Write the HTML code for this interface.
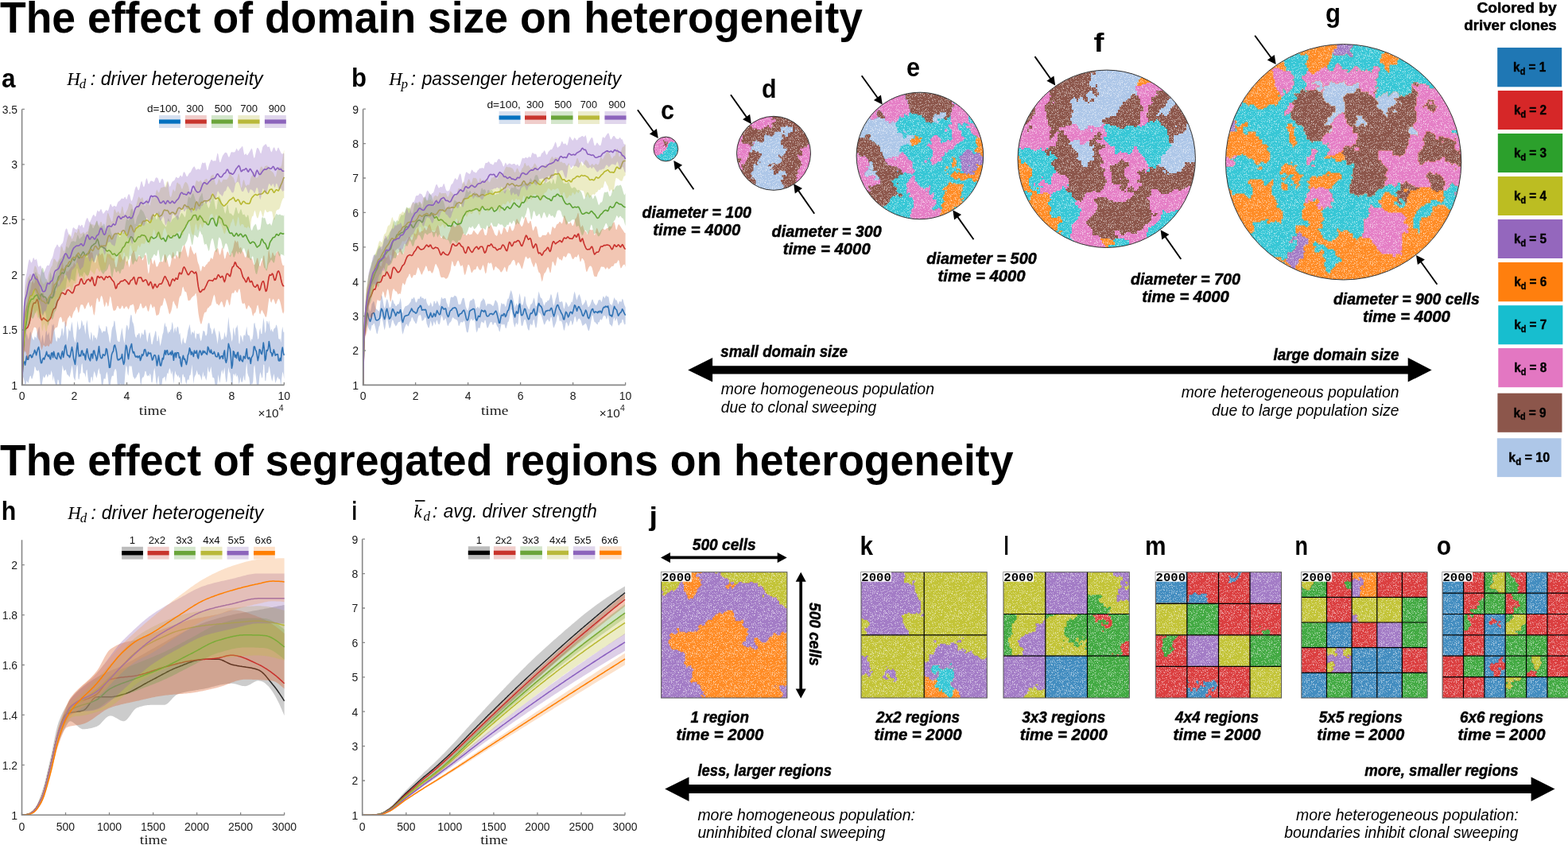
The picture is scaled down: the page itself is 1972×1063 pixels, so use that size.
<!DOCTYPE html>
<html><head><meta charset="utf-8"><title>The effect of domain size on heterogeneity</title>
<style>
html,body{margin:0;padding:0;background:#fff;}
body{width:1972px;height:1063px;overflow:hidden;}
svg{display:block;}
svg{font-family:'Liberation Sans', Arial, sans-serif;}
</style></head><body>
<svg width="1972" height="1063" viewBox="0 0 1972 1063">
<rect width="1972" height="1063" fill="#fff"/>
<defs>
<clipPath id="pc0"><rect x="27.6" y="135.4" width="330.7" height="349"/></clipPath>
<clipPath id="pc1"><rect x="456.6" y="135.2" width="331" height="349.2"/></clipPath>
<clipPath id="pc2"><rect x="27.5" y="677.2" width="331.1" height="348"/></clipPath>
<clipPath id="pc3"><rect x="455.7" y="676.2" width="331.3" height="349.2"/></clipPath>
<pattern id="spk" width="47" height="47" patternUnits="userSpaceOnUse"><path d="M31,37.5h1M1,37.5h1M22,24.5h1M29,13.5h1M46,2.5h1M13,18.5h1M26,19.5h1M6,2.5h1M0,2.5h1M6,46.5h1M8,30.5h1M35,11.5h1M13,20.5h1M12,45.5h1M8,42.5h1M37,39.5h1M5,18.5h1M29,23.5h1M31,31.5h1M31,2.5h1M45,26.5h1M42,12.5h1M16,41.5h1M8,3.5h1M17,31.5h1M5,40.5h1M16,10.5h1M25,42.5h1M41,40.5h1M14,0.5h1M36,33.5h1M36,0.5h1M1,23.5h1M15,20.5h1M43,9.5h1M24,15.5h1M13,37.5h1M7,14.5h1M5,7.5h1M13,32.5h1M27,21.5h1M7,37.5h1M37,11.5h1M2,15.5h1M6,37.5h1M24,23.5h1M13,23.5h1M45,11.5h1M36,0.5h1M14,43.5h1M40,4.5h1M39,39.5h1M21,17.5h1M46,44.5h1M31,18.5h1M9,44.5h1M12,26.5h1M31,11.5h1M14,34.5h1M9,31.5h1M44,32.5h1M30,21.5h1M45,10.5h1M16,30.5h1M30,5.5h1M7,32.5h1M39,29.5h1M43,17.5h1M15,37.5h1M1,9.5h1M9,18.5h1M7,37.5h1M39,17.5h1M1,33.5h1M5,28.5h1M8,44.5h1M31,46.5h1M28,34.5h1M17,38.5h1M5,7.5h1M16,33.5h1M22,39.5h1M44,18.5h1M19,26.5h1M30,22.5h1M28,45.5h1M34,14.5h1M19,18.5h1M7,0.5h1M37,19.5h1M16,29.5h1M26,43.5h1M28,43.5h1M27,15.5h1M15,46.5h1M27,8.5h1M39,38.5h1M0,7.5h1M32,19.5h1M16,3.5h1M8,40.5h1M39,38.5h1M26,6.5h1M15,24.5h1M46,12.5h1M25,23.5h1M23,26.5h1M33,4.5h1M46,40.5h1M36,13.5h1M20,21.5h1M14,2.5h1M34,0.5h1M35,9.5h1M30,16.5h1M11,43.5h1M22,41.5h1M8,22.5h1M16,21.5h1M0,31.5h1M16,40.5h1M10,15.5h1M2,37.5h1M25,18.5h1M43,27.5h1M45,34.5h1M27,23.5h1M9,32.5h1M37,32.5h1M19,0.5h1M34,1.5h1M37,7.5h1M14,10.5h1M25,9.5h1M12,2.5h1M46,10.5h1M9,28.5h1M6,41.5h1M36,16.5h1M18,17.5h1M34,19.5h1M13,31.5h1M6,36.5h1M20,44.5h1M12,17.5h1M40,33.5h1M1,16.5h1M0,38.5h1M19,10.5h1M34,40.5h1M4,23.5h1M17,34.5h1M43,25.5h1M35,14.5h1M27,23.5h1M34,2.5h1M11,2.5h1M46,24.5h1M22,22.5h1M1,39.5h1M39,0.5h1M29,26.5h1M17,23.5h1M41,28.5h1M22,34.5h1M32,24.5h1M38,26.5h1M29,23.5h1M27,28.5h1M42,11.5h1M17,25.5h1M15,31.5h1M38,8.5h1M2,46.5h1M23,35.5h1M35,44.5h1M1,13.5h1M46,20.5h1M18,12.5h1M0,2.5h1M45,0.5h1M6,11.5h1M13,40.5h1M15,7.5h1M18,32.5h1M21,11.5h1M5,3.5h1M23,9.5h1M27,31.5h1M17,23.5h1M2,25.5h1M8,21.5h1M5,12.5h1M19,22.5h1M1,43.5h1M19,9.5h1M9,34.5h1M20,11.5h1M21,9.5h1M7,15.5h1M45,4.5h1M25,43.5h1M21,17.5h1M26,8.5h1M32,0.5h1M26,2.5h1M1,10.5h1M33,19.5h1M19,28.5h1M3,46.5h1M22,41.5h1M35,11.5h1M14,28.5h1M39,43.5h1M22,4.5h1M46,40.5h1M33,18.5h1M6,36.5h1M9,15.5h1M40,29.5h1M14,23.5h1M28,4.5h1M12,35.5h1M29,38.5h1M34,22.5h1M14,18.5h1M9,44.5h1M1,17.5h1M3,41.5h1M30,19.5h1M37,17.5h1M21,16.5h1M35,2.5h1M25,13.5h1M45,10.5h1M18,2.5h1M23,25.5h1M35,20.5h1M11,1.5h1M42,7.5h1M36,43.5h1M15,6.5h1M32,17.5h1M1,44.5h1M42,5.5h1M34,19.5h1M3,37.5h1M40,0.5h1M4,3.5h1M45,43.5h1M39,32.5h1M4,12.5h1M24,22.5h1M4,11.5h1M32,41.5h1M5,44.5h1M14,3.5h1M43,24.5h1M31,8.5h1M42,19.5h1M17,34.5h1M35,33.5h1M10,8.5h1M26,15.5h1M1,19.5h1M36,18.5h1M19,32.5h1M45,37.5h1M6,15.5h1M25,20.5h1M10,3.5h1M30,17.5h1M14,44.5h1M38,23.5h1M42,26.5h1M43,28.5h1M16,26.5h1M32,37.5h1M45,12.5h1M4,14.5h1M27,41.5h1M42,23.5h1M2,45.5h1M10,6.5h1M10,36.5h1M25,22.5h1M16,22.5h1M33,41.5h1M44,6.5h1M34,24.5h1M17,11.5h1M3,16.5h1M10,38.5h1M41,18.5h1M18,36.5h1M7,0.5h1M9,46.5h1M20,44.5h1M1,31.5h1M12,9.5h1M29,30.5h1M36,8.5h1M39,17.5h1M2,1.5h1M4,3.5h1M30,7.5h1M24,8.5h1M35,39.5h1M39,11.5h1M20,38.5h1M38,0.5h1M31,2.5h1M29,2.5h1M27,43.5h1M19,38.5h1M13,0.5h1M24,43.5h1M33,10.5h1M12,12.5h1M26,27.5h1M27,9.5h1M34,45.5h1M9,17.5h1M21,26.5h1M41,26.5h1M45,13.5h1M30,34.5h1M39,46.5h1M22,27.5h1M34,3.5h1M34,37.5h1M26,31.5h1M37,23.5h1M3,30.5h1M28,12.5h1M20,14.5h1M5,24.5h1M19,3.5h1M13,27.5h1M2,8.5h1M12,11.5h1M46,42.5h1M15,27.5h1M20,11.5h1M7,32.5h1M33,46.5h1M16,42.5h1M43,37.5h1M38,15.5h1M28,27.5h1M19,27.5h1M21,4.5h1M20,32.5h1M39,24.5h1M0,24.5h1M17,34.5h1M31,3.5h1M44,9.5h1M24,46.5h1M4,14.5h1M37,11.5h1M30,3.5h1M6,14.5h1M23,26.5h1M21,1.5h1M27,13.5h1M20,12.5h1M1,7.5h1M16,37.5h1M38,45.5h1M13,43.5h1M19,20.5h1M10,3.5h1M36,16.5h1M31,24.5h1M21,17.5h1M5,34.5h1M41,34.5h1M22,42.5h1M46,22.5h1M6,11.5h1M31,42.5h1M21,41.5h1M4,5.5h1M22,9.5h1M14,31.5h1M43,38.5h1M11,45.5h1M0,0.5h1M40,8.5h1M38,19.5h1M26,25.5h1M26,36.5h1M33,26.5h1M39,24.5h1M4,11.5h1M0,30.5h1M11,27.5h1M3,44.5h1M38,8.5h1M26,5.5h1M32,16.5h1M26,15.5h1M24,21.5h1M17,8.5h1M10,33.5h1M41,38.5h1M28,0.5h1M37,42.5h1M14,4.5h1M10,14.5h1M17,22.5h1M16,19.5h1M17,10.5h1M29,34.5h1M27,39.5h1M7,10.5h1M7,7.5h1M13,24.5h1M9,6.5h1M0,44.5h1M14,40.5h1M28,39.5h1M1,19.5h1M36,36.5h1M9,18.5h1M44,21.5h1M36,4.5h1M31,1.5h1M31,31.5h1M8,9.5h1M11,44.5h1M43,26.5h1M42,27.5h1M28,42.5h1M16,13.5h1M28,0.5h1M16,10.5h1M0,21.5h1M25,7.5h1M26,13.5h1M7,34.5h1M21,17.5h1M44,16.5h1M40,10.5h1M29,24.5h1M7,46.5h1M45,7.5h1M16,39.5h1M4,36.5h1M13,28.5h1M23,25.5h1M13,24.5h1M24,4.5h1M34,26.5h1M22,46.5h1M11,34.5h1M8,21.5h1M41,20.5h1M20,40.5h1M14,0.5h1M1,9.5h1M26,45.5h1M45,30.5h1M13,38.5h1M17,25.5h1M37,1.5h1M24,25.5h1M11,29.5h1M33,4.5h1M44,22.5h1M32,44.5h1M39,2.5h1M23,2.5h1M46,4.5h1M5,32.5h1M18,41.5h1M14,7.5h1M23,39.5h1M28,10.5h1M34,25.5h1M29,35.5h1M34,5.5h1M3,22.5h1M18,40.5h1M9,16.5h1M10,37.5h1M15,21.5h1M36,44.5h1M6,18.5h1M37,38.5h1M37,3.5h1M31,15.5h1M9,6.5h1M45,18.5h1M32,19.5h1M43,11.5h1M41,19.5h1M39,32.5h1M30,27.5h1M4,11.5h1M5,33.5h1M7,33.5h1M0,19.5h1M36,21.5h1M45,8.5h1M18,39.5h1M31,16.5h1M19,13.5h1M36,43.5h1M26,14.5h1M0,9.5h1M40,17.5h1M44,24.5h1M35,28.5h1M33,18.5h1M22,32.5h1M18,1.5h1M11,43.5h1M8,21.5h1M22,21.5h1M30,20.5h1M39,12.5h1M26,38.5h1M45,21.5h1M37,4.5h1M27,16.5h1M40,22.5h1M20,16.5h1M15,4.5h1M22,41.5h1M24,7.5h1M40,34.5h1M1,19.5h1M30,23.5h1M16,31.5h1M44,0.5h1M15,23.5h1M6,21.5h1M20,20.5h1M30,0.5h1M21,0.5h1M32,23.5h1M9,21.5h1M43,15.5h1M13,5.5h1M23,17.5h1M44,31.5h1M23,38.5h1M36,35.5h1M31,0.5h1M0,15.5h1M28,22.5h1M30,38.5h1M33,26.5h1M39,37.5h1M45,32.5h1M33,3.5h1M42,46.5h1M46,26.5h1" stroke="#fff" stroke-width="1" stroke-opacity="0.38"/></pattern>
<clipPath id="cc"><circle cx="837.4" cy="187.5" r="15.4"/></clipPath>
<clipPath id="cd"><circle cx="973" cy="192.8" r="46.5"/></clipPath>
<clipPath id="ce"><circle cx="1156.9" cy="196" r="79.8"/></clipPath>
<clipPath id="cf"><circle cx="1391.7" cy="199.8" r="111.7"/></clipPath>
<clipPath id="cg"><circle cx="1689.6" cy="203.8" r="148.2"/></clipPath>
<clipPath id="sj"><rect x="831.6" y="719.7" width="158.3" height="158.3"/></clipPath>
<clipPath id="sk"><rect x="1083" y="719.7" width="158.3" height="158.3"/></clipPath>
<clipPath id="sl"><rect x="1262" y="719.7" width="158.3" height="158.3"/></clipPath>
<clipPath id="sm"><rect x="1453.3" y="719.7" width="158.3" height="158.3"/></clipPath>
<clipPath id="sn"><rect x="1636.8" y="719.7" width="158.3" height="158.3"/></clipPath>
<clipPath id="so"><rect x="1814.1" y="719.7" width="158.3" height="158.3"/></clipPath>
</defs>
<text x="0" y="40.6" font-size="54.6" font-weight="bold" textLength="1085" lengthAdjust="spacingAndGlyphs">The effect of domain size on heterogeneity</text>
<text x="0" y="597.9" font-size="54.6" font-weight="bold" textLength="1274.5" lengthAdjust="spacingAndGlyphs">The effect of segregated regions on heterogeneity</text>
<text x="2" y="109.5" font-size="33" font-weight="bold" textLength="17.5" lengthAdjust="spacingAndGlyphs">a</text>
<text x="442" y="109" font-size="33" font-weight="bold" textLength="19" lengthAdjust="spacingAndGlyphs">b</text>
<text x="831" y="149.7" font-size="33" font-weight="bold" textLength="17" lengthAdjust="spacingAndGlyphs">c</text>
<text x="958" y="122.6" font-size="33" font-weight="bold" textLength="18.5" lengthAdjust="spacingAndGlyphs">d</text>
<text x="1140" y="95.8" font-size="33" font-weight="bold" textLength="17" lengthAdjust="spacingAndGlyphs">e</text>
<text x="1375.5" y="65" font-size="33" font-weight="bold" textLength="13" lengthAdjust="spacingAndGlyphs">f</text>
<text x="1667" y="28" font-size="33" font-weight="bold" textLength="19" lengthAdjust="spacingAndGlyphs">g</text>
<text x="1.8" y="654.3" font-size="33" font-weight="bold" textLength="18.5" lengthAdjust="spacingAndGlyphs">h</text>
<text x="442.6" y="653.9" font-size="33" font-weight="bold" textLength="6.5" lengthAdjust="spacingAndGlyphs">i</text>
<text x="816.6" y="661" font-size="33" font-weight="bold" textLength="10.5" lengthAdjust="spacingAndGlyphs">j</text>
<text x="1081.5" y="697.7" font-size="33" font-weight="bold" textLength="16.5" lengthAdjust="spacingAndGlyphs">k</text>
<text x="1262.4" y="697.6" font-size="33" font-weight="bold" textLength="6.3" lengthAdjust="spacingAndGlyphs">l</text>
<text x="1440" y="697.6" font-size="33" font-weight="bold" textLength="26.5" lengthAdjust="spacingAndGlyphs">m</text>
<text x="1628.6" y="697.6" font-size="33" font-weight="bold" textLength="16.5" lengthAdjust="spacingAndGlyphs">n</text>
<text x="1806.7" y="697.6" font-size="33" font-weight="bold" textLength="18.3" lengthAdjust="spacingAndGlyphs">o</text>
<g clip-path="url(#pc0)">
<polygon points="27.6,484.4 28.6,455.7 29.6,444.8 30.6,438.5 31.6,431.8 32.6,423 33.6,418.9 34.6,423.3 35.6,427.4 36.6,423.5 37.6,418.7 38.6,417 39.6,421.2 40.6,425.3 41.6,426.7 42.6,428.1 43.6,423.3 44.6,424.1 45.6,426.1 46.6,418.7 47.6,416.4 48.6,412.6 49.6,410.8 50.6,424.3 51.6,431.5 52.6,425 53.6,420.7 54.6,427.2 55.6,433.1 56.6,426 57.6,417.8 58.6,415.5 59.6,422 60.6,420.4 61.6,417.4 62.6,426.4 63.6,429.9 64.6,417.8 65.6,407.4 66.6,409.9 67.6,407.1 68.6,416 69.6,423.7 70.6,429 71.6,429.7 72.6,424.3 73.6,424.9 74.6,426.3 75.6,423.8 76.6,421.4 77.6,413.3 78.6,413.2 79.6,423.1 80.6,416 81.6,405.8 82.6,404.7 83.5,418.5 84.5,429.8 85.5,422.6 86.5,412.9 87.5,416.3 88.5,416.7 89.5,409.5 90.5,404.6 91.5,412.3 92.5,423.5 93.5,427.2 94.5,431.6 95.5,425 96.5,415.3 97.5,403.3 98.5,410.4 99.5,415.3 100.5,413.8 101.5,412.2 102.5,402.6 103.5,404.7 104.5,410.4 105.5,407.8 106.5,414.6 107.5,420.7 108.5,407.8 109.5,402.3 110.5,411.7 111.5,419.8 112.5,425.1 113.5,428.1 114.5,417.2 115.5,420.1 116.5,430.1 117.5,421.2 118.5,422.1 119.5,425.5 120.5,424 121.5,427.8 122.5,423.6 123.5,417.7 124.5,407.9 125.5,412.8 126.5,413.4 127.5,416.2 128.5,419.2 129.5,416.8 130.5,416.6 131.5,416.7 132.5,417.1 133.5,410 134.5,411.1 135.5,417.9 136.5,421.5 137.5,428.7 138.5,432 139.5,424.7 140.5,415.5 141.5,411.6 142.5,409.9 143.5,403.3 144.5,404.6 145.5,413.8 146.5,419.7 147.5,427.9 148.5,429.4 149.5,430.1 150.5,429.9 151.5,422.3 152.5,417 153.5,412 154.5,420.7 155.5,427.2 156.5,432.2 157.5,424.1 158.5,412.3 159.5,408.5 160.5,410.2 161.5,415.7 162.5,411.5 163.5,400.8 164.5,396 165.5,396.6 166.5,404.8 167.5,406.5 168.5,410.5 169.5,419.6 170.5,423.8 171.5,425 172.5,421.1 173.5,421.3 174.5,419.1 175.5,419.6 176.5,426.4 177.5,421.9 178.5,418.1 179.5,421 180.5,421.2 181.5,415.1 182.5,414.6 183.5,418.4 184.5,427.1 185.5,430.9 186.5,423.2 187.5,418.9 188.5,418.1 189.5,424.4 190.5,432.9 191.5,433.3 192.4,428.5 193.4,424.3 194.4,421 195.4,415.9 196.4,417.6 197.4,429.2 198.4,428.9 199.4,421.2 200.4,427.7 201.4,435.4 202.4,431.8 203.4,426.7 204.4,420.9 205.4,418.1 206.4,410.2 207.4,405.6 208.4,411.1 209.4,410.6 210.4,416 211.4,420 212.4,417.1 213.4,418 214.4,415.1 215.4,414.1 216.4,404.8 217.4,408.1 218.4,419.4 219.4,413.8 220.4,411.7 221.4,418.1 222.4,412.3 223.4,410.4 224.4,412.7 225.4,421.2 226.4,418.4 227.4,427.7 228.4,434.1 229.4,428.3 230.4,424.3 231.4,430.6 232.4,431.8 233.4,432 234.4,427.3 235.4,422.3 236.4,415.4 237.4,412.5 238.4,407.7 239.4,413.2 240.4,421.9 241.4,417.3 242.4,417.8 243.4,419.7 244.4,415 245.4,424.6 246.4,427.1 247.4,419.3 248.4,419.9 249.4,420.4 250.4,418.4 251.4,424.8 252.4,429.3 253.4,427.5 254.4,421.8 255.4,415.7 256.4,416.6 257.4,416.8 258.4,422.1 259.4,422.5 260.4,419.5 261.4,407.8 262.4,406.1 263.4,406.7 264.4,412.6 265.4,413.7 266.4,420.4 267.4,419.4 268.4,415.1 269.4,411.9 270.4,416.2 271.4,420 272.4,424.6 273.4,433.1 274.4,426.5 275.4,415.8 276.4,418.1 277.4,423.4 278.4,428.3 279.4,426 280.4,427.2 281.4,424.7 282.4,417.5 283.4,423 284.4,425 285.4,420.5 286.4,409.6 287.4,398.5 288.4,410.1 289.4,416.7 290.4,420.9 291.4,430.1 292.4,426.8 293.4,411.5 294.4,416.8 295.4,423.1 296.4,412.8 297.4,412.1 298.4,408.6 299.4,416.1 300.4,431.6 301.4,433 302.4,421.6 303.3,422.8 304.3,426 305.3,430.6 306.3,422.3 307.3,421 308.3,423.1 309.3,416.5 310.3,410.5 311.3,420.3 312.3,422.1 313.3,421.8 314.3,424.6 315.3,430.4 316.3,425.9 317.3,427.4 318.3,420.8 319.3,407.2 320.3,405.7 321.3,411.6 322.3,413.9 323.3,419.2 324.3,427 325.3,425.7 326.3,416 327.3,412.5 328.3,419.7 329.3,420.2 330.3,409.8 331.3,399.4 332.3,405.9 333.3,419.5 334.3,416.1 335.3,403.7 336.3,404.1 337.3,408.6 338.3,402.9 339.3,409.8 340.3,417.1 341.3,413.5 342.3,416.2 343.3,418.1 344.3,414 345.3,412.7 346.3,412.3 347.3,408.2 348.3,409.9 349.3,415.1 350.3,425.8 351.3,426.9 352.3,425.7 353.3,431.2 354.3,416.9 355.3,410.8 356.3,417.7 357.3,417.8 357.3,476.8 356.3,470.5 355.3,467.4 354.3,475.9 353.3,485.9 352.3,477.7 351.3,476.5 350.3,476.6 349.3,473.5 348.3,476.3 347.3,479.4 346.3,481.9 345.3,474.3 344.3,470 343.3,475.4 342.3,480 341.3,475.7 340.3,471.1 339.3,464 338.3,460.2 337.3,468.1 336.3,469.3 335.3,468.9 334.3,479.1 333.3,479.1 332.3,459 331.3,458.6 330.3,473.7 329.3,476.1 328.3,471.3 327.3,468 326.3,473.7 325.3,486.4 324.3,493.9 323.3,488.5 322.3,478.1 321.3,469.8 320.3,459 319.3,461.8 318.3,479.4 317.3,483.3 316.3,482.5 315.3,491.5 314.3,482.9 313.3,475.1 312.3,472.7 311.3,469.2 310.3,455.6 309.3,464.6 308.3,479.1 307.3,477.8 306.3,471.9 305.3,478.9 304.3,481.2 303.3,480 302.4,474.3 301.4,480.5 300.4,483.4 299.4,475.2 298.4,471.4 297.4,474.4 296.4,468.9 295.4,473.4 294.4,470.3 293.4,470.7 292.4,486.4 291.4,488.9 290.4,477.3 289.4,469.4 288.4,468.1 287.4,461.8 286.4,470.5 285.4,480.1 284.4,480.9 283.4,474.2 282.4,462 281.4,466.7 280.4,471 279.4,465 278.4,468 277.4,475.1 276.4,481.9 275.4,476.6 274.4,471 273.4,481.7 272.4,486.9 271.4,487.8 270.4,483.6 269.4,476 268.4,475.1 267.4,475.1 266.4,469.9 265.4,460.9 264.4,465 263.4,468.8 262.4,466.9 261.4,461.1 260.4,473.1 259.4,478.8 258.4,475.9 257.4,471.7 256.4,474.7 255.4,467.3 254.4,473.4 253.4,478.8 252.4,473.9 251.4,472.3 250.4,470.4 249.4,471.8 248.4,468.7 247.4,465.6 246.4,470.7 245.4,472.4 244.4,474.7 243.4,482.9 242.4,470.5 241.4,458.6 240.4,467.4 239.4,471.9 238.4,472.3 237.4,478.5 236.4,477 235.4,478.6 234.4,483.6 233.4,480.3 232.4,474.3 231.4,474.4 230.4,470.4 229.4,471.6 228.4,482.5 227.4,482.3 226.4,474.3 225.4,475.5 224.4,471.6 223.4,474.2 222.4,471.5 221.4,471.1 220.4,466.2 219.4,472.7 218.4,483 217.4,473.7 216.4,466.6 215.4,471.7 214.4,465.9 213.4,463 212.4,465.7 211.4,470.4 210.4,469.1 209.4,474.3 208.4,480.6 207.4,473.4 206.4,474.4 205.4,475.8 204.4,476.1 203.4,484.7 202.4,492.7 201.4,492.8 200.4,482.5 199.4,472.3 198.4,475.9 197.4,484.5 196.4,480.9 195.4,471 194.4,462.8 193.4,466.5 192.4,475.6 191.5,481.3 190.5,480.9 189.5,472.1 188.5,469.5 187.5,473.7 186.5,471.8 185.5,473.5 184.5,471.8 183.5,467.2 182.5,466.8 181.5,471.7 180.5,474.4 179.5,474.5 178.5,476.6 177.5,484.4 176.5,481.5 175.5,470.6 174.5,468.1 173.5,470.6 172.5,471.8 171.5,474.4 170.5,475.3 169.5,477.3 168.5,475 167.5,474 166.5,468 165.5,459.8 164.5,461.8 163.5,459.6 162.5,461.6 161.5,472.7 160.5,470.5 159.5,462.1 158.5,459.4 157.5,469.1 156.5,482.6 155.5,488.5 154.5,487.1 153.5,482.4 152.5,486.6 151.5,482 150.5,484.8 149.5,490 148.5,490.8 147.5,481.7 146.5,466.9 145.5,464 144.5,464.8 143.5,467.8 142.5,473.2 141.5,472.6 140.5,473.7 139.5,477.9 138.5,485.6 137.5,490.8 136.5,481.9 135.5,472.3 134.5,467.6 133.5,470.4 132.5,477.1 131.5,476.2 130.5,476.6 129.5,483.5 128.5,489.9 127.5,481.3 126.5,470.8 125.5,469.9 124.5,463 123.5,465.8 122.5,471 121.5,475.8 120.5,472.7 119.5,469.4 118.5,466.7 117.5,471.4 116.5,480.4 115.5,473.8 114.5,474.5 113.5,481.6 112.5,481.3 111.5,480.7 110.5,474.5 109.5,464.9 108.5,466 107.5,475 106.5,469.7 105.5,469.4 104.5,468.5 103.5,456.9 102.5,458.8 101.5,469.3 100.5,470.3 99.5,477.6 98.5,476.5 97.5,459 96.5,461.3 95.5,469.2 94.5,479 93.5,477.1 92.5,474.2 91.5,465 90.5,459.3 89.5,465.4 88.5,470 87.5,474.7 86.5,472.9 85.5,471.6 84.5,471.5 83.5,468.1 82.6,464.7 81.6,465.8 80.6,466.8 79.6,464.1 78.6,459.3 77.6,471.8 76.6,487.9 75.6,488.3 74.6,484.4 73.6,478.1 72.6,477.6 71.6,486.3 70.6,486.3 69.6,482.9 68.6,478.7 67.6,472.5 66.6,479.5 65.6,470.1 64.6,466.1 63.6,471.1 62.6,472.2 61.6,470.3 60.6,472.9 59.6,475.1 58.6,470.4 57.6,471.7 56.6,474.4 55.6,475.5 54.6,473 53.6,478.1 52.6,484.6 51.6,488.4 50.6,481.9 49.6,469.5 48.6,465.1 47.6,467 46.6,466.1 45.6,466.2 44.6,462 43.6,460.9 42.6,469.4 41.6,472.7 40.6,476.5 39.6,476.5 38.6,472.6 37.6,473.5 36.6,477.2 35.6,482.1 34.6,480.7 33.6,478.4 32.6,483 31.6,485.9 30.6,479.2 29.6,475.5 28.6,472.9 27.6,484.4" fill="#3a5fb0" fill-opacity="0.3"/>
<polyline points="27.6,484.4 28.6,462.5 29.6,456.4 30.6,455 31.6,459.1 32.6,453.5 33.6,448 34.6,452.2 35.6,452.3 36.6,447.9 37.6,446.8 38.6,446.5 39.6,449.8 40.6,449.2 41.6,445.6 42.6,444.4 43.6,440.4 44.6,442.5 45.6,446.7 46.6,442.6 47.6,438.8 48.6,436.6 49.6,441.4 50.6,451.2 51.6,456.7 52.6,456.4 53.6,451.9 54.6,450.3 55.6,452.2 56.6,449.1 57.6,446.4 58.6,442.4 59.6,446.9 60.6,448.3 61.6,446.3 62.6,450.4 63.6,452 64.6,444.3 65.6,443.9 66.6,449.7 67.6,442.3 68.6,446.4 69.6,449.9 70.6,450.6 71.6,451.6 72.6,444.5 73.6,444 74.6,448.1 75.6,449.9 76.6,451.7 77.6,444.7 78.6,441.8 79.6,449.5 80.6,444.6 81.6,436 82.6,434 83.5,439.8 84.5,446.1 85.5,447.4 86.5,447.4 87.5,449.6 88.5,447.1 89.5,441.3 90.5,436.6 91.5,442 92.5,450.7 93.5,454.5 94.5,458.5 95.5,448.8 96.5,438.5 97.5,431.3 98.5,442.9 99.5,448.4 100.5,446.6 101.5,448 102.5,441.5 103.5,441.1 104.5,446.9 105.5,444.9 106.5,447.5 107.5,452.7 108.5,443.2 109.5,438.9 110.5,444.8 111.5,449.8 112.5,452 113.5,453.9 114.5,445.6 115.5,445.3 116.5,450.8 117.5,441.5 118.5,441 119.5,446 120.5,447.9 121.5,453.6 122.5,450.7 123.5,442.8 124.5,435.7 125.5,445.7 126.5,449.4 127.5,450.7 128.5,450.2 129.5,445.8 130.5,446.4 131.5,447.4 132.5,445.7 133.5,438.6 134.5,439.8 135.5,446.6 136.5,452.7 137.5,462.5 138.5,462.1 139.5,453.5 140.5,446 141.5,443.2 142.5,441.7 143.5,435.1 144.5,434 145.5,437.9 146.5,442.6 147.5,451 148.5,453.1 149.5,452 150.5,452.5 151.5,450.6 152.5,450.6 153.5,445.6 154.5,453.6 155.5,458.4 156.5,455.4 157.5,442.2 158.5,434.2 159.5,436.9 160.5,445.5 161.5,451.6 162.5,444.4 163.5,438.8 164.5,435.5 165.5,432.6 166.5,440.8 167.5,444 168.5,442.6 169.5,446.6 170.5,448.9 171.5,449 172.5,447.9 173.5,450 174.5,448.4 175.5,447.7 176.5,453.5 177.5,450.8 178.5,445.8 179.5,447.5 180.5,445.3 181.5,439.9 182.5,439.6 183.5,443 184.5,447.9 185.5,447.7 186.5,443 187.5,444.9 188.5,444.5 189.5,444 190.5,448.9 191.5,453 192.4,451.8 193.4,447.9 194.4,446.6 195.4,447.2 196.4,451.4 197.4,460 198.4,455.2 199.4,447 200.4,452.3 201.4,459.5 202.4,460.1 203.4,455.7 204.4,450.5 205.4,451.9 206.4,445.4 207.4,440.9 208.4,446.2 209.4,441.1 210.4,440.6 211.4,446 212.4,445.9 213.4,445.2 214.4,443.2 215.4,446.4 216.4,441.3 217.4,445.2 218.4,453.3 219.4,445.1 220.4,443.8 221.4,449.7 222.4,443.6 223.4,443.7 224.4,443.9 225.4,450.1 226.4,449.1 227.4,457.6 228.4,461 229.4,451.4 230.4,447.2 231.4,452.2 232.4,451.3 233.4,455 234.4,458.6 235.4,454 236.4,446.5 237.4,444.6 238.4,437.8 239.4,440.4 240.4,446.2 241.4,442.7 242.4,445.2 243.4,448.4 244.4,441.1 245.4,444.1 246.4,444.1 247.4,441.1 248.4,448.7 249.4,450.9 250.4,444 251.4,441 252.4,442.5 253.4,446.6 254.4,445.4 255.4,441.2 256.4,443.7 257.4,441.9 258.4,443.8 259.4,445.1 260.4,445.9 261.4,436.4 262.4,438.1 263.4,441.9 264.4,443.7 265.4,440.1 266.4,444.3 267.4,445.2 268.4,444.8 269.4,442.4 270.4,445.4 271.4,448.5 272.4,448.7 273.4,448.8 274.4,443.7 275.4,446.5 276.4,451.5 277.4,449.5 278.4,448 279.4,447.7 280.4,451.3 281.4,444.4 282.4,440.9 283.4,452.9 284.4,456.2 285.4,452 286.4,442.6 287.4,432.4 288.4,436.3 289.4,439.3 290.4,449.5 291.4,463.3 292.4,459 293.4,441.9 294.4,442.8 295.4,449.2 296.4,446.6 297.4,450.6 298.4,444 299.4,443.2 300.4,452.6 301.4,454 302.4,447.2 303.3,452.4 304.3,453.9 305.3,454.8 306.3,448.3 307.3,448.9 308.3,451.1 309.3,444.2 310.3,438.7 311.3,450.1 312.3,451.6 313.3,449.5 314.3,451.1 315.3,457.4 316.3,449.8 317.3,448.4 318.3,446 319.3,436 320.3,436 321.3,440.4 322.3,441.6 323.3,447.3 324.3,453.7 325.3,449 326.3,439.6 327.3,440.1 328.3,444.4 329.3,445.6 330.3,439.7 331.3,431 332.3,438.4 333.3,453.8 334.3,451.4 335.3,440.5 336.3,441.3 337.3,438.8 338.3,429.5 339.3,435.5 340.3,443.2 341.3,443.7 342.3,448 343.3,445.1 344.3,439.9 345.3,443.1 346.3,447.2 347.3,446.2 348.3,445.6 349.3,445.7 350.3,453.5 351.3,454.1 352.3,450.5 353.3,453.8 354.3,441.7 355.3,437 356.3,444 357.3,447" fill="none" stroke="#2f72b4" stroke-width="1.6" stroke-linejoin="round"/>
<polygon points="27.6,484.4 28.6,451.8 29.6,420.9 30.6,399.6 31.6,390.7 32.6,388.8 33.6,384.9 34.6,380.9 35.6,375 36.6,368.5 37.6,366.2 38.6,364.1 39.6,358 40.6,353.3 41.6,354.4 42.6,356.9 43.6,355.2 44.6,350.7 45.6,347.3 46.6,347 47.6,348.2 48.6,352.2 49.6,358.6 50.6,365.8 51.6,370.4 52.6,370.5 53.6,368.6 54.6,368.3 55.6,371.8 56.6,375.5 57.6,377 58.6,377.1 59.6,375.9 60.6,375.7 61.6,379.1 62.6,379.5 63.6,372 64.6,362.1 65.6,355.8 66.6,353.2 67.6,354.9 68.6,360.5 69.6,365.7 70.6,366.2 71.6,360.1 72.6,355.8 73.6,358.1 74.6,358.9 75.6,352.4 76.6,341.1 77.6,331 78.6,327.9 79.6,334.7 80.6,346.2 81.6,351 82.6,345.9 83.5,340.9 84.5,341.4 85.5,341.8 86.5,340.2 87.5,338.9 88.5,337.7 89.5,336.1 90.5,335.5 91.5,334.9 92.5,331.9 93.5,329.9 94.5,332.4 95.5,333 96.5,327.7 97.5,323 98.5,323.3 99.5,324.5 100.5,323.1 101.5,320.7 102.5,320.7 103.5,322.4 104.5,323.6 105.5,322.9 106.5,321.3 107.5,321.8 108.5,323.2 109.5,324.1 110.5,323.1 111.5,316.5 112.5,312.7 113.5,316.4 114.5,318.3 115.5,316.7 116.5,318.8 117.5,324.8 118.5,329.1 119.5,331.1 120.5,329.7 121.5,324.8 122.5,321.5 123.5,320 124.5,318.3 125.5,319.8 126.5,321.2 127.5,319.2 128.5,318.4 129.5,319.8 130.5,324 131.5,330 132.5,330.7 133.5,324.8 134.5,319.7 135.5,318.7 136.5,319.8 137.5,319.9 138.5,319.8 139.5,321.7 140.5,323.9 141.5,325 142.5,324.8 143.5,325.5 144.5,330.7 145.5,336 146.5,335.9 147.5,331 148.5,325.3 149.5,321.1 150.5,319 151.5,320.4 152.5,323.3 153.5,325.5 154.5,327.2 155.5,325.2 156.5,321.8 157.5,323.5 158.5,328.9 159.5,329.2 160.5,327.3 161.5,332 162.5,336.6 163.5,332.8 164.5,325 165.5,320 166.5,318 167.5,315.5 168.5,315.1 169.5,318.9 170.5,324.4 171.5,327.5 172.5,325.9 173.5,323.3 174.5,322.2 175.5,322.1 176.5,322.5 177.5,323.4 178.5,326.1 179.5,327.7 180.5,325.4 181.5,321.7 182.5,320.4 183.5,321 184.5,326.4 185.5,337.3 186.5,344.6 187.5,342.4 188.5,332.8 189.5,325.2 190.5,325.4 191.5,330.7 192.4,332.8 193.4,328.4 194.4,326.4 195.4,330.8 196.4,335.2 197.4,335.8 198.4,334.7 199.4,332.3 200.4,329.7 201.4,329.3 202.4,329.5 203.4,329 204.4,329.7 205.4,328.1 206.4,322.7 207.4,319.4 208.4,321 209.4,324.5 210.4,327.5 211.4,331.5 212.4,335.4 213.4,335.7 214.4,333.1 215.4,327.7 216.4,321.3 217.4,316.8 218.4,318.6 219.4,325.4 220.4,326 221.4,321 222.4,320.6 223.4,323.7 224.4,321.9 225.4,316.9 226.4,316.6 227.4,317.5 228.4,316.4 229.4,314.6 230.4,310.9 231.4,308 232.4,309.1 233.4,312.7 234.4,316.9 235.4,321.1 236.4,324.1 237.4,321 238.4,313.2 239.4,309.1 240.4,310.7 241.4,314.4 242.4,316.6 243.4,319 244.4,320.3 245.4,318.3 246.4,317.4 247.4,321.9 248.4,328.5 249.4,331.4 250.4,333.7 251.4,338.4 252.4,341.5 253.4,339.4 254.4,335 255.4,334.5 256.4,336.1 257.4,336.1 258.4,334.3 259.4,332.7 260.4,332.3 261.4,330.3 262.4,329.2 263.4,329.1 264.4,326.2 265.4,323.9 266.4,325.3 267.4,326.2 268.4,322.2 269.4,317.3 270.4,315.3 271.4,314.7 272.4,313.9 273.4,312.1 274.4,312.9 275.4,317.9 276.4,321 277.4,319.1 278.4,314.4 279.4,310.9 280.4,313.3 281.4,320.4 282.4,325.7 283.4,325 284.4,320.7 285.4,317.2 286.4,316.2 287.4,318.1 288.4,320.8 289.4,321.6 290.4,319.7 291.4,316.8 292.4,314.8 293.4,311.5 294.4,306.3 295.4,302.1 296.4,303.4 297.4,305.5 298.4,302.9 299.4,303.9 300.4,310 301.4,312.9 302.4,311 303.3,311.4 304.3,314.9 305.3,316.6 306.3,317.9 307.3,321.6 308.3,323.9 309.3,323.3 310.3,321.1 311.3,315.8 312.3,312.4 313.3,317.5 314.3,324.3 315.3,325.7 316.3,324.7 317.3,326.1 318.3,330.1 319.3,333.2 320.3,333 321.3,331 322.3,327.8 323.3,324.5 324.3,325.1 325.3,330 326.3,334.6 327.3,334.9 328.3,331 329.3,328.2 330.3,326.8 331.3,321.7 332.3,321.5 333.3,330.8 334.3,338.3 335.3,338.3 336.3,329.5 337.3,318 338.3,314.1 339.3,319.4 340.3,325.3 341.3,323.8 342.3,318.1 343.3,317.4 344.3,320.5 345.3,322.3 346.3,321.2 347.3,318.5 348.3,317 349.3,316.1 350.3,316.4 351.3,318.8 352.3,320.5 353.3,324.5 354.3,329.8 355.3,333.2 356.3,334.3 357.3,333.6 357.3,391.2 356.3,394.8 355.3,393 354.3,388.4 353.3,383.8 352.3,379.5 351.3,376.7 350.3,375.7 349.3,377 348.3,379.5 347.3,382.3 346.3,382.5 345.3,379.2 344.3,376.8 343.3,375.9 342.3,377.8 341.3,380.9 340.3,379.2 339.3,374.8 338.3,375.7 337.3,382.9 336.3,391.3 335.3,397.4 334.3,399.3 333.3,397.7 332.3,395.2 331.3,393.7 330.3,391.4 329.3,389.8 328.3,391.9 327.3,395.5 326.3,394.2 325.3,387.5 324.3,383.5 323.3,384.7 322.3,389.3 321.3,393.2 320.3,393.6 319.3,395 318.3,398 317.3,395.2 316.3,389.4 315.3,387.3 314.3,386.5 313.3,384.5 312.3,384.2 311.3,386.9 310.3,389.3 309.3,387.9 308.3,383.3 307.3,381.1 306.3,381.9 305.3,382.3 304.3,380.8 303.3,375.9 302.4,368.3 301.4,363.5 300.4,363.8 299.4,366.5 298.4,368.4 297.4,367.6 296.4,365.2 295.4,365.3 294.4,368 293.4,369 292.4,368.3 291.4,369.4 290.4,375.2 289.4,382.8 288.4,384.4 287.4,380.8 286.4,377.6 285.4,376.6 284.4,378.8 283.4,383.4 282.4,386.5 281.4,386.5 280.4,383.5 279.4,379.9 278.4,379.1 277.4,380.7 276.4,382.8 275.4,384.4 274.4,383.4 273.4,382.3 272.4,382.5 271.4,379.4 270.4,373.2 269.4,370.4 268.4,372.8 267.4,376.8 266.4,380.5 265.4,383.9 264.4,384.7 263.4,385.5 262.4,387.3 261.4,387.2 260.4,389.3 259.4,392.4 258.4,392.7 257.4,392.9 256.4,395.6 255.4,399.4 254.4,403.8 253.4,407.6 252.4,407.6 251.4,404.2 250.4,399.5 249.4,393.5 248.4,384.1 247.4,373.4 246.4,368.4 245.4,369.9 244.4,371.9 243.4,372.2 242.4,373.2 241.4,374 240.4,375.4 239.4,377.5 238.4,377.8 237.4,378.6 236.4,377.7 235.4,372.4 234.4,367.8 233.4,367 232.4,366.8 231.4,364 230.4,360.4 229.4,362 228.4,368.4 227.4,372.2 226.4,372.6 225.4,375.3 224.4,381.6 223.4,387.8 222.4,388.6 221.4,385.1 220.4,383.5 219.4,381.5 218.4,378.3 217.4,380.1 216.4,386.5 215.4,391.1 214.4,393.6 213.4,395.6 212.4,393.8 211.4,389.1 210.4,385.3 209.4,381.4 208.4,378.2 207.4,375.6 206.4,375.1 205.4,379.5 204.4,383.8 203.4,384.8 202.4,384.6 201.4,387.6 200.4,393.5 199.4,396.1 198.4,395.9 197.4,397.2 196.4,396.5 195.4,391.6 194.4,386.1 193.4,385.2 192.4,387.7 191.5,386.8 190.5,383.5 189.5,382 188.5,385.1 187.5,390.1 186.5,392.2 185.5,390.2 184.5,386.6 183.5,384.3 182.5,385.4 181.5,387.2 180.5,387.5 179.5,388.1 178.5,386 177.5,382 176.5,381.6 175.5,384.7 174.5,387.9 173.5,389.3 172.5,389.5 171.5,392.4 170.5,395.4 169.5,391.8 168.5,385 167.5,382.6 166.5,382.9 165.5,383.8 164.5,383.8 163.5,384.6 162.5,387.6 161.5,389.4 160.5,387.5 159.5,385.4 158.5,385.4 157.5,386.6 156.5,388.6 155.5,388.3 154.5,385.3 153.5,384.3 152.5,386.8 151.5,388.5 150.5,388.8 149.5,387.5 148.5,385 147.5,384.7 146.5,387.6 145.5,389.9 144.5,390.4 143.5,391 142.5,390.4 141.5,386.4 140.5,380.7 139.5,374.5 138.5,372.4 137.5,377.7 136.5,384.4 135.5,385.8 134.5,381.5 133.5,379.6 132.5,383.8 131.5,386.4 130.5,382.8 129.5,377 128.5,373.2 127.5,371.8 126.5,374 125.5,378.9 124.5,380.2 123.5,376.9 122.5,374.6 121.5,376.3 120.5,383.1 119.5,392.2 118.5,396.9 117.5,394.6 116.5,387.8 115.5,383.4 114.5,384.9 113.5,386.8 112.5,384 111.5,380 110.5,380.9 109.5,383.3 108.5,385 107.5,387.9 106.5,389 105.5,386.7 104.5,383.9 103.5,383.3 102.5,383.2 101.5,383.5 100.5,386.9 99.5,392.2 98.5,393.7 97.5,389.3 96.5,385.8 95.5,387.1 94.5,389.9 93.5,391.2 92.5,392.7 91.5,395.8 90.5,399.4 89.5,400.5 88.5,397.9 87.5,396.7 86.5,398.9 85.5,400 84.5,402.7 83.5,409.5 82.6,411.8 81.6,406.6 80.6,403.3 79.6,405.5 78.6,405.3 77.6,400.6 76.6,398.5 75.6,399.3 74.6,400.6 73.6,404.7 72.6,410.3 71.6,412.2 70.6,411.7 69.6,412.8 68.6,414 67.6,416.2 66.6,423 65.6,430.2 64.6,432.9 63.6,432 62.6,432.9 61.6,435.8 60.6,435.7 59.6,434.4 58.6,435 57.6,435.9 56.6,435.9 55.6,434.5 54.6,433.9 53.6,437.1 52.6,440.5 51.6,437.3 50.6,431.6 49.6,428.3 48.6,426.8 47.6,423.9 46.6,417.7 45.6,412.9 44.6,411.9 43.6,411.4 42.6,412.2 41.6,415.6 40.6,418.6 39.6,421.5 38.6,427.9 37.6,436.6 36.6,445.6 35.6,451.9 34.6,452.1 33.6,447.8 32.6,443 31.6,442.3 30.6,440.6 29.6,447.9 28.6,464.6 27.6,484.4" fill="#d95319" fill-opacity="0.33"/>
<polyline points="27.6,484.4 28.6,458.8 29.6,435.5 30.6,420 31.6,414.7 32.6,413.3 33.6,412.9 34.6,412.1 35.6,410.1 36.6,407.2 37.6,403.3 38.6,397.7 39.6,391.5 40.6,386.4 41.6,382.9 42.6,381.1 43.6,381.1 44.6,381.1 45.6,378.8 46.6,376.6 47.6,378.4 48.6,383.5 49.6,389.3 50.6,395.6 51.6,401.1 52.6,402.9 53.6,401.2 54.6,399.9 55.6,400.7 56.6,401.8 57.6,402.3 58.6,403.2 59.6,404.1 60.6,403.8 61.6,402.6 62.6,401.6 63.6,400 64.6,397.2 65.6,393.8 66.6,390.5 67.6,388.6 68.6,388.1 69.6,387.4 70.6,384.7 71.6,380.7 72.6,378.2 73.6,376.8 74.6,375 75.6,372.5 76.6,369.7 77.6,368.2 78.6,368.4 79.6,368.8 80.6,369.4 81.6,370.5 82.6,370 83.5,367.3 84.5,365.1 85.5,364.6 86.5,365 87.5,365.8 88.5,366.8 89.5,367.8 90.5,368.7 91.5,368.5 92.5,366.7 93.5,363.4 94.5,360.3 95.5,359.3 96.5,359 97.5,358.4 98.5,358.4 99.5,357.6 100.5,354.6 101.5,351.1 102.5,350.6 103.5,353.3 104.5,356 105.5,357.2 106.5,357.1 107.5,355.9 108.5,353.7 109.5,352.2 110.5,351.6 111.5,351.1 112.5,352.4 113.5,354 114.5,351.9 115.5,348.6 116.5,350 117.5,355 118.5,358.7 119.5,359.3 120.5,357 121.5,352 122.5,347.7 123.5,347.5 124.5,349.3 125.5,349.5 126.5,348.3 127.5,348.2 128.5,349.1 129.5,350.4 130.5,351.9 131.5,351.5 132.5,349 133.5,347.8 134.5,348.8 135.5,349.2 136.5,348.2 137.5,347.6 138.5,348.2 139.5,349.7 140.5,351.6 141.5,352.8 142.5,353.6 143.5,355.4 144.5,359.1 145.5,362.9 146.5,362.3 147.5,358.7 148.5,357.1 149.5,357.1 150.5,355.7 151.5,354.2 152.5,353.8 153.5,353.6 154.5,353.5 155.5,353 156.5,351.9 157.5,352 158.5,353.4 159.5,354.3 160.5,355.4 161.5,357.4 162.5,357.5 163.5,354.8 164.5,352.7 165.5,352.3 166.5,351.6 167.5,349.5 168.5,348.6 169.5,352 170.5,356.7 171.5,357.6 172.5,354.1 173.5,350.1 174.5,349 175.5,349.4 176.5,349.1 177.5,349.1 178.5,351.4 179.5,353.9 180.5,353.9 181.5,352.8 182.5,352 183.5,352 184.5,353.4 185.5,356.1 186.5,358.8 187.5,358.6 188.5,355.8 189.5,354.5 190.5,356.5 191.5,360.6 192.4,363 193.4,360.9 194.4,357.5 195.4,357.6 196.4,360.1 197.4,361.6 198.4,360.6 199.4,358.6 200.4,357.2 201.4,357.1 202.4,357.4 203.4,356.7 204.4,354.6 205.4,351.9 206.4,349.2 207.4,347.6 208.4,348.7 209.4,351.1 210.4,352.7 211.4,354.5 212.4,357.9 213.4,360 214.4,358.4 215.4,354.9 216.4,352.1 217.4,350.9 218.4,352.2 219.4,353.3 220.4,351.3 221.4,349.6 222.4,351.1 223.4,351.3 224.4,347.4 225.4,343.4 226.4,343.1 227.4,344.8 228.4,344.5 229.4,341.4 230.4,337.4 231.4,335.8 232.4,337 233.4,339.2 234.4,341.3 235.4,343.7 236.4,345.5 237.4,345.6 238.4,344 239.4,342.3 240.4,341.2 241.4,341.2 242.4,341.7 243.4,342.9 244.4,343.8 245.4,343 246.4,342 247.4,345.3 248.4,353.3 249.4,360.7 250.4,365.2 251.4,367.4 252.4,367.4 253.4,366.3 254.4,364.6 255.4,364.2 256.4,364.6 257.4,363.2 258.4,361 259.4,359.1 260.4,356.7 261.4,354.4 262.4,353 263.4,352.6 264.4,352.7 265.4,352.7 266.4,353.1 267.4,353.4 268.4,352.3 269.4,350.6 270.4,350.4 271.4,351.4 272.4,350.5 273.4,347.6 274.4,345.7 275.4,346.3 276.4,348.1 277.4,349.2 278.4,348.4 279.4,347.3 280.4,348.6 281.4,352.4 282.4,354.6 283.4,351.7 284.4,346.5 285.4,344.3 286.4,344.5 287.4,345.4 288.4,347 289.4,347.7 290.4,344.3 291.4,338.7 292.4,335.7 293.4,335.4 294.4,333.3 295.4,329.9 296.4,330.4 297.4,333.7 298.4,335.2 299.4,335.8 300.4,337.1 301.4,337.8 302.4,338.4 303.3,340.9 304.3,344.6 305.3,347.9 306.3,349.8 307.3,351 308.3,352.9 309.3,355 310.3,354.1 311.3,350.3 312.3,348.7 313.3,351.5 314.3,354.8 315.3,354.8 316.3,353.5 317.3,355 318.3,358.4 319.3,360.2 320.3,360.9 321.3,361.3 322.3,360.1 323.3,358.1 324.3,358.7 325.3,362.6 326.3,365.3 327.3,363.9 328.3,359.6 329.3,356 330.3,354 331.3,353.8 332.3,356.8 333.3,362.5 334.3,366.5 335.3,365.6 336.3,360.6 337.3,353.9 338.3,348 339.3,345.6 340.3,346.3 341.3,345.9 342.3,344.1 343.3,345.2 344.3,349.2 345.3,352.4 346.3,352.3 347.3,348.8 348.3,344.4 349.3,341.4 350.3,340.9 351.3,342.6 352.3,346.2 353.3,351 354.3,355.3 355.3,358.2 356.3,359.7 357.3,359.4" fill="none" stroke="#c9302c" stroke-width="1.6" stroke-linejoin="round"/>
<polygon points="27.6,484.4 28.6,451.2 29.6,422.1 30.6,400.2 31.6,386.6 32.6,380 33.6,372.2 34.6,363.1 35.6,354.2 36.6,349.4 37.6,351.2 38.6,355.1 39.6,355.5 40.6,353.1 41.6,351.3 42.6,348.8 43.6,344.9 44.6,342.1 45.6,342.8 46.6,345.8 47.6,349.2 48.6,353.6 49.6,354.5 50.6,349.3 51.6,342.9 52.6,338.2 53.6,336.4 54.6,338.4 55.6,342.9 56.6,348.2 57.6,350.7 58.6,351.1 59.6,354.4 60.6,357.2 61.6,353.9 62.6,346 63.6,342.3 64.6,346.4 65.6,349.4 66.6,348.3 67.6,346.9 68.6,346.2 69.6,344.9 70.6,341.4 71.6,336.1 72.6,331.9 73.6,329.4 74.6,327.8 75.6,326 76.6,324.9 77.6,324.2 78.6,322.4 79.6,321 80.6,321.4 81.6,320.1 82.6,314.9 83.5,310.1 84.5,310.3 85.5,312.5 86.5,311.3 87.5,308.8 88.5,306.4 89.5,304.3 90.5,303.5 91.5,303.4 92.5,303.3 93.5,303.5 94.5,304.4 95.5,303.6 96.5,299.3 97.5,295.6 98.5,296.5 99.5,300.1 100.5,300.7 101.5,298.9 102.5,298.3 103.5,297.5 104.5,294.8 105.5,293.6 106.5,295.9 107.5,298.8 108.5,299.8 109.5,298.5 110.5,295.3 111.5,290.1 112.5,285.2 113.5,282.2 114.5,281.3 115.5,283.5 116.5,286.7 117.5,287.2 118.5,284.9 119.5,282.9 120.5,280.8 121.5,277.6 122.5,277.9 123.5,281.9 124.5,285.3 125.5,286.2 126.5,285.2 127.5,284.1 128.5,284.4 129.5,283.6 130.5,281.2 131.5,282.2 132.5,287.9 133.5,292.9 134.5,292.7 135.5,288.4 136.5,283.4 137.5,282.4 138.5,286.8 139.5,291.6 140.5,294.6 141.5,296.6 142.5,297.5 143.5,295.8 144.5,293.1 145.5,292.6 146.5,293.5 147.5,294.4 148.5,294.4 149.5,295.7 150.5,298.6 151.5,297.6 152.5,293.1 153.5,291.5 154.5,293 155.5,293.1 156.5,290.1 157.5,283.7 158.5,277.4 159.5,275.1 160.5,275.8 161.5,277.7 162.5,275.6 163.5,268.9 164.5,264.2 165.5,262.6 166.5,263.1 167.5,267.1 168.5,275.1 169.5,282.1 170.5,281.7 171.5,276.6 172.5,272.7 173.5,270.8 174.5,269.3 175.5,266.3 176.5,263.6 177.5,263.3 178.5,264.5 179.5,265.6 180.5,266.7 181.5,269 182.5,271.6 183.5,273.8 184.5,277.3 185.5,280.8 186.5,280.8 187.5,278.7 188.5,276 189.5,273.2 190.5,271.3 191.5,272.1 192.4,273.9 193.4,272.9 194.4,271.1 195.4,272.4 196.4,275.7 197.4,275.9 198.4,271.2 199.4,266.2 200.4,266.2 201.4,272.4 202.4,276.9 203.4,277.8 204.4,279.9 205.4,282.1 206.4,282.6 207.4,284 208.4,285.6 209.4,284.3 210.4,279.3 211.4,274.8 212.4,275.5 213.4,278.8 214.4,279.9 215.4,278.6 216.4,276.3 217.4,274.9 218.4,274.5 219.4,273.8 220.4,272.9 221.4,272.2 222.4,271.3 223.4,270.8 224.4,272.6 225.4,273.9 226.4,272 227.4,269.3 228.4,267.8 229.4,268.4 230.4,270.1 231.4,271.7 232.4,273.6 233.4,271.5 234.4,264.2 235.4,256.1 236.4,249.7 237.4,246.9 238.4,247.9 239.4,249.4 240.4,247.9 241.4,244.8 242.4,243.3 243.4,244.1 244.4,247 245.4,250.2 246.4,252.4 247.4,254.3 248.4,255.1 249.4,253.4 250.4,249.8 251.4,247.3 252.4,246.2 253.4,243.5 254.4,243.1 255.4,249.2 256.4,255.8 257.4,255.5 258.4,251.5 259.4,253.1 260.4,257.3 261.4,260 262.4,262 263.4,260.1 264.4,255.7 265.4,253.1 266.4,249.7 267.4,245.8 268.4,246.9 269.4,252 270.4,258.5 271.4,263.6 272.4,263 273.4,255.7 274.4,247.9 275.4,245.9 276.4,247.9 277.4,250.2 278.4,253.2 279.4,256.9 280.4,259.2 281.4,262.3 282.4,266.8 283.4,269 284.4,264.9 285.4,258.1 286.4,257.2 287.4,263.4 288.4,268.2 289.4,268.5 290.4,268.4 291.4,269.5 292.4,271.1 293.4,271.5 294.4,269 295.4,264.7 296.4,261 297.4,261 298.4,264.7 299.4,268.3 300.4,268.9 301.4,266.7 302.4,263.5 303.3,263.2 304.3,266.7 305.3,270.3 306.3,270 307.3,269.4 308.3,271.3 309.3,273.5 310.3,272.9 311.3,270.3 312.3,271 313.3,276 314.3,281.8 315.3,287.1 316.3,289.9 317.3,289.2 318.3,286.1 319.3,284 320.3,282.9 321.3,281.5 322.3,283 323.3,287.7 324.3,290 325.3,288.7 326.3,288.7 327.3,288.7 328.3,282.5 329.3,274.1 330.3,272.7 331.3,274.8 332.3,274.1 333.3,274.2 334.3,277.6 335.3,281.3 336.3,282.5 337.3,282.3 338.3,281.7 339.3,280.8 340.3,282.3 341.3,284.1 342.3,280.8 343.3,276.4 344.3,274.6 345.3,273.6 346.3,271.3 347.3,269 348.3,269.2 349.3,270.3 350.3,270.5 351.3,269.8 352.3,269.4 353.3,270.7 354.3,270.7 355.3,270.8 356.3,271.7 357.3,270.2 357.3,322.3 356.3,320.8 355.3,320.5 354.3,320 353.3,319.8 352.3,321.9 351.3,322.6 350.3,319.9 349.3,316.8 348.3,315.9 347.3,318.3 346.3,323.6 345.3,329.2 344.3,331 343.3,329.8 342.3,328 341.3,326.4 340.3,327.8 339.3,329.9 338.3,330.8 337.3,333.3 336.3,338.3 335.3,341.1 334.3,339.4 333.3,337.4 332.3,336.8 331.3,333 330.3,326.6 329.3,324 328.3,326 327.3,329.7 326.3,333 325.3,335.5 324.3,340.1 323.3,344.4 322.3,345 321.3,343 320.3,337.8 319.3,329.7 318.3,323 317.3,322.2 316.3,325.4 315.3,327.5 314.3,326.1 313.3,324.1 312.3,324.5 311.3,324.3 310.3,321.7 309.3,318.5 308.3,315.8 307.3,312.8 306.3,312.1 305.3,314.3 304.3,316.3 303.3,318.6 302.4,319.6 301.4,317 300.4,317.1 299.4,320.1 298.4,318 297.4,315.6 296.4,318.4 295.4,321.9 294.4,324.1 293.4,322.9 292.4,318.5 291.4,317.5 290.4,321.8 289.4,323.6 288.4,319.2 287.4,313.9 286.4,310 285.4,307.3 284.4,306.1 283.4,306.7 282.4,309.9 281.4,313.5 280.4,312.7 279.4,308.3 278.4,303.2 277.4,300.5 276.4,299.2 275.4,298.4 274.4,302.7 273.4,311.9 272.4,317.7 271.4,316.6 270.4,312.3 269.4,307.4 268.4,302.6 267.4,299.7 266.4,300.6 265.4,303.2 264.4,307.5 263.4,313.9 262.4,315.9 261.4,312.5 260.4,309.1 259.4,306.7 258.4,307.1 257.4,308.1 256.4,305.1 255.4,299.2 254.4,295.2 253.4,294.8 252.4,292.3 251.4,290.1 250.4,293.4 249.4,298 248.4,299 247.4,298 246.4,297.1 245.4,295.8 244.4,295.8 243.4,300.7 242.4,307.2 241.4,308.2 240.4,304.2 239.4,298.6 238.4,293.9 237.4,293.6 236.4,298.1 235.4,302.2 234.4,304.2 233.4,306.3 232.4,308.2 231.4,308.8 230.4,308.5 229.4,310 228.4,314.1 227.4,319.2 226.4,324.4 225.4,325.4 224.4,321 223.4,315.8 222.4,315.9 221.4,320.4 220.4,323 219.4,322.5 218.4,322.3 217.4,324 216.4,325.5 215.4,324.2 214.4,321 213.4,319.9 212.4,320.9 211.4,322.2 210.4,324.2 209.4,327.1 208.4,330.6 207.4,330.1 206.4,323.9 205.4,320.2 204.4,323.2 203.4,327.5 202.4,330.1 201.4,328.5 200.4,320.9 199.4,313.9 198.4,315.2 197.4,320.5 196.4,322.3 195.4,321.2 194.4,319.8 193.4,320.2 192.4,322.5 191.5,324.2 190.5,324.9 189.5,327.4 188.5,330.6 187.5,333 186.5,333.1 185.5,328.2 184.5,320.6 183.5,317.3 182.5,319.3 181.5,322.4 180.5,323.9 179.5,324.7 178.5,325.8 177.5,325.8 176.5,323.8 175.5,321.1 174.5,320.5 173.5,324.4 172.5,328.9 171.5,329.4 170.5,328 169.5,328.4 168.5,330.8 167.5,332.7 166.5,332.3 165.5,327.4 164.5,321.7 163.5,321.7 162.5,325.9 161.5,327.3 160.5,323.8 159.5,321.5 158.5,323.5 157.5,328.1 156.5,333.9 155.5,338.1 154.5,338.9 153.5,338.4 152.5,340.2 151.5,343.8 150.5,344.4 149.5,341.8 148.5,340.5 147.5,341.6 146.5,342.9 145.5,342.1 144.5,338.5 143.5,337 142.5,342.8 141.5,348.8 140.5,348.7 139.5,343.3 138.5,335.4 137.5,331.8 136.5,334.5 135.5,337.9 134.5,339.6 133.5,341 132.5,341.3 131.5,342.5 130.5,344.5 129.5,344.7 128.5,343.2 127.5,341.9 126.5,339.1 125.5,335.7 124.5,332.9 123.5,327.9 122.5,322 121.5,321 120.5,324.2 119.5,327.4 118.5,329.4 117.5,329.5 116.5,327.6 115.5,328 114.5,332 113.5,337.4 112.5,342.6 111.5,345.8 110.5,346.3 109.5,346.7 108.5,346.2 107.5,344.3 106.5,342.7 105.5,341.9 104.5,344.8 103.5,348.2 102.5,346.6 101.5,345.9 100.5,348.6 99.5,348.1 98.5,342.9 97.5,337.5 96.5,337.8 95.5,345.3 94.5,352.4 93.5,353.8 92.5,353 91.5,352.1 90.5,351.2 89.5,351.1 88.5,353.7 87.5,356.1 86.5,354 85.5,350.2 84.5,350.1 83.5,356 82.6,362.8 81.6,365.1 80.6,365.6 79.6,365.9 78.6,366.4 77.6,369.5 76.6,372.8 75.6,373.5 74.6,373.8 73.6,377.4 72.6,381.5 71.6,385.7 70.6,390.1 69.6,391.4 68.6,393.3 67.6,397.4 66.6,400.9 65.6,402.3 64.6,399.8 63.6,397 62.6,399.7 61.6,406.8 60.6,410.1 59.6,407 58.6,401 57.6,394.8 56.6,392.1 55.6,393.5 54.6,396.4 53.6,397.2 52.6,394.8 51.6,394 50.6,398.5 49.6,401.8 48.6,398.7 47.6,392.6 46.6,390.1 45.6,391.6 44.6,393.8 43.6,396 42.6,398.9 41.6,401 40.6,400.6 39.6,399 38.6,401.5 37.6,406.7 36.6,409.5 35.6,409.4 34.6,410.3 33.6,415.3 32.6,424.5 31.6,434.3 30.6,437.3 29.6,447.7 28.6,464.7 27.6,484.4" fill="#5a9a3a" fill-opacity="0.3"/>
<polyline points="27.6,484.4 28.6,458.1 29.6,434.9 30.6,419.4 31.6,413.8 32.6,409.2 33.6,402.6 34.6,394.3 35.6,387 36.6,382.7 37.6,380 38.6,377.6 39.6,376.3 40.6,376.3 41.6,376.2 42.6,374.6 43.6,372.7 44.6,372.1 45.6,371.5 46.6,370.8 47.6,372.4 48.6,375.7 49.6,376.6 50.6,373.7 51.6,370.2 52.6,369.7 53.6,372 54.6,373.6 55.6,373.4 56.6,373.5 57.6,374.5 58.6,376.7 59.6,380.1 60.6,381.9 61.6,379.3 62.6,374.8 63.6,373.2 64.6,374.5 65.6,374.8 66.6,373.1 67.6,369.7 68.6,364.9 69.6,361.7 70.6,360 71.6,356.4 72.6,351.5 73.6,348.1 74.6,347 75.6,346.4 76.6,344.9 77.6,343.3 78.6,343.1 79.6,343.9 80.6,343.5 81.6,340.4 82.6,336.5 83.5,334.1 84.5,334.3 85.5,335.2 86.5,334.8 87.5,333.4 88.5,331.9 89.5,329.1 90.5,325.7 91.5,324.8 92.5,326.8 93.5,327.8 94.5,326 95.5,322.8 96.5,320.6 97.5,321.1 98.5,323.5 99.5,324.9 100.5,323.8 101.5,321.6 102.5,320.1 103.5,318.5 104.5,316.8 105.5,317.7 106.5,320.4 107.5,321.6 108.5,320.5 109.5,319.2 110.5,319.2 111.5,318.9 112.5,316.8 113.5,313.6 114.5,311 115.5,309.4 116.5,308.6 117.5,308 118.5,306.9 119.5,306.5 120.5,305.6 121.5,302.6 122.5,300.7 123.5,303.3 124.5,307.6 125.5,310.4 126.5,310.8 127.5,310.3 128.5,310.3 129.5,311.2 130.5,311.9 131.5,312.1 132.5,313.3 133.5,315.1 134.5,315.9 135.5,315.7 136.5,315.1 137.5,315.1 138.5,315.8 139.5,317.1 140.5,318.7 141.5,319.9 142.5,319.9 143.5,319.1 144.5,319.5 145.5,321.2 146.5,321.8 147.5,321.1 148.5,320 149.5,318.7 150.5,317.7 151.5,317.2 152.5,315.9 153.5,313.5 154.5,311.5 155.5,310.8 156.5,309.8 157.5,307.6 158.5,305.1 159.5,304.5 160.5,305.3 161.5,305.1 162.5,302.6 163.5,299.5 164.5,297.8 165.5,298.1 166.5,299 167.5,300.7 168.5,303.1 169.5,304.2 170.5,303.2 171.5,301.4 172.5,299.8 173.5,298.4 174.5,297.7 175.5,298.1 176.5,297.7 177.5,296.2 178.5,295.6 179.5,296 180.5,296.1 181.5,296.1 182.5,296.8 183.5,298.3 184.5,300.5 185.5,302.7 186.5,304.2 187.5,303.9 188.5,301.3 189.5,298.6 190.5,297.8 191.5,298.7 192.4,299.7 193.4,300 194.4,299.6 195.4,299.1 196.4,298.4 197.4,296.8 198.4,293.6 199.4,292.1 200.4,294.5 201.4,298.3 202.4,300.5 203.4,300.9 204.4,300.1 205.4,299.4 206.4,300.7 207.4,303 208.4,303.7 209.4,301.7 210.4,298.1 211.4,296 212.4,296.8 213.4,298.5 214.4,299.2 215.4,299.3 216.4,298.6 217.4,296.9 218.4,296.4 219.4,296.7 220.4,296.4 221.4,295.4 222.4,294.2 223.4,294.6 224.4,297.4 225.4,299.6 226.4,298.9 227.4,296.2 228.4,293.4 229.4,291.5 230.4,290.2 231.4,288.8 232.4,287.2 233.4,285.3 234.4,283.1 235.4,281.3 236.4,279.4 237.4,277.7 238.4,277.2 239.4,277 240.4,276.2 241.4,274.4 242.4,272.3 243.4,270.9 244.4,270.7 245.4,270.4 246.4,270.7 247.4,273.6 248.4,276.9 249.4,276.3 250.4,272.7 251.4,271.3 252.4,272.6 253.4,273.8 254.4,275 255.4,277.2 256.4,279 257.4,279.1 258.4,279 259.4,280.2 260.4,281.7 261.4,282.7 262.4,282.7 263.4,280.5 264.4,277.2 265.4,275.3 266.4,274.8 267.4,274.4 268.4,275 269.4,277.5 270.4,280.9 271.4,283.5 272.4,284.3 273.4,280.8 274.4,274.9 275.4,272.1 276.4,273.2 277.4,274.5 278.4,275 279.4,276.6 280.4,279.9 281.4,282.7 282.4,283.5 283.4,283.3 284.4,283.6 285.4,285 286.4,287.2 287.4,289.9 288.4,292.2 289.4,293.5 290.4,293.4 291.4,293 292.4,294.3 293.4,296.4 294.4,297.2 295.4,296.4 296.4,294.5 297.4,293.4 298.4,294.8 299.4,296.8 300.4,296.5 301.4,294.9 302.4,294.3 303.3,294.6 304.3,296.2 305.3,298 306.3,297.7 307.3,296.3 308.3,295.4 309.3,296 310.3,298.1 311.3,300.5 312.3,302.4 313.3,304.2 314.3,305.9 315.3,306.2 316.3,305 317.3,304.3 318.3,304.3 319.3,304.7 320.3,305.6 321.3,307.3 322.3,309.6 323.3,311 324.3,310.3 325.3,309.2 326.3,309 327.3,307 328.3,303 329.3,300.7 330.3,301.8 331.3,304.2 332.3,305.5 333.3,306 334.3,307.6 335.3,310.6 336.3,313.1 337.3,312.9 338.3,309.7 339.3,305.7 340.3,303.5 341.3,302.2 342.3,300.5 343.3,298.9 344.3,298.5 345.3,298.5 346.3,297.1 347.3,294.9 348.3,294.6 349.3,295.7 350.3,296.1 351.3,295 352.3,293.5 353.3,293.1 354.3,293.8 355.3,294.2 356.3,293.9 357.3,294.2" fill="none" stroke="#5ca234" stroke-width="1.6" stroke-linejoin="round"/>
<polygon points="27.6,484.4 28.6,446.6 29.6,413.7 30.6,388.2 31.6,367.6 32.6,358.9 33.6,354.4 34.6,349.9 35.6,348.3 36.6,347.3 37.6,344.8 38.6,345.1 39.6,347.2 40.6,348.7 41.6,345.9 42.6,339.1 43.6,334.8 44.6,334.4 45.6,336.2 46.6,339.6 47.6,343.3 48.6,344.9 49.6,344.7 50.6,346.6 51.6,351 52.6,354.3 53.6,356 54.6,357.3 55.6,357.3 56.6,355.5 57.6,354.5 58.6,355.1 59.6,352.5 60.6,347.1 61.6,343.1 62.6,340.6 63.6,337.6 64.6,335.4 65.6,334.3 66.6,330.1 67.6,325.6 68.6,325.8 69.6,326.8 70.6,328.2 71.6,329.9 72.6,328.8 73.6,326.8 74.6,324.7 75.6,318.8 76.6,311.8 77.6,309.2 78.6,311.5 79.6,315.1 80.6,316.1 81.6,313.7 82.6,309.5 83.5,305.1 84.5,301 85.5,297.3 86.5,295.4 87.5,294.3 88.5,295.3 89.5,299.1 90.5,300.9 91.5,299.5 92.5,297.1 93.5,293.6 94.5,291.6 95.5,292.7 96.5,293.5 97.5,290.9 98.5,287.5 99.5,288.5 100.5,292.9 101.5,294.6 102.5,293.7 103.5,293 104.5,292.1 105.5,292.3 106.5,294.1 107.5,293.7 108.5,291.8 109.5,291.6 110.5,290.8 111.5,287 112.5,281.6 113.5,279.5 114.5,281.9 115.5,282.8 116.5,281.9 117.5,282.8 118.5,283.8 119.5,282.7 120.5,279.5 121.5,278.1 122.5,280.5 123.5,283.6 124.5,283.8 125.5,281.4 126.5,279 127.5,279.1 128.5,281.8 129.5,286.1 130.5,289.6 131.5,290.5 132.5,286.3 133.5,279.4 134.5,272.2 135.5,267.6 136.5,268.7 137.5,271.7 138.5,274.1 139.5,276.7 140.5,278.9 141.5,278.1 142.5,271.5 143.5,264.3 144.5,263 145.5,265.5 146.5,268 147.5,267.3 148.5,265.5 149.5,266.7 150.5,269.1 151.5,268.5 152.5,263.8 153.5,259.4 154.5,260.8 155.5,267 156.5,270.3 157.5,269.1 158.5,267 159.5,265.1 160.5,263.3 161.5,260.1 162.5,255.8 163.5,255.5 164.5,257.1 165.5,256.8 166.5,258.4 167.5,263.9 168.5,268.3 169.5,266.3 170.5,261.2 171.5,257.3 172.5,253.7 173.5,249.7 174.5,247.3 175.5,248.5 176.5,250.5 177.5,249.8 178.5,248.4 179.5,248.6 180.5,252.9 181.5,258.6 182.5,259.2 183.5,255.1 184.5,251.6 185.5,250.1 186.5,252 187.5,257.1 188.5,258.9 189.5,254.5 190.5,249 191.5,246.5 192.4,247.2 193.4,249 194.4,248.7 195.4,245.5 196.4,240.5 197.4,238.5 198.4,240.7 199.4,242.6 200.4,241.7 201.4,238.4 202.4,236.1 203.4,236.2 204.4,235.8 205.4,235.1 206.4,235.5 207.4,235.2 208.4,233 209.4,229.5 210.4,227.2 211.4,230.3 212.4,238.7 213.4,245.7 214.4,248.2 215.4,246.9 216.4,243.3 217.4,238.8 218.4,238.3 219.4,240.9 220.4,239.9 221.4,234.6 222.4,230 223.4,229.4 224.4,230.9 225.4,231.6 226.4,232.1 227.4,234.3 228.4,237.6 229.4,237.6 230.4,234.2 231.4,231.6 232.4,229.8 233.4,228.8 234.4,229.5 235.4,230.6 236.4,232.4 237.4,235.4 238.4,240.9 239.4,244 240.4,241.5 241.4,238.6 242.4,239.4 243.4,239.9 244.4,236.6 245.4,232.4 246.4,228.3 247.4,226.7 248.4,227.8 249.4,228.6 250.4,228.8 251.4,227.8 252.4,226.5 253.4,228.3 254.4,230.4 255.4,229.6 256.4,227.6 257.4,225.9 258.4,225.5 259.4,225.1 260.4,224.9 261.4,228.3 262.4,231.7 263.4,228.8 264.4,224 265.4,221.4 266.4,220.5 267.4,219.9 268.4,219.5 269.4,222.8 270.4,229.3 271.4,232.6 272.4,232.5 273.4,231.1 274.4,227.2 275.4,224.7 276.4,226.5 277.4,229 278.4,229.7 279.4,227.9 280.4,225.9 281.4,225.6 282.4,225.9 283.4,225.7 284.4,226.1 285.4,225.8 286.4,224.3 287.4,222.9 288.4,219.1 289.4,215.4 290.4,217.5 291.4,221.7 292.4,222.7 293.4,223 294.4,225.8 295.4,229.4 296.4,230.6 297.4,228.8 298.4,224.2 299.4,219.7 300.4,217.9 301.4,222 302.4,231.2 303.3,236.5 304.3,234.4 305.3,228.9 306.3,225.7 307.3,227.5 308.3,231.4 309.3,233.8 310.3,233.4 311.3,232.3 312.3,232.6 313.3,232.7 314.3,229.1 315.3,223.9 316.3,221.8 317.3,221 318.3,217.6 319.3,215.4 320.3,217.7 321.3,222 322.3,224 323.3,223.6 324.3,223 325.3,220.2 326.3,214.9 327.3,211.2 328.3,209.7 329.3,209.5 330.3,211.6 331.3,212.9 332.3,210.5 333.3,209 334.3,208.7 335.3,208.2 336.3,208.5 337.3,209.3 338.3,210.5 339.3,212.5 340.3,214.2 341.3,215.2 342.3,216.1 343.3,216.7 344.3,218.2 345.3,221.1 346.3,223.1 347.3,220.5 348.3,215.3 349.3,212.4 350.3,211.1 351.3,210.3 352.3,210 353.3,209.9 354.3,207.1 355.3,200.7 356.3,193 357.3,188.6 357.3,249.8 356.3,249.1 355.3,251 354.3,253.6 353.3,256.8 352.3,260.3 351.3,262.7 350.3,263.4 349.3,263.7 348.3,264.3 347.3,265.6 346.3,270.3 345.3,276.1 344.3,277.1 343.3,272.5 342.3,267.1 341.3,265.6 340.3,265.9 339.3,265.6 338.3,266 337.3,267 336.3,267.1 335.3,266.7 334.3,264.7 333.3,263.4 332.3,267.7 331.3,272.3 330.3,272.7 329.3,269.6 328.3,265.8 327.3,264.8 326.3,267.5 325.3,271.7 324.3,274.6 323.3,274.2 322.3,271.5 321.3,266.8 320.3,264.6 319.3,268.2 318.3,271.9 317.3,272.1 316.3,275.3 315.3,282.7 314.3,287.4 313.3,286.6 312.3,284.4 311.3,285.6 310.3,287.2 309.3,286 308.3,286 307.3,285.7 306.3,282.7 305.3,281.9 304.3,282 303.3,282.6 302.4,284.7 301.4,282.2 300.4,274.6 299.4,272.4 298.4,277.6 297.4,283.1 296.4,285.1 295.4,283.2 294.4,278 293.4,274.7 292.4,275.8 291.4,279 290.4,280.4 289.4,284 288.4,288.2 287.4,287.7 286.4,285.5 285.4,285.8 284.4,289.5 283.4,292.7 282.4,294.5 281.4,292.8 280.4,289 279.4,286.2 278.4,283.4 277.4,281.5 276.4,281 275.4,281.3 274.4,281.5 273.4,276.7 272.4,269.9 271.4,270.5 270.4,276.8 269.4,279.3 268.4,274.9 267.4,269.4 266.4,268.7 265.4,269.8 264.4,270.3 263.4,273.4 262.4,279.3 261.4,282.6 260.4,282.7 259.4,282.4 258.4,281.1 257.4,280.2 256.4,282 255.4,285.6 254.4,287.3 253.4,284.6 252.4,281.2 251.4,282.2 250.4,286.3 249.4,289.7 248.4,289 247.4,284 246.4,280.4 245.4,284 244.4,291.6 243.4,295.8 242.4,295.4 241.4,294 240.4,290.6 239.4,284.3 238.4,279.5 237.4,278.3 236.4,280.4 235.4,283.2 234.4,284.7 233.4,285.8 232.4,286.6 231.4,290 230.4,295 229.4,296.6 228.4,294.6 227.4,291.6 226.4,290.3 225.4,291.3 224.4,292.1 223.4,292 222.4,293.7 221.4,296.1 220.4,295.6 219.4,295.3 218.4,298.5 217.4,300.4 216.4,297.7 215.4,295.5 214.4,297.2 213.4,300.2 212.4,301 211.4,298.9 210.4,295.3 209.4,291.9 208.4,288.4 207.4,286.7 206.4,287.8 205.4,290.6 204.4,295.7 203.4,300.4 202.4,301.6 201.4,300.6 200.4,299.4 199.4,298.7 198.4,297.7 197.4,296.6 196.4,296.8 195.4,295.4 194.4,290.3 193.4,288.4 192.4,292.6 191.5,297.4 190.5,300.7 189.5,303.5 188.5,306.5 187.5,307.4 186.5,304.4 185.5,301.2 184.5,300.7 183.5,302.2 182.5,305.4 181.5,307 180.5,306.4 179.5,306.4 178.5,306.3 177.5,306.8 176.5,309.9 175.5,311.4 174.5,308.7 173.5,308.8 172.5,313.3 171.5,316.5 170.5,316.7 169.5,316.3 168.5,317.2 167.5,317.6 166.5,316 165.5,312.4 164.5,308.3 163.5,309.4 162.5,317.7 161.5,327.1 160.5,333 159.5,334.3 158.5,329.7 157.5,322 156.5,317.7 155.5,317.5 154.5,322 153.5,327.4 152.5,329.1 151.5,330.3 150.5,330.5 149.5,327.3 148.5,323 147.5,319.9 146.5,319.4 145.5,323.5 144.5,327.5 143.5,328.4 142.5,327.6 141.5,327.2 140.5,327.6 139.5,326.4 138.5,325 137.5,325.3 136.5,323.6 135.5,321.9 134.5,326.9 133.5,334.9 132.5,339.2 131.5,339.5 130.5,339 129.5,339.8 128.5,340.4 127.5,339.7 126.5,340.1 125.5,341.9 124.5,341.4 123.5,338.9 122.5,337.4 121.5,337.8 120.5,340.1 119.5,343.8 118.5,345.8 117.5,344.1 116.5,342.5 115.5,341.9 114.5,340.2 113.5,340.2 112.5,342.4 111.5,345.5 110.5,348.3 109.5,348.1 108.5,345 107.5,345.7 106.5,351.9 105.5,354.7 104.5,351.2 103.5,348 102.5,348.6 101.5,349.1 100.5,346.5 99.5,343.3 98.5,343.1 97.5,346.5 96.5,351.5 95.5,355.9 94.5,357.1 93.5,355.7 92.5,356.9 91.5,361.7 90.5,365.3 89.5,364.5 88.5,361 87.5,360 86.5,361.1 85.5,361.1 84.5,361.3 83.5,362.7 82.6,363.5 81.6,364.6 80.6,364.4 79.6,362.4 78.6,363.7 77.6,368.7 76.6,372.7 75.6,374.6 74.6,377 73.6,377.7 72.6,374.7 71.6,373.4 70.6,375.4 69.6,377.5 68.6,379.5 67.6,385.4 66.6,392.5 65.6,396.8 64.6,398.7 63.6,400.2 62.6,402.7 61.6,404.2 60.6,406.6 59.6,412.1 58.6,416.4 57.6,416.7 56.6,412.3 55.6,406.9 54.6,409.9 53.6,416.9 52.6,413.4 51.6,401.9 50.6,395.2 49.6,395.4 48.6,398.4 47.6,400.6 46.6,397.5 45.6,392.9 44.6,393.6 43.6,394.5 42.6,390.5 41.6,388.2 40.6,390.5 39.6,392.8 38.6,395.3 37.6,399.8 36.6,403.7 35.6,403.6 34.6,402.4 33.6,404.3 32.6,410.6 31.6,422.3 30.6,431.2 29.6,444 28.6,462.3 27.6,484.4" fill="#c0c040" fill-opacity="0.3"/>
<polyline points="27.6,484.4 28.6,454 29.6,427.8 30.6,410.1 31.6,400.3 32.6,392.4 33.6,387.1 34.6,383.8 35.6,380.6 36.6,376.6 37.6,373.2 38.6,371.9 39.6,372 40.6,371.1 41.6,368.7 42.6,366.1 43.6,364.2 44.6,363.3 45.6,364.2 46.6,366.4 47.6,368.7 48.6,370.3 49.6,371.8 50.6,374.2 51.6,377 52.6,378.7 53.6,378.8 54.6,379 55.6,380 56.6,381 57.6,381.8 58.6,381.2 59.6,378.4 60.6,375.4 61.6,373.8 62.6,372.3 63.6,370.7 64.6,369.8 65.6,368 66.6,364.4 67.6,360.6 68.6,358.2 69.6,357.2 70.6,355.9 71.6,354.5 72.6,353.5 73.6,352.3 74.6,349.7 75.6,345.4 76.6,340.7 77.6,338 78.6,338.4 79.6,340 80.6,339.7 81.6,337.9 82.6,336.1 83.5,334.9 84.5,333.9 85.5,332.3 86.5,330.1 87.5,328.9 88.5,329.6 89.5,329.4 90.5,327.2 91.5,324.6 92.5,323.4 93.5,323.7 94.5,324.4 95.5,324.1 96.5,322.1 97.5,319.5 98.5,318.1 99.5,319.4 100.5,321.8 101.5,323.3 102.5,324.2 103.5,324 104.5,322.2 105.5,320.8 106.5,321.1 107.5,321.8 108.5,321.5 109.5,320.6 110.5,319.2 111.5,317.2 112.5,315.2 113.5,313.9 114.5,313.7 115.5,314.6 116.5,315.4 117.5,314.4 118.5,311.7 119.5,309.6 120.5,309.6 121.5,310.8 122.5,312.5 123.5,313.7 124.5,313.1 125.5,311.2 126.5,309.6 127.5,309.1 128.5,309.4 129.5,309.6 130.5,309.2 131.5,309.2 132.5,309.6 133.5,308.2 134.5,304.2 135.5,299.8 136.5,296.9 137.5,296 138.5,297.1 139.5,299.5 140.5,300.9 141.5,299.9 142.5,297.3 143.5,295.1 144.5,294.2 145.5,294 146.5,294 147.5,293.8 148.5,293.4 149.5,293.8 150.5,295.2 151.5,295.3 152.5,293.1 153.5,290.8 154.5,290 155.5,289.9 156.5,290.4 157.5,292.4 158.5,295.1 159.5,296.3 160.5,295.2 161.5,292.2 162.5,288.3 163.5,284.8 164.5,283.4 165.5,284.8 166.5,287.5 167.5,290.3 168.5,291.9 169.5,290.8 170.5,288.2 171.5,286.7 172.5,286.4 173.5,285.7 174.5,284.3 175.5,283.9 176.5,284.4 177.5,283.8 178.5,281.4 179.5,278.8 180.5,278.1 181.5,278.4 182.5,278.1 183.5,277.3 184.5,276.9 185.5,277.2 186.5,278.1 187.5,279.2 188.5,280.1 189.5,279.5 190.5,276.4 191.5,272.3 192.4,270.2 193.4,270.7 194.4,271.9 195.4,271.4 196.4,269.4 197.4,268.5 198.4,269.8 199.4,271.8 200.4,272.6 201.4,271.9 202.4,271.2 203.4,270.7 204.4,268.9 205.4,266.1 206.4,264.3 207.4,264.1 208.4,264.7 209.4,264.8 210.4,264.6 211.4,265.3 212.4,267.3 213.4,269.1 214.4,268.9 215.4,267.6 216.4,267.1 217.4,267.2 218.4,267.6 219.4,268.8 220.4,269.4 221.4,268.2 222.4,265.7 223.4,263.3 224.4,261.7 225.4,261.2 226.4,261.8 227.4,262.6 228.4,263.2 229.4,262.8 230.4,261 231.4,258.6 232.4,257.5 233.4,258.5 234.4,259.9 235.4,260.1 236.4,259.7 237.4,260.6 238.4,262.6 239.4,263.6 240.4,262.8 241.4,262.1 242.4,262.9 243.4,264.3 244.4,263 245.4,258.8 246.4,254.8 247.4,253.9 248.4,255.6 249.4,257.8 250.4,259.1 251.4,258.2 252.4,255.7 253.4,254.4 254.4,254.6 255.4,254.2 256.4,253 257.4,252.6 258.4,252.7 259.4,252.7 260.4,252.8 261.4,252.7 262.4,252 263.4,251.1 264.4,250.5 265.4,248.8 266.4,245.7 267.4,244.2 268.4,245.3 269.4,247.4 270.4,249.3 271.4,250.3 272.4,249.8 273.4,249 274.4,249.1 275.4,250.3 276.4,252.1 277.4,254.2 278.4,256 279.4,257.1 280.4,258.3 281.4,259.1 282.4,258.8 283.4,257.9 284.4,256.9 285.4,256 286.4,254.7 287.4,253.1 288.4,251.9 289.4,251.3 290.4,250.8 291.4,250.3 292.4,249.2 293.4,248.4 294.4,249.5 295.4,252 296.4,253.4 297.4,252.8 298.4,251.4 299.4,251 300.4,251.9 301.4,254 302.4,256.2 303.3,257.1 304.3,255.8 305.3,253.9 306.3,253.2 307.3,253.8 308.3,254.9 309.3,255.8 310.3,256 311.3,256.1 312.3,256.2 313.3,256.2 314.3,255.1 315.3,252.4 316.3,249.6 317.3,248.1 318.3,247.1 319.3,246 320.3,245.1 321.3,244.6 322.3,245 323.3,245.6 324.3,245.2 325.3,244.4 326.3,244.2 327.3,244.3 328.3,244.1 329.3,243.7 330.3,243.2 331.3,242 332.3,240.4 333.3,240.3 334.3,241.7 335.3,242.9 336.3,243.6 337.3,243 338.3,240.6 339.3,238.7 340.3,238.2 341.3,237.9 342.3,238.3 343.3,240.4 344.3,242.2 345.3,241.8 346.3,239.9 347.3,238.7 348.3,238.7 349.3,239.7 350.3,239.9 351.3,237.9 352.3,235.1 353.3,232.7 354.3,230.6 355.3,228 356.3,225 357.3,222.9" fill="none" stroke="#b8b830" stroke-width="1.6" stroke-linejoin="round"/>
<polygon points="27.6,484.4 28.6,440 29.6,399.6 30.6,369.4 31.6,352.9 32.6,347.7 33.6,343.5 34.6,336.9 35.6,330.4 36.6,326.7 37.6,326.6 38.6,329.2 39.6,330.7 40.6,328.6 41.6,324.8 42.6,324.2 43.6,327 44.6,327.1 45.6,325.4 46.6,328.1 47.6,333.4 48.6,336.1 49.6,335.1 50.6,334.1 51.6,335.1 52.6,338.1 53.6,341.9 54.6,343.2 55.6,341.9 56.6,340 57.6,337.4 58.6,335.1 59.6,333.7 60.6,333.9 61.6,334 62.6,331.8 63.6,328.6 64.6,326.2 65.6,324.7 66.6,321.9 67.6,317.5 68.6,313.5 69.6,311.5 70.6,310.1 71.6,307.8 72.6,307.8 73.6,310.1 74.6,311.2 75.6,309.9 76.6,308 77.6,306.8 78.6,305.9 79.6,302.9 80.6,297.2 81.6,291.4 82.6,288.4 83.5,287.3 84.5,288.6 85.5,292.2 86.5,294.6 87.5,296.5 88.5,297.8 89.5,296.4 90.5,291.6 91.5,287.1 92.5,286.1 93.5,287.1 94.5,288 95.5,288.5 96.5,288.8 97.5,287.3 98.5,283.7 99.5,282.4 100.5,284.2 101.5,284.8 102.5,282.8 103.5,283 104.5,286.2 105.5,286.6 106.5,282.8 107.5,278.6 108.5,275.7 109.5,273.9 110.5,274.7 111.5,277.8 112.5,279.7 113.5,278.5 114.5,276.2 115.5,273.8 116.5,271.5 117.5,270 118.5,270.5 119.5,272.5 120.5,272 121.5,267.9 122.5,264.6 123.5,265.4 124.5,266.6 125.5,265.2 126.5,263.2 127.5,263.3 128.5,266.2 129.5,268.8 130.5,268.6 131.5,266.9 132.5,265.3 133.5,264.2 134.5,264.6 135.5,265.4 136.5,263.8 137.5,260.5 138.5,257.3 139.5,256.5 140.5,258.9 141.5,260.6 142.5,259.6 143.5,258.7 144.5,258.9 145.5,260 146.5,259.5 147.5,256.2 148.5,253.9 149.5,253.2 150.5,252.4 151.5,251.4 152.5,250.1 153.5,249.4 154.5,250.1 155.5,250 156.5,248.2 157.5,247.5 158.5,250.2 159.5,250.7 160.5,247.1 161.5,244.6 162.5,244.2 163.5,246.2 164.5,251 165.5,253.2 166.5,251 167.5,247.4 168.5,243.2 169.5,238.8 170.5,235.7 171.5,234.2 172.5,235.8 173.5,238.8 174.5,239.4 175.5,237 176.5,232.6 177.5,228.5 178.5,228 179.5,232 180.5,235.2 181.5,234.5 182.5,230.9 183.5,226 184.5,224.1 185.5,226.8 186.5,230.9 187.5,231.5 188.5,228.9 189.5,227.4 190.5,227.4 191.5,227.7 192.4,228.2 193.4,228.9 194.4,227.4 195.4,224.2 196.4,223.3 197.4,223.6 198.4,224 199.4,226.5 200.4,230 201.4,230.1 202.4,227.2 203.4,225.1 204.4,224.7 205.4,226.6 206.4,231.2 207.4,234.8 208.4,236.1 209.4,234.3 210.4,229.8 211.4,228.1 212.4,231.4 213.4,235 214.4,234.1 215.4,231 216.4,229 217.4,228.1 218.4,227.6 219.4,226.7 220.4,224.6 221.4,222.5 222.4,223 223.4,224 224.4,224 225.4,223 226.4,220.9 227.4,220.4 228.4,222.6 229.4,221.7 230.4,217.7 231.4,216 232.4,216.9 233.4,218.9 234.4,221.5 235.4,222.3 236.4,220.7 237.4,218.7 238.4,217.6 239.4,217 240.4,215.3 241.4,212.9 242.4,211.3 243.4,210 244.4,209.2 245.4,211 246.4,213.4 247.4,213.6 248.4,212.7 249.4,212.2 250.4,212.9 251.4,213.5 252.4,211.6 253.4,207.3 254.4,204.6 255.4,204.8 256.4,205.6 257.4,204.6 258.4,204.5 259.4,208.8 260.4,214.1 261.4,213.7 262.4,209.3 263.4,206 264.4,203.5 265.4,201.3 266.4,200.6 267.4,202.2 268.4,202.8 269.4,202 270.4,202.4 271.4,202.3 272.4,197.6 273.4,192.4 274.4,193.9 275.4,199.9 276.4,204.2 277.4,203.8 278.4,200.6 279.4,197.2 280.4,195.2 281.4,194 282.4,192.5 283.4,191.8 284.4,191.9 285.4,192.5 286.4,195 287.4,197.4 288.4,197.6 289.4,194.8 290.4,191.9 291.4,191.1 292.4,191.6 293.4,191.6 294.4,191.4 295.4,191.2 296.4,189.3 297.4,186.8 298.4,188 299.4,190 300.4,189.2 301.4,187.5 302.4,186.6 303.3,185.8 304.3,183.9 305.3,184.5 306.3,190.3 307.3,195 308.3,194 309.3,192.9 310.3,194.9 311.3,195.3 312.3,193.6 313.3,192 314.3,190.2 315.3,188.4 316.3,186.6 317.3,188.2 318.3,194.1 319.3,198.8 320.3,198.3 321.3,194 322.3,188.9 323.3,186 324.3,186.1 325.3,187.3 326.3,189.2 327.3,192.3 328.3,193.2 329.3,189.6 330.3,185.1 331.3,183.4 332.3,182.7 333.3,181.7 334.3,181.1 335.3,182.4 336.3,184.7 337.3,184.9 338.3,184.2 339.3,185.8 340.3,189.4 341.3,191.6 342.3,190.1 343.3,187.1 344.3,185.2 345.3,185.7 346.3,188.5 347.3,190.6 348.3,189.3 349.3,186.3 350.3,185.5 351.3,187.7 352.3,190 353.3,192 354.3,193.6 355.3,193.8 356.3,192.7 357.3,193.2 357.3,239.8 356.3,240.1 355.3,240.9 354.3,239.1 353.3,236.9 352.3,237.4 351.3,238.2 350.3,236.8 349.3,233.9 348.3,230.9 347.3,230.8 346.3,234.7 345.3,236.3 344.3,233.1 343.3,230.8 342.3,232.4 341.3,234 340.3,233.4 339.3,231.6 338.3,231.1 337.3,234 336.3,239.1 335.3,242.7 334.3,243.4 333.3,242.2 332.3,239.8 331.3,237.3 330.3,237.6 329.3,241.9 328.3,248.1 327.3,251.2 326.3,248.5 325.3,242.6 324.3,237.8 323.3,235.8 322.3,236.8 321.3,240.4 320.3,243.2 319.3,241.9 318.3,240 317.3,239.2 316.3,238.8 315.3,238 314.3,239.1 313.3,242.4 312.3,243 311.3,240.7 310.3,237.7 309.3,235.4 308.3,235.5 307.3,238 306.3,240.5 305.3,241.1 304.3,240.9 303.3,239 302.4,235.7 301.4,232.4 300.4,230 299.4,228.6 298.4,228.9 297.4,229.8 296.4,230.7 295.4,234.8 294.4,240.1 293.4,242.2 292.4,242.5 291.4,242.1 290.4,240 289.4,238.3 288.4,237 287.4,235 286.4,234.1 285.4,235.9 284.4,239.1 283.4,240.4 282.4,240.6 281.4,242.4 280.4,245.6 279.4,246.9 278.4,245.5 277.4,244.5 276.4,244.2 275.4,242.2 274.4,240.3 273.4,241.6 272.4,245.7 271.4,250 270.4,251.5 269.4,249.2 268.4,244.9 267.4,242.1 266.4,244.4 265.4,251.1 264.4,255.5 263.4,254.6 262.4,252.1 261.4,252.3 260.4,255 259.4,256.2 258.4,255.5 257.4,253.7 256.4,254 255.4,257.6 254.4,259.3 253.4,259 252.4,261.3 251.4,263.9 250.4,263.3 249.4,262.1 248.4,263.1 247.4,265.2 246.4,265.7 245.4,263.9 244.4,261.4 243.4,260.9 242.4,263.6 241.4,266.9 240.4,268 239.4,266.2 238.4,263.2 237.4,262 236.4,262.8 235.4,263 234.4,262.7 233.4,263.9 232.4,266.1 231.4,266.1 230.4,263.3 229.4,261.9 228.4,263.2 227.4,265.4 226.4,267.3 225.4,271.1 224.4,275.8 223.4,277 222.4,275 221.4,272.9 220.4,272 219.4,271.2 218.4,269.7 217.4,269.1 216.4,271.5 215.4,276.8 214.4,279.8 213.4,279.3 212.4,278.3 211.4,278 210.4,279.1 209.4,281.9 208.4,283.7 207.4,281.3 206.4,275.2 205.4,271.8 204.4,273.6 203.4,275.8 202.4,277.3 201.4,277.6 200.4,275 199.4,270.8 198.4,268.5 197.4,269.1 196.4,269.4 195.4,268 194.4,267.9 193.4,271.1 192.4,275.2 191.5,276.7 190.5,276 189.5,276 188.5,277.3 187.5,278.8 186.5,278.4 185.5,275.5 184.5,273.8 183.5,276.8 182.5,281.7 181.5,283.6 180.5,283.9 179.5,283.4 178.5,282.6 177.5,281.7 176.5,281 175.5,281.3 174.5,282.1 173.5,284.4 172.5,285 171.5,284.5 170.5,286.8 169.5,291.5 168.5,297.3 167.5,303.7 166.5,306.9 165.5,305.7 164.5,302.2 163.5,298.5 162.5,298.1 161.5,300.2 160.5,299.2 159.5,294.4 158.5,291 157.5,292.2 156.5,294.1 155.5,294.2 154.5,292.7 153.5,291.6 152.5,292.2 151.5,292.2 150.5,292.2 149.5,293.2 148.5,294 147.5,296 146.5,300 145.5,305.2 144.5,309 143.5,309.7 142.5,308.5 141.5,308.2 140.5,307.6 139.5,305.7 138.5,304.2 137.5,304.3 136.5,304.8 135.5,305.2 134.5,308.2 133.5,313.9 132.5,319 131.5,320.8 130.5,317.8 129.5,313.1 128.5,311.2 127.5,311 126.5,310.8 125.5,313.3 124.5,319.1 123.5,323 122.5,321.1 121.5,319.6 120.5,322.4 119.5,327 118.5,330 117.5,328.9 116.5,325.4 115.5,323.5 114.5,325.4 113.5,328.8 112.5,328.9 111.5,325.2 110.5,321.9 109.5,321.3 108.5,320.6 107.5,320.4 106.5,324.9 105.5,331.6 104.5,335.8 103.5,336.7 102.5,337.5 101.5,339.3 100.5,339.4 99.5,336.8 98.5,333.5 97.5,330.4 96.5,330 95.5,332.7 94.5,335.5 93.5,336.8 92.5,338 91.5,338.8 90.5,339.9 89.5,344 88.5,349.3 87.5,352.3 86.5,352.7 85.5,351.2 84.5,348.3 83.5,346.2 82.6,345.5 81.6,346.3 80.6,349.3 79.6,352 78.6,353.4 77.6,354.9 76.6,356.8 75.6,358.7 74.6,359.9 73.6,360.3 72.6,361.4 71.6,362.8 70.6,365 69.6,369.1 68.6,372.7 67.6,373.2 66.6,373.8 65.6,375.4 64.6,376.3 63.6,377.7 62.6,381 61.6,383 60.6,381.9 59.6,382.9 58.6,387.6 57.6,391.2 56.6,391.2 55.6,391.2 54.6,394.7 53.6,396.5 52.6,392.5 51.6,386.3 50.6,382.5 49.6,380.9 48.6,377.8 47.6,373.9 46.6,371.3 45.6,369.4 44.6,367.2 43.6,364.7 42.6,363.5 41.6,365.7 40.6,370.3 39.6,372.7 38.6,371.4 37.6,372.2 36.6,378.5 35.6,385.4 34.6,389.8 33.6,393.3 32.6,397.4 31.6,402.6 30.6,404.3 29.6,422.4 28.6,452.5 27.6,484.4" fill="#8a60c0" fill-opacity="0.3"/>
<polyline points="27.6,484.4 28.6,445.5 29.6,409.5 30.6,385.1 31.6,376.8 32.6,373.4 33.6,369.9 34.6,364.6 35.6,359.8 36.6,356.1 37.6,353.5 38.6,352.5 39.6,351.5 40.6,348.3 41.6,345.1 42.6,345.1 43.6,348.1 44.6,350.6 45.6,351.1 46.6,351.4 47.6,353.1 48.6,355.7 49.6,357.7 50.6,359.2 51.6,361 52.6,363.9 53.6,366.5 54.6,366.8 55.6,366.7 56.6,366.2 57.6,364 58.6,359.7 59.6,356.4 60.6,356.2 61.6,357.1 62.6,356.3 63.6,354.4 64.6,353.6 65.6,353.2 66.6,350.6 67.6,346.1 68.6,342.4 69.6,340.5 70.6,339.8 71.6,339.4 72.6,338.7 73.6,337.8 74.6,336 75.6,333.5 76.6,331.4 77.6,329.6 78.6,327.8 79.6,325.5 80.6,322.2 81.6,319.6 82.6,319 83.5,319.7 84.5,321.4 85.5,323.8 86.5,325 87.5,324.7 88.5,323.2 89.5,320.3 90.5,316.9 91.5,314.3 92.5,312.4 93.5,311.3 94.5,310.5 95.5,309.6 96.5,309.1 97.5,309.2 98.5,309.1 99.5,308.8 100.5,308 101.5,306.8 102.5,306.7 103.5,308.2 104.5,309.3 105.5,308.2 106.5,305.4 107.5,301.7 108.5,298.1 109.5,295.7 110.5,296.1 111.5,298.6 112.5,301 113.5,301 114.5,299.1 115.5,297.9 116.5,298.2 117.5,299.3 118.5,300.7 119.5,301 120.5,299 121.5,296.7 122.5,295.9 123.5,295.3 124.5,293.1 125.5,289.7 126.5,287.2 127.5,287.2 128.5,289.4 129.5,292.5 130.5,294.8 131.5,295.4 132.5,293.9 133.5,290.6 134.5,286.9 135.5,284.7 136.5,284.4 137.5,284.4 138.5,284.5 139.5,285.1 140.5,284.7 141.5,282.8 142.5,281.7 143.5,282.5 144.5,283.1 145.5,281.9 146.5,278.4 147.5,274.7 148.5,272.5 149.5,272 150.5,273.2 151.5,275.2 152.5,275.3 153.5,273.6 154.5,272.9 155.5,273.3 156.5,272.5 157.5,271.3 158.5,271.6 159.5,273.2 160.5,274.3 161.5,273.7 162.5,272.9 163.5,273.6 164.5,274.7 165.5,274.5 166.5,273.1 167.5,271 168.5,267.6 169.5,263.9 170.5,261.5 171.5,260.5 172.5,259.9 173.5,259.9 174.5,259.7 175.5,257.8 176.5,255.4 177.5,254.5 178.5,255.3 179.5,256.1 180.5,256.1 181.5,255.6 182.5,254.7 183.5,253.4 184.5,253.2 185.5,254.5 186.5,255 187.5,253.1 188.5,249.6 189.5,246.8 190.5,246.3 191.5,247.2 192.4,247.4 193.4,246.8 194.4,246.5 195.4,246.7 196.4,247.1 197.4,247.7 198.4,248.9 199.4,250.9 200.4,253.3 201.4,255 202.4,255.4 203.4,254.9 204.4,253.8 205.4,252.8 206.4,253.7 207.4,255.9 208.4,256.5 209.4,254.5 210.4,252.6 211.4,252.6 212.4,254.2 213.4,255.5 214.4,255.5 215.4,254.2 216.4,253.1 217.4,253.5 218.4,255 219.4,255.6 220.4,254.7 221.4,253.1 222.4,251.8 223.4,250.9 224.4,249.9 225.4,247.9 226.4,245.1 227.4,243 228.4,242.2 229.4,242.7 230.4,244 231.4,244.3 232.4,244.1 233.4,244.6 234.4,245.2 235.4,244.2 236.4,242.1 237.4,241.7 238.4,243.4 239.4,243.8 240.4,241.5 241.4,237.8 242.4,234.8 243.4,234.2 244.4,236 245.4,238.2 246.4,239.9 247.4,241.1 248.4,241.9 249.4,241.8 250.4,241.4 251.4,240.9 252.4,238.9 253.4,235.8 254.4,233.2 255.4,231.1 256.4,229.9 257.4,229.7 258.4,230.3 259.4,231.3 260.4,231.8 261.4,230.8 262.4,229.3 263.4,228.1 264.4,227.2 265.4,226.1 266.4,225.2 267.4,224.9 268.4,224.7 269.4,224.4 270.4,223.8 271.4,222.1 272.4,219.9 273.4,218.8 274.4,219.3 275.4,220.9 276.4,222.3 277.4,222.8 278.4,222.7 279.4,221.8 280.4,220.2 281.4,218.6 282.4,218 283.4,217.6 284.4,215.5 285.4,213.2 286.4,213.3 287.4,215.5 288.4,217.7 289.4,218.1 290.4,217.9 291.4,218.7 292.4,219.3 293.4,218.6 294.4,217.4 295.4,215.7 296.4,213.5 297.4,211.8 298.4,210.7 299.4,209.4 300.4,208.4 301.4,209.6 302.4,213.2 303.3,215.8 304.3,215.3 305.3,213.7 306.3,213.5 307.3,213.7 308.3,212.7 309.3,211.7 310.3,212.8 311.3,215.1 312.3,216.1 313.3,214.5 314.3,212.5 315.3,213 316.3,214.9 317.3,216.4 318.3,218.1 319.3,220.8 320.3,222.1 321.3,220 322.3,216 323.3,214.1 324.3,215.7 325.3,218.2 326.3,219.4 327.3,219.4 328.3,218.4 329.3,216.7 330.3,215.3 331.3,214.1 332.3,213.1 333.3,212.9 334.3,213.3 335.3,213 336.3,211.9 337.3,211.1 338.3,211.3 339.3,211.9 340.3,212.2 341.3,211.9 342.3,210.7 343.3,209.4 344.3,210 345.3,212.4 346.3,214 347.3,213.1 348.3,211.6 349.3,211.2 350.3,212.1 351.3,213.2 352.3,212.9 353.3,212.6 354.3,213.9 355.3,215.3 356.3,215.2 357.3,215.2" fill="none" stroke="#8a5fbf" stroke-width="1.6" stroke-linejoin="round"/>
</g>
<path d="M27.6,137.4V484.4H357.3" fill="none" stroke="#888888" stroke-width="1.6"/>
<path d="M27.6,484.4h3.3M27.6,415h3.3M27.6,345.6h3.3M27.6,276.2h3.3M27.6,206.8h3.3M27.6,137.4h3.3M27.6,484.4v-3.3M93.5,484.4v-3.3M159.5,484.4v-3.3M225.4,484.4v-3.3M291.4,484.4v-3.3M357.3,484.4v-3.3" stroke="#888888" stroke-width="1.3"/>
<text x="22.1" y="489.7" font-size="14.8" text-anchor="end" fill="#1a1a1a" textLength="7.8" lengthAdjust="spacingAndGlyphs">1</text>
<text x="22.1" y="420.3" font-size="14.8" text-anchor="end" fill="#1a1a1a" textLength="19.3" lengthAdjust="spacingAndGlyphs">1.5</text>
<text x="22.1" y="350.9" font-size="14.8" text-anchor="end" fill="#1a1a1a" textLength="7.8" lengthAdjust="spacingAndGlyphs">2</text>
<text x="22.1" y="281.5" font-size="14.8" text-anchor="end" fill="#1a1a1a" textLength="19.3" lengthAdjust="spacingAndGlyphs">2.5</text>
<text x="22.1" y="212.1" font-size="14.8" text-anchor="end" fill="#1a1a1a" textLength="7.8" lengthAdjust="spacingAndGlyphs">3</text>
<text x="22.1" y="142.7" font-size="14.8" text-anchor="end" fill="#1a1a1a" textLength="19.3" lengthAdjust="spacingAndGlyphs">3.5</text>
<text x="27.6" y="503.4" font-size="14.8" text-anchor="middle" fill="#1a1a1a" textLength="7.8" lengthAdjust="spacingAndGlyphs">0</text>
<text x="93.5" y="503.4" font-size="14.8" text-anchor="middle" fill="#1a1a1a" textLength="7.8" lengthAdjust="spacingAndGlyphs">2</text>
<text x="159.5" y="503.4" font-size="14.8" text-anchor="middle" fill="#1a1a1a" textLength="7.8" lengthAdjust="spacingAndGlyphs">4</text>
<text x="225.4" y="503.4" font-size="14.8" text-anchor="middle" fill="#1a1a1a" textLength="7.8" lengthAdjust="spacingAndGlyphs">6</text>
<text x="291.4" y="503.4" font-size="14.8" text-anchor="middle" fill="#1a1a1a" textLength="7.8" lengthAdjust="spacingAndGlyphs">8</text>
<text x="357.3" y="503.4" font-size="14.8" text-anchor="middle" fill="#1a1a1a" textLength="15.6" lengthAdjust="spacingAndGlyphs">10</text>
<g clip-path="url(#pc1)">
<polygon points="456.6,484.4 457.6,426.1 458.6,410.8 459.6,399.7 460.6,386.2 461.6,379.4 462.6,381.6 463.6,386.8 464.6,389.7 465.6,391.9 466.6,388.7 467.6,382.6 468.6,381 469.6,378.8 470.6,379.9 471.6,385.1 472.6,388.3 473.6,389.2 474.6,389.5 475.6,391 476.6,391.5 477.6,389.2 478.6,378.2 479.6,371.2 480.6,372.8 481.6,377.7 482.6,384.3 483.6,388.2 484.6,384.9 485.6,378.7 486.6,376 487.6,377.7 488.6,381.6 489.6,386.5 490.6,387.2 491.6,385.6 492.6,379.8 493.6,376.4 494.6,378.4 495.6,381.9 496.6,382.6 497.6,385 498.6,384.9 499.6,383.3 500.6,382.6 501.6,382.4 502.6,379.4 503.6,374.4 504.6,380.8 505.6,392.3 506.6,393.9 507.6,389.3 508.6,387.3 509.6,385.6 510.6,384.9 511.6,384.7 512.6,384.1 513.6,383.4 514.6,382.2 515.6,380.8 516.6,379.5 517.6,375.6 518.6,376.1 519.6,375.5 520.6,373.5 521.6,375.4 522.6,379.7 523.6,380.7 524.6,379 525.6,375.8 526.6,375.8 527.6,375.9 528.6,373 529.6,372.8 530.6,375.3 531.6,374.4 532.6,375.2 533.6,376.9 534.6,375.8 535.6,375.5 536.6,380.3 537.6,382.8 538.6,384.2 539.6,385.1 540.6,383.5 541.6,380 542.6,382.8 543.6,386 544.6,384.8 545.6,378.9 546.6,378.7 547.6,382.4 548.6,380.9 549.6,377.9 550.6,380.1 551.6,382.6 552.6,385.2 553.6,383.1 554.6,375.9 555.6,373.5 556.6,376.2 557.6,375.8 558.6,375.2 559.6,375 560.6,375.5 561.6,380.4 562.6,382.4 563.6,386.3 564.6,386.7 565.6,380.7 566.6,374.8 567.6,373.5 568.6,373.8 569.6,374.3 570.6,373.3 571.6,371.8 572.6,372.2 573.6,372.4 574.6,374.2 575.6,378.4 576.6,383.1 577.6,383.1 578.6,383.3 579.6,382.1 580.6,378.5 581.6,375.4 582.6,374.7 583.6,375 584.6,379.7 585.6,385.3 586.6,388.2 587.6,389.9 588.6,390.8 589.6,386.7 590.6,379.7 591.6,378.2 592.6,377.6 593.6,377.7 594.6,375.8 595.6,375.7 596.6,377.2 597.6,383.1 598.6,387.9 599.6,387.7 600.6,385.8 601.6,386.4 602.6,388.4 603.6,385.5 604.6,380.1 605.6,378.4 606.6,377.6 607.6,375 608.6,376.4 609.6,377.4 610.6,381.9 611.6,385.6 612.6,382.9 613.6,381.7 614.6,382.5 615.6,382.3 616.6,382.2 617.6,383.3 618.6,383.4 619.6,385 620.6,384.5 621.6,381.3 622.6,377.9 623.6,377.4 624.6,379.3 625.6,380.7 626.6,384.7 627.6,393 628.6,394.5 629.6,385.8 630.6,380.8 631.6,381.9 632.6,382.9 633.6,381.8 634.6,383.2 635.6,386.3 636.6,384.1 637.6,379.2 638.6,375.8 639.6,375.8 640.6,371.9 641.6,368.1 642.6,364.9 643.6,367.2 644.6,371.1 645.6,376.8 646.6,381.5 647.6,387.3 648.6,383.7 649.6,381.5 650.6,383.9 651.6,383.4 652.6,374 653.6,368.7 654.6,374.6 655.6,382.6 656.6,384.1 657.6,383 658.6,378.4 659.6,372.6 660.6,373.3 661.6,381.6 662.6,384.2 663.6,386.2 664.6,388.6 665.6,389.5 666.6,385.5 667.6,382.6 668.6,382.4 669.6,380.7 670.6,377.3 671.6,374.3 672.6,378.1 673.6,384.4 674.6,385.5 675.6,380.6 676.6,372 677.6,366.4 678.6,370.2 679.6,374.1 680.6,375 681.6,375.7 682.6,379 683.6,382.7 684.6,384.7 685.6,381.5 686.6,379.9 687.6,380.2 688.6,378 689.6,378.2 690.6,377.3 691.6,374.8 692.6,370.3 693.6,370.8 694.6,375.9 695.6,382.1 696.6,385.3 697.6,381.1 698.6,376.4 699.6,373.6 700.6,368.8 701.6,366.7 702.6,373.5 703.6,379.9 704.6,379.8 705.6,379.7 706.6,378.7 707.6,380.7 708.6,386.5 709.6,389 710.6,384.2 711.6,379.5 712.6,381.1 713.6,383.1 714.6,386.1 715.6,385.6 716.6,384.1 717.6,382.6 718.6,379.3 719.6,380.4 720.6,376.3 721.6,370.2 722.6,366.6 723.6,370 724.6,375.1 725.6,377.7 726.6,373.8 727.6,371.4 728.6,370.1 729.6,372.8 730.6,376.1 731.6,381.3 732.6,384.4 733.6,383.1 734.6,381.4 735.6,380.1 736.6,376.8 737.6,378.7 738.6,383.1 739.6,386.4 740.6,386.1 741.6,384.6 742.6,382.5 743.6,379.5 744.6,376.8 745.6,376.8 746.6,379.9 747.6,382 748.6,383 749.6,384.6 750.6,383.1 751.6,381.3 752.6,377.5 753.6,377.6 754.6,376.8 755.6,378.2 756.6,380.3 757.6,376 758.6,372.5 759.6,373.4 760.6,375.4 761.6,372.7 762.6,371.6 763.6,373.6 764.6,372.7 765.6,374.6 766.6,380.7 767.6,382.9 768.6,383 769.6,384.6 770.6,381 771.6,377 772.6,373.9 773.6,376.5 774.6,377.7 775.6,377.4 776.6,380.5 777.6,383.2 778.6,379.9 779.6,378.8 780.6,379.8 781.6,379.5 782.6,375.7 783.6,377 784.6,381.3 785.6,384.5 786.6,386.6 786.6,407.6 785.6,408.5 784.6,406.6 783.6,402.3 782.6,401.5 781.6,406 780.6,406.2 779.6,407.6 778.6,409.5 777.6,408.9 776.6,404.2 775.6,400 774.6,402.2 773.6,404.2 772.6,399.3 771.6,401.5 770.6,407.6 769.6,410.9 768.6,409.3 767.6,408.5 766.6,407.5 765.6,400.4 764.6,396.2 763.6,400.4 762.6,401.7 761.6,398 760.6,397.2 759.6,396.8 758.6,398.2 757.6,400.7 756.6,403 755.6,401.2 754.6,402.4 753.6,405.4 752.6,404.9 751.6,408.4 750.6,407.8 749.6,406.7 748.6,405.2 747.6,405.2 746.6,401.4 745.6,396.2 744.6,397.3 743.6,402.9 742.6,408.4 741.6,413.6 740.6,416.6 739.6,415.3 738.6,412.1 737.6,408.6 736.6,406.4 735.6,407.4 734.6,408.4 733.6,409.2 732.6,410 731.6,407.1 730.6,403.3 729.6,401.9 728.6,400.5 727.6,400.9 726.6,402.4 725.6,405.8 724.6,402.4 723.6,398 722.6,398.7 721.6,404 720.6,407.4 719.6,409.3 718.6,404 717.6,403.1 716.6,405.7 715.6,409.2 714.6,410.8 713.6,407.6 712.6,404.9 711.6,406.4 710.6,412.2 709.6,416.3 708.6,414.1 707.6,408.3 706.6,405.1 705.6,403.5 704.6,403.7 703.6,403.8 702.6,398 701.6,395.2 700.6,399.1 699.6,404.5 698.6,407.2 697.6,409.7 696.6,412.7 695.6,410.4 694.6,404.2 693.6,398.8 692.6,399.3 691.6,404 690.6,404.8 689.6,402.7 688.6,401.5 687.6,403.2 686.6,404.6 685.6,407.2 684.6,408.7 683.6,406.5 682.6,402.4 681.6,399.3 680.6,396.3 679.6,394.5 678.6,393.7 677.6,392.8 676.6,396.9 675.6,405.8 674.6,412 673.6,412.4 672.6,408 671.6,401.4 670.6,402.9 669.6,408.4 668.6,409.5 667.6,406.9 666.6,409.3 665.6,415.5 664.6,415.5 663.6,413.2 662.6,409 661.6,404.9 660.6,401.7 659.6,402 658.6,404.6 657.6,408.7 656.6,410.2 655.6,409.1 654.6,400.4 653.6,391.9 652.6,395.6 651.6,406.7 650.6,408.9 649.6,405.7 648.6,407.5 647.6,412 646.6,409.3 645.6,405.5 644.6,396.2 643.6,390.1 642.6,388.7 641.6,394 640.6,400.3 639.6,404.4 638.6,405.3 637.6,409.7 636.6,413.3 635.6,412.4 634.6,408.6 633.6,407.5 632.6,408.9 631.6,407.4 630.6,407.7 629.6,412.3 628.6,417.6 627.6,416.2 626.6,412 625.6,410.9 624.6,409 623.6,406.3 622.6,405.5 621.6,406.1 620.6,408.6 619.6,408.7 618.6,405.3 617.6,404.9 616.6,405.5 615.6,407.6 614.6,410.3 613.6,412.5 612.6,412.5 611.6,408.4 610.6,402.7 609.6,402.7 608.6,407.1 607.6,405.6 606.6,405.6 605.6,404.2 604.6,407.3 603.6,412.7 602.6,412.8 601.6,411.9 600.6,415.8 599.6,418.4 598.6,414.7 597.6,405.4 596.6,400.7 595.6,403.1 594.6,403.5 593.6,402 592.6,401.1 591.6,402.7 590.6,406 589.6,413.5 588.6,418.1 587.6,418.4 586.6,416.8 585.6,411.1 584.6,405 583.6,403.2 582.6,404.8 581.6,405.7 580.6,405.2 579.6,405.1 578.6,407.1 577.6,409.9 576.6,409.6 575.6,404 574.6,402.5 573.6,401.9 572.6,401.5 571.6,401.3 570.6,400.2 569.6,399 568.6,400.7 567.6,403.7 566.6,405.3 565.6,405.8 564.6,407.8 563.6,410.2 562.6,408.9 561.6,404.8 560.6,400.2 559.6,401.4 558.6,403.1 557.6,403.2 556.6,399.6 555.6,396.8 554.6,399.7 553.6,405.6 552.6,408.3 551.6,408 550.6,405.9 549.6,402.3 548.6,404.3 547.6,408.9 546.6,406 545.6,404 544.6,409.1 543.6,410.8 542.6,406.8 541.6,403.2 540.6,408.3 539.6,412.5 538.6,412.3 537.6,409.5 536.6,406.9 535.6,400.5 534.6,398.8 533.6,401.2 532.6,402.8 531.6,403.6 530.6,403.8 529.6,398.1 528.6,395.7 527.6,396.8 526.6,396.8 525.6,399.7 524.6,404.2 523.6,407.2 522.6,407 521.6,404.7 520.6,403.7 519.6,401.4 518.6,399 517.6,399.6 516.6,403.9 515.6,404.8 514.6,407.2 513.6,410.8 512.6,409.7 511.6,407.5 510.6,408.2 509.6,410.7 508.6,413.2 507.6,417.2 506.6,420.7 505.6,417.2 504.6,408.6 503.6,403.5 502.6,405.2 501.6,404.9 500.6,405.8 499.6,408.1 498.6,409.6 497.6,410.4 496.6,408.3 495.6,407 494.6,403.4 493.6,402 492.6,404.9 491.6,410.5 490.6,412.8 489.6,412.7 488.6,408.2 487.6,403.3 486.6,400.1 485.6,403.1 484.6,411.5 483.6,415.6 482.6,410.8 481.6,404.8 480.6,400.4 479.6,397.2 478.6,401.6 477.6,409.3 476.6,411 475.6,415.8 474.6,420.2 473.6,419.2 472.6,414.6 471.6,410.2 470.6,406.6 469.6,407.5 468.6,409.3 467.6,409.1 466.6,414.1 465.6,416.8 464.6,414.5 463.6,413.3 462.6,409.7 461.6,407.2 460.6,414.3 459.6,421.3 458.6,424 457.6,431.4 456.6,484.4" fill="#3a5fb0" fill-opacity="0.3"/>
<polyline points="456.6,484.4 457.6,428.5 458.6,416.9 459.6,411 460.6,401.6 461.6,393.3 462.6,394.7 463.6,399.8 464.6,402.3 465.6,404.4 466.6,401.6 467.6,395.2 468.6,394.4 469.6,393.6 470.6,394 471.6,398.3 472.6,402.1 473.6,403 474.6,402.8 475.6,402.4 476.6,401.5 477.6,400.3 478.6,393.1 479.6,388.4 480.6,389.5 481.6,392.7 482.6,398 483.6,401.6 484.6,398.4 485.6,391.2 486.6,388.3 487.6,392.3 488.6,397.3 489.6,401.2 490.6,400.4 491.6,398.2 492.6,392.7 493.6,388.7 494.6,389.2 495.6,392.4 496.6,394.1 497.6,397.4 498.6,395.4 499.6,392.6 500.6,393 501.6,394.2 502.6,392.5 503.6,389.7 504.6,394.4 505.6,402.6 506.6,405.4 507.6,401.6 508.6,398.5 509.6,397.4 510.6,397.2 511.6,396.7 512.6,396.6 513.6,396.3 514.6,394.4 515.6,392.3 516.6,390.9 517.6,388.1 518.6,389.8 519.6,392 520.6,392.2 521.6,392.6 522.6,394 523.6,394 524.6,392.1 525.6,388.5 526.6,386.9 527.6,386.4 528.6,384.4 529.6,385.4 530.6,390.2 531.6,389.7 532.6,389.4 533.6,390 534.6,389.3 535.6,389.9 536.6,394.5 537.6,397.7 538.6,400.3 539.6,399.6 540.6,396.4 541.6,393.4 542.6,397.2 543.6,399 544.6,397.9 545.6,394.3 546.6,395.5 547.6,398.1 548.6,394.2 549.6,390.6 550.6,392.6 551.6,394.4 552.6,395.9 553.6,395.4 554.6,390.1 555.6,385.8 556.6,386.6 557.6,388.6 558.6,389.1 559.6,388 560.6,388.2 561.6,393.8 562.6,396.7 563.6,398.7 564.6,396.8 565.6,392.5 566.6,390.5 567.6,390.2 568.6,388.7 569.6,387.5 570.6,387.5 571.6,387 572.6,387.1 573.6,388 574.6,390.7 575.6,394.7 576.6,398.2 577.6,396.3 578.6,394.7 579.6,394.7 580.6,394 581.6,392.2 582.6,390.6 583.6,390.1 584.6,393 585.6,397.4 586.6,401.4 587.6,403 588.6,402.1 589.6,397.6 590.6,391.6 591.6,390.6 592.6,390 593.6,389.6 594.6,388.6 595.6,388.5 596.6,389.2 597.6,394.8 598.6,401.6 599.6,403.3 600.6,400.8 601.6,397.2 602.6,398.2 603.6,398.4 604.6,393.6 605.6,390.1 606.6,391.2 607.6,391.1 608.6,392.5 609.6,390.4 610.6,391.5 611.6,396.1 612.6,398 613.6,397.8 614.6,397.5 615.6,395.5 616.6,394.5 617.6,394.9 618.6,394.4 619.6,395.7 620.6,395.3 621.6,393.7 622.6,392.2 623.6,391.1 624.6,393.2 625.6,397.1 626.6,401.1 627.6,406.2 628.6,406.3 629.6,400.6 630.6,396.5 631.6,396.4 632.6,397.2 633.6,394.5 634.6,395 635.6,398.5 636.6,397.1 637.6,393.4 638.6,390.9 639.6,389.9 640.6,385.7 641.6,381.8 642.6,377.8 643.6,379.3 644.6,384.8 645.6,392.6 646.6,396.1 647.6,398.9 648.6,394.3 649.6,391.7 650.6,394.1 651.6,393.7 652.6,385 653.6,382.2 654.6,389.5 655.6,396.4 656.6,396.8 657.6,395.4 658.6,391.6 659.6,388.4 660.6,388.7 661.6,392.9 662.6,396 663.6,399.5 664.6,401.7 665.6,401.1 666.6,395.8 667.6,393.9 668.6,394.4 669.6,393.1 670.6,390 671.6,388.4 672.6,393.3 673.6,396.9 674.6,396 675.6,391.3 676.6,385 677.6,381.5 678.6,383.7 679.6,384.9 680.6,385.7 681.6,387.9 682.6,391.7 683.6,395.6 684.6,396.6 685.6,392.9 686.6,391.1 687.6,391.4 688.6,390.6 689.6,390.5 690.6,390.5 691.6,390.7 692.6,388.1 693.6,387.4 694.6,390.6 695.6,395 696.6,398 697.6,394.8 698.6,390.4 699.6,386.7 700.6,384.1 701.6,383.5 702.6,385.9 703.6,389.1 704.6,390.5 705.6,393.3 706.6,394.8 707.6,396.9 708.6,401.5 709.6,402 710.6,397 711.6,392.3 712.6,393.3 713.6,395.8 714.6,398.9 715.6,397.4 716.6,393.5 717.6,392.4 718.6,392.7 719.6,394.7 720.6,391.9 721.6,388.3 722.6,383.9 723.6,384.6 724.6,388.1 725.6,391.2 726.6,387.6 727.6,385.7 728.6,386.2 729.6,388.8 730.6,390.3 731.6,393.4 732.6,396.9 733.6,397.6 734.6,395.4 735.6,393.1 736.6,390.1 737.6,391.9 738.6,395.7 739.6,399.7 740.6,400.6 741.6,398.2 742.6,394.2 743.6,391 744.6,388.9 745.6,388.6 746.6,392.2 747.6,393.6 748.6,391.9 749.6,392.2 750.6,392.7 751.6,393.6 752.6,391.7 753.6,392.8 754.6,391.1 755.6,391.8 756.6,393.9 757.6,390.2 758.6,387.5 759.6,386.3 760.6,386.7 761.6,385.2 762.6,385.6 763.6,386.3 764.6,385 765.6,388.9 766.6,395.9 767.6,397 768.6,396.6 769.6,398.3 770.6,394.9 771.6,389.2 772.6,385.4 773.6,387.8 774.6,389 775.6,390 776.6,394 777.6,397.2 778.6,395.7 779.6,394 780.6,393.2 781.6,391.8 782.6,388.7 783.6,390.4 784.6,392.8 785.6,394.9 786.6,396.6" fill="none" stroke="#2f72b4" stroke-width="1.6" stroke-linejoin="round"/>
<polygon points="456.6,484.4 457.6,430.9 458.6,402.6 459.6,386 460.6,370.2 461.6,362.2 462.6,358.9 463.6,356.8 464.6,353.7 465.6,351.3 466.6,350.1 467.6,350.2 468.6,348.5 469.6,345.5 470.6,345.1 471.6,344.6 472.6,339.4 473.6,333.5 474.6,331.7 475.6,332.3 476.6,332.8 477.6,333.2 478.6,335 479.6,334.9 480.6,330.9 481.6,326.1 482.6,323.1 483.6,321.8 484.6,322.3 485.6,324 486.6,324.2 487.6,322 488.6,320.2 489.6,322.1 490.6,327.2 491.6,328.1 492.6,321.7 493.6,314.5 494.6,312.9 495.6,314.9 496.6,316.7 497.6,317 498.6,318.4 499.6,321 500.6,321.2 501.6,317.2 502.6,312.8 503.6,312.3 504.6,314.1 505.6,316.7 506.6,319.3 507.6,319.2 508.6,314.7 509.6,309.1 510.6,305.9 511.6,304 512.6,301.3 513.6,298.9 514.6,297.6 515.6,298.2 516.6,300.4 517.6,302.4 518.6,301.6 519.6,297.6 520.6,293.8 521.6,293.4 522.6,294.9 523.6,293.7 524.6,288.7 525.6,286.2 526.6,289.2 527.6,292.4 528.6,292.5 529.6,291.1 530.6,290.6 531.6,290.9 532.6,288.9 533.6,286.2 534.6,286.8 535.6,289.4 536.6,289.5 537.6,286.6 538.6,284.3 539.6,282.7 540.6,282 541.6,284.8 542.6,289.1 543.6,291.2 544.6,291.4 545.6,291.9 546.6,291.9 547.6,289.9 548.6,287.3 549.6,285 550.6,283.2 551.6,284.2 552.6,289.6 553.6,295.8 554.6,298.9 555.6,299.6 556.6,297.8 557.6,296.1 558.6,297.1 559.6,298.8 560.6,300.2 561.6,301.6 562.6,301.1 563.6,297.5 564.6,293.7 565.6,291.5 566.6,288 567.6,283.1 568.6,279.7 569.6,280.6 570.6,284 571.6,285.6 572.6,285.5 573.6,284.7 574.6,282.3 575.6,278.4 576.6,277 577.6,279.4 578.6,282.4 579.6,284.7 580.6,285.7 581.6,287.4 582.6,291.8 583.6,295.1 584.6,295.1 585.6,295.4 586.6,296.3 587.6,295.4 588.6,293.8 589.6,294.2 590.6,295.6 591.6,295 592.6,294.8 593.6,294.5 594.6,291.8 595.6,289.7 596.6,290.2 597.6,292 598.6,293.1 599.6,294.3 600.6,295.3 601.6,294.2 602.6,292.2 603.6,290.8 604.6,289.6 605.6,288.4 606.6,287 607.6,287.6 608.6,291.7 609.6,295.4 610.6,296 611.6,295.9 612.6,292.5 613.6,286.4 614.6,285 615.6,285.4 616.6,283.4 617.6,283 618.6,285.6 619.6,288 620.6,290 621.6,293 622.6,295.3 623.6,296 624.6,296.9 625.6,295.8 626.6,291.2 627.6,288.6 628.6,291.2 629.6,294.3 630.6,295 631.6,292.8 632.6,288.6 633.6,285.8 634.6,286.2 635.6,287.7 636.6,289.7 637.6,292.1 638.6,292.3 639.6,288.8 640.6,284.8 641.6,284.2 642.6,287.1 643.6,289.9 644.6,290.6 645.6,289.4 646.6,287.2 647.6,283.4 648.6,278.5 649.6,275.5 650.6,275.6 651.6,277.8 652.6,279.7 653.6,281.1 654.6,283.1 655.6,284.7 656.6,284.9 657.6,283.2 658.6,280.2 659.6,276 660.6,273.1 661.6,273.3 662.6,276.7 663.6,280 664.6,281.3 665.6,280.2 666.6,277.7 667.6,278.2 668.6,282.7 669.6,288.2 670.6,290.4 671.6,288.3 672.6,285.5 673.6,284.6 674.6,285 675.6,288.3 676.6,294 677.6,298 678.6,298.4 679.6,298.4 680.6,298.3 681.6,296.5 682.6,295.4 683.6,295.9 684.6,295.8 685.6,295.9 686.6,296.1 687.6,294.8 688.6,292.4 689.6,291.5 690.6,293.4 691.6,295.5 692.6,294.8 693.6,289.7 694.6,285.2 695.6,285.2 696.6,286.7 697.6,287.4 698.6,286.6 699.6,283.6 700.6,281.8 701.6,281.8 702.6,280.8 703.6,279 704.6,278.9 705.6,280.5 706.6,281.6 707.6,279.4 708.6,274.1 709.6,270.8 710.6,272.1 711.6,275.2 712.6,277.6 713.6,279.3 714.6,281 715.6,281.9 716.6,280.6 717.6,279.3 718.6,281.2 719.6,283.7 720.6,284 721.6,281.9 722.6,278.1 723.6,275.1 724.6,274.4 725.6,271.9 726.6,268 727.6,268.6 728.6,275 729.6,282.4 730.6,286 731.6,284.7 732.6,282.9 733.6,285.5 734.6,289.3 735.6,290.5 736.6,290.9 737.6,292.6 738.6,294.9 739.6,294.2 740.6,290.8 741.6,288.9 742.6,288.8 743.6,289.5 744.6,289.3 745.6,288.9 746.6,292.3 747.6,296.3 748.6,294.5 749.6,289.3 750.6,286.4 751.6,288.2 752.6,291.8 753.6,293.4 754.6,291.9 755.6,289.9 756.6,289.1 757.6,288.1 758.6,287.6 759.6,288.4 760.6,289.2 761.6,288.6 762.6,287.4 763.6,287 764.6,287.1 765.6,285.9 766.6,284.4 767.6,284.4 768.6,285.4 769.6,283.6 770.6,281.1 771.6,279.8 772.6,279.2 773.6,282.9 774.6,288.6 775.6,289 776.6,285.1 777.6,282.4 778.6,282.3 779.6,283.7 780.6,285.3 781.6,287 782.6,288.5 783.6,289.8 784.6,291.6 785.6,292.9 786.6,293.2 786.6,335.8 785.6,332.7 784.6,332.7 783.6,333.5 782.6,334.9 781.6,337 780.6,337.5 779.6,333.7 778.6,328.3 777.6,327.1 776.6,329 775.6,330.8 774.6,331.4 773.6,331.1 772.6,332.1 771.6,334.4 770.6,335.1 769.6,334.8 768.6,335.8 767.6,337.1 766.6,338 765.6,338.8 764.6,337.5 763.6,336.1 762.6,337.6 761.6,338.9 760.6,337.3 759.6,335.7 758.6,335.8 757.6,335.8 756.6,335.2 755.6,336.3 754.6,338.9 753.6,341 752.6,342.3 751.6,344.7 750.6,347.9 749.6,348.2 748.6,347.8 747.6,347.9 746.6,345.4 745.6,340.7 744.6,337 743.6,335.1 742.6,334.4 741.6,334.8 740.6,336.3 739.6,338.4 738.6,341.2 737.6,342.2 736.6,338.6 735.6,332 734.6,327.9 733.6,326.6 732.6,324.9 731.6,325.2 730.6,328.7 729.6,329.2 728.6,324.3 727.6,319.8 726.6,321.1 725.6,323.5 724.6,323.5 723.6,322.9 722.6,323.8 721.6,325.6 720.6,326.2 719.6,325.3 718.6,322.7 717.6,319.7 716.6,318.8 715.6,318.8 714.6,318.2 713.6,319.8 712.6,322.3 711.6,323.7 710.6,323.5 709.6,322 708.6,322.3 707.6,325.5 706.6,327.9 705.6,326.9 704.6,326.1 703.6,326.4 702.6,324.7 701.6,322.9 700.6,324.8 699.6,330.3 698.6,334.6 697.6,333.9 696.6,331.3 695.6,329.1 694.6,329.6 693.6,336.4 692.6,342.9 691.6,343 690.6,338.9 689.6,336 688.6,336.5 687.6,338.8 686.6,341.5 685.6,342.9 684.6,343.8 683.6,346.8 682.6,351.9 681.6,354.4 680.6,350.6 679.6,344.9 678.6,343 677.6,342.7 676.6,339.8 675.6,335.6 674.6,331.8 673.6,330.1 672.6,333.2 671.6,336.3 670.6,335 669.6,332.3 668.6,330.1 667.6,326.3 666.6,323.8 665.6,324.4 664.6,325.3 663.6,325.7 662.6,324.3 661.6,322.5 660.6,323.8 659.6,327.6 658.6,331.3 657.6,335.6 656.6,338.5 655.6,337.3 654.6,334.5 653.6,332.2 652.6,330.6 651.6,330 650.6,331.4 649.6,334.3 648.6,333.4 647.6,329 646.6,326.9 645.6,327.1 644.6,327.7 643.6,329.2 642.6,331.4 641.6,333.1 640.6,333.5 639.6,334.6 638.6,338.4 637.6,342.2 636.6,341.2 635.6,337 634.6,335.5 633.6,337.5 632.6,339.7 631.6,341.2 630.6,342.5 629.6,342.3 628.6,340.2 627.6,338.7 626.6,338.1 625.6,337.2 624.6,336.2 623.6,334.9 622.6,335.9 621.6,339.4 620.6,340.4 619.6,336.8 618.6,332.4 617.6,330.3 616.6,331.3 615.6,331.8 614.6,330.3 613.6,330.9 612.6,336.3 611.6,342.7 610.6,344.5 609.6,341.3 608.6,335.9 607.6,333.1 606.6,334.9 605.6,338.1 604.6,339.8 603.6,339.7 602.6,339.1 601.6,337.3 600.6,334.5 599.6,335.3 598.6,338.5 597.6,339.3 596.6,339.1 595.6,339.8 594.6,341.5 593.6,343.3 592.6,342.4 591.6,338.3 590.6,334.7 589.6,332.9 588.6,332.9 587.6,336.2 586.6,340.5 585.6,344.2 584.6,346.2 583.6,343.5 582.6,336.9 581.6,333.2 580.6,334.2 579.6,335.1 578.6,333.5 577.6,330.5 576.6,327.7 575.6,327.9 574.6,330 573.6,332.7 572.6,334.7 571.6,335 570.6,333.9 569.6,330.1 568.6,328.1 567.6,333.1 566.6,340 565.6,343.1 564.6,345.4 563.6,348.3 562.6,349.7 561.6,350.6 560.6,350.7 559.6,349.9 558.6,349.1 557.6,348.7 556.6,349.1 555.6,349.2 554.6,348.8 553.6,346.6 552.6,342 551.6,338.3 550.6,336.6 549.6,334.6 548.6,332.2 547.6,332.3 546.6,335.2 545.6,339.3 544.6,342.3 543.6,343.7 542.6,343.3 541.6,341.2 540.6,340.3 539.6,341.3 538.6,341.2 537.6,338.6 536.6,335.2 535.6,334.2 534.6,336.7 533.6,339.6 532.6,341 531.6,343.5 530.6,345.7 529.6,344.8 528.6,342 527.6,339.8 526.6,337.3 525.6,336.3 524.6,339.2 523.6,343.4 522.6,346.1 521.6,346.2 520.6,345.4 519.6,347 518.6,349.2 517.6,349.9 516.6,347.9 515.6,344.6 514.6,344.7 513.6,347.5 512.6,349.1 511.6,350.4 510.6,353.7 509.6,357.3 508.6,358.7 507.6,356.7 506.6,355.8 505.6,359.6 504.6,366.1 503.6,370 502.6,369.2 501.6,369.4 500.6,370.5 499.6,368.5 498.6,366.5 497.6,366.6 496.6,365.6 495.6,363.6 494.6,363.4 493.6,366.5 492.6,373.4 491.6,379.7 490.6,378.6 489.6,371.6 488.6,365.6 487.6,363.2 486.6,365.8 485.6,371.6 484.6,375.1 483.6,372.8 482.6,368 481.6,366.3 480.6,369.9 479.6,375.1 478.6,378 477.6,378.6 476.6,378.5 475.6,377.5 474.6,377.2 473.6,381.8 472.6,389.1 471.6,393 470.6,393 469.6,394.2 468.6,397.4 467.6,399.9 466.6,400.4 465.6,398.6 464.6,398.6 463.6,403.3 462.6,410.5 461.6,416.1 460.6,420.3 459.6,422.7 458.6,429 457.6,444.9 456.6,484.4" fill="#d95319" fill-opacity="0.33"/>
<polyline points="456.6,484.4 457.6,437.7 458.6,415.2 459.6,402.9 460.6,392.7 461.6,387.1 462.6,383.6 463.6,379.7 464.6,376 465.6,373.8 466.6,372.1 467.6,369.8 468.6,367 469.6,364.5 470.6,364 471.6,364.3 472.6,361.8 473.6,357.4 474.6,355.2 475.6,355.2 476.6,355.2 477.6,355.1 478.6,354.8 479.6,353.2 480.6,350.1 481.6,347.3 482.6,346.6 483.6,347.1 484.6,346.1 485.6,343.2 486.6,342 487.6,343.7 488.6,345.7 489.6,347.7 490.6,350.2 491.6,349.9 492.6,344.9 493.6,339.3 494.6,336.6 495.6,336.3 496.6,337.4 497.6,338.8 498.6,340.1 499.6,341.9 500.6,342.8 501.6,342.3 502.6,341.4 503.6,339.9 504.6,337.6 505.6,335.2 506.6,333.8 507.6,333.1 508.6,331.7 509.6,329.1 510.6,326.2 511.6,323.7 512.6,322.2 513.6,321.4 514.6,320.9 515.6,320.6 516.6,321.1 517.6,321.6 518.6,321.1 519.6,319.3 520.6,317.3 521.6,316.1 522.6,314.9 523.6,313.2 524.6,311 525.6,310 526.6,311.2 527.6,312.7 528.6,313.5 529.6,313.9 530.6,313.8 531.6,313.5 532.6,313.1 533.6,312 534.6,310.5 535.6,309.1 536.6,308.1 537.6,308.6 538.6,310.4 539.6,310.3 540.6,308.3 541.6,308.2 542.6,310.3 543.6,312.1 544.6,312.8 545.6,312.7 546.6,311.8 547.6,311.1 548.6,311.4 549.6,311.7 550.6,312.1 551.6,313.7 552.6,316.2 553.6,319.1 554.6,320.8 555.6,319.7 556.6,317.4 557.6,317 558.6,318.2 559.6,319.4 560.6,320.1 561.6,320.4 562.6,320.8 563.6,320.7 564.6,319.3 565.6,317.5 566.6,315 567.6,311.3 568.6,308 569.6,306.8 570.6,307.4 571.6,308.6 572.6,309.3 573.6,309.3 574.6,308.8 575.6,307.6 576.6,306.1 577.6,305.7 578.6,307 579.6,308.9 580.6,310 581.6,310.3 582.6,311.8 583.6,315 584.6,317.7 585.6,318.5 586.6,316.9 587.6,313.4 588.6,310.6 589.6,311 590.6,313.3 591.6,315.1 592.6,316.6 593.6,317.4 594.6,316.6 595.6,314.7 596.6,312.9 597.6,311.7 598.6,310.7 599.6,310.3 600.6,311.7 601.6,313.5 602.6,312.9 603.6,310.9 604.6,310.2 605.6,310.3 606.6,310.4 607.6,312.3 608.6,316.1 609.6,318.2 610.6,317.4 611.6,314.9 612.6,311.4 613.6,308.9 614.6,308.9 615.6,309.4 616.6,308.3 617.6,306.9 618.6,307.8 619.6,309.9 620.6,311.3 621.6,311.5 622.6,311.4 623.6,312.7 624.6,314.4 625.6,314.7 626.6,313.8 627.6,313 628.6,313.1 629.6,313 630.6,311.1 631.6,308.7 632.6,308 633.6,308.9 634.6,310.6 635.6,312.8 636.6,315.1 637.6,315.6 638.6,312.4 639.6,307.6 640.6,304.6 641.6,305.2 642.6,307.8 643.6,309.6 644.6,308.9 645.6,306.5 646.6,304.5 647.6,304.4 648.6,304.6 649.6,303.9 650.6,302.8 651.6,302.5 652.6,303 653.6,304.5 654.6,306.9 655.6,309.3 656.6,309.4 657.6,307 658.6,304.3 659.6,301.5 660.6,298.3 661.6,296.2 662.6,297.1 663.6,299.8 664.6,301.4 665.6,300.7 666.6,299.6 667.6,301 668.6,305.2 669.6,309.7 670.6,311.9 671.6,310.9 672.6,308.4 673.6,306.8 674.6,307.8 675.6,312 676.6,316.8 677.6,318.8 678.6,318.1 679.6,318.2 680.6,320.1 681.6,321.1 682.6,319.7 683.6,317.4 684.6,315.9 685.6,315.3 686.6,314.5 687.6,312.9 688.6,311.3 689.6,311.8 690.6,314.6 691.6,316.5 692.6,315 693.6,310.8 694.6,306.6 695.6,304.1 696.6,303.8 697.6,305.4 698.6,306.7 699.6,306.1 700.6,304.9 701.6,304.5 702.6,303.9 703.6,302.7 704.6,302.6 705.6,304 706.6,304.7 707.6,303 708.6,300.4 709.6,299.1 710.6,299.4 711.6,300 712.6,299.5 713.6,298.1 714.6,298.1 715.6,299.5 716.6,300.1 717.6,300 718.6,300.3 719.6,300.4 720.6,299.4 721.6,297.4 722.6,295.6 723.6,296.1 724.6,298.2 725.6,297.8 726.6,294.7 727.6,294.1 728.6,298.5 729.6,303.5 730.6,303.8 731.6,300.9 732.6,300.1 733.6,303.2 734.6,306.8 735.6,309.2 736.6,311.6 737.6,313.4 738.6,313.9 739.6,313.7 740.6,313.6 741.6,313.6 742.6,312.4 743.6,310.5 744.6,310.2 745.6,312.9 746.6,317.3 747.6,320 748.6,319.4 749.6,317.8 750.6,317.2 751.6,317.2 752.6,316.9 753.6,315.3 754.6,312.3 755.6,310 756.6,310 757.6,310.2 758.6,309.4 759.6,308.6 760.6,308.5 761.6,308.6 762.6,308.3 763.6,308 764.6,308.3 765.6,308.6 766.6,309 767.6,310.3 768.6,312.3 769.6,313.7 770.6,312.8 771.6,310 772.6,307.9 773.6,308.5 774.6,310.1 775.6,310.3 776.6,309 777.6,307.9 778.6,308.4 779.6,310.2 780.6,310.8 781.6,309.2 782.6,307.7 783.6,308.6 784.6,311 785.6,312.6 786.6,313.5" fill="none" stroke="#c9302c" stroke-width="1.6" stroke-linejoin="round"/>
<polygon points="456.6,484.4 457.6,428.6 458.6,397.5 459.6,381.1 460.6,369.6 461.6,362.6 462.6,354.8 463.6,347.4 464.6,342.2 465.6,338.1 466.6,333.6 467.6,329.7 468.6,327.4 469.6,324.3 470.6,320.8 471.6,319.7 472.6,319.4 473.6,317.1 474.6,313.7 475.6,311.4 476.6,309.5 477.6,308.6 478.6,311.7 479.6,314.4 480.6,312.7 481.6,308 482.6,302.8 483.6,300.3 484.6,300 485.6,299.5 486.6,298 487.6,296.5 488.6,295.5 489.6,293.2 490.6,291.3 491.6,290.1 492.6,288 493.6,284.2 494.6,279.4 495.6,277 496.6,278.4 497.6,279.7 498.6,277.8 499.6,277.1 500.6,278.7 501.6,277.7 502.6,274.8 503.6,272.6 504.6,270.7 505.6,270.1 506.6,270.9 507.6,270.1 508.6,267.6 509.6,264.9 510.6,261.7 511.6,260.3 512.6,261.5 513.6,262 514.6,261 515.6,261.8 516.6,265.3 517.6,268.3 518.6,268.7 519.6,266.1 520.6,261 521.6,256.5 522.6,254.6 523.6,254.7 524.6,256.6 525.6,258.4 526.6,257.6 527.6,254.6 528.6,254.2 529.6,257.9 530.6,261.8 531.6,260.5 532.6,254.7 533.6,249.1 534.6,247 535.6,248.7 536.6,251.7 537.6,252.1 538.6,248.4 539.6,243.9 540.6,243.3 541.6,245 542.6,246.1 543.6,248.6 544.6,253.6 545.6,258.5 546.6,259.5 547.6,255.8 548.6,251 549.6,250.5 550.6,253.5 551.6,256.4 552.6,256.7 553.6,253.6 554.6,251.3 555.6,251.5 556.6,251.9 557.6,252.9 558.6,255.8 559.6,260.1 560.6,263.8 561.6,264.7 562.6,263.2 563.6,260.3 564.6,258.5 565.6,259.6 566.6,263.4 567.6,266.3 568.6,264.4 569.6,259.4 570.6,254.3 571.6,251.8 572.6,252.3 573.6,253.2 574.6,253.7 575.6,254.9 576.6,256.2 577.6,257.1 578.6,259.7 579.6,260.4 580.6,256.2 581.6,251.2 582.6,249.2 583.6,248.6 584.6,246.3 585.6,242 586.6,238.4 587.6,239.2 588.6,241.8 589.6,241.9 590.6,239.9 591.6,240 592.6,243.4 593.6,246.4 594.6,246.4 595.6,243.2 596.6,240.9 597.6,242.1 598.6,243.6 599.6,243.9 600.6,244.2 601.6,245.5 602.6,246.6 603.6,245.4 604.6,241 605.6,236.7 606.6,236.7 607.6,238.9 608.6,238.6 609.6,237.9 610.6,239.6 611.6,242.2 612.6,241.8 613.6,239.1 614.6,238.7 615.6,240.4 616.6,240.1 617.6,238.7 618.6,238.7 619.6,240.2 620.6,242.3 621.6,244.1 622.6,245.2 623.6,244.9 624.6,244.1 625.6,243.8 626.6,244.3 627.6,242.3 628.6,237.1 629.6,235.3 630.6,237.1 631.6,238.4 632.6,239.5 633.6,241.1 634.6,240.7 635.6,239.4 636.6,239.2 637.6,237.9 638.6,236.1 639.6,237.5 640.6,239.7 641.6,239.5 642.6,237.2 643.6,235.8 644.6,236.2 645.6,236.8 646.6,235.5 647.6,233.4 648.6,234.2 649.6,237.4 650.6,238.2 651.6,238.1 652.6,239 653.6,238 654.6,234.4 655.6,230 656.6,228.4 657.6,230.3 658.6,231.5 659.6,230.5 660.6,229.7 661.6,230.1 662.6,230.6 663.6,230.6 664.6,231 665.6,229 666.6,225 667.6,223.9 668.6,226.1 669.6,227.8 670.6,227.7 671.6,225.6 672.6,222.1 673.6,220.3 674.6,220.2 675.6,220.1 676.6,222.3 677.6,225.8 678.6,227 679.6,227.5 680.6,229.2 681.6,230.6 682.6,231.2 683.6,230.8 684.6,229.1 685.6,229.1 686.6,230.5 687.6,230.2 688.6,229.1 689.6,229 690.6,227.9 691.6,227.3 692.6,229.7 693.6,231.6 694.6,228.4 695.6,224.7 696.6,226.7 697.6,231.1 698.6,231.4 699.6,226.3 700.6,220.1 701.6,217.9 702.6,219.3 703.6,220.6 704.6,221.4 705.6,222.7 706.6,224.8 707.6,227.6 708.6,230.3 709.6,230.8 710.6,230.3 711.6,230.8 712.6,231.2 713.6,230 714.6,228.7 715.6,229.6 716.6,232.1 717.6,234.4 718.6,236.2 719.6,237.1 720.6,236.3 721.6,235.4 722.6,235.5 723.6,236 724.6,237.3 725.6,238.9 726.6,239.4 727.6,238.8 728.6,239.2 729.6,239.9 730.6,240.8 731.6,242.8 732.6,245.8 733.6,249.3 734.6,251 735.6,249.3 736.6,245.9 737.6,243.1 738.6,241.7 739.6,242 740.6,243.6 741.6,245.8 742.6,246 743.6,245.5 744.6,248 745.6,250.4 746.6,249.3 747.6,246.6 748.6,245.8 749.6,247.5 750.6,250.3 751.6,254.1 752.6,257.4 753.6,257.7 754.6,255.8 755.6,254.4 756.6,254.6 757.6,252.9 758.6,247.8 759.6,242.9 760.6,241.5 761.6,242 762.6,241.9 763.6,241 764.6,241.4 765.6,244.9 766.6,247.3 767.6,247.1 768.6,245.4 769.6,241.9 770.6,239 771.6,238.6 772.6,238.3 773.6,236.1 774.6,234.3 775.6,233.7 776.6,233.2 777.6,233.4 778.6,233.4 779.6,232.8 780.6,232.6 781.6,234.2 782.6,237.3 783.6,240.8 784.6,244.3 785.6,245.6 786.6,242.8 786.6,284.3 785.6,281 784.6,277.1 783.6,274.7 782.6,274.6 781.6,273.5 780.6,271.8 779.6,272.1 778.6,273.6 777.6,274.2 776.6,272.1 775.6,270.9 774.6,273.8 773.6,276.6 772.6,277.4 771.6,279.3 770.6,282.8 769.6,286.2 768.6,287.8 767.6,288.9 766.6,290.6 765.6,290.1 764.6,286.4 763.6,283 762.6,280.8 761.6,281.2 760.6,283.8 759.6,286 758.6,287.8 757.6,289 756.6,290.7 755.6,293.8 754.6,295.8 753.6,296.9 752.6,297.5 751.6,296.4 750.6,294 749.6,292.8 748.6,293.7 747.6,294.5 746.6,293.5 745.6,289.1 744.6,283.7 743.6,282.6 742.6,285.6 741.6,289.6 740.6,293.1 739.6,295 738.6,293.5 737.6,291 736.6,289.8 735.6,289.6 734.6,291.4 733.6,294.8 732.6,296.3 731.6,295.3 730.6,292.5 729.6,289.6 728.6,286.6 727.6,284 726.6,283.9 725.6,285.4 724.6,284.6 723.6,280.2 722.6,276.6 721.6,276.2 720.6,276.3 719.6,276.3 718.6,277.2 717.6,278.4 716.6,279 715.6,278.9 714.6,279 713.6,280.7 712.6,282.8 711.6,282.1 710.6,278.1 709.6,274.4 708.6,273.1 707.6,272.8 706.6,270.3 705.6,266.6 704.6,265 703.6,264.3 702.6,264.4 701.6,264.6 700.6,265.8 699.6,269 698.6,272.5 697.6,274.1 696.6,273.4 695.6,271.7 694.6,271 693.6,271.9 692.6,271.6 691.6,269.6 690.6,268.8 689.6,270.9 688.6,273.5 687.6,273.7 686.6,271.8 685.6,269.3 684.6,267.1 683.6,267.5 682.6,270.6 681.6,273.8 680.6,274.9 679.6,272.4 678.6,269.1 677.6,269.2 676.6,270.8 675.6,271.7 674.6,272 673.6,270.4 672.6,267 671.6,264.9 670.6,266.8 669.6,272.1 668.6,276.6 667.6,275.1 666.6,268.6 665.6,263.7 664.6,261.5 663.6,261 662.6,264.6 661.6,268.8 660.6,270.9 659.6,274 658.6,275.8 657.6,273.6 656.6,271.9 655.6,274 654.6,277.6 653.6,280.6 652.6,282.3 651.6,281.1 650.6,279.9 649.6,281.9 648.6,283 647.6,280.3 646.6,277.7 645.6,277.8 644.6,280.1 643.6,281.9 642.6,280.7 641.6,278.9 640.6,280 639.6,282.7 638.6,282.9 637.6,282.5 636.6,284.7 635.6,286 634.6,285.9 633.6,285.6 632.6,284 631.6,282.4 630.6,282.4 629.6,282.7 628.6,282.5 627.6,281.3 626.6,281.1 625.6,283.5 624.6,285.2 623.6,285.3 622.6,285.1 621.6,284.8 620.6,284.9 619.6,283.6 618.6,280.6 617.6,280 616.6,283.6 615.6,287.2 614.6,287.4 613.6,284.8 612.6,283.3 611.6,285.7 610.6,288.9 609.6,288.4 608.6,287.3 607.6,287.3 606.6,287.3 605.6,287.2 604.6,286.8 603.6,284.5 602.6,281.5 601.6,281.7 600.6,283.6 599.6,285.2 598.6,286.4 597.6,287.6 596.6,288.5 595.6,286.7 594.6,284.4 593.6,285.1 592.6,286.7 591.6,286.6 590.6,285.3 589.6,286.3 588.6,289.5 587.6,291.9 586.6,293.8 585.6,295.7 584.6,295.8 583.6,294.1 582.6,293.2 581.6,295.1 580.6,298.3 579.6,301 578.6,302.2 577.6,301.9 576.6,302.2 575.6,305.1 574.6,306.4 573.6,305.3 572.6,304.5 571.6,303.3 570.6,302.6 569.6,302.2 568.6,302.6 567.6,305.3 566.6,307.5 565.6,306.2 564.6,303.3 563.6,301.7 562.6,301.6 561.6,301.8 560.6,301.2 559.6,300.5 558.6,300.6 557.6,300.8 556.6,299.8 555.6,298.1 554.6,297.5 553.6,296.4 552.6,294.5 551.6,296.1 550.6,298.7 549.6,296.2 548.6,292.6 547.6,293.8 546.6,297.3 545.6,298.8 544.6,297 543.6,293.1 542.6,291.5 541.6,293.1 540.6,293.5 539.6,293.2 538.6,294.4 537.6,295.4 536.6,295.1 535.6,293.8 534.6,293.1 533.6,294.8 532.6,298.6 531.6,301.8 530.6,301.9 529.6,299.8 528.6,297.5 527.6,296.1 526.6,295.3 525.6,296.3 524.6,299.4 523.6,301.4 522.6,301.5 521.6,303.8 520.6,308.1 519.6,310.1 518.6,309.5 517.6,307.1 516.6,304 515.6,302.8 514.6,303.8 513.6,306.7 512.6,309.4 511.6,309.8 510.6,308.7 509.6,310.4 508.6,315.1 507.6,318 506.6,319.6 505.6,320.6 504.6,319.1 503.6,317 502.6,316.8 501.6,317.7 500.6,318.4 499.6,319.5 498.6,322.4 497.6,325 496.6,324.8 495.6,324.2 494.6,325.1 493.6,327.7 492.6,330.7 491.6,332.1 490.6,332.9 489.6,334 488.6,333.9 487.6,334.8 486.6,339.5 485.6,344.4 484.6,344.1 483.6,339.7 482.6,336.2 481.6,337.7 480.6,343.3 479.6,348.7 478.6,352.2 477.6,355.6 476.6,359.4 475.6,361.2 474.6,360.1 473.6,358.6 472.6,358.2 471.6,358.8 470.6,361.3 469.6,365.1 468.6,369.1 467.6,374.1 466.6,378.7 465.6,381.2 464.6,383 463.6,386.9 462.6,393.6 461.6,401.6 460.6,409.8 459.6,413.1 458.6,419.6 457.6,440 456.6,484.4" fill="#5a9a3a" fill-opacity="0.3"/>
<polyline points="456.6,484.4 457.6,434.7 458.6,409.6 459.6,397.1 460.6,387.7 461.6,380.3 462.6,374.5 463.6,369.4 464.6,364.9 465.6,360.8 466.6,357 467.6,354.2 468.6,352 469.6,349.4 470.6,346.6 471.6,343.7 472.6,341.4 473.6,339.7 474.6,337.7 475.6,334.9 476.6,331.7 477.6,329.2 478.6,328.4 479.6,328.1 480.6,326.3 481.6,323.4 482.6,321.1 483.6,320.5 484.6,320.1 485.6,318.7 486.6,317.3 487.6,316.2 488.6,315.2 489.6,314.5 490.6,314 491.6,312.5 492.6,309.1 493.6,305.1 494.6,302.4 495.6,301.4 496.6,300.9 497.6,299.3 498.6,296.7 499.6,295 500.6,295.1 501.6,295.4 502.6,294.5 503.6,293.4 504.6,292.9 505.6,292.6 506.6,292.5 507.6,291.5 508.6,289.3 509.6,286.8 510.6,285.3 511.6,285.3 512.6,285.9 513.6,285.4 514.6,283.9 515.6,282.7 516.6,282.4 517.6,283.4 518.6,285.4 519.6,286.6 520.6,285.7 521.6,283.5 522.6,281.5 523.6,279.7 524.6,278.3 525.6,277.5 526.6,277.1 527.6,277.1 528.6,277.5 529.6,278.5 530.6,279.7 531.6,279.1 532.6,276 533.6,272.7 534.6,271.1 535.6,271 536.6,271.1 537.6,271.3 538.6,271.3 539.6,271.1 540.6,270.6 541.6,269.1 542.6,267.8 543.6,268.6 544.6,270.8 545.6,272.9 546.6,274.2 547.6,273.7 548.6,272.5 549.6,273.3 550.6,275.7 551.6,277.2 552.6,277.1 553.6,276.4 554.6,276.2 555.6,276.6 556.6,277.4 557.6,278.5 558.6,279.6 559.6,280.3 560.6,280.9 561.6,281.8 562.6,283.1 563.6,284.1 564.6,284.1 565.6,284 566.6,284.6 567.6,284.5 568.6,282.7 569.6,280.1 570.6,278.7 571.6,279.1 572.6,280.3 573.6,281.2 574.6,282 575.6,282.5 576.6,282 577.6,281.5 578.6,281.5 579.6,280.9 580.6,278.7 581.6,275.3 582.6,272.6 583.6,271 584.6,269.7 585.6,267.8 586.6,266.2 587.6,265.8 588.6,265.9 589.6,265.3 590.6,264.8 591.6,265.1 592.6,265.3 593.6,264.9 594.6,264.3 595.6,264.1 596.6,263.7 597.6,263 598.6,262.6 599.6,262.7 600.6,263.1 601.6,264.3 602.6,265.2 603.6,264.9 604.6,263.2 605.6,260.9 606.6,259.7 607.6,260.6 608.6,262.5 609.6,263.6 610.6,263.9 611.6,263.7 612.6,263.3 613.6,263.4 614.6,263.8 615.6,263.6 616.6,262.5 617.6,261.3 618.6,261 619.6,262.3 620.6,264.7 621.6,266 622.6,265.6 623.6,264.9 624.6,264.2 625.6,262.6 626.6,260.5 627.6,259.1 628.6,258.9 629.6,260.2 630.6,261.5 631.6,261.6 632.6,262 633.6,263.6 634.6,264.3 635.6,263.2 636.6,261.4 637.6,260.2 638.6,260.1 639.6,261 640.6,262.3 641.6,262.5 642.6,261.3 643.6,259.7 644.6,258 645.6,256.1 646.6,255.1 647.6,255.8 648.6,257.3 649.6,258.3 650.6,258.8 651.6,259.7 652.6,260.7 653.6,260.2 654.6,258.1 655.6,255.8 656.6,254.6 657.6,254.9 658.6,255 659.6,253.9 660.6,251.9 661.6,249.6 662.6,247.9 663.6,248.2 664.6,249.6 665.6,249.3 666.6,247.4 667.6,246.6 668.6,247.2 669.6,247.7 670.6,247.5 671.6,247.6 672.6,248 673.6,247.9 674.6,247.1 675.6,246.5 676.6,246.9 677.6,248.6 678.6,250.5 679.6,251.2 680.6,250.2 681.6,248.2 682.6,246.7 683.6,246.2 684.6,246.5 685.6,247.4 686.6,248.3 687.6,249 688.6,249.7 689.6,250.1 690.6,250.1 691.6,250.8 692.6,252.3 693.6,252.5 694.6,250.3 695.6,247.8 696.6,247.1 697.6,247.3 698.6,246.7 699.6,245.4 700.6,244.4 701.6,244.4 702.6,245.3 703.6,246.6 704.6,247.1 705.6,246.6 706.6,246.7 707.6,248.8 708.6,251.3 709.6,253.2 710.6,255 711.6,256.3 712.6,256.8 713.6,257 714.6,256.7 715.6,256.1 716.6,256.3 717.6,257.5 718.6,259.1 719.6,260.7 720.6,261.4 721.6,260.9 722.6,260.4 723.6,260.4 724.6,260.7 725.6,260.7 726.6,260.2 727.6,260.3 728.6,262 729.6,264.2 730.6,266.5 731.6,268.5 732.6,269.3 733.6,269.2 734.6,268.8 735.6,268.2 736.6,267.5 737.6,267.3 738.6,267.6 739.6,268.3 740.6,268.6 741.6,267.9 742.6,266.4 743.6,265.5 744.6,266 745.6,267.3 746.6,268.4 747.6,269.3 748.6,270.6 749.6,272.2 750.6,273.8 751.6,274.5 752.6,274.1 753.6,272.7 754.6,270.9 755.6,269.7 756.6,269 757.6,268 758.6,266.6 759.6,265.4 760.6,264.8 761.6,264.4 762.6,264.5 763.6,265.4 764.6,265.4 765.6,263.3 766.6,260.5 767.6,259.6 768.6,260.5 769.6,261.3 770.6,261 771.6,260.5 772.6,259.2 773.6,257 774.6,255 775.6,254.4 776.6,255 777.6,255.9 778.6,256.6 779.6,256.8 780.6,256.9 781.6,257.3 782.6,258.3 783.6,259.4 784.6,260 785.6,260.4 786.6,260.8" fill="none" stroke="#5ca234" stroke-width="1.6" stroke-linejoin="round"/>
<polygon points="456.6,484.4 457.6,427.5 458.6,396.4 459.6,379 460.6,364.5 461.6,356.6 462.6,350.6 463.6,346.1 464.6,342.9 465.6,339.5 466.6,335.4 467.6,331.5 468.6,328.9 469.6,327.2 470.6,325 471.6,321.1 472.6,317.6 473.6,315 474.6,311.9 475.6,307.8 476.6,304.4 477.6,303 478.6,303.4 479.6,304.9 480.6,304.5 481.6,301 482.6,296.4 483.6,294.2 484.6,293.7 485.6,291.9 486.6,288.3 487.6,284.8 488.6,283.6 489.6,283.4 490.6,281.7 491.6,278.5 492.6,274.4 493.6,273 494.6,276.5 495.6,281.7 496.6,284.9 497.6,284.6 498.6,283 499.6,279.9 500.6,275.8 501.6,272 502.6,269.2 503.6,268.9 504.6,268.6 505.6,267 506.6,266 507.6,266.8 508.6,268.2 509.6,267.5 510.6,263.9 511.6,261.2 512.6,261.2 513.6,262.4 514.6,263.2 515.6,262.1 516.6,259.7 517.6,257.6 518.6,255.7 519.6,254.7 520.6,255.2 521.6,256.2 522.6,256.6 523.6,255.9 524.6,255.1 525.6,255 526.6,254.1 527.6,253.3 528.6,254.6 529.6,256.3 530.6,256.2 531.6,252.2 532.6,248.1 533.6,248.6 534.6,250.2 535.6,251.6 536.6,252.9 537.6,252.8 538.6,252 539.6,251.9 540.6,251.1 541.6,250.9 542.6,253.1 543.6,253.4 544.6,250.2 545.6,247.4 546.6,246.5 547.6,245.7 548.6,246 549.6,247.3 550.6,247.3 551.6,244.7 552.6,242.1 553.6,242.1 554.6,243.2 555.6,243.4 556.6,242.9 557.6,243.1 558.6,243.3 559.6,242.7 560.6,242.8 561.6,244.7 562.6,247.3 563.6,247.8 564.6,245.5 565.6,242 566.6,240.2 567.6,241.6 568.6,242.9 569.6,243.5 570.6,245.2 571.6,246.2 572.6,246.8 573.6,246.6 574.6,243.7 575.6,239.5 576.6,237 577.6,236.8 578.6,237.6 579.6,237.3 580.6,235.2 581.6,231.8 582.6,228.7 583.6,228.7 584.6,231.5 585.6,233.4 586.6,232.5 587.6,229.5 588.6,226.4 589.6,225 590.6,226.2 591.6,229.2 592.6,231.1 593.6,229.1 594.6,224.8 595.6,223.5 596.6,223.9 597.6,223.8 598.6,224.2 599.6,225.3 600.6,227.9 601.6,230.5 602.6,228.1 603.6,223.7 604.6,224.8 605.6,228.3 606.6,228.3 607.6,226.3 608.6,226 609.6,227.5 610.6,227.7 611.6,225.6 612.6,224.6 613.6,226.4 614.6,228.6 615.6,229.5 616.6,228 617.6,224.6 618.6,223.2 619.6,223.8 620.6,223.1 621.6,221.9 622.6,222.7 623.6,224 624.6,224.9 625.6,225.5 626.6,223 627.6,219.2 628.6,217.8 629.6,218.5 630.6,219.5 631.6,219.8 632.6,218.7 633.6,216.1 634.6,213.6 635.6,211.6 636.6,209.8 637.6,209.4 638.6,210.2 639.6,210.5 640.6,210.3 641.6,210.6 642.6,211 643.6,211.6 644.6,211.9 645.6,213.2 646.6,215.8 647.6,217.3 648.6,215.8 649.6,212.7 650.6,211.3 651.6,213.1 652.6,215.4 653.6,217 654.6,217.4 655.6,214.3 656.6,211.4 657.6,211.2 658.6,208.8 659.6,205.3 660.6,205 661.6,207.6 662.6,209.3 663.6,208.3 664.6,207.8 665.6,209.2 666.6,210.8 667.6,211.8 668.6,211.4 669.6,210.3 670.6,209 671.6,206.5 672.6,205.2 673.6,206.6 674.6,208.6 675.6,209.9 676.6,211.4 677.6,213.9 678.6,215.7 679.6,214.8 680.6,211.8 681.6,208.7 682.6,207.5 683.6,207.9 684.6,208.1 685.6,207.7 686.6,206.6 687.6,206.3 688.6,208.2 689.6,208.7 690.6,205.4 691.6,201.6 692.6,199.6 693.6,197.8 694.6,196.7 695.6,198.6 696.6,200 697.6,198.6 698.6,197.6 699.6,198.2 700.6,198.5 701.6,198.6 702.6,199.2 703.6,201.8 704.6,204.2 705.6,203.6 706.6,203.6 707.6,204.9 708.6,205.3 709.6,204.9 710.6,205.2 711.6,206.9 712.6,208.4 713.6,208.2 714.6,205.9 715.6,205.3 716.6,208.3 717.6,212.1 718.6,212.9 719.6,212 720.6,210.7 721.6,208.4 722.6,207.2 723.6,205.8 724.6,202.3 725.6,199 726.6,199.1 727.6,202 728.6,204.9 729.6,204.8 730.6,203.8 731.6,206.1 732.6,208.8 733.6,207.7 734.6,204.5 735.6,202.2 736.6,201.1 737.6,201.4 738.6,202.5 739.6,203.7 740.6,205.7 741.6,208 742.6,208.4 743.6,206.9 744.6,206 745.6,206.6 746.6,207.9 747.6,207.7 748.6,206.5 749.6,205.8 750.6,206.8 751.6,207.4 752.6,206.7 753.6,204.9 754.6,200.5 755.6,197.1 756.6,198.4 757.6,200.5 758.6,199.4 759.6,197.2 760.6,195.8 761.6,194.1 762.6,191.5 763.6,189.6 764.6,190.1 765.6,192 766.6,193.5 767.6,194.8 768.6,197.8 769.6,199.7 770.6,198.4 771.6,196.6 772.6,196.3 773.6,195.7 774.6,192 775.6,187.6 776.6,186.8 777.6,191.6 778.6,196.8 779.6,197.3 780.6,193.3 781.6,188.5 782.6,185.4 783.6,184.5 784.6,184.4 785.6,183.2 786.6,180.3 786.6,220.5 785.6,221.4 784.6,221.7 783.6,224.7 782.6,227.5 781.6,227.7 780.6,227.4 779.6,227.1 778.6,225.8 777.6,225 776.6,224.7 775.6,223.7 774.6,224.1 773.6,228.5 772.6,235.5 771.6,240.3 770.6,241 769.6,239.3 768.6,238.1 767.6,239.7 766.6,241.2 765.6,238.2 764.6,234.3 763.6,232.7 762.6,230.8 761.6,228.2 760.6,227.8 759.6,231.4 758.6,235.6 757.6,236.4 756.6,235.8 755.6,237.3 754.6,238.9 753.6,238.7 752.6,238.8 751.6,240.7 750.6,241.9 749.6,241.8 748.6,243.9 747.6,245.3 746.6,244.3 745.6,244.4 744.6,245.3 743.6,245.8 742.6,247.6 741.6,249.5 740.6,247.7 739.6,244.4 738.6,244.6 737.6,247.1 736.6,248.5 735.6,246.9 734.6,242.5 733.6,240.1 732.6,240.1 731.6,239.6 730.6,239.4 729.6,239.4 728.6,240.8 727.6,243 726.6,242.6 725.6,240.7 724.6,241.5 723.6,244.1 722.6,244.9 721.6,243.3 720.6,241.8 719.6,243 718.6,246 717.6,246.5 716.6,245.2 715.6,246.2 714.6,247.9 713.6,248.9 712.6,249.7 711.6,248.7 710.6,245 709.6,241.8 708.6,241.9 707.6,244.8 706.6,246.6 705.6,245.9 704.6,243.7 703.6,240.8 702.6,238.1 701.6,236.8 700.6,236.9 699.6,237.7 698.6,238.3 697.6,238.7 696.6,238.3 695.6,237.8 694.6,238.5 693.6,239.9 692.6,239.6 691.6,238.3 690.6,237.2 689.6,237 688.6,238.5 687.6,240.8 686.6,242 685.6,242.2 684.6,242.8 683.6,244.7 682.6,248.2 681.6,250.6 680.6,252.1 679.6,253.5 678.6,251.8 677.6,247.4 676.6,246.3 675.6,248.2 674.6,246.9 673.6,244.2 672.6,244.2 671.6,244.4 670.6,244.6 669.6,248 668.6,251.8 667.6,250.3 666.6,245.9 665.6,245.2 664.6,248.6 663.6,252.3 662.6,254.5 661.6,254.1 660.6,251.1 659.6,247.5 658.6,245.7 657.6,248.6 656.6,254.2 655.6,256.6 654.6,254.7 653.6,251.6 652.6,250.7 651.6,251.6 650.6,251.4 649.6,250.1 648.6,250.2 647.6,252.3 646.6,253.8 645.6,252.7 644.6,250.6 643.6,251.2 642.6,253.9 641.6,255.7 640.6,255.7 639.6,253.7 638.6,252.8 637.6,254.3 636.6,256.3 635.6,257.4 634.6,257.2 633.6,256.4 632.6,256.2 631.6,257.9 630.6,261.2 629.6,264.8 628.6,267.6 627.6,266.3 626.6,262.2 625.6,260.1 624.6,261.6 623.6,264.4 622.6,264 621.6,262 620.6,262.6 619.6,264.5 618.6,264 617.6,262.3 616.6,261.5 615.6,263.3 614.6,265.7 613.6,266.5 612.6,264.9 611.6,263.6 610.6,263.5 609.6,263.1 608.6,261.9 607.6,260.8 606.6,261.2 605.6,263.8 604.6,267.3 603.6,270.2 602.6,270.8 601.6,267.8 600.6,264.4 599.6,264 598.6,264.6 597.6,264.7 596.6,264.9 595.6,265.7 594.6,267.5 593.6,268.9 592.6,268.9 591.6,267.9 590.6,267.5 589.6,267.9 588.6,269.4 587.6,272.3 586.6,272.8 585.6,269.6 584.6,267.7 583.6,270.5 582.6,275 581.6,276.9 580.6,277.8 579.6,279.2 578.6,278.5 577.6,277.1 576.6,278.1 575.6,277.7 574.6,275.3 573.6,274.9 572.6,277.1 571.6,279.6 570.6,280.9 569.6,280.7 568.6,281.4 567.6,282.1 566.6,281.5 565.6,282.1 564.6,283.3 563.6,283 562.6,282 561.6,282.8 560.6,285 559.6,287.2 558.6,286.2 557.6,283.1 556.6,281.9 555.6,283 554.6,284.8 553.6,285.1 552.6,284 551.6,283.2 550.6,284.1 549.6,286.5 548.6,288.3 547.6,289.2 546.6,290.3 545.6,290.4 544.6,289.9 543.6,289.9 542.6,290 541.6,289.3 540.6,287.5 539.6,286.4 538.6,286 537.6,285.4 536.6,284.8 535.6,284.5 534.6,283.8 533.6,284.9 532.6,289.8 531.6,293.4 530.6,291.2 529.6,286.7 528.6,284.9 527.6,286.3 526.6,288.9 525.6,291.9 524.6,295.3 523.6,298.5 522.6,299.4 521.6,297.3 520.6,294.8 519.6,295.2 518.6,297.8 517.6,298.9 516.6,297.8 515.6,298.1 514.6,299.8 513.6,299.5 512.6,299 511.6,300.4 510.6,302.1 509.6,303.1 508.6,303.7 507.6,303.4 506.6,303 505.6,304.1 504.6,306.4 503.6,308.3 502.6,310 501.6,311.7 500.6,311.9 499.6,312.3 498.6,314 497.6,316.9 496.6,319.8 495.6,321.4 494.6,322.3 493.6,322.5 492.6,321.3 491.6,320.5 490.6,320.9 489.6,321.2 488.6,322.3 487.6,324.8 486.6,326.8 485.6,328.3 484.6,330.6 483.6,334.2 482.6,337.3 481.6,338.7 480.6,338.2 479.6,338.6 478.6,341.9 477.6,344.8 476.6,346.3 475.6,347.8 474.6,348.4 473.6,349.7 472.6,352 471.6,353.9 470.6,357.3 469.6,362.9 468.6,368.6 467.6,371.9 466.6,373.4 465.6,375.9 464.6,379.5 463.6,383.5 462.6,388 461.6,393.9 460.6,403 459.6,408.9 458.6,416.2 457.6,437.8 456.6,484.4" fill="#c0c040" fill-opacity="0.3"/>
<polyline points="456.6,484.4 457.6,433 458.6,407.3 459.6,395.1 460.6,385.7 461.6,378.2 462.6,372.6 463.6,367.4 464.6,362.4 465.6,357.6 466.6,353.4 467.6,350.6 468.6,348.4 469.6,344.9 470.6,340.3 471.6,336.4 472.6,334.1 473.6,332.2 474.6,329.6 475.6,327.1 476.6,326 477.6,325.6 478.6,324.1 479.6,321.8 480.6,319.7 481.6,317.9 482.6,316.5 483.6,314.9 484.6,312.8 485.6,310.9 486.6,309.5 487.6,308.4 488.6,307 489.6,305.1 490.6,303.1 491.6,301.4 492.6,300.1 493.6,299.8 494.6,300.5 495.6,301.1 496.6,301 497.6,300.1 498.6,298.9 499.6,297.1 500.6,294.5 501.6,292.1 502.6,291 503.6,290.5 504.6,289.2 505.6,287.1 506.6,285.6 507.6,285.2 508.6,284.8 509.6,284 510.6,283 511.6,281.8 512.6,280.4 513.6,279.7 514.6,279.6 515.6,279.4 516.6,279.1 517.6,278.9 518.6,278.7 519.6,278.6 520.6,278.7 521.6,278.4 522.6,277.8 523.6,276.9 524.6,275.6 525.6,273.8 526.6,271.7 527.6,270.4 528.6,270.7 529.6,271.7 530.6,272.3 531.6,271.8 532.6,270.7 533.6,269.8 534.6,269.5 535.6,269 536.6,268.4 537.6,268.7 538.6,270.1 539.6,271.4 540.6,271.8 541.6,270.9 542.6,269.7 543.6,268.7 544.6,268.7 545.6,269.5 546.6,269.9 547.6,269.9 548.6,269.5 549.6,268.5 550.6,267 551.6,265.4 552.6,264.3 553.6,264.1 554.6,264.3 555.6,264.2 556.6,264 557.6,264.6 558.6,265.6 559.6,265.7 560.6,264.6 561.6,262.9 562.6,261.6 563.6,261.4 564.6,261.8 565.6,261.8 566.6,261.4 567.6,261.1 568.6,260.9 569.6,260.8 570.6,261.3 571.6,261.2 572.6,259.6 573.6,257.4 574.6,256 575.6,255.4 576.6,254.9 577.6,254.6 578.6,255.2 579.6,256 580.6,255.6 581.6,253.9 582.6,252 583.6,250.5 584.6,249.8 585.6,249.9 586.6,249.8 587.6,249.5 588.6,249.3 589.6,248.4 590.6,247 591.6,246.5 592.6,246.6 593.6,246 594.6,244.4 595.6,243.7 596.6,244.5 597.6,245.1 598.6,244.4 599.6,244.2 600.6,245.3 601.6,246.7 602.6,247 603.6,246.5 604.6,245.7 605.6,245.1 606.6,244.8 607.6,244.9 608.6,245.6 609.6,246.1 610.6,245.6 611.6,244.8 612.6,244.5 613.6,244.3 614.6,243.6 615.6,243.2 616.6,243.3 617.6,243.6 618.6,244 619.6,244.5 620.6,244.3 621.6,243 622.6,241.8 623.6,241.7 624.6,242 625.6,241.8 626.6,241.4 627.6,241.5 628.6,241.1 629.6,240 630.6,239.1 631.6,238.7 632.6,237.9 633.6,237 634.6,236.6 635.6,235.9 636.6,234 637.6,231.7 638.6,230.8 639.6,231.8 640.6,232.9 641.6,232.4 642.6,231.5 643.6,231.1 644.6,231.1 645.6,231.7 646.6,233 647.6,233.9 648.6,233.5 649.6,233 650.6,233.4 651.6,234 652.6,234 653.6,233.5 654.6,233.2 655.6,232.7 656.6,231.1 657.6,229 658.6,227.6 659.6,228.1 660.6,230.3 661.6,232 662.6,232.7 663.6,232.6 664.6,231.7 665.6,230.4 666.6,229.7 667.6,229.9 668.6,230.7 669.6,230.7 670.6,229.5 671.6,227.9 672.6,226.8 673.6,227.2 674.6,228.6 675.6,230 676.6,230.7 677.6,231.3 678.6,232.1 679.6,232.3 680.6,231.3 681.6,229.4 682.6,228 683.6,226.9 684.6,225.7 685.6,224.9 686.6,224.2 687.6,223.8 688.6,224 689.6,224.8 690.6,225 691.6,223.9 692.6,222 693.6,220.5 694.6,220.2 695.6,220.5 696.6,220.1 697.6,219 698.6,218.7 699.6,219.1 700.6,219 701.6,218.5 702.6,218.3 703.6,219.4 704.6,221.3 705.6,223.3 706.6,225.2 707.6,226.2 708.6,225.9 709.6,225.8 710.6,227 711.6,228.3 712.6,228.3 713.6,227.9 714.6,227.2 715.6,226.6 716.6,227.4 717.6,228.8 718.6,228.8 719.6,226.9 720.6,225.2 721.6,224.7 722.6,224.4 723.6,223.5 724.6,222.6 725.6,221.7 726.6,221.5 727.6,222.2 728.6,222.6 729.6,222.1 730.6,220.9 731.6,220.4 732.6,220.9 733.6,221.3 734.6,221 735.6,220.9 736.6,221.4 737.6,221.9 738.6,222.3 739.6,223.2 740.6,224.8 741.6,226.2 742.6,226.4 743.6,225.9 744.6,225.8 745.6,226.3 746.6,226.7 747.6,226.1 748.6,224.4 749.6,222.9 750.6,223 751.6,223.9 752.6,224 753.6,223.3 754.6,222.2 755.6,220.9 756.6,219.8 757.6,219.1 758.6,218 759.6,216.6 760.6,215.7 761.6,215.3 762.6,214.8 763.6,214 764.6,213.9 765.6,215 766.6,216.2 767.6,216.8 768.6,216.7 769.6,216.5 770.6,216.7 771.6,217.2 772.6,216.5 773.6,214.1 774.6,211.7 775.6,210.3 776.6,210.4 777.6,211.3 778.6,212.2 779.6,212 780.6,210.5 781.6,208.1 782.6,205.3 783.6,203.2 784.6,202.5 785.6,202.5 786.6,202.4" fill="none" stroke="#b8b830" stroke-width="1.6" stroke-linejoin="round"/>
<polygon points="456.6,484.4 457.6,426.5 458.6,395.3 459.6,381.1 460.6,372.3 461.6,363.5 462.6,351.8 463.6,343.5 464.6,339.5 465.6,337 466.6,334.6 467.6,330.2 468.6,324.6 469.6,321.4 470.6,320.6 471.6,320.8 472.6,321.7 473.6,320.4 474.6,316.1 475.6,313.3 476.6,312.7 477.6,311.5 478.6,310.3 479.6,310.6 480.6,310 481.6,307.3 482.6,303.7 483.6,299.8 484.6,296.7 485.6,296.5 486.6,299.3 487.6,302 488.6,301 489.6,296.9 490.6,292.9 491.6,290.4 492.6,288 493.6,287.1 494.6,288 495.6,286.2 496.6,282.9 497.6,282.9 498.6,284.3 499.6,283 500.6,281.9 501.6,282.6 502.6,281.8 503.6,280.2 504.6,280.7 505.6,283.9 506.6,285.9 507.6,283 508.6,276.9 509.6,270.2 510.6,264.5 511.6,262.1 512.6,264.1 513.6,267.5 514.6,268.6 515.6,265.5 516.6,261.2 517.6,258 518.6,255.1 519.6,253.7 520.6,253.9 521.6,251.4 522.6,247.5 523.6,246 524.6,245.9 525.6,246.1 526.6,245.3 527.6,243.5 528.6,243.5 529.6,244 530.6,244.5 531.6,246.4 532.6,248.4 533.6,248.4 534.6,247 535.6,244.2 536.6,241.1 537.6,239.6 538.6,240.4 539.6,241.9 540.6,243.7 541.6,245.2 542.6,244.3 543.6,243 544.6,242.7 545.6,240.9 546.6,237.5 547.6,234.2 548.6,232.1 549.6,232.1 550.6,234.2 551.6,236.5 552.6,236.4 553.6,235.2 554.6,235 555.6,235.4 556.6,234.3 557.6,231.6 558.6,231.1 559.6,234.3 560.6,238 561.6,240 562.6,240.6 563.6,240.3 564.6,239.7 565.6,238.2 566.6,234.5 567.6,232 568.6,231.5 569.6,230.3 570.6,227.8 571.6,225.2 572.6,224 573.6,225.1 574.6,226.4 575.6,225.5 576.6,222.5 577.6,219.8 578.6,218.2 579.6,219.5 580.6,224.9 581.6,230.4 582.6,231 583.6,226.8 584.6,221.7 585.6,218.1 586.6,216.3 587.6,216.7 588.6,218 589.6,218.3 590.6,218.9 591.6,217.9 592.6,214.7 593.6,213.2 594.6,214.6 595.6,216.2 596.6,216.3 597.6,216.9 598.6,217.6 599.6,216.4 600.6,214.6 601.6,213.7 602.6,212.6 603.6,211.5 604.6,211.8 605.6,211.6 606.6,211 607.6,211.8 608.6,211.7 609.6,207.8 610.6,205 611.6,205.1 612.6,205.1 613.6,203.9 614.6,203.1 615.6,204.2 616.6,206 617.6,206.3 618.6,206.6 619.6,207.5 620.6,207 621.6,204.7 622.6,203.6 623.6,204.6 624.6,204.1 625.6,201.7 626.6,200.3 627.6,199.8 628.6,200.4 629.6,202 630.6,203.5 631.6,205.6 632.6,208.6 633.6,209.8 634.6,207 635.6,204.4 636.6,205.5 637.6,207.5 638.6,207.2 639.6,206 640.6,205.6 641.6,205.7 642.6,206.4 643.6,207 644.6,206.5 645.6,206.1 646.6,205.9 647.6,206.2 648.6,207.7 649.6,207.7 650.6,206.4 651.6,207.2 652.6,209 653.6,208.8 654.6,206.3 655.6,202.6 656.6,199.4 657.6,198.4 658.6,199.3 659.6,199.2 660.6,198 661.6,197.9 662.6,198.6 663.6,199.1 664.6,197.7 665.6,196.8 666.6,198.2 667.6,197.8 668.6,194.2 669.6,191.9 670.6,192.4 671.6,193.6 672.6,193.8 673.6,193.4 674.6,194.5 675.6,197.4 676.6,198.3 677.6,197 678.6,197.2 679.6,197 680.6,194.2 681.6,192.3 682.6,192.3 683.6,190.7 684.6,188.9 685.6,190.4 686.6,193.5 687.6,194.9 688.6,193.4 689.6,191 690.6,190.1 691.6,188.9 692.6,188 693.6,188.2 694.6,187.2 695.6,185.1 696.6,183.2 697.6,180.4 698.6,178.3 699.6,180.4 700.6,184.8 701.6,185.9 702.6,184.6 703.6,184.1 704.6,183.1 705.6,179.9 706.6,177.4 707.6,178.6 708.6,180.9 709.6,181.2 710.6,180.3 711.6,181 712.6,182.8 713.6,182.4 714.6,178.8 715.6,173.9 716.6,171.6 717.6,172.9 718.6,174.8 719.6,176.3 720.6,176.7 721.6,174.7 722.6,173.1 723.6,173.9 724.6,175.7 725.6,176.6 726.6,175.5 727.6,173.6 728.6,173 729.6,172.8 730.6,172 731.6,171.2 732.6,170.9 733.6,171.7 734.6,172.5 735.6,170.9 736.6,169.9 737.6,174.1 738.6,180 739.6,180.8 740.6,178.5 741.6,176.9 742.6,175.1 743.6,173.4 744.6,172.8 745.6,174.5 746.6,179.2 747.6,183 748.6,183.3 749.6,181.4 750.6,179.4 751.6,179.7 752.6,181.5 753.6,182.8 754.6,183.3 755.6,182.4 756.6,178.5 757.6,173.5 758.6,172.1 759.6,173.6 760.6,173.4 761.6,171.5 762.6,169.9 763.6,168.6 764.6,167.5 765.6,167.8 766.6,171 767.6,174.7 768.6,175.6 769.6,174 770.6,172.1 771.6,171 772.6,170.9 773.6,172.4 774.6,174.1 775.6,174.8 776.6,174.7 777.6,174.9 778.6,174.2 779.6,172.7 780.6,174 781.6,175.4 782.6,175.3 783.6,177.7 784.6,181 785.6,181.4 786.6,182.2 786.6,217.3 785.6,216.2 784.6,213.2 783.6,210.1 782.6,209.9 781.6,212.3 780.6,213.4 779.6,212.2 778.6,209.8 777.6,206.1 776.6,203 775.6,204.4 774.6,207.3 773.6,207.7 772.6,207 771.6,206.8 770.6,206.6 769.6,206.5 768.6,206.9 767.6,208.2 766.6,209.6 765.6,210.2 764.6,209 763.6,207.4 762.6,207.4 761.6,209.1 760.6,211.3 759.6,212.4 758.6,212.6 757.6,212.8 756.6,213.5 755.6,213.8 754.6,213.6 753.6,214.2 752.6,215.6 751.6,216.6 750.6,216.1 749.6,214.4 748.6,212.9 747.6,211.6 746.6,209.9 745.6,210.2 744.6,212.2 743.6,211.4 742.6,209.7 741.6,210.4 740.6,211.3 739.6,211.5 738.6,211.1 737.6,210.1 736.6,208.4 735.6,207.2 734.6,206.8 733.6,205.9 732.6,204.2 731.6,203 730.6,204 729.6,206.9 728.6,209.7 727.6,211 726.6,210.4 725.6,209.5 724.6,208.7 723.6,208.8 722.6,209.4 721.6,208.8 720.6,208.3 719.6,210 718.6,211.3 717.6,210.4 716.6,208 715.6,206.8 714.6,210 713.6,216.9 712.6,223.1 711.6,224.5 710.6,222.8 709.6,220.5 708.6,217.3 707.6,214.6 706.6,214 705.6,214.6 704.6,214.6 703.6,215.2 702.6,217.9 701.6,219.8 700.6,217.9 699.6,213.5 698.6,212.3 697.6,215.4 696.6,219.5 695.6,222.5 694.6,224.3 693.6,224.8 692.6,224.4 691.6,223.4 690.6,221.3 689.6,221.2 688.6,224.7 687.6,228.2 686.6,229.8 685.6,229.3 684.6,227.1 683.6,225.3 682.6,224.3 681.6,224.4 680.6,225 679.6,225 678.6,225 677.6,226.8 676.6,229.4 675.6,231.8 674.6,233.3 673.6,232.4 672.6,231.4 671.6,230.5 670.6,229.1 669.6,228.2 668.6,229.5 667.6,232.6 666.6,234.3 665.6,234.1 664.6,234.9 663.6,238 662.6,239.8 661.6,238.1 660.6,235.5 659.6,233.7 658.6,234 657.6,235.3 656.6,235.4 655.6,236.5 654.6,239.8 653.6,244.3 652.6,247.1 651.6,247.2 650.6,245.4 649.6,243.6 648.6,243.9 647.6,245.1 646.6,244.1 645.6,242.1 644.6,243 643.6,245.8 642.6,245.3 641.6,241 640.6,237.7 639.6,236.9 638.6,236.1 637.6,236.8 636.6,240.3 635.6,243.2 634.6,243.4 633.6,241.5 632.6,238.3 631.6,235.4 630.6,235.2 629.6,235.7 628.6,236.4 627.6,237.2 626.6,236.6 625.6,235.8 624.6,236.1 623.6,237.2 622.6,237.3 621.6,236.9 620.6,237.8 619.6,238.6 618.6,238.3 617.6,238.5 616.6,239.6 615.6,241.2 614.6,243 613.6,243.7 612.6,242.8 611.6,241.5 610.6,242.4 609.6,245.2 608.6,247.8 607.6,249.9 606.6,251.2 605.6,250.9 604.6,249.7 603.6,248.6 602.6,248.2 601.6,248.5 600.6,248.6 599.6,248 598.6,247.2 597.6,246.9 596.6,247.9 595.6,249.9 594.6,249.6 593.6,246.1 592.6,243.1 591.6,243.4 590.6,244.6 589.6,246.2 588.6,248.5 587.6,249.8 586.6,249.5 585.6,249.8 584.6,252.1 583.6,256.6 582.6,260.4 581.6,260.4 580.6,258.2 579.6,256.2 578.6,256.2 577.6,258.6 576.6,261.3 575.6,262.1 574.6,261.5 573.6,260.2 572.6,258.8 571.6,259.5 570.6,262.8 569.6,265.9 568.6,268.2 567.6,271.9 566.6,274.3 565.6,274.5 564.6,273.4 563.6,271.9 562.6,270.6 561.6,270 560.6,269.3 559.6,267 558.6,265.1 557.6,265.7 556.6,266.1 555.6,265.9 554.6,267.1 553.6,270 552.6,272.7 551.6,273.6 550.6,272.3 549.6,270.4 548.6,270.4 547.6,271.4 546.6,273 545.6,276.5 544.6,280 543.6,281 542.6,279.5 541.6,276.9 540.6,274.8 539.6,274.3 538.6,274.1 537.6,273.3 536.6,273.8 535.6,276.1 534.6,279.5 533.6,283.1 532.6,285.1 531.6,284 530.6,281.1 529.6,279.2 528.6,278.8 527.6,280.5 526.6,283.4 525.6,285.4 524.6,285.9 523.6,286.3 522.6,288 521.6,290.2 520.6,292.6 519.6,294.4 518.6,294.9 517.6,295.8 516.6,298.1 515.6,300.3 514.6,301.6 513.6,302.8 512.6,304.4 511.6,306.6 510.6,308 509.6,306.7 508.6,306.4 507.6,309.7 506.6,313 505.6,313.6 504.6,314.3 503.6,315.4 502.6,315 501.6,314 500.6,313 499.6,313.2 498.6,314 497.6,314.5 496.6,316 495.6,319.9 494.6,323.5 493.6,324.9 492.6,327.3 491.6,330.5 490.6,331.7 489.6,332.9 488.6,333.7 487.6,332.5 486.6,330.9 485.6,330.8 484.6,333.4 483.6,338.3 482.6,341.2 481.6,340.2 480.6,340 479.6,342.8 478.6,344.9 477.6,345.1 476.6,347 475.6,351.1 474.6,354.6 473.6,357.2 472.6,358.3 471.6,357.6 470.6,356.6 469.6,357.2 468.6,358.6 467.6,360.6 466.6,366.4 465.6,375.5 464.6,382.5 463.6,385.7 462.6,389 461.6,395.1 460.6,402.1 459.6,406.5 458.6,414.7 457.6,436.6 456.6,484.4" fill="#8a60c0" fill-opacity="0.3"/>
<polyline points="456.6,484.4 457.6,431.9 458.6,405.6 459.6,393 460.6,383.9 461.6,376.9 462.6,371 463.6,366.4 464.6,362.5 465.6,358.1 466.6,353 467.6,348.2 468.6,344.6 469.6,342.4 470.6,340.9 471.6,339.6 472.6,338 473.6,336 474.6,333.3 475.6,330.7 476.6,328.7 477.6,327.7 478.6,327 479.6,326.1 480.6,325.2 481.6,325 482.6,324.2 483.6,321.2 484.6,317.3 485.6,314.8 486.6,314.4 487.6,315 488.6,315.2 489.6,314 490.6,311.9 491.6,309.2 492.6,306.4 493.6,304.4 494.6,303.1 495.6,302 496.6,301.7 497.6,301.6 498.6,300.8 499.6,300.1 500.6,300.2 501.6,300 502.6,298.5 503.6,296.6 504.6,295.5 505.6,295.7 506.6,295.4 507.6,293.9 508.6,291.8 509.6,290 510.6,288.8 511.6,288.2 512.6,287.5 513.6,286.3 514.6,284.5 515.6,282.3 516.6,279.7 517.6,276.8 518.6,274.1 519.6,272.3 520.6,270.6 521.6,268.6 522.6,267.5 523.6,267.2 524.6,266.2 525.6,264.5 526.6,262.8 527.6,261.9 528.6,262.2 529.6,263.1 530.6,263.7 531.6,264.2 532.6,264.5 533.6,263.8 534.6,262.3 535.6,260.6 536.6,259.4 537.6,258.6 538.6,258 539.6,257.7 540.6,257.7 541.6,258 542.6,258.1 543.6,258.1 544.6,258 545.6,257.3 546.6,255.5 547.6,253.5 548.6,252.7 549.6,253.6 550.6,255 551.6,255.4 552.6,254.1 553.6,251.8 554.6,250.3 555.6,249.7 556.6,249.1 557.6,248.5 558.6,249.1 559.6,250.8 560.6,252.3 561.6,252.5 562.6,252.3 563.6,252.9 564.6,253.7 565.6,254.1 566.6,253.6 567.6,252 568.6,249.7 569.6,247.8 570.6,246.2 571.6,245.1 572.6,244.7 573.6,244.7 574.6,244.2 575.6,243.2 576.6,241.8 577.6,240.2 578.6,239.1 579.6,238.9 580.6,239.6 581.6,240.7 582.6,240.7 583.6,238.8 584.6,236.2 585.6,234.7 586.6,234.9 587.6,236 588.6,236.6 589.6,236.3 590.6,235.4 591.6,234.2 592.6,233.3 593.6,233.2 594.6,233.8 595.6,234.6 596.6,235.4 597.6,235.4 598.6,234.5 599.6,233.1 600.6,231.8 601.6,231 602.6,230.7 603.6,230.8 604.6,230.5 605.6,229.5 606.6,228.3 607.6,228.4 608.6,229.3 609.6,229 610.6,227.5 611.6,226.5 612.6,225.6 613.6,223.8 614.6,221.7 615.6,220.2 616.6,219.5 617.6,219.4 618.6,219.8 619.6,219.8 620.6,219.2 621.6,219.5 622.6,221.2 623.6,222.7 624.6,222.5 625.6,221.1 626.6,219.4 627.6,217.5 628.6,216.6 629.6,217.3 630.6,218.2 631.6,218.8 632.6,220.2 633.6,222.1 634.6,222.4 635.6,222.1 636.6,222.9 637.6,224.1 638.6,224.4 639.6,223.7 640.6,222.8 641.6,222.9 642.6,224.1 643.6,225.1 644.6,225.1 645.6,225.3 646.6,225.7 647.6,226.2 648.6,226.1 649.6,225 650.6,223.5 651.6,223.2 652.6,223.9 653.6,223.5 654.6,221.4 655.6,219.2 656.6,218 657.6,217.6 658.6,217.8 659.6,218.5 660.6,219.2 661.6,219.5 662.6,219.1 663.6,218.1 664.6,216.7 665.6,215.7 666.6,214.8 667.6,214.1 668.6,213.9 669.6,214.1 670.6,214 671.6,212.9 672.6,211.8 673.6,211.8 674.6,212.7 675.6,213.4 676.6,213.2 677.6,212.2 678.6,211.2 679.6,210.3 680.6,209.4 681.6,209 682.6,209 683.6,209.3 684.6,209.7 685.6,210.1 686.6,210 687.6,209 688.6,207.9 689.6,207 690.6,206.4 691.6,206.1 692.6,206 693.6,205.6 694.6,205 695.6,204.5 696.6,203.9 697.6,202.4 698.6,200.7 699.6,200.7 700.6,202.1 701.6,202.5 702.6,201.1 703.6,198.9 704.6,197.2 705.6,196.6 706.6,197.2 707.6,198.2 708.6,198.4 709.6,197.8 710.6,197.7 711.6,198.4 712.6,198.4 713.6,196.4 714.6,194 715.6,193.1 716.6,193.6 717.6,194.5 718.6,195 719.6,194.9 720.6,194.4 721.6,194.3 722.6,194.9 723.6,194.7 724.6,193.3 725.6,192.2 726.6,191.8 727.6,191.3 728.6,190.5 729.6,190.1 730.6,189.1 731.6,187.2 732.6,186.4 733.6,187.5 734.6,188.4 735.6,188.2 736.6,188.7 737.6,191 738.6,193.2 739.6,194.2 740.6,194.3 741.6,194.4 742.6,194.8 743.6,195.3 744.6,195.4 745.6,194.9 746.6,195.4 747.6,197 748.6,198 749.6,198.2 750.6,198.1 751.6,197.8 752.6,197.2 753.6,196.7 754.6,196.7 755.6,196.4 756.6,195.1 757.6,193.5 758.6,192.5 759.6,192.2 760.6,191.6 761.6,190.6 762.6,190.1 763.6,189.9 764.6,190.1 765.6,190.8 766.6,191.1 767.6,190.5 768.6,190.1 769.6,191 770.6,191.7 771.6,190.6 772.6,188.8 773.6,188.6 774.6,189.6 775.6,189.8 776.6,189.6 777.6,190.4 778.6,191.4 779.6,191.4 780.6,191.8 781.6,193.7 782.6,195.5 783.6,196 784.6,196.5 785.6,198 786.6,200.1" fill="none" stroke="#8a5fbf" stroke-width="1.6" stroke-linejoin="round"/>
</g>
<path d="M456.6,137.2V484.4H786.6" fill="none" stroke="#888888" stroke-width="1.6"/>
<path d="M456.6,484.4h3.3M456.6,441h3.3M456.6,397.6h3.3M456.6,354.2h3.3M456.6,310.8h3.3M456.6,267.4h3.3M456.6,224h3.3M456.6,180.6h3.3M456.6,137.2h3.3M456.6,484.4v-3.3M522.6,484.4v-3.3M588.6,484.4v-3.3M654.6,484.4v-3.3M720.6,484.4v-3.3M786.6,484.4v-3.3" stroke="#888888" stroke-width="1.3"/>
<text x="451.1" y="489.7" font-size="14.8" text-anchor="end" fill="#1a1a1a" textLength="7.8" lengthAdjust="spacingAndGlyphs">1</text>
<text x="451.1" y="446.3" font-size="14.8" text-anchor="end" fill="#1a1a1a" textLength="7.8" lengthAdjust="spacingAndGlyphs">2</text>
<text x="451.1" y="402.9" font-size="14.8" text-anchor="end" fill="#1a1a1a" textLength="7.8" lengthAdjust="spacingAndGlyphs">3</text>
<text x="451.1" y="359.5" font-size="14.8" text-anchor="end" fill="#1a1a1a" textLength="7.8" lengthAdjust="spacingAndGlyphs">4</text>
<text x="451.1" y="316.1" font-size="14.8" text-anchor="end" fill="#1a1a1a" textLength="7.8" lengthAdjust="spacingAndGlyphs">5</text>
<text x="451.1" y="272.7" font-size="14.8" text-anchor="end" fill="#1a1a1a" textLength="7.8" lengthAdjust="spacingAndGlyphs">6</text>
<text x="451.1" y="229.3" font-size="14.8" text-anchor="end" fill="#1a1a1a" textLength="7.8" lengthAdjust="spacingAndGlyphs">7</text>
<text x="451.1" y="185.9" font-size="14.8" text-anchor="end" fill="#1a1a1a" textLength="7.8" lengthAdjust="spacingAndGlyphs">8</text>
<text x="451.1" y="142.5" font-size="14.8" text-anchor="end" fill="#1a1a1a" textLength="7.8" lengthAdjust="spacingAndGlyphs">9</text>
<text x="456.6" y="503.4" font-size="14.8" text-anchor="middle" fill="#1a1a1a" textLength="7.8" lengthAdjust="spacingAndGlyphs">0</text>
<text x="522.6" y="503.4" font-size="14.8" text-anchor="middle" fill="#1a1a1a" textLength="7.8" lengthAdjust="spacingAndGlyphs">2</text>
<text x="588.6" y="503.4" font-size="14.8" text-anchor="middle" fill="#1a1a1a" textLength="7.8" lengthAdjust="spacingAndGlyphs">4</text>
<text x="654.6" y="503.4" font-size="14.8" text-anchor="middle" fill="#1a1a1a" textLength="7.8" lengthAdjust="spacingAndGlyphs">6</text>
<text x="720.6" y="503.4" font-size="14.8" text-anchor="middle" fill="#1a1a1a" textLength="7.8" lengthAdjust="spacingAndGlyphs">8</text>
<text x="786.6" y="503.4" font-size="14.8" text-anchor="middle" fill="#1a1a1a" textLength="15.6" lengthAdjust="spacingAndGlyphs">10</text>
<g clip-path="url(#pc2)">
<polygon points="27.5,1025.2 29.2,1025.1 30.8,1024.8 32.5,1024.3 34.1,1023.7 35.8,1022.9 37.4,1022 39.1,1021 40.7,1019.9 42.4,1018.6 44,1016.7 45.7,1013.9 47.3,1010.4 49,1006.4 50.6,1002 52.3,997.5 53.9,992.6 55.6,986.8 57.2,980.4 58.9,973.5 60.5,966.4 62.2,959.3 63.8,952.2 65.5,944.4 67.1,936.2 68.8,928 70.4,920.3 72.1,913.6 73.7,908.2 75.4,903.9 77,900 78.7,896.6 80.3,893.4 82,890.4 83.6,887.4 85.3,884.4 86.9,881.7 88.6,879.6 90.2,877.7 91.9,875.8 93.5,874.1 95.2,872.4 96.8,870.8 98.5,869.2 100.1,867.7 101.8,866.2 103.4,864.9 105.1,863.5 106.7,862.2 108.4,861 110,859.8 111.7,858.6 113.3,857.5 115,856.4 116.6,855.3 118.3,854.3 119.9,853.3 121.6,852.3 123.2,851.3 124.9,850.4 126.5,849.5 128.2,848.7 129.8,847.9 131.5,847.1 133.1,846.4 134.8,845.6 136.4,844.9 138.1,844.2 139.7,843.5 141.4,842.8 143,842.1 144.7,841.5 146.3,840.8 148,840 149.6,839.3 151.3,838.6 152.9,837.8 154.6,837 156.2,836.2 157.9,835.3 159.5,834.5 161.2,833.6 162.8,832.7 164.5,831.8 166.1,830.9 167.8,830 169.4,829 171.1,828.1 172.7,827.2 174.4,826.2 176,825.3 177.7,824.3 179.3,823.4 181,822.4 182.6,821.5 184.3,820.5 185.9,819.6 187.6,818.7 189.2,817.8 190.9,816.8 192.6,815.9 194.2,815 195.9,814 197.5,813.1 199.2,812.1 200.8,811.2 202.5,810.2 204.1,809.3 205.8,808.4 207.4,807.4 209.1,806.5 210.7,805.6 212.4,804.6 214,803.7 215.7,802.8 217.3,801.9 219,801 220.6,800.2 222.3,799.3 223.9,798.5 225.6,797.6 227.2,796.8 228.9,796 230.5,795.1 232.2,794.3 233.8,793.4 235.5,792.6 237.1,791.8 238.8,791 240.4,790.2 242.1,789.4 243.7,788.6 245.4,787.9 247,787.1 248.7,786.4 250.3,785.7 252,785 253.6,784.4 255.3,783.7 256.9,783.2 258.6,782.6 260.2,782 261.9,781.5 263.5,780.9 265.2,780.4 266.8,779.9 268.5,779.4 270.1,778.9 271.8,778.5 273.4,778 275.1,777.5 276.7,777.1 278.4,776.7 280,776.2 281.7,775.8 283.3,775.4 285,775 286.6,774.6 288.3,774.2 289.9,773.9 291.6,773.5 293.2,773.1 294.9,772.8 296.5,772.5 298.2,772.1 299.8,771.8 301.5,771.5 303.1,771.2 304.8,770.9 306.4,770.6 308.1,770.3 309.7,770 311.4,769.8 313,769.5 314.7,769.2 316.3,768.9 318,768.6 319.6,768.3 321.3,768 322.9,767.7 324.6,767.4 326.2,767.1 327.9,766.8 329.5,766.5 331.2,766.2 332.8,765.8 334.5,765.5 336.1,765.2 337.8,764.9 339.4,764.6 341.1,764.3 342.7,763.9 344.4,763.6 346,763.3 347.7,763 349.3,762.6 351,762.3 352.6,762 354.3,761.7 355.9,761.3 357.6,761 357.6,900.3 355.9,896.3 354.3,892.4 352.6,888.7 351,885.1 349.3,881.7 347.7,878.5 346,875.5 344.4,872.7 342.7,870.1 341.1,867.8 339.4,865.6 337.8,863.6 336.1,861.9 334.5,860.4 332.8,859.1 331.2,858 329.5,857.2 327.9,856.7 326.2,856.4 324.6,856.3 322.9,856.6 321.3,857.2 319.6,858 318,858.9 316.3,859.9 314.7,860.9 313,861.8 311.4,862.6 309.7,863.1 308.1,863.2 306.4,863.1 304.8,862.9 303.1,862.5 301.5,862.1 299.8,861.6 298.2,861.1 296.5,860.6 294.9,860.2 293.2,859.9 291.6,859.8 289.9,859.8 288.3,859.9 286.6,860 285,860.2 283.3,860.4 281.7,860.7 280,860.9 278.4,861.3 276.7,861.6 275.1,862 273.4,862.4 271.8,862.8 270.1,863.3 268.5,863.7 266.8,864.1 265.2,864.5 263.5,865 261.9,865.4 260.2,865.7 258.6,866.1 256.9,866.4 255.3,866.8 253.6,867.1 252,867.3 250.3,867.6 248.7,867.9 247,868.1 245.4,868.4 243.7,868.7 242.1,868.9 240.4,869.2 238.8,869.5 237.1,869.8 235.5,870.1 233.8,870.4 232.2,870.8 230.5,871.2 228.9,871.6 227.2,872.1 225.6,872.6 223.9,873.1 222.3,873.8 220.6,874.9 219,876.4 217.3,878.1 215.7,879.9 214,881.8 212.4,883.5 210.7,884.9 209.1,886.1 207.4,886.7 205.8,886.8 204.1,886.8 202.5,886.8 200.8,886.8 199.2,886.8 197.5,886.8 195.9,886.8 194.2,886.8 192.6,886.8 190.9,886.8 189.2,886.8 187.6,886.9 185.9,887 184.3,887.2 182.6,887.5 181,887.8 179.3,888.2 177.7,888.7 176,889.1 174.4,889.7 172.7,890.2 171.1,891 169.4,892.5 167.8,894.3 166.1,896.5 164.5,898.9 162.8,901.2 161.2,903.3 159.5,905.2 157.9,906.5 156.2,907.2 154.6,907.2 152.9,906.8 151.3,906.2 149.6,905.3 148,904.3 146.3,903.3 144.7,902.4 143,901.5 141.4,900.8 139.7,900.4 138.1,900.4 136.4,900.9 134.8,901.9 133.1,903.3 131.5,905 129.8,906.8 128.2,908.6 126.5,910.4 124.9,911.9 123.2,913.1 121.6,913.9 119.9,914.4 118.3,914.9 116.6,915.4 115,915.9 113.3,916.3 111.7,916.6 110,916.9 108.4,917.1 106.7,917.3 105.1,917.3 103.4,917.2 101.8,916.5 100.1,915.5 98.5,914.2 96.8,912.8 95.2,911.3 93.5,909.9 91.9,908.7 90.2,907.8 88.6,907.3 86.9,907.7 85.3,909.8 83.6,912.5 82,915.2 80.3,918.2 78.7,921.5 77,925.1 75.4,929.1 73.7,933.4 72.1,938.4 70.4,944.3 68.8,951 67.1,958 65.5,965 63.8,971.6 62.2,977.7 60.5,983.9 58.9,990.2 57.2,996.3 55.6,1001.8 53.9,1006.4 52.3,1009.9 50.6,1012.7 49,1015.2 47.3,1017.5 45.7,1019.4 44,1020.9 42.4,1021.9 40.7,1022.5 39.1,1023.1 37.4,1023.6 35.8,1024.1 34.1,1024.5 32.5,1024.8 30.8,1025 29.2,1025.2 27.5,1025.2" fill="#555555" fill-opacity="0.3"/>
<polyline points="27.5,1025.2 29.2,1025.2 30.8,1025.1 32.5,1024.9 34.1,1024.6 35.8,1024.4 37.4,1023.9 39.1,1023 40.7,1021.7 42.4,1020.2 44,1018.4 45.7,1016.2 47.3,1013.7 49,1010.7 50.6,1007.5 52.3,1004 53.9,999.8 55.6,994.6 57.2,988.7 58.9,982.2 60.5,975.5 62.2,968.8 63.8,962.2 65.5,955.1 67.1,947.6 68.8,940 70.4,932.9 72.1,926.4 73.7,921.1 75.4,916.1 77,911.2 78.7,906.6 80.3,902.7 82,899.7 83.6,898 85.3,897.3 86.9,896.9 88.6,896.5 90.2,896.2 91.9,895.9 93.5,895.7 95.2,895.5 96.8,895.3 98.5,895.1 100.1,894.9 101.8,894.6 103.4,894.1 105.1,893.6 106.7,892.6 108.4,891 110,889 111.7,886.7 113.3,884.4 115,882.1 116.6,880 118.3,878.4 119.9,877.2 121.6,876.8 123.2,876.8 124.9,876.8 126.5,876.8 128.2,876.8 129.8,876.8 131.5,876.8 133.1,876.8 134.8,876.8 136.4,876.8 138.1,876.8 139.7,876.7 141.4,876.6 143,876.4 144.7,876.1 146.3,875.8 148,875.4 149.6,875 151.3,874.5 152.9,874 154.6,873.6 156.2,873.1 157.9,872.6 159.5,872 161.2,871.4 162.8,870.7 164.5,869.9 166.1,869.1 167.8,868.3 169.4,867.4 171.1,866.5 172.7,865.6 174.4,864.7 176,863.8 177.7,862.8 179.3,861.9 181,860.9 182.6,860 184.3,859.1 185.9,858.2 187.6,857.3 189.2,856.4 190.9,855.6 192.6,854.7 194.2,853.9 195.9,853 197.5,852.1 199.2,851.2 200.8,850.3 202.5,849.4 204.1,848.5 205.8,847.6 207.4,846.8 209.1,845.9 210.7,845 212.4,844.2 214,843.4 215.7,842.6 217.3,841.8 219,841.1 220.6,840.4 222.3,839.7 223.9,839.1 225.6,838.5 227.2,837.8 228.9,837.2 230.5,836.5 232.2,835.8 233.8,835.2 235.5,834.5 237.1,833.9 238.8,833.3 240.4,832.7 242.1,832.1 243.7,831.6 245.4,831.1 247,830.7 248.7,830.3 250.3,829.9 252,829.7 253.6,829.5 255.3,829.3 256.9,829.3 258.6,829.3 260.2,829.3 261.9,829.3 263.5,829.3 265.2,829.3 266.8,829.3 268.5,829.3 270.1,829.3 271.8,829.3 273.4,829.3 275.1,829.3 276.7,829.6 278.4,830.1 280,830.7 281.7,831.5 283.3,832.3 285,833.2 286.6,834 288.3,834.8 289.9,835.5 291.6,836 293.2,836.4 294.9,836.8 296.5,837.1 298.2,837.4 299.8,837.7 301.5,838 303.1,838.2 304.8,838.5 306.4,838.7 308.1,838.9 309.7,839.2 311.4,839.4 313,839.7 314.7,840 316.3,840.3 318,840.7 319.6,841.1 321.3,841.5 322.9,842 324.6,842.6 326.2,843.3 327.9,844.3 329.5,845.5 331.2,847.1 332.8,848.8 334.5,850.6 336.1,852.6 337.8,854.7 339.4,856.7 341.1,858.7 342.7,860.7 344.4,862.7 346,864.8 347.7,867 349.3,869.3 351,871.7 352.6,874.1 354.3,876.6 355.9,879.2 357.6,881.8" fill="none" stroke="#262626" stroke-width="1.5" stroke-linejoin="round"/>
<polygon points="27.5,1025.2 29.2,1025 30.8,1024.8 32.5,1024.4 34.1,1024.1 35.8,1023.6 37.4,1023 39.1,1021.9 40.7,1020.5 42.4,1018.8 44,1016.9 45.7,1014.6 47.3,1011.9 49,1008.8 50.6,1005.4 52.3,1001.7 53.9,997.4 55.6,992 57.2,985.9 58.9,979.2 60.5,972.3 62.2,965.5 63.8,958.7 65.5,951.2 67.1,943.4 68.8,935.5 70.4,927.9 72.1,921 73.7,915.1 75.4,910 77,905.3 78.7,901 80.3,896.8 82,892.7 83.6,888.7 85.3,884.4 86.9,880.4 88.6,877.8 90.2,875.7 91.9,873.7 93.5,871.8 95.2,870.1 96.8,868.4 98.5,866.8 100.1,865.3 101.8,863.8 103.4,862.3 105.1,860.8 106.7,859.4 108.4,857.9 110,856.4 111.7,854.9 113.3,853.4 115,851.7 116.6,850 118.3,848.2 119.9,846.3 121.6,844.2 123.2,841.9 124.9,839.2 126.5,836.3 128.2,833.1 129.8,829.9 131.5,826.8 133.1,823.9 134.8,821.2 136.4,819 138.1,817.2 139.7,816 141.4,814.9 143,813.9 144.7,812.9 146.3,812 148,811.2 149.6,810.5 151.3,809.8 152.9,809.2 154.6,808.7 156.2,808.2 157.9,807.8 159.5,807.4 161.2,807.1 162.8,806.8 164.5,806.4 166.1,806.1 167.8,805.7 169.4,805.3 171.1,804.9 172.7,804.4 174.4,803.9 176,803.3 177.7,802.7 179.3,802.1 181,801.5 182.6,800.8 184.3,800.2 185.9,799.5 187.6,798.7 189.2,798 190.9,797.3 192.6,796.6 194.2,795.9 195.9,795.1 197.5,794.4 199.2,793.7 200.8,793 202.5,792.4 204.1,791.7 205.8,791.1 207.4,790.5 209.1,789.9 210.7,789.3 212.4,788.6 214,788 215.7,787.4 217.3,786.8 219,786.2 220.6,785.6 222.3,785 223.9,784.4 225.6,783.8 227.2,783.3 228.9,782.7 230.5,782.2 232.2,781.7 233.8,781.2 235.5,780.7 237.1,780.2 238.8,779.8 240.4,779.4 242.1,779 243.7,778.7 245.4,778.3 247,778 248.7,777.6 250.3,777.3 252,777 253.6,776.7 255.3,776.4 256.9,776.1 258.6,775.8 260.2,775.5 261.9,775.3 263.5,774.9 265.2,774.6 266.8,774.3 268.5,774 270.1,773.6 271.8,773.3 273.4,772.9 275.1,772.5 276.7,772 278.4,771.5 280,770.9 281.7,770.3 283.3,769.7 285,769.1 286.6,768.6 288.3,768.1 289.9,767.8 291.6,767.6 293.2,767.5 294.9,767.5 296.5,767.6 298.2,767.8 299.8,768 301.5,768.3 303.1,768.6 304.8,769 306.4,769.4 308.1,769.9 309.7,770.4 311.4,771 313,771.6 314.7,772.2 316.3,772.8 318,773.4 319.6,774 321.3,774.6 322.9,775.3 324.6,775.9 326.2,776.5 327.9,777.1 329.5,777.9 331.2,778.7 332.8,779.5 334.5,780.4 336.1,781.3 337.8,782.3 339.4,783.3 341.1,784.3 342.7,785.3 344.4,786.4 346,787.6 347.7,788.8 349.3,790 351,791.3 352.6,792.6 354.3,794 355.9,795.4 357.6,796.9 357.6,866.4 355.9,865 354.3,863.6 352.6,862.2 351,860.8 349.3,859.6 347.7,858.5 346,857.6 344.4,856.9 342.7,856.4 341.1,856.2 339.4,856.1 337.8,855.9 336.1,855.8 334.5,855.7 332.8,855.6 331.2,855.5 329.5,855.4 327.9,855.3 326.2,855.2 324.6,855.1 322.9,855 321.3,855 319.6,854.9 318,854.9 316.3,854.8 314.7,854.8 313,854.8 311.4,854.8 309.7,854.7 308.1,854.7 306.4,854.8 304.8,854.9 303.1,855.2 301.5,855.5 299.8,855.9 298.2,856.3 296.5,856.8 294.9,857.4 293.2,858 291.6,858.6 289.9,859.2 288.3,859.9 286.6,860.5 285,861.2 283.3,861.8 281.7,862.5 280,863 278.4,863.6 276.7,864.1 275.1,864.6 273.4,865 271.8,865.4 270.1,865.8 268.5,866.2 266.8,866.6 265.2,867 263.5,867.3 261.9,867.7 260.2,868.1 258.6,868.5 256.9,868.8 255.3,869.2 253.6,869.5 252,869.8 250.3,870.1 248.7,870.4 247,870.7 245.4,871 243.7,871.3 242.1,871.5 240.4,871.7 238.8,871.9 237.1,872.1 235.5,872.3 233.8,872.4 232.2,872.6 230.5,872.7 228.9,872.9 227.2,873 225.6,873.1 223.9,873.3 222.3,873.4 220.6,873.5 219,873.6 217.3,873.8 215.7,873.9 214,874.1 212.4,874.2 210.7,874.4 209.1,874.6 207.4,874.7 205.8,875 204.1,875.2 202.5,875.4 200.8,875.7 199.2,876 197.5,876.3 195.9,876.6 194.2,876.9 192.6,877.3 190.9,877.6 189.2,878 187.6,878.3 185.9,878.7 184.3,879.1 182.6,879.5 181,879.8 179.3,880.2 177.7,880.6 176,881 174.4,881.4 172.7,881.7 171.1,882.1 169.4,882.5 167.8,882.8 166.1,883.2 164.5,883.5 162.8,883.9 161.2,884.2 159.5,884.6 157.9,885 156.2,885.3 154.6,885.7 152.9,886.1 151.3,886.5 149.6,886.9 148,887.4 146.3,887.8 144.7,888.3 143,888.8 141.4,889.3 139.7,889.9 138.1,890.5 136.4,891.2 134.8,892 133.1,892.9 131.5,893.8 129.8,894.9 128.2,896 126.5,897.2 124.9,898.4 123.2,899.6 121.6,900.8 119.9,902 118.3,903.2 116.6,904.4 115,905.5 113.3,906.6 111.7,907.6 110,908.5 108.4,909.3 106.7,910 105.1,910.6 103.4,911.1 101.8,911.5 100.1,911.8 98.5,912 96.8,912.3 95.2,912.5 93.5,912.7 91.9,913 90.2,913.3 88.6,913.6 86.9,914.1 85.3,914.6 83.6,915.3 82,916.9 80.3,919.7 78.7,923.4 77,927.6 75.4,932.1 73.7,936.6 72.1,941.3 70.4,946.8 68.8,952.9 67.1,959.2 65.5,965.6 63.8,971.8 62.2,977.6 60.5,983.7 58.9,990 57.2,996.2 55.6,1001.7 53.9,1006.4 52.3,1009.9 50.6,1012.7 49,1015.2 47.3,1017.5 45.7,1019.4 44,1020.9 42.4,1021.9 40.7,1022.5 39.1,1023.1 37.4,1023.6 35.8,1024.1 34.1,1024.5 32.5,1024.8 30.8,1025 29.2,1025.2 27.5,1025.2" fill="#d95319" fill-opacity="0.33"/>
<polyline points="27.5,1025.2 29.2,1025.2 30.8,1025.1 32.5,1024.9 34.1,1024.6 35.8,1024.4 37.4,1023.9 39.1,1023 40.7,1021.7 42.4,1020.2 44,1018.4 45.7,1016.2 47.3,1013.7 49,1010.7 50.6,1007.5 52.3,1004 53.9,999.8 55.6,994.6 57.2,988.7 58.9,982.2 60.5,975.5 62.2,968.8 63.8,962.2 65.5,955.1 67.1,947.6 68.8,940 70.4,932.9 72.1,926.4 73.7,921.1 75.4,916.6 77,912.5 78.7,908.8 80.3,905.3 82,901.9 83.6,898.5 85.3,894.9 86.9,891.5 88.6,889.6 90.2,888.2 91.9,886.9 93.5,885.8 95.2,884.8 96.8,884 98.5,883.2 100.1,882.5 101.8,881.9 103.4,881.3 105.1,880.7 106.7,880.2 108.4,879.6 110,879.1 111.7,878.5 113.3,877.8 115,877.1 116.6,876.3 118.3,875.5 119.9,874.5 121.6,873.4 123.2,872 124.9,870.2 126.5,868.1 128.2,865.9 129.8,863.6 131.5,861.3 133.1,859.2 134.8,857.4 136.4,855.9 138.1,854.9 139.7,854.4 141.4,854 143,853.7 144.7,853.3 146.3,853 148,852.8 149.6,852.5 151.3,852.3 152.9,852.1 154.6,852 156.2,851.8 157.9,851.6 159.5,851.5 161.2,851.3 162.8,851.1 164.5,850.9 166.1,850.7 167.8,850.5 169.4,850.3 171.1,850 172.7,849.7 174.4,849.3 176,848.9 177.7,848.5 179.3,848 181,847.6 182.6,847.1 184.3,846.5 185.9,846 187.6,845.5 189.2,844.9 190.9,844.3 192.6,843.8 194.2,843.2 195.9,842.6 197.5,842.1 199.2,841.5 200.8,841 202.5,840.5 204.1,840 205.8,839.5 207.4,839.1 209.1,838.6 210.7,838.2 212.4,837.7 214,837.2 215.7,836.8 217.3,836.3 219,835.9 220.6,835.4 222.3,835 223.9,834.6 225.6,834.1 227.2,833.7 228.9,833.4 230.5,833 232.2,832.6 233.8,832.3 235.5,832 237.1,831.7 238.8,831.4 240.4,831.1 242.1,830.9 243.7,830.7 245.4,830.5 247,830.3 248.7,830.2 250.3,830 252,829.9 253.6,829.7 255.3,829.6 256.9,829.4 258.6,829.3 260.2,829.2 261.9,829 263.5,828.9 265.2,828.7 266.8,828.6 268.5,828.4 270.1,828.2 271.8,828 273.4,827.8 275.1,827.6 276.7,827.2 278.4,826.8 280,826.4 281.7,825.9 283.3,825.5 285,825.1 286.6,824.7 288.3,824.4 289.9,824.3 291.6,824.2 293.2,824.3 294.9,824.5 296.5,824.7 298.2,825 299.8,825.4 301.5,825.8 303.1,826.3 304.8,826.9 306.4,827.5 308.1,828.1 309.7,828.8 311.4,829.5 313,830.2 314.7,831 316.3,831.7 318,832.5 319.6,833.3 321.3,834.1 322.9,834.9 324.6,835.6 326.2,836.4 327.9,837.2 329.5,838.1 331.2,839.1 332.8,840.1 334.5,841.1 336.1,842.2 337.8,843.3 339.4,844.4 341.1,845.6 342.7,846.8 344.4,848.1 346,849.4 347.7,850.7 349.3,852.1 351,853.6 352.6,855.1 354.3,856.6 355.9,858.2 357.6,859.8" fill="none" stroke="#c9302c" stroke-width="1.5" stroke-linejoin="round"/>
<polygon points="27.5,1025.2 29.2,1025.1 30.8,1024.9 32.5,1024.7 34.1,1024.4 35.8,1024 37.4,1023.5 39.1,1022.5 40.7,1021.1 42.4,1019.5 44,1017.7 45.7,1015.4 47.3,1012.8 49,1009.8 50.6,1006.5 52.3,1002.9 53.9,998.7 55.6,993.4 57.2,987.3 58.9,980.8 60.5,974 62.2,967.2 63.8,960.6 65.5,953.3 67.1,945.6 68.8,937.9 70.4,930.6 72.1,923.9 73.7,918.3 75.4,913.3 77,908.6 78.7,904.3 80.3,900.3 82,896.8 83.6,893.8 85.3,891.4 86.9,889.4 88.6,887.9 90.2,886.6 91.9,885.4 93.5,884.3 95.2,883.2 96.8,882.2 98.5,881.2 100.1,880.3 101.8,879.4 103.4,878.5 105.1,877.6 106.7,876.8 108.4,875.9 110,875 111.7,874.1 113.3,873.2 115,872.2 116.6,871.2 118.3,870.1 119.9,868.9 121.6,867.6 123.2,866.3 124.9,864.7 126.5,862.9 128.2,861.1 129.8,859.2 131.5,857.3 133.1,855.4 134.8,853.7 136.4,852.1 138.1,850.7 139.7,849.5 141.4,848.4 143,847.3 144.7,846.3 146.3,845.3 148,844.4 149.6,843.6 151.3,842.8 152.9,842 154.6,841.3 156.2,840.6 157.9,839.9 159.5,839.3 161.2,838.7 162.8,838.1 164.5,837.5 166.1,836.9 167.8,836.3 169.4,835.6 171.1,835 172.7,834.3 174.4,833.6 176,832.9 177.7,832.2 179.3,831.6 181,830.9 182.6,830.2 184.3,829.6 185.9,828.9 187.6,828.2 189.2,827.6 190.9,826.9 192.6,826.2 194.2,825.5 195.9,824.8 197.5,824.1 199.2,823.4 200.8,822.7 202.5,822 204.1,821.3 205.8,820.5 207.4,819.7 209.1,818.9 210.7,818.1 212.4,817.3 214,816.5 215.7,815.7 217.3,814.8 219,813.9 220.6,813.1 222.3,812.2 223.9,811.3 225.6,810.4 227.2,809.5 228.9,808.6 230.5,807.8 232.2,806.9 233.8,806 235.5,805.1 237.1,804.2 238.8,803.4 240.4,802.5 242.1,801.6 243.7,800.7 245.4,799.8 247,798.9 248.7,798 250.3,797 252,796.1 253.6,795.1 255.3,794.2 256.9,793.2 258.6,792.3 260.2,791.4 261.9,790.5 263.5,789.7 265.2,788.9 266.8,788.1 268.5,787.4 270.1,786.7 271.8,786.1 273.4,785.5 275.1,785 276.7,784.5 278.4,784 280,783.4 281.7,782.9 283.3,782.4 285,781.9 286.6,781.5 288.3,781 289.9,780.6 291.6,780.1 293.2,779.7 294.9,779.4 296.5,779 298.2,778.7 299.8,778.4 301.5,778.2 303.1,778 304.8,777.9 306.4,777.7 308.1,777.7 309.7,777.7 311.4,777.6 313,777.6 314.7,777.6 316.3,777.6 318,777.6 319.6,777.6 321.3,777.6 322.9,777.7 324.6,777.7 326.2,777.7 327.9,777.8 329.5,777.8 331.2,777.8 332.8,777.9 334.5,778.1 336.1,778.5 337.8,779 339.4,779.6 341.1,780.3 342.7,781.2 344.4,782.1 346,783.1 347.7,784.2 349.3,785.4 351,786.6 352.6,787.9 354.3,789.2 355.9,790.5 357.6,791.8 357.6,829.6 355.9,828.2 354.3,826.8 352.6,825.5 351,824.2 349.3,823 347.7,821.8 346,820.6 344.4,819.6 342.7,818.6 341.1,817.8 339.4,817 337.8,816.4 336.1,815.8 334.5,815.4 332.8,815.2 331.2,815.1 329.5,815 327.9,814.9 326.2,814.9 324.6,814.8 322.9,814.7 321.3,814.7 319.6,814.6 318,814.6 316.3,814.6 314.7,814.5 313,814.5 311.4,814.5 309.7,814.5 308.1,814.5 306.4,814.5 304.8,814.6 303.1,814.7 301.5,814.9 299.8,815.1 298.2,815.3 296.5,815.6 294.9,815.9 293.2,816.3 291.6,816.6 289.9,817 288.3,817.4 286.6,817.9 285,818.3 283.3,818.8 281.7,819.2 280,819.7 278.4,820.2 276.7,820.7 275.1,821.1 273.4,821.6 271.8,822.2 270.1,822.8 268.5,823.4 266.8,824.1 265.2,824.8 263.5,825.6 261.9,826.4 260.2,827.3 258.6,828.1 256.9,829 255.3,829.9 253.6,830.9 252,831.8 250.3,832.7 248.7,833.6 247,834.5 245.4,835.4 243.7,836.3 242.1,837.2 240.4,838 238.8,838.8 237.1,839.7 235.5,840.5 233.8,841.4 232.2,842.2 230.5,843.1 228.9,843.9 227.2,844.8 225.6,845.6 223.9,846.5 222.3,847.4 220.6,848.2 219,849 217.3,849.9 215.7,850.7 214,851.5 212.4,852.3 210.7,853.1 209.1,853.9 207.4,854.6 205.8,855.3 204.1,856.1 202.5,856.8 200.8,857.5 199.2,858.2 197.5,858.8 195.9,859.5 194.2,860.2 192.6,860.8 190.9,861.5 189.2,862.1 187.6,862.7 185.9,863.4 184.3,864 182.6,864.6 181,865.3 179.3,865.9 177.7,866.5 176,867.2 174.4,867.8 172.7,868.5 171.1,869.1 169.4,869.8 167.8,870.4 166.1,871 164.5,871.6 162.8,872.1 161.2,872.7 159.5,873.3 157.9,873.8 156.2,874.4 154.6,874.9 152.9,875.5 151.3,876 149.6,876.5 148,877.1 146.3,877.7 144.7,878.2 143,878.8 141.4,879.5 139.7,880.1 138.1,880.8 136.4,881.7 134.8,882.7 133.1,883.9 131.5,885.2 129.8,886.4 128.2,887.7 126.5,888.9 124.9,890 123.2,890.9 121.6,891.6 119.9,892.2 118.3,892.6 116.6,893 115,893.3 113.3,893.6 111.7,893.8 110,894 108.4,894.2 106.7,894.3 105.1,894.5 103.4,894.7 101.8,894.8 100.1,895 98.5,895.3 96.8,895.6 95.2,895.9 93.5,896.4 91.9,896.9 90.2,897.5 88.6,898.2 86.9,899.1 85.3,900.6 83.6,902.5 82,904.9 80.3,907.8 78.7,911.2 77,915 75.4,919.2 73.7,923.7 72.1,928.9 70.4,935.1 68.8,942.1 67.1,949.4 65.5,956.8 63.8,963.8 62.2,970.3 60.5,976.9 58.9,983.5 57.2,989.9 55.6,995.8 53.9,1001 52.3,1005.1 50.6,1008.5 49,1011.7 47.3,1014.5 45.7,1017 44,1019.1 42.4,1020.8 40.7,1022.2 39.1,1023.4 37.4,1024.3 35.8,1024.7 34.1,1024.9 32.5,1025.1 30.8,1025.2 29.2,1025.2 27.5,1025.2" fill="#60a040" fill-opacity="0.3"/>
<polyline points="27.5,1025.2 29.2,1025.2 30.8,1025.1 32.5,1024.9 34.1,1024.6 35.8,1024.4 37.4,1023.9 39.1,1023 40.7,1021.7 42.4,1020.2 44,1018.4 45.7,1016.2 47.3,1013.7 49,1010.7 50.6,1007.5 52.3,1004 53.9,999.8 55.6,994.6 57.2,988.7 58.9,982.2 60.5,975.5 62.2,968.8 63.8,962.2 65.5,955.1 67.1,947.6 68.8,940 70.4,932.9 72.1,926.4 73.7,921.1 75.4,916.4 77,911.9 78.7,907.8 80.3,904.2 82,901 83.6,898.3 85.3,896.1 86.9,894.4 88.6,893.2 90.2,892.3 91.9,891.4 93.5,890.6 95.2,889.8 96.8,889.2 98.5,888.5 100.1,888 101.8,887.4 103.4,886.9 105.1,886.4 106.7,886 108.4,885.5 110,885 111.7,884.5 113.3,883.9 115,883.3 116.6,882.6 118.3,881.9 119.9,881.1 121.6,880.3 123.2,879.3 124.9,878 126.5,876.6 128.2,875.2 129.8,873.6 131.5,872.1 133.1,870.5 134.8,869.1 136.4,867.8 138.1,866.7 139.7,865.8 141.4,864.9 143,864.1 144.7,863.3 146.3,862.6 148,861.9 149.6,861.2 151.3,860.5 152.9,859.9 154.6,859.3 156.2,858.7 157.9,858.1 159.5,857.5 161.2,857 162.8,856.4 164.5,855.8 166.1,855.2 167.8,854.7 169.4,854 171.1,853.4 172.7,852.8 174.4,852.1 176,851.5 177.7,850.8 179.3,850.2 181,849.5 182.6,848.9 184.3,848.3 185.9,847.6 187.6,847 189.2,846.4 190.9,845.7 192.6,845.1 194.2,844.4 195.9,843.8 197.5,843.1 199.2,842.4 200.8,841.7 202.5,841.1 204.1,840.3 205.8,839.6 207.4,838.9 209.1,838.1 210.7,837.4 212.4,836.6 214,835.8 215.7,835 217.3,834.1 219,833.3 220.6,832.5 222.3,831.6 223.9,830.8 225.6,829.9 227.2,829.1 228.9,828.2 230.5,827.3 232.2,826.5 233.8,825.6 235.5,824.8 237.1,823.9 238.8,823.1 240.4,822.3 242.1,821.5 243.7,820.6 245.4,819.7 247,818.8 248.7,817.9 250.3,817 252,816.1 253.6,815.1 255.3,814.2 256.9,813.3 258.6,812.4 260.2,811.6 261.9,810.7 263.5,809.9 265.2,809.1 266.8,808.4 268.5,807.7 270.1,807 271.8,806.4 273.4,805.9 275.1,805.4 276.7,804.9 278.4,804.5 280,804 281.7,803.5 283.3,803 285,802.6 286.6,802.1 288.3,801.7 289.9,801.3 291.6,800.9 293.2,800.5 294.9,800.2 296.5,799.9 298.2,799.6 299.8,799.4 301.5,799.1 303.1,799 304.8,798.9 306.4,798.8 308.1,798.8 309.7,798.8 311.4,798.8 313,798.8 314.7,798.8 316.3,798.8 318,798.9 319.6,798.9 321.3,799 322.9,799 324.6,799.1 326.2,799.1 327.9,799.2 329.5,799.3 331.2,799.4 332.8,799.5 334.5,799.7 336.1,800.1 337.8,800.6 339.4,801.3 341.1,802 342.7,802.9 344.4,803.9 346,804.9 347.7,806 349.3,807.2 351,808.5 352.6,809.8 354.3,811.1 355.9,812.5 357.6,813.9" fill="none" stroke="#5ca234" stroke-width="1.5" stroke-linejoin="round"/>
<polygon points="27.5,1025.2 29.2,1025.1 30.8,1024.9 32.5,1024.6 34.1,1024.3 35.8,1023.9 37.4,1023.4 39.1,1022.4 40.7,1021 42.4,1019.4 44,1017.5 45.7,1015.3 47.3,1012.6 49,1009.6 50.6,1006.3 52.3,1002.7 53.9,998.5 55.6,993.2 57.2,987.1 58.9,980.6 60.5,973.8 62.2,967 63.8,960.3 65.5,953 67.1,945.3 68.8,937.6 70.4,930.2 72.1,923.5 73.7,917.9 75.4,913.1 77,908.6 78.7,904.4 80.3,900.5 82,896.9 83.6,893.4 85.3,890 86.9,887 88.6,884.8 90.2,883 91.9,881.3 93.5,879.9 95.2,878.5 96.8,877.2 98.5,875.9 100.1,874.6 101.8,873.3 103.4,871.9 105.1,870.3 106.7,868.7 108.4,867.1 110,865.5 111.7,863.8 113.3,862.2 115,860.5 116.6,858.8 118.3,857.1 119.9,855.4 121.6,853.7 123.2,852 124.9,850.3 126.5,848.6 128.2,846.8 129.8,845.1 131.5,843.4 133.1,841.6 134.8,839.9 136.4,838.1 138.1,836.4 139.7,834.7 141.4,832.9 143,831 144.7,829.1 146.3,827.2 148,825.3 149.6,823.4 151.3,821.5 152.9,819.6 154.6,817.7 156.2,815.9 157.9,814 159.5,812.3 161.2,810.6 162.8,808.9 164.5,807.3 166.1,805.7 167.8,804.2 169.4,802.8 171.1,801.4 172.7,800.2 174.4,799 176,797.9 177.7,796.8 179.3,795.7 181,794.7 182.6,793.7 184.3,792.8 185.9,791.9 187.6,791 189.2,790.1 190.9,789.2 192.6,788.3 194.2,787.5 195.9,786.7 197.5,785.9 199.2,785.1 200.8,784.3 202.5,783.6 204.1,782.8 205.8,782.1 207.4,781.3 209.1,780.6 210.7,779.8 212.4,779.1 214,778.4 215.7,777.7 217.3,777 219,776.3 220.6,775.7 222.3,775.2 223.9,774.7 225.6,774.2 227.2,773.8 228.9,773.4 230.5,773 232.2,772.6 233.8,772.2 235.5,771.8 237.1,771.4 238.8,771.1 240.4,770.7 242.1,770.4 243.7,770.1 245.4,769.8 247,769.5 248.7,769.2 250.3,768.9 252,768.7 253.6,768.4 255.3,768.2 256.9,768 258.6,767.8 260.2,767.6 261.9,767.4 263.5,767.2 265.2,767 266.8,766.9 268.5,766.7 270.1,766.5 271.8,766.4 273.4,766.2 275.1,766.1 276.7,766 278.4,765.8 280,765.7 281.7,765.6 283.3,765.4 285,765.3 286.6,765.2 288.3,765 289.9,764.9 291.6,764.8 293.2,764.6 294.9,764.5 296.5,764.3 298.2,764.2 299.8,764 301.5,763.8 303.1,763.7 304.8,763.5 306.4,763.3 308.1,763.2 309.7,763 311.4,762.9 313,762.8 314.7,762.7 316.3,762.6 318,762.5 319.6,762.4 321.3,762.3 322.9,762.3 324.6,762.3 326.2,762.3 327.9,762.3 329.5,762.4 331.2,762.5 332.8,762.7 334.5,762.8 336.1,763.1 337.8,763.3 339.4,763.6 341.1,763.9 342.7,764.2 344.4,764.5 346,764.9 347.7,765.3 349.3,765.7 351,766.1 352.6,766.5 354.3,767 355.9,767.5 357.6,767.9 357.6,830.8 355.9,830.3 354.3,829.8 352.6,829.3 351,828.9 349.3,828.4 347.7,828 346,827.6 344.4,827.2 342.7,826.8 341.1,826.4 339.4,826.1 337.8,825.8 336.1,825.6 334.5,825.3 332.8,825.1 331.2,824.9 329.5,824.8 327.9,824.7 326.2,824.6 324.6,824.6 322.9,824.5 321.3,824.5 319.6,824.6 318,824.6 316.3,824.7 314.7,824.7 313,824.8 311.4,824.9 309.7,825 308.1,825.1 306.4,825.3 304.8,825.4 303.1,825.5 301.5,825.7 299.8,825.8 298.2,825.9 296.5,826 294.9,826.2 293.2,826.3 291.6,826.4 289.9,826.5 288.3,826.6 286.6,826.7 285,826.8 283.3,826.9 281.7,827 280,827.1 278.4,827.2 276.7,827.3 275.1,827.4 273.4,827.5 271.8,827.7 270.1,827.8 268.5,827.9 266.8,828 265.2,828.2 263.5,828.3 261.9,828.5 260.2,828.6 258.6,828.8 256.9,829 255.3,829.2 253.6,829.4 252,829.6 250.3,829.8 248.7,830 247,830.3 245.4,830.5 243.7,830.8 242.1,831.1 240.4,831.4 238.8,831.7 237.1,832 235.5,832.4 233.8,832.7 232.2,833.1 230.5,833.4 228.9,833.8 227.2,834.2 225.6,834.6 223.9,835.1 222.3,835.5 220.6,836 219,836.6 217.3,837.2 215.7,837.8 214,838.5 212.4,839.2 210.7,839.9 209.1,840.7 207.4,841.4 205.8,842.1 204.1,842.8 202.5,843.5 200.8,844.2 199.2,845 197.5,845.7 195.9,846.5 194.2,847.3 192.6,848.1 190.9,848.9 189.2,849.8 187.6,850.6 185.9,851.5 184.3,852.4 182.6,853.3 181,854.3 179.3,855.2 177.7,856.2 176,857.3 174.4,858.4 172.7,859.5 171.1,860.8 169.4,862.1 167.8,863.5 166.1,864.9 164.5,866.5 162.8,868.1 161.2,869.7 159.5,871.4 157.9,873.1 156.2,874.8 154.6,876.4 152.9,877.9 151.3,879.5 149.6,880.9 148,882.3 146.3,883.7 144.7,884.9 143,886.1 141.4,887.2 139.7,888.2 138.1,889.1 136.4,889.9 134.8,890.7 133.1,891.5 131.5,892.2 129.8,892.9 128.2,893.6 126.5,894.2 124.9,894.8 123.2,895.3 121.6,895.8 119.9,896.3 118.3,896.8 116.6,897.3 115,897.7 113.3,898.1 111.7,898.5 110,898.9 108.4,899.3 106.7,899.7 105.1,900 103.4,900.3 101.8,900.5 100.1,900.7 98.5,900.8 96.8,900.9 95.2,901 93.5,901.3 91.9,901.7 90.2,902.3 88.6,903.1 86.9,904.3 85.3,906.4 83.6,908.8 82,911.3 80.3,913.9 78.7,916.8 77,920 75.4,923.5 73.7,927.5 72.1,932.4 70.4,938.3 68.8,945 67.1,952.1 65.5,959.3 63.8,966.1 62.2,972.4 60.5,978.9 58.9,985.5 57.2,991.8 55.6,997.6 53.9,1002.6 52.3,1006.6 50.6,1009.9 49,1013 47.3,1015.7 45.7,1018.1 44,1020.1 42.4,1021.7 40.7,1023 39.1,1024.1 37.4,1024.9 35.8,1025.2 34.1,1025.3 32.5,1025.4 30.8,1025.4 29.2,1025.3 27.5,1025.2" fill="#c0c040" fill-opacity="0.3"/>
<polyline points="27.5,1025.2 29.2,1025.2 30.8,1025.1 32.5,1024.9 34.1,1024.6 35.8,1024.4 37.4,1023.9 39.1,1023 40.7,1021.7 42.4,1020.2 44,1018.4 45.7,1016.2 47.3,1013.7 49,1010.7 50.6,1007.5 52.3,1004 53.9,999.8 55.6,994.6 57.2,988.7 58.9,982.2 60.5,975.5 62.2,968.8 63.8,962.2 65.5,955.1 67.1,947.6 68.8,940 70.4,932.9 72.1,926.4 73.7,921.1 75.4,916.5 77,912.3 78.7,908.5 80.3,904.9 82,901.6 83.6,898.4 85.3,895.4 86.9,892.6 88.6,890.8 90.2,889.3 91.9,888 93.5,886.9 95.2,885.8 96.8,884.9 98.5,884 100.1,883.1 101.8,882.2 103.4,881.1 105.1,880 106.7,878.8 108.4,877.6 110,876.3 111.7,875.1 113.3,873.8 115,872.6 116.6,871.3 118.3,870 119.9,868.7 121.6,867.3 123.2,866 124.9,864.6 126.5,863.3 128.2,861.9 129.8,860.5 131.5,859.1 133.1,857.7 134.8,856.2 136.4,854.8 138.1,853.3 139.7,851.9 141.4,850.3 143,848.7 144.7,847 146.3,845.3 148,843.6 149.6,841.8 151.3,840 152.9,838.3 154.6,836.5 156.2,834.7 157.9,832.9 159.5,831.2 161.2,829.4 162.8,827.8 164.5,826.1 166.1,824.6 167.8,823.1 169.4,821.6 171.1,820.3 172.7,819 174.4,817.9 176,816.7 177.7,815.6 179.3,814.6 181,813.6 182.6,812.6 184.3,811.7 185.9,810.7 187.6,809.8 189.2,808.9 190.9,808.1 192.6,807.2 194.2,806.4 195.9,805.5 197.5,804.7 199.2,804 200.8,803.2 202.5,802.4 204.1,801.7 205.8,800.9 207.4,800.2 209.1,799.5 210.7,798.7 212.4,798 214,797.2 215.7,796.5 217.3,795.8 219,795.2 220.6,794.6 222.3,794.1 223.9,793.6 225.6,793.1 227.2,792.7 228.9,792.2 230.5,791.8 232.2,791.4 233.8,791 235.5,790.7 237.1,790.3 238.8,789.9 240.4,789.6 242.1,789.3 243.7,788.9 245.4,788.6 247,788.3 248.7,788.1 250.3,787.8 252,787.5 253.6,787.3 255.3,787.1 256.9,786.9 258.6,786.6 260.2,786.4 261.9,786.3 263.5,786.1 265.2,785.9 266.8,785.7 268.5,785.6 270.1,785.4 271.8,785.3 273.4,785.1 275.1,785 276.7,784.8 278.4,784.7 280,784.6 281.7,784.4 283.3,784.3 285,784.2 286.6,784 288.3,783.9 289.9,783.8 291.6,783.6 293.2,783.5 294.9,783.3 296.5,783.2 298.2,783 299.8,782.9 301.5,782.7 303.1,782.5 304.8,782.4 306.4,782.2 308.1,782.1 309.7,781.9 311.4,781.8 313,781.6 314.7,781.5 316.3,781.4 318,781.3 319.6,781.3 321.3,781.2 322.9,781.2 324.6,781.1 326.2,781.2 327.9,781.2 329.5,781.3 331.2,781.4 332.8,781.5 334.5,781.7 336.1,781.9 337.8,782.2 339.4,782.4 341.1,782.7 342.7,783 344.4,783.4 346,783.8 347.7,784.1 349.3,784.5 351,785 352.6,785.4 354.3,785.9 355.9,786.3 357.6,786.8" fill="none" stroke="#b8b830" stroke-width="1.5" stroke-linejoin="round"/>
<polygon points="27.5,1025.2 29.2,1025 30.8,1024.8 32.5,1024.5 34.1,1024.1 35.8,1023.7 37.4,1023.1 39.1,1022 40.7,1020.5 42.4,1018.9 44,1017 45.7,1014.7 47.3,1012 49,1008.9 50.6,1005.5 52.3,1001.9 53.9,997.6 55.6,992.2 57.2,986.1 58.9,979.5 60.5,972.6 62.2,965.8 63.8,959 65.5,951.6 67.1,943.8 68.8,936 70.4,928.5 72.1,921.6 73.7,915.8 75.4,910.8 77,906.3 78.7,902 80.3,898 82,894 83.6,890.1 85.3,886 86.9,882.1 88.6,879.5 90.2,877.4 91.9,875.3 93.5,873.4 95.2,871.6 96.8,870 98.5,868.3 100.1,866.8 101.8,865.3 103.4,863.9 105.1,862.5 106.7,861.1 108.4,859.7 110,858.3 111.7,856.9 113.3,855.4 115,853.9 116.6,852.4 118.3,850.8 119.9,849.1 121.6,847.2 123.2,845.3 124.9,843.4 126.5,841.3 128.2,839.2 129.8,837.1 131.5,834.9 133.1,832.7 134.8,830.5 136.4,828.3 138.1,826 139.7,823.8 141.4,821.6 143,819.4 144.7,817.3 146.3,815.2 148,813.1 149.6,811.1 151.3,809.2 152.9,807.3 154.6,805.6 156.2,803.9 157.9,802.3 159.5,800.7 161.2,799.1 162.8,797.5 164.5,795.9 166.1,794.4 167.8,792.8 169.4,791.2 171.1,789.7 172.7,788.2 174.4,786.7 176,785.2 177.7,783.7 179.3,782.3 181,780.9 182.6,779.5 184.3,778.2 185.9,776.9 187.6,775.6 189.2,774.4 190.9,773.2 192.6,772.1 194.2,770.9 195.9,769.8 197.5,768.8 199.2,767.7 200.8,766.7 202.5,765.7 204.1,764.7 205.8,763.7 207.4,762.7 209.1,761.7 210.7,760.8 212.4,759.9 214,758.9 215.7,758 217.3,757.1 219,756.2 220.6,755.3 222.3,754.4 223.9,753.5 225.6,752.6 227.2,751.7 228.9,750.7 230.5,749.8 232.2,748.9 233.8,747.9 235.5,747 237.1,746.1 238.8,745.2 240.4,744.3 242.1,743.5 243.7,742.6 245.4,741.8 247,741 248.7,740.2 250.3,739.5 252,738.8 253.6,738.1 255.3,737.5 256.9,736.9 258.6,736.4 260.2,735.8 261.9,735.3 263.5,734.9 265.2,734.4 266.8,733.9 268.5,733.5 270.1,733.1 271.8,732.7 273.4,732.3 275.1,731.9 276.7,731.5 278.4,731.1 280,730.8 281.7,730.4 283.3,730 285,729.7 286.6,729.3 288.3,728.9 289.9,728.6 291.6,728.2 293.2,727.8 294.9,727.4 296.5,727 298.2,726.6 299.8,726.1 301.5,725.7 303.1,725.2 304.8,724.8 306.4,724.3 308.1,723.9 309.7,723.5 311.4,723.1 313,722.8 314.7,722.5 316.3,722.2 318,721.9 319.6,721.7 321.3,721.6 322.9,721.4 324.6,721.4 326.2,721.4 327.9,721.4 329.5,721.4 331.2,721.4 332.8,721.4 334.5,721.4 336.1,721.4 337.8,721.4 339.4,721.4 341.1,721.4 342.7,721.4 344.4,721.4 346,721.4 347.7,721.4 349.3,721.4 351,721.4 352.6,721.4 354.3,721.4 355.9,721.4 357.6,721.4 357.6,784.3 355.9,784.3 354.3,784.3 352.6,784.3 351,784.3 349.3,784.3 347.7,784.3 346,784.3 344.4,784.3 342.7,784.3 341.1,784.3 339.4,784.3 337.8,784.3 336.1,784.3 334.5,784.3 332.8,784.3 331.2,784.3 329.5,784.3 327.9,784.3 326.2,784.3 324.6,784.3 322.9,784.3 321.3,784.5 319.6,784.6 318,784.8 316.3,785.1 314.7,785.4 313,785.7 311.4,786 309.7,786.4 308.1,786.8 306.4,787.2 304.8,787.7 303.1,788.1 301.5,788.6 299.8,789 298.2,789.5 296.5,789.9 294.9,790.3 293.2,790.7 291.6,791.1 289.9,791.5 288.3,791.8 286.6,792.2 285,792.6 283.3,792.9 281.7,793.3 280,793.7 278.4,794 276.7,794.4 275.1,794.8 273.4,795.2 271.8,795.6 270.1,796 268.5,796.4 266.8,796.8 265.2,797.3 263.5,797.8 261.9,798.2 260.2,798.7 258.6,799.3 256.9,799.8 255.3,800.4 253.6,801 252,801.7 250.3,802.4 248.7,803.1 247,803.9 245.4,804.7 243.7,805.5 242.1,806.4 240.4,807.2 238.8,808.1 237.1,809 235.5,809.9 233.8,810.8 232.2,811.8 230.5,812.7 228.9,813.6 227.2,814.6 225.6,815.5 223.9,816.4 222.3,817.3 220.6,818.2 219,819.1 217.3,820 215.7,820.9 214,821.8 212.4,822.8 210.7,823.7 209.1,824.6 207.4,825.6 205.8,826.6 204.1,827.6 202.5,828.6 200.8,829.6 199.2,830.6 197.5,831.7 195.9,832.7 194.2,833.8 192.6,835 190.9,836.1 189.2,837.3 187.6,838.5 185.9,839.8 184.3,841.1 182.6,842.4 181,843.8 179.3,845.2 177.7,846.6 176,848.1 174.4,849.6 172.7,851.1 171.1,852.6 169.4,854.1 167.8,855.7 166.1,857.3 164.5,858.8 162.8,860.4 161.2,862 159.5,863.6 157.9,865.1 156.2,866.6 154.6,868.1 152.9,869.5 151.3,871 149.6,872.5 148,874 146.3,875.5 144.7,876.9 143,878.3 141.4,879.8 139.7,881.1 138.1,882.5 136.4,883.8 134.8,885 133.1,886.2 131.5,887.4 129.8,888.4 128.2,889.4 126.5,890.4 124.9,891.2 123.2,891.9 121.6,892.6 119.9,893.1 118.3,893.6 116.6,893.9 115,894.1 113.3,894.3 111.7,894.4 110,894.5 108.4,894.5 106.7,894.6 105.1,894.6 103.4,894.7 101.8,894.9 100.1,895.1 98.5,895.3 96.8,895.7 95.2,896.1 93.5,896.7 91.9,897.5 90.2,898.4 88.6,899.4 86.9,900.9 85.3,903.8 83.6,906.9 82,909.8 80.3,912.6 78.7,915.5 77,918.7 75.4,922.3 73.7,926.3 72.1,931.3 70.4,937.3 68.8,944.1 67.1,951.3 65.5,958.5 63.8,965.4 62.2,971.8 60.5,978.3 58.9,984.9 57.2,991.2 55.6,997 53.9,1002.1 52.3,1006.1 50.6,1009.5 49,1012.6 47.3,1015.3 45.7,1017.8 44,1019.8 42.4,1021.5 40.7,1022.8 39.1,1023.9 37.4,1024.8 35.8,1025.1 34.1,1025.2 32.5,1025.3 30.8,1025.3 29.2,1025.3 27.5,1025.2" fill="#9060b0" fill-opacity="0.3"/>
<polyline points="27.5,1025.2 29.2,1025.2 30.8,1025.1 32.5,1024.9 34.1,1024.6 35.8,1024.4 37.4,1023.9 39.1,1023 40.7,1021.7 42.4,1020.2 44,1018.4 45.7,1016.2 47.3,1013.7 49,1010.7 50.6,1007.5 52.3,1004 53.9,999.8 55.6,994.6 57.2,988.7 58.9,982.2 60.5,975.5 62.2,968.8 63.8,962.2 65.5,955.1 67.1,947.6 68.8,940 70.4,932.9 72.1,926.4 73.7,921.1 75.4,916.6 77,912.5 78.7,908.8 80.3,905.3 82,901.9 83.6,898.5 85.3,894.9 86.9,891.5 88.6,889.5 90.2,887.9 91.9,886.4 93.5,885.1 95.2,883.9 96.8,882.8 98.5,881.8 100.1,880.9 101.8,880.1 103.4,879.3 105.1,878.6 106.7,877.8 108.4,877.1 110,876.4 111.7,875.6 113.3,874.9 115,874 116.6,873.1 118.3,872.2 119.9,871.1 121.6,869.9 123.2,868.6 124.9,867.3 126.5,865.8 128.2,864.3 129.8,862.8 131.5,861.1 133.1,859.5 134.8,857.8 136.4,856 138.1,854.3 139.7,852.5 141.4,850.7 143,848.9 144.7,847.1 146.3,845.3 148,843.5 149.6,841.8 151.3,840.1 152.9,838.4 154.6,836.8 156.2,835.2 157.9,833.7 159.5,832.1 161.2,830.5 162.8,829 164.5,827.4 166.1,825.8 167.8,824.2 169.4,822.7 171.1,821.1 172.7,819.6 174.4,818.1 176,816.6 177.7,815.2 179.3,813.7 181,812.3 182.6,811 184.3,809.6 185.9,808.3 187.6,807.1 189.2,805.8 190.9,804.7 192.6,803.5 194.2,802.4 195.9,801.3 197.5,800.2 199.2,799.2 200.8,798.1 202.5,797.1 204.1,796.1 205.8,795.1 207.4,794.1 209.1,793.2 210.7,792.2 212.4,791.3 214,790.4 215.7,789.5 217.3,788.6 219,787.6 220.6,786.7 222.3,785.8 223.9,784.9 225.6,784 227.2,783.1 228.9,782.2 230.5,781.2 232.2,780.3 233.8,779.4 235.5,778.5 237.1,777.6 238.8,776.7 240.4,775.8 242.1,774.9 243.7,774.1 245.4,773.2 247,772.4 248.7,771.7 250.3,770.9 252,770.2 253.6,769.6 255.3,768.9 256.9,768.4 258.6,767.8 260.2,767.3 261.9,766.8 263.5,766.3 265.2,765.8 266.8,765.4 268.5,765 270.1,764.5 271.8,764.1 273.4,763.7 275.1,763.3 276.7,763 278.4,762.6 280,762.2 281.7,761.8 283.3,761.5 285,761.1 286.6,760.8 288.3,760.4 289.9,760 291.6,759.7 293.2,759.3 294.9,758.9 296.5,758.4 298.2,758 299.8,757.6 301.5,757.1 303.1,756.7 304.8,756.2 306.4,755.8 308.1,755.4 309.7,755 311.4,754.6 313,754.2 314.7,753.9 316.3,753.6 318,753.4 319.6,753.2 321.3,753 322.9,752.9 324.6,752.8 326.2,752.8 327.9,752.8 329.5,752.8 331.2,752.8 332.8,752.8 334.5,752.8 336.1,752.8 337.8,752.8 339.4,752.8 341.1,752.8 342.7,752.8 344.4,752.8 346,752.8 347.7,752.8 349.3,752.8 351,752.8 352.6,752.8 354.3,752.8 355.9,752.8 357.6,752.8" fill="none" stroke="#8a5fbf" stroke-width="1.5" stroke-linejoin="round"/>
<polygon points="27.5,1025.2 29.2,1025.1 30.8,1024.8 32.5,1024.3 34.1,1023.7 35.8,1022.9 37.4,1022 39.1,1021 40.7,1019.8 42.4,1018.7 44,1016.9 45.7,1014.5 47.3,1011.6 49,1008.2 50.6,1004.5 52.3,1000.6 53.9,996.2 55.6,991 57.2,985.1 58.9,978.7 60.5,972.1 62.2,965.4 63.8,958.6 65.5,951.2 67.1,943.3 68.8,935.2 70.4,927.5 72.1,920.4 73.7,914.4 75.4,909 77,904 78.7,899.4 80.3,895.1 82,891.1 83.6,887.5 85.3,884.3 86.9,881.5 88.6,879.2 90.2,877.1 91.9,875 93.5,873.1 95.2,871.3 96.8,869.5 98.5,867.8 100.1,866.2 101.8,864.6 103.4,863.1 105.1,861.6 106.7,860.2 108.4,858.7 110,857.2 111.7,855.8 113.3,854.3 115,852.8 116.6,851.3 118.3,849.7 119.9,848.1 121.6,846.4 123.2,844.6 124.9,842.8 126.5,841 128.2,839.2 129.8,837.3 131.5,835.5 133.1,833.6 134.8,831.7 136.4,829.8 138.1,827.9 139.7,826 141.4,824.1 143,822.3 144.7,820.4 146.3,818.6 148,816.8 149.6,815 151.3,813.2 152.9,811.5 154.6,809.8 156.2,808.2 157.9,806.6 159.5,805 161.2,803.4 162.8,801.8 164.5,800.3 166.1,798.7 167.8,797.2 169.4,795.7 171.1,794.2 172.7,792.8 174.4,791.3 176,789.8 177.7,788.4 179.3,787 181,785.5 182.6,784.1 184.3,782.7 185.9,781.3 187.6,779.9 189.2,778.5 190.9,777.1 192.6,775.7 194.2,774.3 195.9,773 197.5,771.6 199.2,770.2 200.8,768.9 202.5,767.6 204.1,766.2 205.8,764.9 207.4,763.6 209.1,762.3 210.7,761 212.4,759.7 214,758.4 215.7,757.1 217.3,755.8 219,754.6 220.6,753.3 222.3,752.1 223.9,750.9 225.6,749.6 227.2,748.4 228.9,747.1 230.5,745.9 232.2,744.7 233.8,743.4 235.5,742.2 237.1,741 238.8,739.8 240.4,738.6 242.1,737.4 243.7,736.2 245.4,735.1 247,734 248.7,732.9 250.3,731.8 252,730.8 253.6,729.8 255.3,728.8 256.9,727.9 258.6,727 260.2,726.1 261.9,725.2 263.5,724.3 265.2,723.4 266.8,722.6 268.5,721.8 270.1,721 271.8,720.2 273.4,719.4 275.1,718.6 276.7,717.9 278.4,717.1 280,716.4 281.7,715.7 283.3,715.1 285,714.4 286.6,713.8 288.3,713.2 289.9,712.7 291.6,712.1 293.2,711.6 294.9,711.1 296.5,710.5 298.2,710 299.8,709.5 301.5,709 303.1,708.4 304.8,708 306.4,707.5 308.1,707 309.7,706.6 311.4,706.2 313,705.8 314.7,705.4 316.3,705 318,704.7 319.6,704.4 321.3,704.2 322.9,704 324.6,703.8 326.2,703.7 327.9,703.6 329.5,703.4 331.2,703.3 332.8,703.2 334.5,703.1 336.1,703 337.8,702.9 339.4,702.8 341.1,702.7 342.7,702.6 344.4,702.5 346,702.5 347.7,702.4 349.3,702.3 351,702.3 352.6,702.3 354.3,702.2 355.9,702.2 357.6,702.2 357.6,757.2 355.9,757 354.3,756.8 352.6,756.6 351,756.5 349.3,756.4 347.7,756.4 346,756.3 344.4,756.3 342.7,756.3 341.1,756.3 339.4,756.4 337.8,756.6 336.1,756.9 334.5,757.2 332.8,757.6 331.2,758 329.5,758.4 327.9,758.8 326.2,759.2 324.6,759.6 322.9,759.9 321.3,760.3 319.6,760.6 318,761 316.3,761.4 314.7,761.8 313,762.2 311.4,762.5 309.7,763 308.1,763.4 306.4,763.8 304.8,764.2 303.1,764.6 301.5,765.1 299.8,765.5 298.2,765.9 296.5,766.4 294.9,766.9 293.2,767.3 291.6,767.8 289.9,768.3 288.3,768.8 286.6,769.3 285,769.8 283.3,770.3 281.7,770.8 280,771.3 278.4,771.9 276.7,772.4 275.1,773 273.4,773.5 271.8,774.1 270.1,774.7 268.5,775.3 266.8,775.9 265.2,776.6 263.5,777.2 261.9,777.9 260.2,778.6 258.6,779.3 256.9,780 255.3,780.8 253.6,781.6 252,782.5 250.3,783.4 248.7,784.3 247,785.2 245.4,786.2 243.7,787.2 242.1,788.2 240.4,789.3 238.8,790.3 237.1,791.4 235.5,792.5 233.8,793.6 232.2,794.6 230.5,795.7 228.9,796.8 227.2,797.9 225.6,798.9 223.9,800 222.3,801 220.6,802.1 219,803.2 217.3,804.2 215.7,805.3 214,806.5 212.4,807.6 210.7,808.7 209.1,809.8 207.4,811 205.8,812.1 204.1,813.2 202.5,814.3 200.8,815.4 199.2,816.5 197.5,817.5 195.9,818.6 194.2,819.6 192.6,820.6 190.9,821.5 189.2,822.5 187.6,823.3 185.9,824.2 184.3,825 182.6,825.7 181,826.5 179.3,827.2 177.7,828 176,828.9 174.4,829.7 172.7,830.7 171.1,831.7 169.4,832.9 167.8,834 166.1,835.3 164.5,836.6 162.8,837.9 161.2,839.3 159.5,840.7 157.9,842.2 156.2,843.7 154.6,845.2 152.9,846.7 151.3,848.2 149.6,849.9 148,851.5 146.3,853.2 144.7,854.9 143,856.6 141.4,858.3 139.7,860.1 138.1,861.8 136.4,863.5 134.8,865.3 133.1,867 131.5,868.7 129.8,870.3 128.2,872 126.5,873.6 124.9,875.1 123.2,876.6 121.6,878 119.9,879.4 118.3,880.7 116.6,881.9 115,883 113.3,884.1 111.7,885.1 110,886.1 108.4,887.2 106.7,888.2 105.1,889.2 103.4,890.2 101.8,891.3 100.1,892.5 98.5,893.7 96.8,895 95.2,896.4 93.5,897.9 91.9,899.5 90.2,901.2 88.6,903.1 86.9,905.2 85.3,907.4 83.6,909.9 82,912.8 80.3,916.2 78.7,920.2 77,924.6 75.4,929.4 73.7,934.3 72.1,939.8 70.4,946.2 68.8,953.2 67.1,960.4 65.5,967.5 63.8,974.1 62.2,980.1 60.5,986 58.9,991.8 57.2,997.3 55.6,1002.3 53.9,1006.6 52.3,1010 50.6,1012.9 49,1015.5 47.3,1017.9 45.7,1019.9 44,1021.6 42.4,1022.9 40.7,1023.8 39.1,1024.5 37.4,1025 35.8,1025.2 34.1,1025.3 32.5,1025.3 30.8,1025.3 29.2,1025.3 27.5,1025.2" fill="#f59a50" fill-opacity="0.3"/>
<polyline points="27.5,1025.2 29.2,1025.2 30.8,1025.1 32.5,1025 34.1,1024.8 35.8,1024.6 37.4,1024.3 39.1,1023.7 40.7,1022.9 42.4,1021.8 44,1020.5 45.7,1018.7 47.3,1016.6 49,1014.1 50.6,1011.3 52.3,1008.3 53.9,1004.8 55.6,1000.4 57.2,995.3 58.9,989.6 60.5,983.7 62.2,977.7 63.8,971.6 65.5,964.8 67.1,957.4 68.8,950 70.4,942.7 72.1,936 73.7,930.1 75.4,924.8 77,919.7 78.7,914.8 80.3,910.4 82,906.5 83.6,903.1 85.3,900.3 86.9,897.7 88.6,895.2 90.2,892.9 91.9,890.6 93.5,888.6 95.2,886.6 96.8,884.7 98.5,882.9 100.1,881.2 101.8,879.5 103.4,877.9 105.1,876.3 106.7,874.8 108.4,873.2 110,871.7 111.7,870.1 113.3,868.5 115,866.9 116.6,865.3 118.3,863.6 119.9,861.8 121.6,859.9 123.2,858 124.9,856 126.5,853.9 128.2,851.9 129.8,849.8 131.5,847.7 133.1,845.6 134.8,843.4 136.4,841.3 138.1,839.2 139.7,837.1 141.4,835.1 143,833 144.7,831 146.3,829.1 148,827.1 149.6,825.3 151.3,823.5 152.9,821.8 154.6,820.1 156.2,818.6 157.9,817.1 159.5,815.6 161.2,814.1 162.8,812.8 164.5,811.4 166.1,810.1 167.8,808.9 169.4,807.7 171.1,806.6 172.7,805.5 174.4,804.6 176,803.7 177.7,802.9 179.3,802.1 181,801.3 182.6,800.6 184.3,799.8 185.9,799 187.6,798.2 189.2,797.3 190.9,796.4 192.6,795.4 194.2,794.4 195.9,793.4 197.5,792.4 199.2,791.3 200.8,790.2 202.5,789.1 204.1,788 205.8,786.9 207.4,785.8 209.1,784.7 210.7,783.5 212.4,782.4 214,781.3 215.7,780.2 217.3,779.1 219,778 220.6,776.9 222.3,775.9 223.9,774.8 225.6,773.8 227.2,772.7 228.9,771.6 230.5,770.6 232.2,769.5 233.8,768.4 235.5,767.3 237.1,766.2 238.8,765.2 240.4,764.1 242.1,763.1 243.7,762 245.4,761 247,760.1 248.7,759.1 250.3,758.2 252,757.3 253.6,756.5 255.3,755.6 256.9,754.9 258.6,754.1 260.2,753.4 261.9,752.7 263.5,752.1 265.2,751.4 266.8,750.8 268.5,750.2 270.1,749.5 271.8,749 273.4,748.4 275.1,747.8 276.7,747.2 278.4,746.7 280,746.2 281.7,745.6 283.3,745.1 285,744.6 286.6,744.1 288.3,743.6 289.9,743.1 291.6,742.7 293.2,742.2 294.9,741.7 296.5,741.2 298.2,740.8 299.8,740.3 301.5,739.9 303.1,739.5 304.8,739 306.4,738.6 308.1,738.2 309.7,737.8 311.4,737.4 313,737 314.7,736.6 316.3,736.2 318,735.8 319.6,735.5 321.3,735.1 322.9,734.8 324.6,734.4 326.2,734 327.9,733.7 329.5,733.3 331.2,732.8 332.8,732.4 334.5,732.1 336.1,731.7 337.8,731.5 339.4,731.3 341.1,731.2 342.7,731.1 344.4,731.1 346,731.2 347.7,731.2 349.3,731.2 351,731.3 352.6,731.4 354.3,731.6 355.9,731.8 357.6,732.1" fill="none" stroke="#ff7f00" stroke-width="1.5" stroke-linejoin="round"/>
</g>
<path d="M27.5,679.2V1025.2H357.6" fill="none" stroke="#888888" stroke-width="1.6"/>
<path d="M27.5,1025.2h3.3M27.5,962.3h3.3M27.5,899.4h3.3M27.5,836.5h3.3M27.5,773.6h3.3M27.5,710.7h3.3M27.5,1025.2v-3.3M82.5,1025.2v-3.3M137.5,1025.2v-3.3M192.6,1025.2v-3.3M247.6,1025.2v-3.3M302.6,1025.2v-3.3M357.6,1025.2v-3.3" stroke="#888888" stroke-width="1.3"/>
<text x="22" y="1030.5" font-size="14.8" text-anchor="end" fill="#1a1a1a" textLength="7.8" lengthAdjust="spacingAndGlyphs">1</text>
<text x="22" y="967.6" font-size="14.8" text-anchor="end" fill="#1a1a1a" textLength="19.3" lengthAdjust="spacingAndGlyphs">1.2</text>
<text x="22" y="904.7" font-size="14.8" text-anchor="end" fill="#1a1a1a" textLength="19.3" lengthAdjust="spacingAndGlyphs">1.4</text>
<text x="22" y="841.8" font-size="14.8" text-anchor="end" fill="#1a1a1a" textLength="19.3" lengthAdjust="spacingAndGlyphs">1.6</text>
<text x="22" y="778.9" font-size="14.8" text-anchor="end" fill="#1a1a1a" textLength="19.3" lengthAdjust="spacingAndGlyphs">1.8</text>
<text x="22" y="716" font-size="14.8" text-anchor="end" fill="#1a1a1a" textLength="7.8" lengthAdjust="spacingAndGlyphs">2</text>
<text x="27.5" y="1044.5" font-size="14.8" text-anchor="middle" fill="#1a1a1a" textLength="7.8" lengthAdjust="spacingAndGlyphs">0</text>
<text x="82.5" y="1044.5" font-size="14.8" text-anchor="middle" fill="#1a1a1a" textLength="23.3" lengthAdjust="spacingAndGlyphs">500</text>
<text x="137.5" y="1044.5" font-size="14.8" text-anchor="middle" fill="#1a1a1a" textLength="31.1" lengthAdjust="spacingAndGlyphs">1000</text>
<text x="192.6" y="1044.5" font-size="14.8" text-anchor="middle" fill="#1a1a1a" textLength="31.1" lengthAdjust="spacingAndGlyphs">1500</text>
<text x="247.6" y="1044.5" font-size="14.8" text-anchor="middle" fill="#1a1a1a" textLength="31.1" lengthAdjust="spacingAndGlyphs">2000</text>
<text x="302.6" y="1044.5" font-size="14.8" text-anchor="middle" fill="#1a1a1a" textLength="31.1" lengthAdjust="spacingAndGlyphs">2500</text>
<text x="357.6" y="1044.5" font-size="14.8" text-anchor="middle" fill="#1a1a1a" textLength="31.1" lengthAdjust="spacingAndGlyphs">3000</text>
<g clip-path="url(#pc3)">
<polygon points="455.7,1025.4 457.4,1025.3 459,1025.2 460.7,1025.2 462.3,1025.1 464,1025 465.6,1024.9 467.3,1024.8 468.9,1024.6 470.6,1024.4 472.2,1024.1 473.9,1023.8 475.5,1023.4 477.2,1023 478.8,1022.6 480.5,1021.9 482.1,1021 483.8,1020 485.4,1018.9 487.1,1017.7 488.7,1016.6 490.4,1015.3 492,1013.9 493.7,1012.4 495.3,1010.8 497,1009.1 498.6,1007.4 500.3,1005.6 501.9,1003.7 503.6,1001.9 505.2,1000 506.9,998.2 508.5,996.4 510.2,994.7 511.9,993 513.5,991.4 515.2,989.7 516.8,988.1 518.5,986.4 520.1,984.8 521.8,983.1 523.4,981.5 525.1,979.8 526.7,978.2 528.4,976.5 530,974.9 531.7,973.2 533.3,971.6 535,970.1 536.6,968.7 538.3,967.2 539.9,965.6 541.6,964.1 543.2,962.6 544.9,961 546.5,959.4 548.2,957.8 549.8,956.2 551.5,954.5 553.1,952.9 554.8,951.2 556.4,949.5 558.1,947.9 559.7,946.2 561.4,944.4 563,942.7 564.7,941 566.4,939.2 568,937.5 569.7,935.7 571.3,933.9 573,932.2 574.6,930.4 576.3,928.6 577.9,926.8 579.6,924.9 581.2,923.1 582.9,921.3 584.5,919.4 586.2,917.6 587.8,915.7 589.5,913.9 591.1,912.1 592.8,910.3 594.4,908.5 596.1,906.7 597.7,904.9 599.4,903.1 601,901.3 602.7,899.5 604.3,897.7 606,895.9 607.6,894.1 609.3,892.4 610.9,890.6 612.6,888.8 614.2,887.1 615.9,885.3 617.5,883.6 619.2,881.8 620.9,880.1 622.5,878.3 624.2,876.6 625.8,874.8 627.5,873.1 629.1,871.3 630.8,869.6 632.4,867.9 634.1,866.1 635.7,864.4 637.4,862.6 639,860.9 640.7,859.2 642.3,857.4 644,855.7 645.6,854 647.3,852.3 648.9,850.6 650.6,848.9 652.2,847.2 653.9,845.5 655.5,843.8 657.2,842.2 658.8,840.5 660.5,838.9 662.1,837.2 663.8,835.6 665.4,834 667.1,832.4 668.7,830.8 670.4,829.2 672,827.7 673.7,826.1 675.3,824.6 677,823 678.7,821.5 680.3,820 682,818.5 683.6,817 685.3,815.5 686.9,814 688.6,812.5 690.2,811 691.9,809.5 693.5,808.1 695.2,806.6 696.8,805.1 698.5,803.7 700.1,802.2 701.8,800.8 703.4,799.3 705.1,797.9 706.7,796.4 708.4,795 710,793.6 711.7,792.1 713.3,790.7 715,789.3 716.6,787.9 718.3,786.5 719.9,785.1 721.6,783.7 723.2,782.3 724.9,780.9 726.5,779.5 728.2,778.1 729.8,776.7 731.5,775.3 733.2,774 734.8,772.6 736.5,771.3 738.1,770 739.8,768.7 741.4,767.4 743.1,766.2 744.7,764.9 746.4,763.7 748,762.5 749.7,761.2 751.3,760.1 753,758.9 754.6,757.7 756.3,756.6 757.9,755.4 759.6,754.3 761.2,753.2 762.9,752.1 764.5,751 766.2,749.9 767.8,748.8 769.5,747.7 771.1,746.7 772.8,745.6 774.4,744.6 776.1,743.5 777.7,742.5 779.4,741.5 781,740.4 782.7,739.4 784.3,738.4 786,737.4 786,752.3 784.3,753.8 782.7,755.4 781,757 779.4,758.6 777.7,760.2 776.1,761.7 774.4,763.3 772.8,764.9 771.1,766.5 769.5,768.1 767.8,769.7 766.2,771.2 764.5,772.8 762.9,774.4 761.2,776 759.6,777.5 757.9,779.1 756.3,780.7 754.6,782.2 753,783.8 751.3,785.3 749.7,786.9 748,788.4 746.4,789.9 744.7,791.5 743.1,793 741.4,794.5 739.8,796 738.1,797.5 736.5,799 734.8,800.5 733.2,802 731.5,803.4 729.8,804.9 728.2,806.3 726.5,807.8 724.9,809.3 723.2,810.8 721.6,812.2 719.9,813.7 718.3,815.2 716.6,816.7 715,818.1 713.3,819.6 711.7,821.1 710,822.6 708.4,824.1 706.7,825.6 705.1,827.1 703.4,828.6 701.8,830.1 700.1,831.6 698.5,833.1 696.8,834.6 695.2,836.1 693.5,837.6 691.9,839.1 690.2,840.6 688.6,842.1 686.9,843.6 685.3,845.1 683.6,846.6 682,848.2 680.3,849.7 678.7,851.2 677,852.7 675.3,854.3 673.7,855.8 672,857.3 670.4,858.8 668.7,860.3 667.1,861.8 665.4,863.3 663.8,864.8 662.1,866.3 660.5,867.8 658.8,869.2 657.2,870.7 655.5,872.2 653.9,873.7 652.2,875.1 650.6,876.6 648.9,878.1 647.3,879.6 645.6,881 644,882.5 642.3,884 640.7,885.5 639,887 637.4,888.4 635.7,889.9 634.1,891.4 632.4,892.9 630.8,894.4 629.1,895.9 627.5,897.4 625.8,898.9 624.2,900.5 622.5,902 620.9,903.5 619.2,905 617.5,906.6 615.9,908.1 614.2,909.7 612.6,911.2 610.9,912.8 609.3,914.3 607.6,915.9 606,917.4 604.3,919 602.7,920.5 601,922.1 599.4,923.6 597.7,925.2 596.1,926.8 594.4,928.3 592.8,929.9 591.1,931.5 589.5,933.1 587.8,934.7 586.2,936.3 584.5,937.9 582.9,939.5 581.2,941.1 579.6,942.7 577.9,944.2 576.3,945.8 574.6,947.3 573,948.9 571.3,950.4 569.7,951.9 568,953.4 566.4,954.9 564.7,956.4 563,957.9 561.4,959.4 559.7,960.8 558.1,962.2 556.4,963.6 554.8,965 553.1,966.4 551.5,967.8 549.8,969.1 548.2,970.4 546.5,971.7 544.9,973 543.2,974.3 541.6,975.5 539.9,976.8 538.3,978 536.6,979.2 535,980.4 533.3,981.5 531.7,982.8 530,984.2 528.4,985.5 526.7,986.9 525.1,988.3 523.4,989.6 521.8,991 520.1,992.4 518.5,993.8 516.8,995.2 515.2,996.6 513.5,998 511.9,999.4 510.2,1000.9 508.5,1002.4 506.9,1003.9 505.2,1005.5 503.6,1007.2 501.9,1008.8 500.3,1010.4 498.6,1012 497,1013.6 495.3,1015 493.7,1016.4 492,1017.7 490.4,1018.9 488.7,1020 487.1,1021 485.4,1021.9 483.8,1022.8 482.1,1023.7 480.5,1024.3 478.8,1024.8 477.2,1025.1 475.5,1025.4 473.9,1025.6 472.2,1025.7 470.6,1025.8 468.9,1025.9 467.3,1025.9 465.6,1025.8 464,1025.7 462.3,1025.7 460.7,1025.6 459,1025.5 457.4,1025.5 455.7,1025.4" fill="#555555" fill-opacity="0.3"/>
<polyline points="455.7,1025.4 457.4,1025.4 459,1025.4 460.7,1025.4 462.3,1025.4 464,1025.4 465.6,1025.4 467.3,1025.4 468.9,1025.3 470.6,1025.2 472.2,1025 473.9,1024.8 475.5,1024.5 477.2,1024.2 478.8,1023.8 480.5,1023.3 482.1,1022.5 483.8,1021.6 485.4,1020.6 487.1,1019.5 488.7,1018.5 490.4,1017.3 492,1016 493.7,1014.7 495.3,1013.2 497,1011.6 498.6,1009.9 500.3,1008.3 501.9,1006.5 503.6,1004.8 505.2,1003.1 506.9,1001.4 508.5,999.7 510.2,998.1 511.9,996.6 513.5,995.1 515.2,993.6 516.8,992 518.5,990.5 520.1,989 521.8,987.5 523.4,986 525.1,984.5 526.7,983 528.4,981.5 530,980 531.7,978.5 533.3,977.1 535,975.8 536.6,974.5 538.3,973.2 539.9,971.8 541.6,970.4 543.2,969.1 544.9,967.7 546.5,966.2 548.2,964.8 549.8,963.3 551.5,961.9 553.1,960.4 554.8,958.9 556.4,957.4 558.1,955.8 559.7,954.3 561.4,952.7 563,951.2 564.7,949.6 566.4,948 568,946.3 569.7,944.7 571.3,943.1 573,941.4 574.6,939.8 576.3,938.1 577.9,936.5 579.6,934.8 581.2,933.1 582.9,931.4 584.5,929.7 586.2,928 587.8,926.2 589.5,924.6 591.1,922.9 592.8,921.2 594.4,919.5 596.1,917.8 597.7,916.2 599.4,914.5 601,912.8 602.7,911.2 604.3,909.5 606,907.9 607.6,906.2 609.3,904.6 610.9,902.9 612.6,901.3 614.2,899.6 615.9,898 617.5,896.4 619.2,894.7 620.9,893.1 622.5,891.5 624.2,889.8 625.8,888.2 627.5,886.6 629.1,885 630.8,883.4 632.4,881.8 634.1,880.2 635.7,878.6 637.4,877 639,875.4 640.7,873.8 642.3,872.2 644,870.6 645.6,869 647.3,867.5 648.9,865.9 650.6,864.3 652.2,862.7 653.9,861.2 655.5,859.6 657.2,858 658.8,856.5 660.5,854.9 662.1,853.4 663.8,851.8 665.4,850.3 667.1,848.7 668.7,847.2 670.4,845.7 672,844.1 673.7,842.6 675.3,841.1 677,839.5 678.7,838 680.3,836.5 682,835 683.6,833.5 685.3,832 686.9,830.5 688.6,829 690.2,827.5 691.9,826 693.5,824.5 695.2,823 696.8,821.5 698.5,820 700.1,818.5 701.8,817 703.4,815.6 705.1,814.1 706.7,812.6 708.4,811.2 710,809.7 711.7,808.2 713.3,806.8 715,805.3 716.6,803.9 718.3,802.4 719.9,801 721.6,799.5 723.2,798.1 724.9,796.7 726.5,795.2 728.2,793.8 729.8,792.4 731.5,790.9 733.2,789.5 734.8,788.1 736.5,786.7 738.1,785.3 739.8,783.9 741.4,782.5 743.1,781.1 744.7,779.7 746.4,778.3 748,776.9 749.7,775.5 751.3,774.1 753,772.7 754.6,771.3 756.3,769.9 757.9,768.6 759.6,767.2 761.2,765.8 762.9,764.5 764.5,763.1 766.2,761.7 767.8,760.4 769.5,759 771.1,757.7 772.8,756.3 774.4,755 776.1,753.6 777.7,752.3 779.4,751 781,749.6 782.7,748.3 784.3,747 786,745.7" fill="none" stroke="#262626" stroke-width="1.5" stroke-linejoin="round"/>
<polygon points="455.7,1025.4 457.4,1025.4 459,1025.4 460.7,1025.4 462.3,1025.4 464,1025.4 465.6,1025.4 467.3,1025.4 468.9,1025.3 470.6,1025.2 472.2,1025 473.9,1024.8 475.5,1024.5 477.2,1024.2 478.8,1023.8 480.5,1023.2 482.1,1022.5 483.8,1021.7 485.4,1020.7 487.1,1019.7 488.7,1018.7 490.4,1017.6 492,1016.4 493.7,1015.1 495.3,1013.7 497,1012.2 498.6,1010.6 500.3,1009 501.9,1007.3 503.6,1005.7 505.2,1004 506.9,1002.4 508.5,1000.8 510.2,999.2 511.9,997.7 513.5,996.2 515.2,994.7 516.8,993.2 518.5,991.7 520.1,990.2 521.8,988.7 523.4,987.2 525.1,985.7 526.7,984.2 528.4,982.8 530,981.3 531.7,979.8 533.3,978.3 535,977 536.6,975.7 538.3,974.3 539.9,972.9 541.6,971.5 543.2,970.1 544.9,968.7 546.5,967.3 548.2,965.8 549.8,964.3 551.5,962.9 553.1,961.4 554.8,959.9 556.4,958.4 558.1,956.8 559.7,955.3 561.4,953.7 563,952.2 564.7,950.6 566.4,949 568,947.4 569.7,945.8 571.3,944.2 573,942.6 574.6,941 576.3,939.3 577.9,937.7 579.6,936 581.2,934.4 582.9,932.7 584.5,931 586.2,929.3 587.8,927.6 589.5,926 591.1,924.3 592.8,922.7 594.4,921 596.1,919.4 597.7,917.7 599.4,916.1 601,914.4 602.7,912.8 604.3,911.1 606,909.5 607.6,907.9 609.3,906.2 610.9,904.6 612.6,903 614.2,901.4 615.9,899.8 617.5,898.1 619.2,896.5 620.9,894.9 622.5,893.3 624.2,891.7 625.8,890.1 627.5,888.5 629.1,886.9 630.8,885.3 632.4,883.7 634.1,882.1 635.7,880.5 637.4,879 639,877.4 640.7,875.8 642.3,874.2 644,872.6 645.6,871.1 647.3,869.5 648.9,867.9 650.6,866.4 652.2,864.8 653.9,863.3 655.5,861.7 657.2,860.2 658.8,858.6 660.5,857.1 662.1,855.5 663.8,854 665.4,852.4 667.1,850.9 668.7,849.4 670.4,847.8 672,846.3 673.7,844.8 675.3,843.3 677,841.7 678.7,840.2 680.3,838.7 682,837.2 683.6,835.7 685.3,834.2 686.9,832.7 688.6,831.2 690.2,829.7 691.9,828.2 693.5,826.7 695.2,825.2 696.8,823.7 698.5,822.2 700.1,820.7 701.8,819.2 703.4,817.8 705.1,816.3 706.7,814.8 708.4,813.3 710,811.9 711.7,810.4 713.3,808.9 715,807.5 716.6,806 718.3,804.6 719.9,803.1 721.6,801.7 723.2,800.2 724.9,798.8 726.5,797.3 728.2,795.9 729.8,794.5 731.5,793 733.2,791.6 734.8,790.2 736.5,788.7 738.1,787.3 739.8,785.9 741.4,784.5 743.1,783.1 744.7,781.7 746.4,780.2 748,778.8 749.7,777.4 751.3,776 753,774.6 754.6,773.2 756.3,771.8 757.9,770.4 759.6,769.1 761.2,767.7 762.9,766.3 764.5,764.9 766.2,763.5 767.8,762.2 769.5,760.8 771.1,759.4 772.8,758 774.4,756.7 776.1,755.3 777.7,754 779.4,752.6 781,751.2 782.7,749.9 784.3,748.5 786,747.2 786,762.8 784.3,764.1 782.7,765.4 781,766.6 779.4,767.9 777.7,769.2 776.1,770.5 774.4,771.8 772.8,773.1 771.1,774.3 769.5,775.6 767.8,776.9 766.2,778.2 764.5,779.5 762.9,780.8 761.2,782.1 759.6,783.5 757.9,784.8 756.3,786.1 754.6,787.4 753,788.7 751.3,790 749.7,791.4 748,792.7 746.4,794 744.7,795.3 743.1,796.7 741.4,798 739.8,799.3 738.1,800.7 736.5,802 734.8,803.4 733.2,804.7 731.5,806.1 729.8,807.4 728.2,808.8 726.5,810.1 724.9,811.5 723.2,812.9 721.6,814.2 719.9,815.6 718.3,817 716.6,818.3 715,819.7 713.3,821.1 711.7,822.5 710,823.9 708.4,825.2 706.7,826.6 705.1,828 703.4,829.4 701.8,830.8 700.1,832.2 698.5,833.6 696.8,835 695.2,836.4 693.5,837.8 691.9,839.2 690.2,840.7 688.6,842.1 686.9,843.5 685.3,844.9 683.6,846.3 682,847.8 680.3,849.2 678.7,850.6 677,852 675.3,853.5 673.7,854.9 672,856.4 670.4,857.8 668.7,859.2 667.1,860.7 665.4,862.1 663.8,863.6 662.1,865.1 660.5,866.5 658.8,868 657.2,869.4 655.5,870.9 653.9,872.4 652.2,873.8 650.6,875.3 648.9,876.8 647.3,878.3 645.6,879.7 644,881.2 642.3,882.7 640.7,884.2 639,885.7 637.4,887.2 635.7,888.7 634.1,890.2 632.4,891.7 630.8,893.2 629.1,894.7 627.5,896.2 625.8,897.7 624.2,899.2 622.5,900.7 620.9,902.2 619.2,903.8 617.5,905.3 615.9,906.8 614.2,908.3 612.6,909.9 610.9,911.4 609.3,912.9 607.6,914.5 606,916 604.3,917.6 602.7,919.1 601,920.6 599.4,922.2 597.7,923.8 596.1,925.3 594.4,926.9 592.8,928.4 591.1,930 589.5,931.6 587.8,933.1 586.2,934.7 584.5,936.3 582.9,937.9 581.2,939.5 579.6,941 577.9,942.6 576.3,944.2 574.6,945.7 573,947.2 571.3,948.8 569.7,950.3 568,951.8 566.4,953.3 564.7,954.8 563,956.3 561.4,957.8 559.7,959.2 558.1,960.7 556.4,962.1 554.8,963.6 553.1,965 551.5,966.4 549.8,967.8 548.2,969.2 546.5,970.5 544.9,971.9 543.2,973.2 541.6,974.6 539.9,975.9 538.3,977.2 536.6,978.5 535,979.7 533.3,981 531.7,982.3 530,983.7 528.4,985.1 526.7,986.6 525.1,988 523.4,989.4 521.8,990.8 520.1,992.2 518.5,993.6 516.8,995 515.2,996.4 513.5,997.8 511.9,999.3 510.2,1000.7 508.5,1002.1 506.9,1003.7 505.2,1005.2 503.6,1006.8 501.9,1008.3 500.3,1009.9 498.6,1011.4 497,1012.9 495.3,1014.3 493.7,1015.7 492,1016.9 490.4,1018.1 488.7,1019.1 487.1,1020.1 485.4,1021 483.8,1021.9 482.1,1022.7 480.5,1023.4 478.8,1023.9 477.2,1024.2 475.5,1024.5 473.9,1024.8 472.2,1025 470.6,1025.2 468.9,1025.3 467.3,1025.4 465.6,1025.4 464,1025.4 462.3,1025.4 460.7,1025.4 459,1025.4 457.4,1025.4 455.7,1025.4" fill="#d95319" fill-opacity="0.33"/>
<polyline points="455.7,1025.4 457.4,1025.4 459,1025.4 460.7,1025.4 462.3,1025.4 464,1025.4 465.6,1025.4 467.3,1025.4 468.9,1025.3 470.6,1025.2 472.2,1025 473.9,1024.8 475.5,1024.5 477.2,1024.2 478.8,1023.8 480.5,1023.3 482.1,1022.6 483.8,1021.8 485.4,1020.8 487.1,1019.9 488.7,1018.9 490.4,1017.8 492,1016.7 493.7,1015.4 495.3,1014 497,1012.5 498.6,1011 500.3,1009.4 501.9,1007.8 503.6,1006.2 505.2,1004.5 506.9,1002.9 508.5,1001.4 510.2,999.9 511.9,998.4 513.5,996.9 515.2,995.5 516.8,994 518.5,992.5 520.1,991.1 521.8,989.6 523.4,988.2 525.1,986.7 526.7,985.3 528.4,983.8 530,982.4 531.7,980.9 533.3,979.5 535,978.2 536.6,976.9 538.3,975.6 539.9,974.2 541.6,972.9 543.2,971.5 544.9,970.1 546.5,968.7 548.2,967.3 549.8,965.9 551.5,964.4 553.1,963 554.8,961.5 556.4,960 558.1,958.5 559.7,957 561.4,955.5 563,954 564.7,952.5 566.4,950.9 568,949.4 569.7,947.8 571.3,946.2 573,944.7 574.6,943.1 576.3,941.5 577.9,939.9 579.6,938.3 581.2,936.6 582.9,935 584.5,933.4 586.2,931.7 587.8,930.1 589.5,928.4 591.1,926.8 592.8,925.2 594.4,923.6 596.1,922 597.7,920.4 599.4,918.8 601,917.2 602.7,915.6 604.3,914 606,912.4 607.6,910.8 609.3,909.2 610.9,907.6 612.6,906.1 614.2,904.5 615.9,902.9 617.5,901.3 619.2,899.7 620.9,898.2 622.5,896.6 624.2,895 625.8,893.5 627.5,891.9 629.1,890.4 630.8,888.8 632.4,887.3 634.1,885.7 635.7,884.2 637.4,882.6 639,881.1 640.7,879.5 642.3,878 644,876.5 645.6,874.9 647.3,873.4 648.9,871.9 650.6,870.3 652.2,868.8 653.9,867.3 655.5,865.8 657.2,864.3 658.8,862.8 660.5,861.3 662.1,859.8 663.8,858.2 665.4,856.7 667.1,855.3 668.7,853.8 670.4,852.3 672,850.8 673.7,849.3 675.3,847.8 677,846.3 678.7,844.8 680.3,843.4 682,841.9 683.6,840.4 685.3,838.9 686.9,837.5 688.6,836 690.2,834.5 691.9,833.1 693.5,831.6 695.2,830.2 696.8,828.7 698.5,827.3 700.1,825.8 701.8,824.4 703.4,822.9 705.1,821.5 706.7,820.1 708.4,818.6 710,817.2 711.7,815.8 713.3,814.3 715,812.9 716.6,811.5 718.3,810.1 719.9,808.7 721.6,807.3 723.2,805.8 724.9,804.4 726.5,803 728.2,801.6 729.8,800.2 731.5,798.8 733.2,797.4 734.8,796 736.5,794.6 738.1,793.3 739.8,791.9 741.4,790.5 743.1,789.1 744.7,787.7 746.4,786.4 748,785 749.7,783.6 751.3,782.3 753,780.9 754.6,779.5 756.3,778.2 757.9,776.8 759.6,775.5 761.2,774.1 762.9,772.8 764.5,771.4 766.2,770.1 767.8,768.7 769.5,767.4 771.1,766 772.8,764.7 774.4,763.4 776.1,762.1 777.7,760.7 779.4,759.4 781,758.1 782.7,756.8 784.3,755.5 786,754.1" fill="none" stroke="#c9302c" stroke-width="1.5" stroke-linejoin="round"/>
<polygon points="455.7,1025.4 457.4,1025.4 459,1025.4 460.7,1025.4 462.3,1025.4 464,1025.4 465.6,1025.4 467.3,1025.4 468.9,1025.3 470.6,1025.2 472.2,1025 473.9,1024.7 475.5,1024.5 477.2,1024.1 478.8,1023.8 480.5,1023.3 482.1,1022.6 483.8,1021.8 485.4,1020.9 487.1,1020 488.7,1019.1 490.4,1018 492,1016.9 493.7,1015.6 495.3,1014.3 497,1012.9 498.6,1011.4 500.3,1009.8 501.9,1008.3 503.6,1006.7 505.2,1005.1 506.9,1003.5 508.5,1002 510.2,1000.5 511.9,999.1 513.5,997.7 515.2,996.3 516.8,994.9 518.5,993.5 520.1,992.1 521.8,990.7 523.4,989.3 525.1,987.8 526.7,986.4 528.4,985 530,983.6 531.7,982.3 533.3,980.9 535,979.7 536.6,978.5 538.3,977.2 539.9,976 541.6,974.7 543.2,973.4 544.9,972.1 546.5,970.7 548.2,969.4 549.8,968 551.5,966.6 553.1,965.1 554.8,963.7 556.4,962.2 558.1,960.8 559.7,959.3 561.4,957.8 563,956.2 564.7,954.7 566.4,953.2 568,951.6 569.7,950 571.3,948.4 573,946.8 574.6,945.2 576.3,943.6 577.9,942 579.6,940.3 581.2,938.7 582.9,937 584.5,935.4 586.2,933.7 587.8,932 589.5,930.4 591.1,928.8 592.8,927.1 594.4,925.5 596.1,923.9 597.7,922.3 599.4,920.7 601,919.1 602.7,917.4 604.3,915.8 606,914.2 607.6,912.7 609.3,911.1 610.9,909.5 612.6,907.9 614.2,906.3 615.9,904.7 617.5,903.1 619.2,901.6 620.9,900 622.5,898.4 624.2,896.9 625.8,895.3 627.5,893.8 629.1,892.2 630.8,890.7 632.4,889.1 634.1,887.6 635.7,886 637.4,884.5 639,883 640.7,881.4 642.3,879.9 644,878.4 645.6,876.9 647.3,875.4 648.9,873.9 650.6,872.4 652.2,870.8 653.9,869.3 655.5,867.9 657.2,866.4 658.8,864.9 660.5,863.4 662.1,861.9 663.8,860.4 665.4,858.9 667.1,857.5 668.7,856 670.4,854.5 672,853.1 673.7,851.6 675.3,850.2 677,848.7 678.7,847.2 680.3,845.8 682,844.4 683.6,842.9 685.3,841.5 686.9,840.1 688.6,838.6 690.2,837.2 691.9,835.8 693.5,834.4 695.2,832.9 696.8,831.5 698.5,830.1 700.1,828.7 701.8,827.3 703.4,825.9 705.1,824.5 706.7,823.1 708.4,821.7 710,820.4 711.7,819 713.3,817.6 715,816.2 716.6,814.8 718.3,813.5 719.9,812.1 721.6,810.8 723.2,809.4 724.9,808 726.5,806.7 728.2,805.3 729.8,804 731.5,802.7 733.2,801.3 734.8,800 736.5,798.7 738.1,797.3 739.8,796 741.4,794.7 743.1,793.4 744.7,792.1 746.4,790.7 748,789.4 749.7,788.1 751.3,786.8 753,785.5 754.6,784.2 756.3,783 757.9,781.7 759.6,780.4 761.2,779.1 762.9,777.8 764.5,776.6 766.2,775.3 767.8,774 769.5,772.8 771.1,771.5 772.8,770.3 774.4,769 776.1,767.8 777.7,766.5 779.4,765.3 781,764 782.7,762.8 784.3,761.6 786,760.3 786,777.7 784.3,778.8 782.7,780 781,781.1 779.4,782.3 777.7,783.5 776.1,784.6 774.4,785.8 772.8,787 771.1,788.1 769.5,789.3 767.8,790.5 766.2,791.7 764.5,792.9 762.9,794 761.2,795.2 759.6,796.4 757.9,797.6 756.3,798.8 754.6,800 753,801.3 751.3,802.5 749.7,803.7 748,804.9 746.4,806.1 744.7,807.3 743.1,808.6 741.4,809.8 739.8,811 738.1,812.3 736.5,813.5 734.8,814.8 733.2,816 731.5,817.2 729.8,818.5 728.2,819.8 726.5,821 724.9,822.3 723.2,823.5 721.6,824.8 719.9,826.1 718.3,827.4 716.6,828.6 715,829.9 713.3,831.2 711.7,832.5 710,833.8 708.4,835.1 706.7,836.4 705.1,837.7 703.4,839 701.8,840.3 700.1,841.6 698.5,842.9 696.8,844.2 695.2,845.5 693.5,846.9 691.9,848.2 690.2,849.5 688.6,850.9 686.9,852.2 685.3,853.5 683.6,854.9 682,856.2 680.3,857.6 678.7,858.9 677,860.3 675.3,861.6 673.7,863 672,864.4 670.4,865.7 668.7,867.1 667.1,868.5 665.4,869.8 663.8,871.2 662.1,872.6 660.5,874 658.8,875.4 657.2,876.8 655.5,878.2 653.9,879.6 652.2,881 650.6,882.4 648.9,883.8 647.3,885.2 645.6,886.6 644,888 642.3,889.5 640.7,890.9 639,892.3 637.4,893.7 635.7,895.2 634.1,896.6 632.4,898 630.8,899.5 629.1,900.9 627.5,902.4 625.8,903.8 624.2,905.3 622.5,906.8 620.9,908.2 619.2,909.7 617.5,911.2 615.9,912.6 614.2,914.1 612.6,915.6 610.9,917.1 609.3,918.5 607.6,920 606,921.5 604.3,923 602.7,924.5 601,926 599.4,927.5 597.7,929 596.1,930.5 594.4,932.1 592.8,933.6 591.1,935.1 589.5,936.6 587.8,938.1 586.2,939.7 584.5,941.3 582.9,942.8 581.2,944.4 579.6,945.9 577.9,947.4 576.3,949 574.6,950.5 573,952 571.3,953.5 569.7,955 568,956.4 566.4,957.9 564.7,959.3 563,960.8 561.4,962.2 559.7,963.6 558.1,965 556.4,966.4 554.8,967.7 553.1,969.1 551.5,970.4 549.8,971.7 548.2,973 546.5,974.3 544.9,975.6 543.2,976.8 541.6,978 539.9,979.2 538.3,980.4 536.6,981.6 535,982.7 533.3,983.8 531.7,985.1 530,986.4 528.4,987.7 526.7,989 525.1,990.3 523.4,991.6 521.8,992.9 520.1,994.2 518.5,995.6 516.8,996.9 515.2,998.2 513.5,999.5 511.9,1000.8 510.2,1002.2 508.5,1003.5 506.9,1005 505.2,1006.4 503.6,1007.9 501.9,1009.4 500.3,1010.9 498.6,1012.3 497,1013.7 495.3,1015 493.7,1016.3 492,1017.5 490.4,1018.5 488.7,1019.5 487.1,1020.4 485.4,1021.2 483.8,1022 482.1,1022.8 480.5,1023.4 478.8,1023.9 477.2,1024.2 475.5,1024.5 473.9,1024.8 472.2,1025 470.6,1025.2 468.9,1025.3 467.3,1025.4 465.6,1025.4 464,1025.4 462.3,1025.4 460.7,1025.4 459,1025.4 457.4,1025.4 455.7,1025.4" fill="#60a040" fill-opacity="0.3"/>
<polyline points="455.7,1025.4 457.4,1025.4 459,1025.4 460.7,1025.4 462.3,1025.4 464,1025.4 465.6,1025.4 467.3,1025.4 468.9,1025.3 470.6,1025.2 472.2,1025 473.9,1024.8 475.5,1024.5 477.2,1024.2 478.8,1023.9 480.5,1023.3 482.1,1022.7 483.8,1022 485.4,1021.1 487.1,1020.2 488.7,1019.3 490.4,1018.3 492,1017.3 493.7,1016 495.3,1014.8 497,1013.4 498.6,1011.9 500.3,1010.5 501.9,1009 503.6,1007.4 505.2,1005.9 506.9,1004.4 508.5,1003 510.2,1001.6 511.9,1000.2 513.5,998.8 515.2,997.5 516.8,996.1 518.5,994.8 520.1,993.4 521.8,992.1 523.4,990.7 525.1,989.4 526.7,988 528.4,986.7 530,985.4 531.7,984 533.3,982.7 535,981.6 536.6,980.4 538.3,979.2 539.9,978 541.6,976.8 543.2,975.5 544.9,974.2 546.5,973 548.2,971.6 549.8,970.3 551.5,969 553.1,967.6 554.8,966.2 556.4,964.8 558.1,963.4 559.7,962 561.4,960.5 563,959.1 564.7,957.6 566.4,956.1 568,954.6 569.7,953.1 571.3,951.6 573,950 574.6,948.5 576.3,947 577.9,945.4 579.6,943.8 581.2,942.2 582.9,940.7 584.5,939.1 586.2,937.5 587.8,935.8 589.5,934.3 591.1,932.7 592.8,931.2 594.4,929.6 596.1,928 597.7,926.5 599.4,925 601,923.4 602.7,921.9 604.3,920.3 606,918.8 607.6,917.3 609.3,915.7 610.9,914.2 612.6,912.7 614.2,911.2 615.9,909.7 617.5,908.2 619.2,906.6 620.9,905.1 622.5,903.6 624.2,902.1 625.8,900.6 627.5,899.2 629.1,897.7 630.8,896.2 632.4,894.7 634.1,893.2 635.7,891.7 637.4,890.3 639,888.8 640.7,887.3 642.3,885.9 644,884.4 645.6,883 647.3,881.5 648.9,880.1 650.6,878.6 652.2,877.2 653.9,875.7 655.5,874.3 657.2,872.9 658.8,871.4 660.5,870 662.1,868.6 663.8,867.2 665.4,865.8 667.1,864.3 668.7,862.9 670.4,861.5 672,860.1 673.7,858.7 675.3,857.3 677,855.9 678.7,854.5 680.3,853.2 682,851.8 683.6,850.4 685.3,849 686.9,847.6 688.6,846.3 690.2,844.9 691.9,843.5 693.5,842.2 695.2,840.8 696.8,839.5 698.5,838.1 700.1,836.8 701.8,835.4 703.4,834.1 705.1,832.7 706.7,831.4 708.4,830.1 710,828.7 711.7,827.4 713.3,826.1 715,824.8 716.6,823.5 718.3,822.2 719.9,820.8 721.6,819.5 723.2,818.2 724.9,816.9 726.5,815.6 728.2,814.4 729.8,813.1 731.5,811.8 733.2,810.5 734.8,809.2 736.5,807.9 738.1,806.7 739.8,805.4 741.4,804.1 743.1,802.9 744.7,801.6 746.4,800.4 748,799.1 749.7,797.9 751.3,796.6 753,795.4 754.6,794.1 756.3,792.9 757.9,791.7 759.6,790.4 761.2,789.2 762.9,788 764.5,786.7 766.2,785.5 767.8,784.3 769.5,783.1 771.1,781.9 772.8,780.7 774.4,779.5 776.1,778.3 777.7,777.1 779.4,775.9 781,774.7 782.7,773.5 784.3,772.4 786,771.2" fill="none" stroke="#5ca234" stroke-width="1.5" stroke-linejoin="round"/>
<polygon points="455.7,1025.4 457.4,1025.4 459,1025.4 460.7,1025.4 462.3,1025.4 464,1025.4 465.6,1025.4 467.3,1025.4 468.9,1025.4 470.6,1025.3 472.2,1025.1 473.9,1025 475.5,1024.8 477.2,1024.6 478.8,1024.3 480.5,1023.8 482.1,1023.1 483.8,1022.3 485.4,1021.4 487.1,1020.4 488.7,1019.5 490.4,1018.4 492,1017.3 493.7,1016.1 495.3,1014.7 497,1013.3 498.6,1011.8 500.3,1010.3 501.9,1008.8 503.6,1007.2 505.2,1005.7 506.9,1004.1 508.5,1002.6 510.2,1001.2 511.9,999.8 513.5,998.4 515.2,997 516.8,995.6 518.5,994.2 520.1,992.8 521.8,991.4 523.4,990.1 525.1,988.7 526.7,987.3 528.4,985.9 530,984.5 531.7,983.2 533.3,981.9 535,980.7 536.6,979.5 538.3,978.2 539.9,977 541.6,975.7 543.2,974.4 544.9,973.1 546.5,971.8 548.2,970.5 549.8,969.1 551.5,967.8 553.1,966.4 554.8,965 556.4,963.6 558.1,962.1 559.7,960.7 561.4,959.2 563,957.7 564.7,956.3 566.4,954.7 568,953.2 569.7,951.7 571.3,950.2 573,948.6 574.6,947.1 576.3,945.5 577.9,943.9 579.6,942.3 581.2,940.8 582.9,939.2 584.5,937.5 586.2,935.9 587.8,934.3 589.5,932.7 591.1,931.1 592.8,929.6 594.4,928 596.1,926.4 597.7,924.9 599.4,923.3 601,921.7 602.7,920.2 604.3,918.6 606,917.1 607.6,915.6 609.3,914 610.9,912.5 612.6,910.9 614.2,909.4 615.9,907.9 617.5,906.4 619.2,904.9 620.9,903.3 622.5,901.8 624.2,900.3 625.8,898.8 627.5,897.3 629.1,895.8 630.8,894.3 632.4,892.9 634.1,891.4 635.7,889.9 637.4,888.4 639,886.9 640.7,885.5 642.3,884 644,882.5 645.6,881.1 647.3,879.6 648.9,878.2 650.6,876.7 652.2,875.3 653.9,873.9 655.5,872.4 657.2,871 658.8,869.6 660.5,868.1 662.1,866.7 663.8,865.3 665.4,863.9 667.1,862.5 668.7,861.1 670.4,859.7 672,858.3 673.7,856.9 675.3,855.5 677,854.1 678.7,852.7 680.3,851.3 682,849.9 683.6,848.6 685.3,847.2 686.9,845.8 688.6,844.5 690.2,843.1 691.9,841.7 693.5,840.4 695.2,839 696.8,837.7 698.5,836.4 700.1,835 701.8,833.7 703.4,832.4 705.1,831 706.7,829.7 708.4,828.4 710,827.1 711.7,825.8 713.3,824.5 715,823.1 716.6,821.8 718.3,820.5 719.9,819.3 721.6,818 723.2,816.7 724.9,815.4 726.5,814.1 728.2,812.8 729.8,811.6 731.5,810.3 733.2,809 734.8,807.8 736.5,806.5 738.1,805.3 739.8,804 741.4,802.8 743.1,801.5 744.7,800.3 746.4,799.1 748,797.8 749.7,796.6 751.3,795.4 753,794.1 754.6,792.9 756.3,791.7 757.9,790.5 759.6,789.3 761.2,788.1 762.9,786.9 764.5,785.7 766.2,784.5 767.8,783.3 769.5,782.1 771.1,781 772.8,779.8 774.4,778.6 776.1,777.4 777.7,776.3 779.4,775.1 781,774 782.7,772.8 784.3,771.6 786,770.5 786,797.8 784.3,798.9 782.7,799.9 781,800.9 779.4,802 777.7,803 776.1,804 774.4,805.1 772.8,806.1 771.1,807.2 769.5,808.2 767.8,809.3 766.2,810.4 764.5,811.4 762.9,812.5 761.2,813.6 759.6,814.6 757.9,815.7 756.3,816.8 754.6,817.9 753,819 751.3,820 749.7,821.1 748,822.2 746.4,823.3 744.7,824.4 743.1,825.5 741.4,826.6 739.8,827.8 738.1,828.9 736.5,830 734.8,831.1 733.2,832.2 731.5,833.4 729.8,834.5 728.2,835.6 726.5,836.8 724.9,837.9 723.2,839.1 721.6,840.2 719.9,841.4 718.3,842.5 716.6,843.7 715,844.8 713.3,846 711.7,847.2 710,848.3 708.4,849.5 706.7,850.7 705.1,851.9 703.4,853.1 701.8,854.3 700.1,855.4 698.5,856.6 696.8,857.8 695.2,859 693.5,860.2 691.9,861.4 690.2,862.7 688.6,863.9 686.9,865.1 685.3,866.3 683.6,867.5 682,868.8 680.3,870 678.7,871.2 677,872.5 675.3,873.7 673.7,874.9 672,876.2 670.4,877.4 668.7,878.7 667.1,879.9 665.4,881.2 663.8,882.5 662.1,883.7 660.5,885 658.8,886.3 657.2,887.5 655.5,888.8 653.9,890.1 652.2,891.4 650.6,892.7 648.9,894 647.3,895.3 645.6,896.6 644,897.9 642.3,899.2 640.7,900.5 639,901.8 637.4,903.1 635.7,904.4 634.1,905.8 632.4,907.1 630.8,908.4 629.1,909.7 627.5,911.1 625.8,912.4 624.2,913.7 622.5,915.1 620.9,916.4 619.2,917.8 617.5,919.1 615.9,920.5 614.2,921.9 612.6,923.2 610.9,924.6 609.3,926 607.6,927.3 606,928.7 604.3,930.1 602.7,931.5 601,932.9 599.4,934.2 597.7,935.6 596.1,937 594.4,938.4 592.8,939.8 591.1,941.2 589.5,942.7 587.8,944.1 586.2,945.5 584.5,947 582.9,948.4 581.2,949.8 579.6,951.3 577.9,952.7 576.3,954.1 574.6,955.5 573,956.9 571.3,958.2 569.7,959.6 568,961 566.4,962.3 564.7,963.7 563,965 561.4,966.3 559.7,967.6 558.1,968.9 556.4,970.2 554.8,971.5 553.1,972.7 551.5,974 549.8,975.2 548.2,976.4 546.5,977.6 544.9,978.8 543.2,979.9 541.6,981.1 539.9,982.2 538.3,983.3 536.6,984.4 535,985.5 533.3,986.5 531.7,987.7 530,988.9 528.4,990.2 526.7,991.4 525.1,992.6 523.4,993.8 521.8,995.1 520.1,996.3 518.5,997.6 516.8,998.8 515.2,1000 513.5,1001.3 511.9,1002.5 510.2,1003.8 508.5,1005.1 506.9,1006.4 505.2,1007.8 503.6,1009.2 501.9,1010.6 500.3,1011.9 498.6,1013.3 497,1014.6 495.3,1015.9 493.7,1017.1 492,1018.2 490.4,1019.2 488.7,1020.1 487.1,1021 485.4,1021.8 483.8,1022.6 482.1,1023.3 480.5,1024 478.8,1024.4 477.2,1024.7 475.5,1024.8 473.9,1025 472.2,1025.2 470.6,1025.3 468.9,1025.4 467.3,1025.4 465.6,1025.4 464,1025.4 462.3,1025.4 460.7,1025.4 459,1025.4 457.4,1025.4 455.7,1025.4" fill="#c0c040" fill-opacity="0.3"/>
<polyline points="455.7,1025.4 457.4,1025.4 459,1025.4 460.7,1025.4 462.3,1025.4 464,1025.4 465.6,1025.4 467.3,1025.4 468.9,1025.4 470.6,1025.3 472.2,1025.1 473.9,1025 475.5,1024.8 477.2,1024.6 478.8,1024.3 480.5,1023.9 482.1,1023.2 483.8,1022.4 485.4,1021.6 487.1,1020.7 488.7,1019.8 490.4,1018.8 492,1017.7 493.7,1016.5 495.3,1015.3 497,1013.9 498.6,1012.5 500.3,1011.1 501.9,1009.6 503.6,1008.1 505.2,1006.7 506.9,1005.2 508.5,1003.8 510.2,1002.4 511.9,1001.1 513.5,999.8 515.2,998.4 516.8,997.1 518.5,995.8 520.1,994.5 521.8,993.2 523.4,991.9 525.1,990.6 526.7,989.2 528.4,987.9 530,986.6 531.7,985.3 533.3,984.1 535,982.9 536.6,981.8 538.3,980.6 539.9,979.5 541.6,978.3 543.2,977 544.9,975.8 546.5,974.6 548.2,973.3 549.8,972 551.5,970.7 553.1,969.4 554.8,968.1 556.4,966.7 558.1,965.4 559.7,964 561.4,962.6 563,961.2 564.7,959.8 566.4,958.4 568,956.9 569.7,955.5 571.3,954 573,952.5 574.6,951.1 576.3,949.6 577.9,948.1 579.6,946.6 581.2,945.1 582.9,943.6 584.5,942 586.2,940.5 587.8,939 589.5,937.4 591.1,936 592.8,934.5 594.4,933 596.1,931.5 597.7,930 599.4,928.5 601,927 602.7,925.6 604.3,924.1 606,922.6 607.6,921.2 609.3,919.7 610.9,918.2 612.6,916.8 614.2,915.3 615.9,913.9 617.5,912.5 619.2,911 620.9,909.6 622.5,908.1 624.2,906.7 625.8,905.3 627.5,903.9 629.1,902.5 630.8,901 632.4,899.6 634.1,898.2 635.7,896.8 637.4,895.4 639,894 640.7,892.6 642.3,891.2 644,889.8 645.6,888.5 647.3,887.1 648.9,885.7 650.6,884.3 652.2,883 653.9,881.6 655.5,880.2 657.2,878.9 658.8,877.5 660.5,876.2 662.1,874.8 663.8,873.5 665.4,872.1 667.1,870.8 668.7,869.5 670.4,868.1 672,866.8 673.7,865.5 675.3,864.1 677,862.8 678.7,861.5 680.3,860.2 682,858.9 683.6,857.6 685.3,856.3 686.9,855 688.6,853.7 690.2,852.4 691.9,851.1 693.5,849.8 695.2,848.6 696.8,847.3 698.5,846 700.1,844.7 701.8,843.5 703.4,842.2 705.1,841 706.7,839.7 708.4,838.5 710,837.2 711.7,836 713.3,834.7 715,833.5 716.6,832.2 718.3,831 719.9,829.8 721.6,828.6 723.2,827.3 724.9,826.1 726.5,824.9 728.2,823.7 729.8,822.5 731.5,821.3 733.2,820.1 734.8,818.9 736.5,817.7 738.1,816.5 739.8,815.3 741.4,814.1 743.1,813 744.7,811.8 746.4,810.6 748,809.4 749.7,808.3 751.3,807.1 753,806 754.6,804.8 756.3,803.7 757.9,802.5 759.6,801.4 761.2,800.2 762.9,799.1 764.5,797.9 766.2,796.8 767.8,795.7 769.5,794.6 771.1,793.4 772.8,792.3 774.4,791.2 776.1,790.1 777.7,789 779.4,787.9 781,786.8 782.7,785.7 784.3,784.6 786,783.5" fill="none" stroke="#b8b830" stroke-width="1.5" stroke-linejoin="round"/>
<polygon points="455.7,1025.4 457.4,1025.4 459,1025.4 460.7,1025.4 462.3,1025.4 464,1025.4 465.6,1025.4 467.3,1025.4 468.9,1025.4 470.6,1025.3 472.2,1025.1 473.9,1025 475.5,1024.8 477.2,1024.6 478.8,1024.3 480.5,1023.8 482.1,1023.2 483.8,1022.5 485.4,1021.7 487.1,1020.8 488.7,1019.9 490.4,1019 492,1018 493.7,1016.8 495.3,1015.6 497,1014.3 498.6,1012.9 500.3,1011.5 501.9,1010.1 503.6,1008.7 505.2,1007.2 506.9,1005.8 508.5,1004.4 510.2,1003.1 511.9,1001.8 513.5,1000.5 515.2,999.1 516.8,997.8 518.5,996.5 520.1,995.2 521.8,993.9 523.4,992.6 525.1,991.3 526.7,990 528.4,988.7 530,987.4 531.7,986.1 533.3,984.8 535,983.6 536.6,982.4 538.3,981.1 539.9,979.9 541.6,978.6 543.2,977.4 544.9,976.1 546.5,974.9 548.2,973.6 549.8,972.3 551.5,971 553.1,969.8 554.8,968.5 556.4,967.2 558.1,965.9 559.7,964.6 561.4,963.3 563,962 564.7,960.7 566.4,959.4 568,958.1 569.7,956.8 571.3,955.4 573,954.1 574.6,952.8 576.3,951.5 577.9,950.1 579.6,948.8 581.2,947.4 582.9,946.1 584.5,944.7 586.2,943.4 587.8,942 589.5,940.7 591.1,939.3 592.8,938 594.4,936.7 596.1,935.3 597.7,934 599.4,932.7 601,931.3 602.7,930 604.3,928.7 606,927.4 607.6,926 609.3,924.7 610.9,923.4 612.6,922.1 614.2,920.8 615.9,919.5 617.5,918.2 619.2,916.9 620.9,915.6 622.5,914.3 624.2,913 625.8,911.7 627.5,910.4 629.1,909.1 630.8,907.8 632.4,906.5 634.1,905.3 635.7,904 637.4,902.7 639,901.4 640.7,900.2 642.3,898.9 644,897.6 645.6,896.4 647.3,895.1 648.9,893.8 650.6,892.6 652.2,891.3 653.9,890.1 655.5,888.8 657.2,887.6 658.8,886.3 660.5,885.1 662.1,883.8 663.8,882.6 665.4,881.3 667.1,880.1 668.7,878.9 670.4,877.6 672,876.4 673.7,875.2 675.3,874 677,872.7 678.7,871.5 680.3,870.3 682,869.1 683.6,867.9 685.3,866.7 686.9,865.4 688.6,864.2 690.2,863 691.9,861.8 693.5,860.6 695.2,859.4 696.8,858.2 698.5,857 700.1,855.9 701.8,854.7 703.4,853.5 705.1,852.3 706.7,851.1 708.4,849.9 710,848.8 711.7,847.6 713.3,846.4 715,845.2 716.6,844.1 718.3,842.9 719.9,841.7 721.6,840.6 723.2,839.4 724.9,838.3 726.5,837.1 728.2,836 729.8,834.8 731.5,833.7 733.2,832.5 734.8,831.4 736.5,830.2 738.1,829.1 739.8,828 741.4,826.8 743.1,825.7 744.7,824.6 746.4,823.4 748,822.3 749.7,821.2 751.3,820.1 753,819 754.6,817.8 756.3,816.7 757.9,815.6 759.6,814.5 761.2,813.4 762.9,812.3 764.5,811.2 766.2,810.1 767.8,809 769.5,807.9 771.1,806.8 772.8,805.7 774.4,804.6 776.1,803.5 777.7,802.5 779.4,801.4 781,800.3 782.7,799.2 784.3,798.1 786,797.1 786,818.8 784.3,819.7 782.7,820.7 781,821.7 779.4,822.7 777.7,823.6 776.1,824.6 774.4,825.6 772.8,826.6 771.1,827.6 769.5,828.6 767.8,829.6 766.2,830.6 764.5,831.5 762.9,832.5 761.2,833.5 759.6,834.5 757.9,835.5 756.3,836.6 754.6,837.6 753,838.6 751.3,839.6 749.7,840.6 748,841.6 746.4,842.6 744.7,843.6 743.1,844.7 741.4,845.7 739.8,846.7 738.1,847.7 736.5,848.8 734.8,849.8 733.2,850.8 731.5,851.9 729.8,852.9 728.2,854 726.5,855 724.9,856 723.2,857.1 721.6,858.1 719.9,859.2 718.3,860.2 716.6,861.3 715,862.4 713.3,863.4 711.7,864.5 710,865.5 708.4,866.6 706.7,867.7 705.1,868.7 703.4,869.8 701.8,870.9 700.1,872 698.5,873 696.8,874.1 695.2,875.2 693.5,876.3 691.9,877.4 690.2,878.5 688.6,879.6 686.9,880.6 685.3,881.7 683.6,882.8 682,883.9 680.3,885 678.7,886.1 677,887.2 675.3,888.3 673.7,889.5 672,890.6 670.4,891.7 668.7,892.8 667.1,893.9 665.4,895 663.8,896.1 662.1,897.3 660.5,898.4 658.8,899.5 657.2,900.7 655.5,901.8 653.9,902.9 652.2,904.1 650.6,905.2 648.9,906.3 647.3,907.5 645.6,908.6 644,909.8 642.3,910.9 640.7,912.1 639,913.2 637.4,914.4 635.7,915.5 634.1,916.7 632.4,917.8 630.8,919 629.1,920.2 627.5,921.3 625.8,922.5 624.2,923.7 622.5,924.8 620.9,926 619.2,927.2 617.5,928.4 615.9,929.6 614.2,930.7 612.6,931.9 610.9,933.1 609.3,934.3 607.6,935.5 606,936.7 604.3,937.9 602.7,939.1 601,940.3 599.4,941.5 597.7,942.7 596.1,943.9 594.4,945.1 592.8,946.3 591.1,947.5 589.5,948.7 587.8,949.9 586.2,951.2 584.5,952.4 582.9,953.6 581.2,954.8 579.6,956.1 577.9,957.3 576.3,958.5 574.6,959.7 573,960.9 571.3,962.1 569.7,963.3 568,964.5 566.4,965.7 564.7,966.8 563,968 561.4,969.2 559.7,970.4 558.1,971.6 556.4,972.7 554.8,973.9 553.1,975.1 551.5,976.2 549.8,977.4 548.2,978.5 546.5,979.7 544.9,980.8 543.2,981.9 541.6,983.1 539.9,984.2 538.3,985.3 536.6,986.5 535,987.6 533.3,988.7 531.7,989.8 530,991 528.4,992.2 526.7,993.4 525.1,994.6 523.4,995.7 521.8,996.9 520.1,998.1 518.5,999.3 516.8,1000.5 515.2,1001.6 513.5,1002.8 511.9,1004 510.2,1005.2 508.5,1006.4 506.9,1007.7 505.2,1008.9 503.6,1010.2 501.9,1011.6 500.3,1012.8 498.6,1014.1 497,1015.3 495.3,1016.5 493.7,1017.6 492,1018.7 490.4,1019.6 488.7,1020.5 487.1,1021.2 485.4,1022 483.8,1022.8 482.1,1023.4 480.5,1024 478.8,1024.4 477.2,1024.6 475.5,1024.8 473.9,1025 472.2,1025.2 470.6,1025.3 468.9,1025.4 467.3,1025.4 465.6,1025.4 464,1025.4 462.3,1025.4 460.7,1025.4 459,1025.4 457.4,1025.4 455.7,1025.4" fill="#9060b0" fill-opacity="0.3"/>
<polyline points="455.7,1025.4 457.4,1025.4 459,1025.4 460.7,1025.4 462.3,1025.4 464,1025.4 465.6,1025.4 467.3,1025.4 468.9,1025.4 470.6,1025.3 472.2,1025.1 473.9,1025 475.5,1024.8 477.2,1024.6 478.8,1024.3 480.5,1023.9 482.1,1023.3 483.8,1022.6 485.4,1021.8 487.1,1021 488.7,1020.2 490.4,1019.3 492,1018.3 493.7,1017.2 495.3,1016.1 497,1014.8 498.6,1013.5 500.3,1012.2 501.9,1010.8 503.6,1009.5 505.2,1008.1 506.9,1006.7 508.5,1005.4 510.2,1004.1 511.9,1002.9 513.5,1001.6 515.2,1000.4 516.8,999.2 518.5,997.9 520.1,996.7 521.8,995.4 523.4,994.2 525.1,992.9 526.7,991.7 528.4,990.5 530,989.2 531.7,988 533.3,986.7 535,985.6 536.6,984.4 538.3,983.2 539.9,982 541.6,980.9 543.2,979.7 544.9,978.5 546.5,977.3 548.2,976.1 549.8,974.8 551.5,973.6 553.1,972.4 554.8,971.2 556.4,970 558.1,968.7 559.7,967.5 561.4,966.3 563,965 564.7,963.8 566.4,962.5 568,961.3 569.7,960 571.3,958.8 573,957.5 574.6,956.2 576.3,955 577.9,953.7 579.6,952.4 581.2,951.1 582.9,949.9 584.5,948.6 586.2,947.3 587.8,946 589.5,944.7 591.1,943.4 592.8,942.1 594.4,940.9 596.1,939.6 597.7,938.3 599.4,937.1 601,935.8 602.7,934.5 604.3,933.3 606,932 607.6,930.8 609.3,929.5 610.9,928.3 612.6,927 614.2,925.8 615.9,924.5 617.5,923.3 619.2,922 620.9,920.8 622.5,919.6 624.2,918.3 625.8,917.1 627.5,915.9 629.1,914.6 630.8,913.4 632.4,912.2 634.1,911 635.7,909.8 637.4,908.5 639,907.3 640.7,906.1 642.3,904.9 644,903.7 645.6,902.5 647.3,901.3 648.9,900.1 650.6,898.9 652.2,897.7 653.9,896.5 655.5,895.3 657.2,894.1 658.8,892.9 660.5,891.7 662.1,890.5 663.8,889.4 665.4,888.2 667.1,887 668.7,885.8 670.4,884.7 672,883.5 673.7,882.3 675.3,881.1 677,880 678.7,878.8 680.3,877.7 682,876.5 683.6,875.3 685.3,874.2 686.9,873 688.6,871.9 690.2,870.7 691.9,869.6 693.5,868.5 695.2,867.3 696.8,866.2 698.5,865 700.1,863.9 701.8,862.8 703.4,861.6 705.1,860.5 706.7,859.4 708.4,858.3 710,857.1 711.7,856 713.3,854.9 715,853.8 716.6,852.7 718.3,851.6 719.9,850.5 721.6,849.4 723.2,848.3 724.9,847.2 726.5,846.1 728.2,845 729.8,843.9 731.5,842.8 733.2,841.7 734.8,840.6 736.5,839.5 738.1,838.4 739.8,837.3 741.4,836.3 743.1,835.2 744.7,834.1 746.4,833 748,832 749.7,830.9 751.3,829.8 753,828.8 754.6,827.7 756.3,826.6 757.9,825.6 759.6,824.5 761.2,823.5 762.9,822.4 764.5,821.4 766.2,820.3 767.8,819.3 769.5,818.2 771.1,817.2 772.8,816.2 774.4,815.1 776.1,814.1 777.7,813.1 779.4,812 781,811 782.7,810 784.3,808.9 786,807.9" fill="none" stroke="#8a5fbf" stroke-width="1.5" stroke-linejoin="round"/>
<polygon points="455.7,1025.4 457.4,1025.4 459,1025.4 460.7,1025.4 462.3,1025.4 464,1025.4 465.6,1025.4 467.3,1025.4 468.9,1025.4 470.6,1025.3 472.2,1025.3 473.9,1025.2 475.5,1025.1 477.2,1025 478.8,1024.8 480.5,1024.4 482.1,1023.9 483.8,1023.2 485.4,1022.5 487.1,1021.7 488.7,1020.9 490.4,1020.1 492,1019.1 493.7,1018.1 495.3,1016.9 497,1015.7 498.6,1014.5 500.3,1013.2 501.9,1011.9 503.6,1010.6 505.2,1009.3 506.9,1008 508.5,1006.7 510.2,1005.5 511.9,1004.4 513.5,1003.2 515.2,1002.1 516.8,1001 518.5,999.9 520.1,998.7 521.8,997.6 523.4,996.5 525.1,995.4 526.7,994.3 528.4,993.2 530,992.1 531.7,991 533.3,989.9 535,988.9 536.6,987.8 538.3,986.8 539.9,985.7 541.6,984.7 543.2,983.6 544.9,982.6 546.5,981.5 548.2,980.5 549.8,979.4 551.5,978.3 553.1,977.3 554.8,976.2 556.4,975.1 558.1,974 559.7,972.9 561.4,971.9 563,970.8 564.7,969.7 566.4,968.6 568,967.5 569.7,966.4 571.3,965.3 573,964.2 574.6,963.1 576.3,962 577.9,960.8 579.6,959.7 581.2,958.6 582.9,957.5 584.5,956.4 586.2,955.2 587.8,954.1 589.5,953 591.1,951.9 592.8,950.7 594.4,949.6 596.1,948.5 597.7,947.4 599.4,946.3 601,945.1 602.7,944 604.3,942.9 606,941.8 607.6,940.7 609.3,939.5 610.9,938.4 612.6,937.3 614.2,936.2 615.9,935.1 617.5,933.9 619.2,932.8 620.9,931.7 622.5,930.6 624.2,929.5 625.8,928.4 627.5,927.2 629.1,926.1 630.8,925 632.4,923.9 634.1,922.8 635.7,921.7 637.4,920.5 639,919.4 640.7,918.3 642.3,917.2 644,916.1 645.6,915 647.3,913.9 648.9,912.8 650.6,911.6 652.2,910.5 653.9,909.4 655.5,908.3 657.2,907.2 658.8,906.1 660.5,905 662.1,903.9 663.8,902.8 665.4,901.7 667.1,900.6 668.7,899.4 670.4,898.3 672,897.2 673.7,896.1 675.3,895 677,893.9 678.7,892.8 680.3,891.7 682,890.6 683.6,889.5 685.3,888.4 686.9,887.3 688.6,886.2 690.2,885.1 691.9,884 693.5,882.9 695.2,881.8 696.8,880.7 698.5,879.6 700.1,878.5 701.8,877.4 703.4,876.3 705.1,875.2 706.7,874.1 708.4,873 710,871.9 711.7,870.8 713.3,869.7 715,868.6 716.6,867.5 718.3,866.4 719.9,865.3 721.6,864.2 723.2,863.1 724.9,862 726.5,860.9 728.2,859.8 729.8,858.7 731.5,857.6 733.2,856.5 734.8,855.4 736.5,854.3 738.1,853.2 739.8,852.1 741.4,851 743.1,849.9 744.7,848.9 746.4,847.8 748,846.7 749.7,845.6 751.3,844.5 753,843.4 754.6,842.3 756.3,841.2 757.9,840.1 759.6,839 761.2,838 762.9,836.9 764.5,835.8 766.2,834.7 767.8,833.6 769.5,832.5 771.1,831.4 772.8,830.3 774.4,829.3 776.1,828.2 777.7,827.1 779.4,826 781,824.9 782.7,823.8 784.3,822.7 786,821.7 786,836.4 784.3,837.4 782.7,838.4 781,839.4 779.4,840.4 777.7,841.4 776.1,842.5 774.4,843.5 772.8,844.5 771.1,845.5 769.5,846.5 767.8,847.5 766.2,848.5 764.5,849.5 762.9,850.5 761.2,851.5 759.6,852.5 757.9,853.5 756.3,854.6 754.6,855.6 753,856.6 751.3,857.6 749.7,858.6 748,859.6 746.4,860.6 744.7,861.6 743.1,862.7 741.4,863.7 739.8,864.7 738.1,865.7 736.5,866.7 734.8,867.7 733.2,868.7 731.5,869.8 729.8,870.8 728.2,871.8 726.5,872.8 724.9,873.8 723.2,874.8 721.6,875.9 719.9,876.9 718.3,877.9 716.6,878.9 715,879.9 713.3,880.9 711.7,882 710,883 708.4,884 706.7,885 705.1,886 703.4,887.1 701.8,888.1 700.1,889.1 698.5,890.1 696.8,891.1 695.2,892.2 693.5,893.2 691.9,894.2 690.2,895.2 688.6,896.3 686.9,897.3 685.3,898.3 683.6,899.3 682,900.4 680.3,901.4 678.7,902.4 677,903.4 675.3,904.5 673.7,905.5 672,906.5 670.4,907.5 668.7,908.6 667.1,909.6 665.4,910.6 663.8,911.7 662.1,912.7 660.5,913.7 658.8,914.7 657.2,915.8 655.5,916.8 653.9,917.8 652.2,918.9 650.6,919.9 648.9,920.9 647.3,921.9 645.6,923 644,924 642.3,925 640.7,926.1 639,927.1 637.4,928.1 635.7,929.2 634.1,930.2 632.4,931.2 630.8,932.3 629.1,933.3 627.5,934.3 625.8,935.4 624.2,936.4 622.5,937.5 620.9,938.5 619.2,939.5 617.5,940.6 615.9,941.6 614.2,942.6 612.6,943.7 610.9,944.7 609.3,945.8 607.6,946.8 606,947.8 604.3,948.9 602.7,949.9 601,950.9 599.4,952 597.7,953 596.1,954.1 594.4,955.1 592.8,956.2 591.1,957.2 589.5,958.2 587.8,959.3 586.2,960.3 584.5,961.4 582.9,962.4 581.2,963.5 579.6,964.5 577.9,965.5 576.3,966.6 574.6,967.6 573,968.6 571.3,969.6 569.7,970.7 568,971.7 566.4,972.7 564.7,973.7 563,974.7 561.4,975.7 559.7,976.7 558.1,977.7 556.4,978.8 554.8,979.7 553.1,980.7 551.5,981.7 549.8,982.7 548.2,983.7 546.5,984.7 544.9,985.7 543.2,986.7 541.6,987.6 539.9,988.6 538.3,989.6 536.6,990.6 535,991.5 533.3,992.5 531.7,993.5 530,994.5 528.4,995.5 526.7,996.6 525.1,997.6 523.4,998.6 521.8,999.6 520.1,1000.7 518.5,1001.7 516.8,1002.7 515.2,1003.8 513.5,1004.8 511.9,1005.9 510.2,1007 508.5,1008.1 506.9,1009.2 505.2,1010.4 503.6,1011.6 501.9,1012.9 500.3,1014.1 498.6,1015.3 497,1016.4 495.3,1017.5 493.7,1018.6 492,1019.6 490.4,1020.4 488.7,1021.2 487.1,1022 485.4,1022.7 483.8,1023.4 482.1,1024 480.5,1024.5 478.8,1024.9 477.2,1025 475.5,1025.1 473.9,1025.2 472.2,1025.3 470.6,1025.3 468.9,1025.4 467.3,1025.4 465.6,1025.4 464,1025.4 462.3,1025.4 460.7,1025.4 459,1025.4 457.4,1025.4 455.7,1025.4" fill="#f59a50" fill-opacity="0.3"/>
<polyline points="455.7,1025.4 457.4,1025.4 459,1025.4 460.7,1025.4 462.3,1025.4 464,1025.4 465.6,1025.4 467.3,1025.4 468.9,1025.4 470.6,1025.3 472.2,1025.3 473.9,1025.2 475.5,1025.1 477.2,1025 478.8,1024.8 480.5,1024.5 482.1,1024 483.8,1023.3 485.4,1022.6 487.1,1021.8 488.7,1021.1 490.4,1020.3 492,1019.3 493.7,1018.3 495.3,1017.2 497,1016.1 498.6,1014.9 500.3,1013.6 501.9,1012.4 503.6,1011.1 505.2,1009.8 506.9,1008.6 508.5,1007.4 510.2,1006.2 511.9,1005.1 513.5,1004 515.2,1003 516.8,1001.9 518.5,1000.8 520.1,999.7 521.8,998.6 523.4,997.6 525.1,996.5 526.7,995.4 528.4,994.4 530,993.3 531.7,992.3 533.3,991.2 535,990.2 536.6,989.2 538.3,988.2 539.9,987.2 541.6,986.2 543.2,985.1 544.9,984.1 546.5,983.1 548.2,982.1 549.8,981.1 551.5,980 553.1,979 554.8,978 556.4,976.9 558.1,975.9 559.7,974.8 561.4,973.8 563,972.7 564.7,971.7 566.4,970.6 568,969.6 569.7,968.5 571.3,967.5 573,966.4 574.6,965.3 576.3,964.3 577.9,963.2 579.6,962.1 581.2,961 582.9,960 584.5,958.9 586.2,957.8 587.8,956.7 589.5,955.6 591.1,954.5 592.8,953.4 594.4,952.4 596.1,951.3 597.7,950.2 599.4,949.1 601,948 602.7,947 604.3,945.9 606,944.8 607.6,943.7 609.3,942.6 610.9,941.6 612.6,940.5 614.2,939.4 615.9,938.3 617.5,937.3 619.2,936.2 620.9,935.1 622.5,934 624.2,932.9 625.8,931.9 627.5,930.8 629.1,929.7 630.8,928.6 632.4,927.6 634.1,926.5 635.7,925.4 637.4,924.3 639,923.3 640.7,922.2 642.3,921.1 644,920.1 645.6,919 647.3,917.9 648.9,916.8 650.6,915.8 652.2,914.7 653.9,913.6 655.5,912.6 657.2,911.5 658.8,910.4 660.5,909.3 662.1,908.3 663.8,907.2 665.4,906.1 667.1,905.1 668.7,904 670.4,902.9 672,901.9 673.7,900.8 675.3,899.7 677,898.7 678.7,897.6 680.3,896.5 682,895.5 683.6,894.4 685.3,893.3 686.9,892.3 688.6,891.2 690.2,890.2 691.9,889.1 693.5,888 695.2,887 696.8,885.9 698.5,884.8 700.1,883.8 701.8,882.7 703.4,881.7 705.1,880.6 706.7,879.5 708.4,878.5 710,877.4 711.7,876.4 713.3,875.3 715,874.2 716.6,873.2 718.3,872.1 719.9,871.1 721.6,870 723.2,869 724.9,867.9 726.5,866.8 728.2,865.8 729.8,864.7 731.5,863.7 733.2,862.6 734.8,861.6 736.5,860.5 738.1,859.5 739.8,858.4 741.4,857.4 743.1,856.3 744.7,855.3 746.4,854.2 748,853.1 749.7,852.1 751.3,851 753,850 754.6,848.9 756.3,847.9 757.9,846.8 759.6,845.8 761.2,844.7 762.9,843.7 764.5,842.6 766.2,841.6 767.8,840.5 769.5,839.5 771.1,838.5 772.8,837.4 774.4,836.4 776.1,835.3 777.7,834.3 779.4,833.2 781,832.2 782.7,831.1 784.3,830.1 786,829" fill="none" stroke="#ff7f00" stroke-width="1.5" stroke-linejoin="round"/>
</g>
<path d="M455.7,678.2V1025.4H786" fill="none" stroke="#888888" stroke-width="1.6"/>
<path d="M455.7,1025.4h3.3M455.7,982h3.3M455.7,938.6h3.3M455.7,895.2h3.3M455.7,851.8h3.3M455.7,808.4h3.3M455.7,765h3.3M455.7,721.6h3.3M455.7,678.2h3.3M455.7,1025.4v-3.3M510.8,1025.4v-3.3M565.8,1025.4v-3.3M620.9,1025.4v-3.3M675.9,1025.4v-3.3M731,1025.4v-3.3M786,1025.4v-3.3" stroke="#888888" stroke-width="1.3"/>
<text x="450.2" y="1030.7" font-size="14.8" text-anchor="end" fill="#1a1a1a" textLength="7.8" lengthAdjust="spacingAndGlyphs">1</text>
<text x="450.2" y="987.3" font-size="14.8" text-anchor="end" fill="#1a1a1a" textLength="7.8" lengthAdjust="spacingAndGlyphs">2</text>
<text x="450.2" y="943.9" font-size="14.8" text-anchor="end" fill="#1a1a1a" textLength="7.8" lengthAdjust="spacingAndGlyphs">3</text>
<text x="450.2" y="900.5" font-size="14.8" text-anchor="end" fill="#1a1a1a" textLength="7.8" lengthAdjust="spacingAndGlyphs">4</text>
<text x="450.2" y="857.1" font-size="14.8" text-anchor="end" fill="#1a1a1a" textLength="7.8" lengthAdjust="spacingAndGlyphs">5</text>
<text x="450.2" y="813.7" font-size="14.8" text-anchor="end" fill="#1a1a1a" textLength="7.8" lengthAdjust="spacingAndGlyphs">6</text>
<text x="450.2" y="770.3" font-size="14.8" text-anchor="end" fill="#1a1a1a" textLength="7.8" lengthAdjust="spacingAndGlyphs">7</text>
<text x="450.2" y="726.9" font-size="14.8" text-anchor="end" fill="#1a1a1a" textLength="7.8" lengthAdjust="spacingAndGlyphs">8</text>
<text x="450.2" y="683.5" font-size="14.8" text-anchor="end" fill="#1a1a1a" textLength="7.8" lengthAdjust="spacingAndGlyphs">9</text>
<text x="455.7" y="1044.5" font-size="14.8" text-anchor="middle" fill="#1a1a1a" textLength="7.8" lengthAdjust="spacingAndGlyphs">0</text>
<text x="510.8" y="1044.5" font-size="14.8" text-anchor="middle" fill="#1a1a1a" textLength="23.3" lengthAdjust="spacingAndGlyphs">500</text>
<text x="565.8" y="1044.5" font-size="14.8" text-anchor="middle" fill="#1a1a1a" textLength="31.1" lengthAdjust="spacingAndGlyphs">1000</text>
<text x="620.9" y="1044.5" font-size="14.8" text-anchor="middle" fill="#1a1a1a" textLength="31.1" lengthAdjust="spacingAndGlyphs">1500</text>
<text x="675.9" y="1044.5" font-size="14.8" text-anchor="middle" fill="#1a1a1a" textLength="31.1" lengthAdjust="spacingAndGlyphs">2000</text>
<text x="731" y="1044.5" font-size="14.8" text-anchor="middle" fill="#1a1a1a" textLength="31.1" lengthAdjust="spacingAndGlyphs">2500</text>
<text x="786" y="1044.5" font-size="14.8" text-anchor="middle" fill="#1a1a1a" textLength="31.1" lengthAdjust="spacingAndGlyphs">3000</text>
<text x="192" y="521.7" font-size="17" font-family="'Liberation Serif', 'Times New Roman', serif" text-anchor="middle" fill="#1a1a1a" textLength="34.5" lengthAdjust="spacingAndGlyphs">time</text>
<text x="622.2" y="521.7" font-size="17" font-family="'Liberation Serif', 'Times New Roman', serif" text-anchor="middle" fill="#1a1a1a" textLength="34.5" lengthAdjust="spacingAndGlyphs">time</text>
<text x="193" y="1062" font-size="17" font-family="'Liberation Serif', 'Times New Roman', serif" text-anchor="middle" fill="#1a1a1a" textLength="34.5" lengthAdjust="spacingAndGlyphs">time</text>
<text x="621.4" y="1062" font-size="17" font-family="'Liberation Serif', 'Times New Roman', serif" text-anchor="middle" fill="#1a1a1a" textLength="34.5" lengthAdjust="spacingAndGlyphs">time</text>
<text x="324.5" y="525" font-size="14.8" fill="#1a1a1a" textLength="26" lengthAdjust="spacingAndGlyphs">×10</text>
<text x="350.7" y="517.4" font-size="10.5" fill="#1a1a1a">4</text>
<text x="753.8" y="525" font-size="14.8" fill="#1a1a1a" textLength="26" lengthAdjust="spacingAndGlyphs">×10</text>
<text x="780" y="517.4" font-size="10.5" fill="#1a1a1a">4</text>
<text x="84.2" y="106.5" font-family="'Liberation Serif', 'Times New Roman', serif" font-style="italic" font-size="23">H</text>
<text x="99.8" y="110.5" font-family="'Liberation Serif', 'Times New Roman', serif" font-style="italic" font-size="17">d</text>
<text x="113.8" y="106.5" font-size="23" font-style="italic">:</text>
<text x="126.8" y="106.5" font-size="23" font-style="italic" textLength="203.8" lengthAdjust="spacingAndGlyphs">driver heterogeneity</text>
<text x="489.3" y="106.5" font-family="'Liberation Serif', 'Times New Roman', serif" font-style="italic" font-size="23">H</text>
<text x="504.5" y="110.5" font-family="'Liberation Serif', 'Times New Roman', serif" font-style="italic" font-size="17">p</text>
<text x="516.5" y="106.5" font-size="23" font-style="italic">:</text>
<text x="530.7" y="106.5" font-size="23" font-style="italic" textLength="250.4" lengthAdjust="spacingAndGlyphs">passenger heterogeneity</text>
<text x="85.2" y="652.9" font-family="'Liberation Serif', 'Times New Roman', serif" font-style="italic" font-size="23">H</text>
<text x="100.8" y="656.9" font-family="'Liberation Serif', 'Times New Roman', serif" font-style="italic" font-size="17">d</text>
<text x="114.6" y="652.9" font-size="23" font-style="italic">:</text>
<text x="127.8" y="652.9" font-size="23" font-style="italic" textLength="203.4" lengthAdjust="spacingAndGlyphs">driver heterogeneity</text>
<text x="520.5" y="650.5" font-family="'Liberation Serif', 'Times New Roman', serif" font-style="italic" font-size="23">k</text>
<text x="532.5" y="654.5" font-family="'Liberation Serif', 'Times New Roman', serif" font-style="italic" font-size="17">d</text>
<path d="M522,630h12.5" stroke="#000" stroke-width="1.7"/>
<text x="544" y="650.5" font-size="23" font-style="italic">:</text>
<text x="557.7" y="650.5" font-size="23" font-style="italic" textLength="193" lengthAdjust="spacingAndGlyphs">avg. driver strength</text>
<rect x="200" y="145" width="26.9" height="16" fill="#d6e0f0"/>
<rect x="200" y="150.4" width="26.9" height="5.2" fill="#0070c0"/>
<rect x="232.9" y="145" width="26.9" height="16" fill="#f0cdcb"/>
<rect x="232.9" y="150.4" width="26.9" height="5.2" fill="#c8342c"/>
<rect x="265.9" y="145" width="27" height="16" fill="#d4e6cc"/>
<rect x="265.9" y="150.4" width="27" height="5.2" fill="#6aa53a"/>
<rect x="299.3" y="145" width="27.2" height="16" fill="#ececcc"/>
<rect x="299.3" y="150.4" width="27.2" height="5.2" fill="#b9b93a"/>
<rect x="332.9" y="145" width="26.9" height="16" fill="#e0d6ec"/>
<rect x="332.9" y="150.4" width="26.9" height="5.2" fill="#8c64bc"/>
<text x="185" y="141.3" font-size="13.2" fill="#111" textLength="41.8" lengthAdjust="spacingAndGlyphs">d=100,</text>
<text x="234.3" y="141.3" font-size="13.2" fill="#111" textLength="21.7" lengthAdjust="spacingAndGlyphs">300</text>
<text x="269.8" y="141.3" font-size="13.2" fill="#111" textLength="21.7" lengthAdjust="spacingAndGlyphs">500</text>
<text x="302.2" y="141.3" font-size="13.2" fill="#111" textLength="21.8" lengthAdjust="spacingAndGlyphs">700</text>
<text x="337.7" y="141.3" font-size="13.2" fill="#111" textLength="21.3" lengthAdjust="spacingAndGlyphs">900</text>
<rect x="627.6" y="140" width="26.9" height="16" fill="#d6e0f0"/>
<rect x="627.6" y="145.4" width="26.9" height="5.2" fill="#0070c0"/>
<rect x="660" y="140" width="27" height="16" fill="#f0cdcb"/>
<rect x="660" y="145.4" width="27" height="5.2" fill="#c8342c"/>
<rect x="693" y="140" width="27.5" height="16" fill="#d4e6cc"/>
<rect x="693" y="145.4" width="27.5" height="5.2" fill="#6aa53a"/>
<rect x="727" y="140" width="27" height="16" fill="#ececcc"/>
<rect x="727" y="145.4" width="27" height="5.2" fill="#b9b93a"/>
<rect x="760.5" y="140" width="27" height="16" fill="#e0d6ec"/>
<rect x="760.5" y="145.4" width="27" height="5.2" fill="#8c64bc"/>
<text x="612.4" y="135.9" font-size="13.2" fill="#111" textLength="42.5" lengthAdjust="spacingAndGlyphs">d=100,</text>
<text x="662" y="135.9" font-size="13.2" fill="#111" textLength="21.8" lengthAdjust="spacingAndGlyphs">300</text>
<text x="697.3" y="135.9" font-size="13.2" fill="#111" textLength="21.7" lengthAdjust="spacingAndGlyphs">500</text>
<text x="729.8" y="135.9" font-size="13.2" fill="#111" textLength="21.2" lengthAdjust="spacingAndGlyphs">700</text>
<text x="765.2" y="135.9" font-size="13.2" fill="#111" textLength="21.5" lengthAdjust="spacingAndGlyphs">900</text>
<rect x="153.1" y="687.8" width="26.8" height="15.8" fill="#bcbcbc"/>
<rect x="153.1" y="693" width="26.8" height="5.4" fill="#000000"/>
<text x="166.3" y="684" font-size="13.2" text-anchor="middle" fill="#111">1</text>
<rect x="185.6" y="687.8" width="27" height="15.8" fill="#f0cdcb"/>
<rect x="185.6" y="693" width="27" height="5.4" fill="#c8342c"/>
<text x="197.4" y="684" font-size="13.2" text-anchor="middle" fill="#111">2x2</text>
<rect x="219" y="687.8" width="26.8" height="15.8" fill="#d4e6cc"/>
<rect x="219" y="693" width="26.8" height="5.4" fill="#6aa53a"/>
<text x="231.8" y="684" font-size="13.2" text-anchor="middle" fill="#111">3x3</text>
<rect x="252.5" y="687.8" width="27" height="15.8" fill="#ececcc"/>
<rect x="252.5" y="693" width="27" height="5.4" fill="#b9b93a"/>
<text x="266" y="684" font-size="13.2" text-anchor="middle" fill="#111">4x4</text>
<rect x="285.6" y="687.8" width="27" height="15.8" fill="#e0d6ec"/>
<rect x="285.6" y="693" width="27" height="5.4" fill="#8c64bc"/>
<text x="297.2" y="684" font-size="13.2" text-anchor="middle" fill="#111">5x5</text>
<rect x="319" y="687.8" width="26.8" height="15.8" fill="#fde0c8"/>
<rect x="319" y="693" width="26.8" height="5.4" fill="#ff7f00"/>
<text x="331.2" y="684" font-size="13.2" text-anchor="middle" fill="#111">6x6</text>
<rect x="588.8" y="687.3" width="27.2" height="16.2" fill="#bcbcbc"/>
<rect x="588.8" y="692.7" width="27.2" height="5.4" fill="#000000"/>
<text x="602.4" y="683.7" font-size="13.2" text-anchor="middle" fill="#111">1</text>
<rect x="620.9" y="687.3" width="27.5" height="16.2" fill="#f0cdcb"/>
<rect x="620.9" y="692.7" width="27.5" height="5.4" fill="#c8342c"/>
<text x="633.3" y="683.7" font-size="13.2" text-anchor="middle" fill="#111">2x2</text>
<rect x="654.3" y="687.3" width="27.6" height="16.2" fill="#d4e6cc"/>
<rect x="654.3" y="692.7" width="27.6" height="5.4" fill="#6aa53a"/>
<text x="667.4" y="683.7" font-size="13.2" text-anchor="middle" fill="#111">3x3</text>
<rect x="688" y="687.3" width="27" height="16.2" fill="#ececcc"/>
<rect x="688" y="692.7" width="27" height="5.4" fill="#b9b93a"/>
<text x="701.7" y="683.7" font-size="13.2" text-anchor="middle" fill="#111">4x4</text>
<rect x="720.9" y="687.3" width="27.5" height="16.2" fill="#e0d6ec"/>
<rect x="720.9" y="692.7" width="27.5" height="5.4" fill="#8c64bc"/>
<text x="732.9" y="683.7" font-size="13.2" text-anchor="middle" fill="#111">5x5</text>
<rect x="754" y="687.3" width="27.6" height="16.2" fill="#fde0c8"/>
<rect x="754" y="692.7" width="27.6" height="5.4" fill="#ff7f00"/>
<text x="767" y="683.7" font-size="13.2" text-anchor="middle" fill="#111">6x6</text>
<g clip-path="url(#cc)">
<circle cx="837.4" cy="187.5" r="15.4" fill="#37c7d6"/>
<path d="M835,172.6h2M836,173.6h1M834,176.6h2M834,177.6h2M835,178.6h5M835,179.6h5M835,180.6h5M836,181.6h3M835,182.6h3M834,183.6h1M837,183.6h2M837,184.6h1" stroke="#8c564b" stroke-width="1.1"/>
<path d="M822,172.6h13M837,172.6h12M822,173.6h14M837,173.6h12M822,174.6h28M822,175.6h29M822,176.6h12M836,176.6h15M822,177.6h12M836,177.6h14M822,178.6h13M840,178.6h3M846,178.6h3M822,179.6h13M840,179.6h2M822,180.6h13M840,180.6h1M822,181.6h14M839,181.6h1M822,182.6h13M838,182.6h2M822,183.6h12M835,183.6h2M839,183.6h1M822,184.6h15M838,184.6h2M822,185.6h17M822,186.6h16M822,187.6h16M822,188.6h15M822,189.6h14M822,190.6h12M822,191.6h11M822,192.6h12M822,193.6h9M833,193.6h1M822,194.6h7M822,195.6h4M822,196.6h3" stroke="#e57fc6" stroke-width="1.1"/>
<rect x="822" y="172.1" width="30.8" height="30.8" fill="url(#spk)"/>
</g>
<circle cx="837.4" cy="187.5" r="15.4" fill="none" stroke="#333" stroke-width="1"/>
<g clip-path="url(#cd)">
<circle cx="973" cy="192.8" r="46.5" fill="#8c564b"/>
<path d="M988,159.1h3M982,160.6h15M982,162.1h15M982,163.6h15M1000,163.6h1.5M982,165.1h3M986.5,165.1h10.5M974.5,166.6h10.5M986.5,166.6h7.5M974.5,168.1h7.5M983.5,168.1h7.5M962.5,169.6h1.5M973,169.6h10.5M986.5,169.6h4.5M961,171.1h7.5M971.5,171.1h12M988,171.1h3M961,172.6h22.5M961,174.1h24M961,175.6h22.5M950.5,177.1h1.5M961,177.1h21M947.5,178.6h7.5M959.5,178.6h22.5M946,180.1h1.5M949,180.1h33M947.5,181.6h34.5M947.5,183.1h37.5M944.5,184.6h40.5M944.5,186.1h40.5M944.5,187.6h45M943,189.1h3M949,189.1h40.5M943,190.6h3M950.5,190.6h1.5M953.5,190.6h34.5M955,192.1h33M958,193.6h28.5M958,195.1h21M980.5,195.1h4.5M956.5,196.6h22.5M982,196.6h1.5M956.5,198.1h24M955,199.6h27M953.5,201.1h30M953.5,202.6h30M952,204.1h3M956.5,204.1h25.5M952,205.6h19.5M974.5,205.6h4.5M947.5,207.1h3M953.5,207.1h13.5M971.5,207.1h1.5M947.5,208.6h18M970,208.6h3M947.5,210.1h24M947.5,211.6h22.5M947.5,213.1h21M970,213.1h1.5M947.5,214.6h25.5M980.5,214.6h1.5M946,216.1h27M979,216.1h9M944.5,217.6h28.5M979,217.6h9M944.5,219.1h28.5M976,219.1h13.5M946,220.6h37.5M988,220.6h1.5M946,222.1h37.5M944.5,223.6h1.5M947.5,223.6h37.5M949,225.1h36M950.5,226.6h31.5M950.5,228.1h31.5M950.5,229.6h33M950.5,231.1h33M947.5,232.6h37.5M946,234.1h40.5M946,235.6h3M953.5,235.6h31.5M953.5,237.1h33M953.5,238.6h31.5" stroke="#aec7e8" stroke-width="1.6"/>
<path d="M926.5,147.1h45M926.5,148.6h45M926.5,150.1h43.5M973,150.1h1.5M926.5,151.6h49.5M926.5,153.1h48M926.5,154.6h45M928,156.1h42M935.5,157.6h4.5M943,157.6h22.5M967,157.6h4.5M946,159.1h18M967,159.1h4.5M946,160.6h15M968.5,160.6h1.5M952,162.1h6M928,169.6h1.5M926.5,171.1h7.5M926.5,172.6h7.5M926.5,174.1h7.5M926.5,175.6h6M926.5,177.1h6M926.5,178.6h6M926.5,180.1h7.5M947.5,180.1h1.5M926.5,181.6h15M1016.5,181.6h1.5M926.5,183.1h16.5M1015,183.1h4.5M926.5,184.6h18M1015,184.6h4.5M926.5,186.1h18M1010.5,186.1h9M926.5,187.6h18M1006,187.6h13.5M926.5,189.1h16.5M1007.5,189.1h12M926.5,190.6h16.5M1009,190.6h10.5M926.5,192.1h15M1009,192.1h10.5M926.5,193.6h15M1009,193.6h10.5M926.5,195.1h15M1003,195.1h1.5M1009,195.1h10.5M926.5,196.6h15M1003,196.6h16.5M926.5,198.1h13.5M1004.5,198.1h15M932.5,199.6h7.5M1004.5,199.6h15M932.5,201.1h6M1006,201.1h13.5M931,202.6h7.5M1007.5,202.6h12M926.5,204.1h1.5M931,204.1h6M1007.5,204.1h12M926.5,205.6h10.5M1007.5,205.6h12M926.5,207.1h6M1009,207.1h10.5M926.5,208.6h6M1007.5,208.6h12M929.5,210.1h3M1006,210.1h13.5M931,211.6h3M1006,211.6h13.5M932.5,213.1h1.5M1004.5,213.1h15M1003,214.6h16.5M1003,216.1h16.5M1004.5,217.6h15M1003,219.1h16.5M1001.5,220.6h18M1001.5,222.1h18M1003,223.6h16.5M1001.5,225.1h18M1001.5,226.6h18M1001.5,228.1h18M1006,229.6h13.5M1007.5,231.1h12M1007.5,232.6h12M1007.5,234.1h12M1000,235.6h3M1006,235.6h13.5M1000,237.1h19.5M1001.5,238.6h18" stroke="#e57fc6" stroke-width="1.6"/>
<rect x="926.5" y="146.3" width="93" height="93" fill="url(#spk)"/>
</g>
<circle cx="973" cy="192.8" r="46.5" fill="none" stroke="#333" stroke-width="1"/>
<g clip-path="url(#ce)">
<circle cx="1156.9" cy="196" r="79.8" fill="#37c7d6"/>
<path d="M1135.6,117h60M1135.6,118.5h58.5M1138.6,120h55.5M1138.6,121.5h58.5M1138.6,123h60M1138.6,124.5h61.5M1141.6,126h57M1141.6,127.5h55.5M1141.6,128.9h55.5M1141.6,130.4h55.5M1143.1,131.9h57M1143.1,133.4h57M1143.1,134.9h55.5M1143.1,136.4h54M1144.6,137.9h52.5M1104.1,139.4h3M1144.6,139.4h52.5M1102.6,140.9h6M1144.6,140.9h52.5M1102.6,142.4h7.5M1146.1,142.4h36M1189.6,142.4h6M1102.6,143.9h7.5M1153.6,143.9h22.5M1177.6,143.9h4.5M1189.6,143.9h6M1102.6,145.4h9M1159.6,145.4h15M1189.6,145.4h6M1104.1,146.9h9M1159.6,146.9h15M1188.1,146.9h6M1107.1,148.4h6M1162.6,148.4h10.5M1186.6,148.4h4.5M1162.6,149.9h10.5M1188.1,149.9h3M1164.1,151.4h9M1164.1,152.9h10.5M1170.1,154.4h1.5M1089.1,169.4h6M1087.6,170.9h7.5M1087.6,172.4h7.5M1077.1,173.9h16.5M1077.1,175.4h16.5M1077.1,176.9h19.5M1077.1,178.4h22.5M1077.1,179.9h24M1077.1,181.4h25.5M1077.1,182.9h28.5M1077.1,184.4h30M1077.1,185.9h30M1077.1,187.4h30M1077.1,188.9h30M1077.1,190.4h30M1077.1,191.9h33M1080.1,193.4h30M1080.1,194.9h30M1081.6,196.4h4.5M1087.6,196.4h24M1089.1,197.9h22.5M1090.6,199.4h22.5M1092.1,200.9h21M1092.1,202.4h21M1092.1,203.9h1.5M1096.6,203.9h18M1098.1,205.4h18M1096.6,206.9h19.5M1098.1,208.4h22.5M1089.1,209.9h1.5M1098.1,209.9h30M1098.1,211.4h31.5M1093.6,212.9h1.5M1098.1,212.9h34.5M1096.6,214.4h31.5M1129.6,214.4h4.5M1102.6,215.9h25.5M1129.6,215.9h4.5M1101.1,217.4h34.5M1101.1,218.9h34.5M1102.6,220.4h28.5M1104.1,221.9h25.5M1105.6,223.4h24M1105.6,224.9h19.5M1107.1,226.4h16.5M1107.1,227.9h13.5M1107.1,229.4h15M1107.1,230.9h16.5M1128.1,230.9h1.5M1101.1,232.4h22.5M1092.1,233.9h3M1098.1,233.9h25.5M1092.1,235.4h34.5M1092.1,236.9h36M1093.6,238.4h34.5M1090.6,239.9h1.5M1095.1,239.9h31.5M1089.1,241.4h39M1089.1,242.9h40.5M1087.6,244.4h40.5M1129.6,244.4h4.5M1084.6,245.9h42M1129.6,245.9h6M1084.6,247.4h4.5M1090.6,247.4h31.5M1131.1,247.4h3M1084.6,248.9h4.5M1090.6,248.9h30M1080.1,250.4h3M1084.6,250.4h34.5M1078.6,251.9h40.5M1077.1,253.4h42M1077.1,254.9h40.5M1077.1,256.4h39M1077.1,257.9h1.5M1083.1,257.9h21M1105.6,257.9h9M1077.1,259.4h1.5M1087.6,259.4h13.5M1105.6,259.4h6M1077.1,260.9h1.5M1090.6,260.9h1.5M1096.6,260.9h3" stroke="#8c564b" stroke-width="1.6"/>
<path d="M1080.1,140.9h1.5M1182.1,142.4h7.5M1077.1,143.9h1.5M1083.1,143.9h1.5M1176.1,143.9h1.5M1182.1,143.9h7.5M1077.1,145.4h1.5M1083.1,145.4h7.5M1174.6,145.4h15M1077.1,146.9h3M1081.6,146.9h10.5M1174.6,146.9h13.5M1077.1,148.4h16.5M1102.6,148.4h4.5M1173.1,148.4h13.5M1077.1,149.9h18M1099.6,149.9h13.5M1173.1,149.9h6M1182.1,149.9h1.5M1077.1,151.4h36M1173.1,151.4h6M1077.1,152.9h40.5M1122.1,152.9h1.5M1174.6,152.9h6M1077.1,154.4h40.5M1120.6,154.4h6M1177.6,154.4h3M1077.1,155.9h49.5M1077.1,157.4h49.5M1077.1,158.9h49.5M1077.1,160.4h51M1077.1,161.9h51M1077.1,163.4h51M1077.1,164.9h52.5M1135.6,164.9h3M1077.1,166.4h51M1137.1,166.4h3M1077.1,167.9h57M1077.1,169.4h12M1095.1,169.4h40.5M1077.1,170.9h10.5M1095.1,170.9h40.5M1140.1,170.9h10.5M1077.1,172.4h10.5M1095.1,172.4h40.5M1140.1,172.4h9M1093.6,173.9h42M1138.6,173.9h9M1093.6,175.4h52.5M1096.6,176.9h48M1099.6,178.4h45M1101.1,179.9h45M1102.6,181.4h37.5M1143.1,181.4h3M1105.6,182.9h30M1107.1,184.4h25.5M1107.1,185.9h25.5M1107.1,187.4h24M1107.1,188.9h24M1107.1,190.4h24M1110.1,191.9h22.5M1110.1,193.4h22.5M1110.1,194.9h21M1111.6,196.4h18M1111.6,197.9h10.5M1113.1,199.4h3M1125.1,199.4h1.5M1125.1,200.9h1.5M1093.6,203.9h3M1093.6,205.4h4.5M1093.6,206.9h3M1093.6,208.4h4.5M1090.6,209.9h7.5M1092.1,211.4h6M1092.1,212.9h1.5M1095.1,212.9h3M1090.6,214.4h6M1089.1,215.9h13.5M1087.6,217.4h13.5M1087.6,218.9h13.5M1087.6,220.4h9M1098.1,220.4h4.5M1089.1,221.9h3M1101.1,221.9h3M1101.1,223.4h4.5M1099.6,224.9h6M1099.6,226.4h4.5" stroke="#aec7e8" stroke-width="1.6"/>
<path d="M1150.6,170.9h1.5M1227.1,170.9h1.5M1150.6,172.4h4.5M1228.6,172.4h1.5M1150.6,173.9h4.5M1156.6,173.9h3M1228.6,173.9h4.5M1146.1,175.4h12M1227.1,175.4h7.5M1144.6,176.9h13.5M1227.1,176.9h9M1144.6,178.4h13.5M1227.1,178.4h10.5M1146.1,179.9h9M1227.1,179.9h10.5M1146.1,181.4h7.5M1228.6,181.4h9M1146.1,182.9h3M1228.6,182.9h9M1230.1,184.4h7.5M1228.6,185.9h9M1227.1,187.4h10.5M1225.6,188.9h12M1225.6,190.4h12M1228.6,191.9h9M1233.1,193.4h4.5M1233.1,194.9h4.5M1234.6,196.4h1.5M1197.1,197.9h1.5M1198.6,199.4h3M1198.6,200.9h3M1198.6,202.4h4.5M1198.6,203.9h4.5M1197.1,205.4h6M1236.1,205.4h1.5M1197.1,206.9h4.5M1227.1,206.9h3M1234.6,206.9h3M1197.1,208.4h6M1228.6,208.4h9M1189.6,209.9h3M1197.1,209.9h3M1230.1,209.9h7.5M1189.6,211.4h3M1228.6,211.4h9M1203.1,212.9h4.5M1228.6,212.9h9M1188.1,214.4h1.5M1206.1,214.4h1.5M1227.1,214.4h10.5M1200.1,215.9h1.5M1222.6,215.9h15M1198.6,217.4h4.5M1204.6,217.4h3M1225.6,217.4h12M1191.1,218.9h1.5M1197.1,218.9h18M1216.6,218.9h3M1225.6,218.9h12M1195.6,220.4h42M1195.6,221.9h42M1198.6,223.4h34.5M1200.1,224.9h4.5M1207.6,224.9h9M1222.6,224.9h9M1207.6,226.4h6M1222.6,226.4h10.5M1224.1,227.9h3M1228.6,227.9h4.5M1194.1,229.4h1.5M1228.6,229.4h9M1192.6,230.9h4.5M1198.6,230.9h3M1230.1,230.9h7.5M1192.6,232.4h19.5M1230.1,232.4h7.5M1191.1,233.9h21M1231.6,233.9h6M1188.1,235.4h22.5M1233.1,235.4h4.5M1186.6,236.9h24M1233.1,236.9h4.5M1185.1,238.4h25.5M1233.1,238.4h3M1191.1,239.9h19.5M1233.1,239.9h3M1188.1,241.4h21M1188.1,242.9h21M1188.1,244.4h21M1186.6,245.9h22.5M1186.6,247.4h21M1185.1,248.9h22.5M1210.6,248.9h1.5M1186.6,250.4h25.5M1186.6,251.9h22.5M1188.1,253.4h22.5M1186.6,254.9h24M1185.1,256.4h25.5M1183.6,257.9h27M1183.6,259.4h27M1185.1,260.9h15M1207.6,260.9h3M1185.1,262.4h15M1209.1,262.4h1.5M1176.1,263.9h1.5M1183.6,263.9h13.5M1201.6,263.9h3M1183.6,265.4h13.5M1201.6,265.4h3M1183.6,266.9h10.5M1182.1,268.4h12M1182.1,269.9h12M1182.1,271.4h10.5M1182.1,272.9h10.5M1182.1,274.4h10.5M1180.6,275.9h15" stroke="#ff8c26" stroke-width="1.6"/>
<path d="M1077.1,117h58.5M1077.1,118.5h58.5M1077.1,120h61.5M1077.1,121.5h61.5M1077.1,123h61.5M1077.1,124.5h61.5M1077.1,126h64.5M1222.6,126h3M1077.1,127.5h64.5M1218.1,127.5h1.5M1222.6,127.5h3M1077.1,128.9h64.5M1197.1,128.9h1.5M1212.1,128.9h1.5M1077.1,130.4h64.5M1197.1,130.4h3M1215.1,130.4h1.5M1221.1,130.4h3M1077.1,131.9h66M1200.1,131.9h7.5M1213.6,131.9h3M1219.6,131.9h6M1077.1,133.4h66M1200.1,133.4h9M1210.6,133.4h15M1077.1,134.9h66M1198.6,134.9h16.5M1216.6,134.9h7.5M1077.1,136.4h66M1197.1,136.4h18M1216.6,136.4h6M1077.1,137.9h67.5M1197.1,137.9h24M1077.1,139.4h27M1107.1,139.4h37.5M1197.1,139.4h22.5M1077.1,140.9h3M1081.6,140.9h21M1108.6,140.9h36M1197.1,140.9h22.5M1077.1,142.4h25.5M1110.1,142.4h33M1195.6,142.4h22.5M1078.6,143.9h4.5M1084.6,143.9h18M1110.1,143.9h27M1138.6,143.9h4.5M1195.6,143.9h21M1078.6,145.4h4.5M1090.6,145.4h12M1111.6,145.4h25.5M1141.6,145.4h1.5M1195.6,145.4h22.5M1080.1,146.9h1.5M1092.1,146.9h12M1113.1,146.9h18M1132.6,146.9h4.5M1195.6,146.9h22.5M1093.6,148.4h9M1113.1,148.4h18M1195.6,148.4h22.5M1095.1,149.9h4.5M1113.1,149.9h16.5M1195.6,149.9h22.5M1113.1,151.4h16.5M1195.6,151.4h22.5M1117.6,152.9h4.5M1123.6,152.9h4.5M1195.6,152.9h22.5M1117.6,154.4h3M1197.1,154.4h15M1213.6,154.4h6M1197.1,155.9h7.5M1207.6,155.9h3M1216.6,155.9h7.5M1192.6,157.4h12M1209.1,157.4h1.5M1219.6,157.4h6M1234.6,157.4h1.5M1192.6,158.9h12M1215.1,158.9h10.5M1233.1,158.9h4.5M1194.1,160.4h10.5M1215.1,160.4h12M1228.6,160.4h4.5M1234.6,160.4h3M1195.6,161.9h9M1221.1,161.9h16.5M1188.1,163.4h3M1197.1,163.4h9M1219.6,163.4h18M1188.1,164.9h3M1197.1,164.9h12M1221.1,164.9h16.5M1197.1,166.4h12M1221.1,166.4h16.5M1197.1,167.9h12M1222.6,167.9h15M1197.1,169.4h12M1224.1,169.4h13.5M1174.6,170.9h4.5M1197.1,170.9h12M1228.6,170.9h9M1173.1,172.4h7.5M1197.1,172.4h15M1230.1,172.4h7.5M1171.6,173.9h10.5M1198.6,173.9h15M1233.1,173.9h4.5M1170.1,175.4h13.5M1197.1,175.4h15M1234.6,175.4h3M1170.1,176.9h13.5M1191.1,176.9h3M1195.6,176.9h15M1236.1,176.9h1.5M1171.6,178.4h10.5M1189.6,178.4h18M1171.6,179.9h12M1185.1,179.9h21M1167.1,181.4h3M1171.6,181.4h31.5M1165.6,182.9h36M1168.6,184.4h31.5M1170.1,185.9h30M1171.6,187.4h27M1173.1,188.9h19.5M1173.1,190.4h19.5M1134.1,191.9h1.5M1173.1,191.9h15M1189.6,191.9h1.5M1077.1,193.4h3M1132.6,193.4h4.5M1173.1,193.4h15M1077.1,194.9h3M1131.1,194.9h7.5M1173.1,194.9h15M1077.1,196.4h4.5M1086.1,196.4h1.5M1129.6,196.4h10.5M1173.1,196.4h13.5M1077.1,197.9h12M1122.1,197.9h19.5M1171.6,197.9h12M1077.1,199.4h13.5M1116.1,199.4h9M1126.6,199.4h15M1167.1,199.4h1.5M1171.6,199.4h13.5M1077.1,200.9h15M1113.1,200.9h12M1126.6,200.9h16.5M1170.1,200.9h15M1077.1,202.4h15M1113.1,202.4h33M1162.6,202.4h3M1170.1,202.4h13.5M1077.1,203.9h15M1114.6,203.9h33M1162.6,203.9h3M1171.6,203.9h7.5M1077.1,205.4h16.5M1116.1,205.4h31.5M1171.6,205.4h6M1077.1,206.9h16.5M1116.1,206.9h31.5M1171.6,206.9h3M1077.1,208.4h16.5M1120.6,208.4h27M1077.1,209.9h12M1128.1,209.9h19.5M1077.1,211.4h15M1129.6,211.4h18M1077.1,212.9h15M1132.6,212.9h16.5M1077.1,214.4h13.5M1128.1,214.4h1.5M1134.1,214.4h16.5M1077.1,215.9h12M1134.1,215.9h16.5M1077.1,217.4h10.5M1135.6,217.4h1.5M1140.1,217.4h9M1077.1,218.9h10.5M1146.1,218.9h1.5M1077.1,220.4h10.5M1096.6,220.4h1.5M1077.1,221.9h12M1092.1,221.9h9M1147.6,221.9h3M1077.1,223.4h24M1146.1,223.4h4.5M1077.1,224.9h22.5M1144.6,224.9h6M1077.1,226.4h22.5M1104.1,226.4h3M1143.1,226.4h7.5M1077.1,227.9h30M1143.1,227.9h7.5M1077.1,229.4h30M1141.6,229.4h12M1077.1,230.9h30M1140.1,230.9h13.5M1077.1,232.4h24M1140.1,232.4h15M1077.1,233.9h15M1095.1,233.9h3M1140.1,233.9h16.5M1168.6,233.9h1.5M1077.1,235.4h15M1140.1,235.4h18M1168.6,235.4h1.5M1077.1,236.9h15M1141.6,236.9h19.5M1164.1,236.9h6M1077.1,238.4h16.5M1140.1,238.4h30M1077.1,239.9h13.5M1092.1,239.9h3M1140.1,239.9h24M1165.6,239.9h3M1077.1,241.4h12M1140.1,241.4h28.5M1077.1,242.9h12M1140.1,242.9h1.5M1144.6,242.9h24M1173.1,242.9h1.5M1077.1,244.4h10.5M1144.6,244.4h24M1171.6,244.4h3M1077.1,245.9h7.5M1143.1,245.9h31.5M1077.1,247.4h7.5M1089.1,247.4h1.5M1143.1,247.4h31.5M1077.1,248.9h7.5M1089.1,248.9h1.5M1147.6,248.9h25.5M1077.1,250.4h3M1083.1,250.4h1.5M1147.6,250.4h25.5M1077.1,251.9h1.5M1149.1,251.9h28.5M1149.1,253.4h28.5M1149.1,254.9h28.5M1149.1,256.4h28.5M1149.1,257.9h27M1149.1,259.4h25.5M1149.1,260.9h24M1147.6,262.4h24M1179.1,262.4h3M1146.1,263.9h27M1177.6,263.9h6M1146.1,265.4h37.5M1146.1,266.9h37.5M1146.1,268.4h36M1144.6,269.9h37.5M1144.6,271.4h37.5M1144.6,272.9h37.5M1146.1,274.4h36M1146.1,275.9h34.5" stroke="#e57fc6" stroke-width="1.6"/>
<path d="M1215.1,188.9h4.5M1213.6,190.4h9M1212.1,191.9h10.5M1210.6,193.4h13.5M1227.1,193.4h6M1210.6,194.9h22.5M1207.6,196.4h27M1236.1,196.4h1.5M1206.1,197.9h31.5M1207.6,199.4h30M1207.6,200.9h30M1209.1,202.4h28.5M1207.6,203.9h30M1209.1,205.4h27M1209.1,206.9h18M1230.1,206.9h4.5M1209.1,208.4h9M1219.6,208.4h9M1209.1,209.9h21M1209.1,211.4h19.5M1209.1,212.9h19.5M1209.1,214.4h18M1212.1,215.9h10.5M1212.1,217.4h13.5M1215.1,218.9h1.5M1219.6,218.9h6" stroke="#a37cc6" stroke-width="1.6"/>
<rect x="1077.1" y="116.2" width="159.6" height="159.6" fill="url(#spk)"/>
</g>
<circle cx="1156.9" cy="196" r="79.8" fill="none" stroke="#333" stroke-width="1"/>
<g clip-path="url(#cf)">
<circle cx="1391.7" cy="199.8" r="111.7" fill="#8c564b"/>
<path d="M1454,151.1h2M1446,153.1h4M1452,153.1h6M1442,155.1h18M1390,157.1h6M1440,157.1h20M1388,159.1h16M1416,159.1h10M1430,159.1h4M1436,159.1h28M1388,161.1h20M1414,161.1h52M1390,163.1h78M1390,165.1h78M1392,167.1h76M1392,169.1h76M1392,171.1h78M1388,173.1h82M1388,175.1h82M1390,177.1h80M1392,179.1h78M1394,181.1h78M1396,183.1h78M1402,185.1h24M1430,185.1h42M1280,187.1h4M1288,187.1h8M1308,187.1h2M1316,187.1h2M1402,187.1h24M1430,187.1h40M1280,189.1h20M1304,189.1h6M1402,189.1h22M1432,189.1h36M1280,191.1h34M1320,191.1h2M1402,191.1h6M1410,191.1h14M1432,191.1h34M1280,193.1h36M1320,193.1h2M1402,193.1h4M1418,193.1h4M1434,193.1h32M1280,195.1h36M1320,195.1h6M1436,195.1h26M1282,197.1h46M1438,197.1h22M1282,199.1h48M1440,199.1h20M1284,201.1h42M1440,201.1h20M1284,203.1h40M1442,203.1h18M1284,205.1h4M1290,205.1h32M1442,205.1h18M1292,207.1h30M1444,207.1h12M1294,209.1h30M1444,209.1h10M1296,211.1h30M1450,211.1h4M1298,213.1h28M1444,213.1h2M1298,215.1h30M1442,215.1h4M1298,217.1h30M1298,219.1h26M1298,221.1h26M1296,223.1h14M1312,223.1h10M1294,225.1h28M1294,227.1h16M1314,227.1h8M1294,229.1h14M1314,229.1h8M1294,231.1h6M1302,231.1h4M1318,231.1h4M1294,233.1h6M1302,233.1h4M1342,233.1h2M1296,235.1h16M1336,235.1h2M1296,237.1h8M1306,237.1h2M1336,237.1h4M1280,239.1h2M1298,239.1h10M1334,239.1h6M1280,241.1h12M1304,241.1h4M1328,241.1h14M1280,243.1h18M1304,243.1h4M1324,243.1h24M1280,245.1h18M1322,245.1h26M1280,247.1h16M1322,247.1h26M1280,249.1h16M1320,249.1h30M1280,251.1h16M1322,251.1h30M1280,253.1h14M1320,253.1h34M1280,255.1h10M1318,255.1h34M1284,257.1h4M1318,257.1h34M1320,259.1h36M1498,259.1h6M1322,261.1h34M1496,261.1h8M1322,263.1h38M1492,263.1h12M1322,265.1h38M1462,265.1h2M1478,265.1h8M1490,265.1h14M1320,267.1h38M1462,267.1h4M1472,267.1h32M1320,269.1h38M1462,269.1h42M1322,271.1h36M1460,271.1h44M1322,273.1h8M1334,273.1h22M1460,273.1h44M1334,275.1h22M1460,275.1h44M1336,277.1h18M1458,277.1h46M1336,279.1h16M1456,279.1h48M1332,281.1h18M1454,281.1h50M1330,283.1h18M1452,283.1h52M1330,285.1h18M1448,285.1h56M1330,287.1h18M1444,287.1h60M1330,289.1h18M1444,289.1h60M1328,291.1h4M1336,291.1h12M1444,291.1h60M1328,293.1h2M1334,293.1h14M1442,293.1h62M1334,295.1h12M1442,295.1h62M1334,297.1h12M1442,297.1h62M1338,299.1h8M1444,299.1h60M1342,301.1h6M1402,301.1h12M1444,301.1h60M1344,303.1h6M1400,303.1h20M1444,303.1h60M1342,305.1h10M1402,305.1h18M1444,305.1h60M1340,307.1h14M1402,307.1h18M1442,307.1h62M1340,309.1h14M1394,309.1h28M1442,309.1h62M1340,311.1h14M1394,311.1h28M1442,311.1h62" stroke="#37c7d6" stroke-width="2"/>
<path d="M1378,89.1h56M1378,91.1h58M1372,93.1h2M1378,93.1h58M1372,95.1h64M1372,97.1h64M1372,99.1h62M1372,101.1h60M1370,103.1h62M1370,105.1h60M1370,107.1h8M1380,107.1h50M1372,109.1h6M1380,109.1h48M1378,111.1h50M1380,113.1h48M1370,115.1h4M1380,115.1h50M1368,117.1h6M1382,117.1h48M1366,119.1h10M1382,119.1h42M1428,119.1h2M1366,121.1h12M1380,121.1h42M1350,123.1h2M1358,123.1h4M1368,123.1h54M1472,123.1h2M1348,125.1h6M1356,125.1h6M1368,125.1h4M1376,125.1h42M1470,125.1h6M1346,127.1h8M1356,127.1h8M1368,127.1h2M1376,127.1h40M1468,127.1h12M1346,129.1h22M1370,129.1h42M1468,129.1h12M1348,131.1h64M1466,131.1h12M1348,133.1h62M1466,133.1h10M1348,135.1h60M1464,135.1h10M1348,137.1h60M1460,137.1h12M1350,139.1h56M1458,139.1h14M1350,141.1h56M1458,141.1h12M1348,143.1h56M1456,143.1h4M1462,143.1h8M1348,145.1h56M1454,145.1h4M1464,145.1h4M1348,147.1h48M1346,149.1h44M1346,151.1h40M1348,153.1h38M1348,155.1h40M1354,157.1h32M1492,157.1h6M1356,159.1h12M1376,159.1h8M1478,159.1h2M1492,159.1h12M1356,161.1h12M1492,161.1h12M1358,163.1h6M1372,163.1h2M1492,163.1h12M1372,165.1h2M1490,165.1h14M1488,167.1h16M1482,169.1h22M1476,171.1h28M1476,173.1h28M1476,175.1h28M1350,177.1h8M1476,177.1h28M1346,179.1h12M1366,179.1h4M1476,179.1h28M1344,181.1h14M1364,181.1h6M1472,181.1h32M1348,183.1h22M1374,183.1h2M1474,183.1h30M1348,185.1h28M1472,185.1h32M1350,187.1h24M1470,187.1h34M1352,189.1h22M1468,189.1h36M1354,191.1h22M1466,191.1h38M1356,193.1h20M1466,193.1h38M1356,195.1h20M1462,195.1h42M1356,197.1h18M1460,197.1h44M1354,199.1h22M1460,199.1h44M1356,201.1h20M1460,201.1h44M1360,203.1h10M1460,203.1h44M1360,205.1h8M1460,205.1h30M1496,205.1h2M1360,207.1h8M1456,207.1h34M1362,209.1h6M1458,209.1h32M1464,211.1h24M1466,213.1h20M1462,215.1h4M1468,215.1h18M1464,217.1h2M1470,217.1h10M1468,219.1h2M1502,225.1h2M1502,227.1h2M1502,229.1h2M1502,231.1h2M1500,233.1h4M1500,235.1h4" stroke="#aec7e8" stroke-width="2"/>
<path d="M1434,89.1h12M1436,91.1h16M1436,93.1h16M1436,95.1h16M1436,97.1h14M1434,99.1h16M1432,101.1h16M1432,103.1h16M1430,105.1h12M1430,107.1h6M1280,197.1h2M1280,199.1h2M1280,201.1h4M1280,203.1h4M1280,205.1h4M1288,205.1h2M1280,207.1h12M1280,209.1h14M1280,211.1h16M1280,213.1h18M1280,215.1h18M1280,217.1h18M1280,219.1h18M1280,221.1h18M1280,223.1h16M1280,225.1h14M1280,227.1h14M1280,229.1h14M1280,231.1h14M1280,233.1h14M1280,235.1h16M1280,237.1h16M1304,237.1h2M1282,239.1h16M1292,241.1h12M1298,243.1h6M1312,243.1h6M1298,245.1h22M1296,247.1h24M1296,249.1h24M1296,251.1h26M1294,253.1h26M1290,255.1h28M1280,257.1h4M1288,257.1h30M1280,259.1h40M1280,261.1h42M1280,263.1h42M1280,265.1h42M1280,267.1h40M1280,269.1h40M1280,271.1h42M1280,273.1h42M1330,273.1h4M1280,275.1h54M1280,277.1h56M1280,279.1h56M1280,281.1h52M1280,283.1h50M1280,285.1h50M1280,287.1h50M1280,289.1h50M1280,291.1h48M1332,291.1h4M1280,293.1h48M1330,293.1h4M1280,295.1h54M1280,297.1h54M1280,299.1h58M1280,301.1h62M1384,301.1h12M1280,303.1h64M1386,303.1h14M1280,305.1h62M1386,305.1h16M1280,307.1h60M1388,307.1h14M1280,309.1h60M1390,309.1h4M1280,311.1h60M1390,311.1h4" stroke="#ff8c26" stroke-width="2"/>
<path d="M1280,89.1h34M1446,89.1h58M1280,91.1h34M1452,91.1h52M1280,93.1h40M1452,93.1h52M1280,95.1h40M1452,95.1h52M1280,97.1h40M1450,97.1h54M1280,99.1h38M1450,99.1h54M1280,101.1h38M1448,101.1h56M1280,103.1h42M1448,103.1h56M1280,105.1h44M1442,105.1h62M1280,107.1h42M1436,107.1h68M1280,109.1h42M1428,109.1h76M1280,111.1h40M1428,111.1h76M1280,113.1h40M1428,113.1h40M1476,113.1h28M1280,115.1h40M1430,115.1h24M1476,115.1h28M1280,117.1h40M1430,117.1h24M1478,117.1h12M1492,117.1h12M1280,119.1h40M1430,119.1h26M1484,119.1h4M1494,119.1h10M1280,121.1h42M1432,121.1h20M1494,121.1h10M1280,123.1h40M1432,123.1h16M1494,123.1h10M1280,125.1h40M1434,125.1h14M1494,125.1h10M1280,127.1h40M1434,127.1h14M1494,127.1h10M1280,129.1h8M1298,129.1h20M1324,129.1h2M1434,129.1h16M1494,129.1h10M1280,131.1h10M1300,131.1h16M1434,131.1h14M1494,131.1h10M1280,133.1h12M1300,133.1h14M1436,133.1h8M1496,133.1h8M1280,135.1h14M1302,135.1h12M1438,135.1h6M1496,135.1h8M1280,137.1h14M1302,137.1h12M1438,137.1h6M1502,137.1h2M1280,139.1h14M1302,139.1h12M1438,139.1h6M1500,139.1h4M1280,141.1h12M1302,141.1h14M1434,141.1h10M1280,143.1h4M1302,143.1h14M1434,143.1h8M1280,145.1h4M1300,145.1h16M1434,145.1h8M1280,147.1h4M1298,147.1h18M1434,147.1h8M1280,149.1h2M1298,149.1h18M1434,149.1h10M1296,151.1h22M1434,151.1h10M1294,153.1h24M1434,153.1h10M1292,155.1h26M1434,155.1h8M1290,157.1h28M1348,157.1h6M1386,157.1h4M1432,157.1h8M1288,159.1h6M1298,159.1h22M1340,159.1h16M1368,159.1h8M1384,159.1h4M1434,159.1h2M1286,161.1h8M1298,161.1h24M1332,161.1h24M1368,161.1h20M1280,163.1h12M1294,163.1h28M1332,163.1h26M1364,163.1h8M1374,163.1h16M1280,165.1h12M1294,165.1h26M1338,165.1h34M1374,165.1h16M1280,167.1h40M1328,167.1h4M1338,167.1h42M1384,167.1h8M1280,169.1h42M1326,169.1h4M1338,169.1h42M1386,169.1h6M1280,171.1h40M1326,171.1h4M1342,171.1h34M1384,171.1h8M1280,173.1h40M1324,173.1h6M1342,173.1h34M1384,173.1h4M1280,175.1h40M1322,175.1h8M1344,175.1h30M1386,175.1h2M1280,177.1h50M1346,177.1h4M1358,177.1h12M1378,177.1h12M1280,179.1h48M1358,179.1h8M1380,179.1h12M1280,181.1h48M1358,181.1h6M1384,181.1h10M1280,183.1h48M1390,183.1h6M1280,185.1h40M1390,185.1h12M1426,185.1h4M1284,187.1h4M1296,187.1h12M1310,187.1h6M1386,187.1h16M1426,187.1h4M1300,189.1h4M1310,189.1h4M1382,189.1h20M1424,189.1h8M1382,191.1h20M1408,191.1h2M1424,191.1h8M1382,193.1h20M1406,193.1h12M1422,193.1h12M1384,195.1h52M1384,197.1h54M1386,199.1h54M1386,201.1h24M1412,201.1h28M1388,203.1h20M1414,203.1h28M1388,205.1h18M1420,205.1h22M1384,207.1h18M1420,207.1h24M1384,209.1h12M1420,209.1h24M1386,211.1h10M1416,211.1h30M1390,213.1h6M1414,213.1h24M1440,213.1h4M1390,215.1h6M1414,215.1h18M1434,215.1h2M1440,215.1h2M1328,217.1h2M1388,217.1h10M1414,217.1h16M1440,217.1h2M1324,219.1h8M1388,219.1h10M1414,219.1h18M1324,221.1h16M1388,221.1h10M1414,221.1h20M1310,223.1h2M1322,223.1h20M1390,223.1h8M1416,223.1h18M1322,225.1h22M1390,225.1h8M1408,225.1h2M1418,225.1h16M1310,227.1h4M1322,227.1h22M1392,227.1h6M1420,227.1h10M1308,229.1h6M1322,229.1h22M1392,229.1h6M1420,229.1h10M1300,231.1h2M1306,231.1h12M1322,231.1h22M1390,231.1h10M1418,231.1h18M1300,233.1h2M1306,233.1h36M1390,233.1h20M1418,233.1h18M1312,235.1h24M1338,235.1h6M1388,235.1h20M1418,235.1h4M1424,235.1h8M1494,235.1h6M1308,237.1h28M1340,237.1h2M1388,237.1h20M1416,237.1h2M1426,237.1h6M1490,237.1h14M1308,239.1h26M1386,239.1h24M1414,239.1h4M1426,239.1h4M1448,239.1h8M1476,239.1h6M1486,239.1h18M1308,241.1h20M1374,241.1h4M1384,241.1h30M1416,241.1h2M1448,241.1h10M1474,241.1h30M1308,243.1h4M1318,243.1h6M1366,243.1h60M1448,243.1h12M1470,243.1h34M1320,245.1h2M1364,245.1h62M1448,245.1h56M1320,247.1h2M1364,247.1h60M1446,247.1h58M1362,249.1h18M1392,249.1h30M1442,249.1h62M1362,251.1h14M1394,251.1h24M1444,251.1h60M1354,253.1h4M1360,253.1h16M1400,253.1h16M1446,253.1h58M1352,255.1h26M1446,255.1h58M1352,257.1h28M1446,257.1h58M1356,259.1h24M1446,259.1h52M1356,261.1h24M1446,261.1h50M1360,263.1h20M1446,263.1h46M1360,265.1h18M1448,265.1h14M1464,265.1h14M1486,265.1h4M1358,267.1h20M1448,267.1h14M1466,267.1h6M1358,269.1h18M1450,269.1h2M1456,269.1h6M1358,271.1h16M1448,271.1h2M1454,271.1h6M1356,273.1h16M1448,273.1h12M1356,275.1h14M1448,275.1h12M1354,277.1h14M1448,277.1h10M1352,279.1h14M1446,279.1h10M1350,281.1h16M1444,281.1h10M1348,283.1h20M1440,283.1h12M1348,285.1h22M1438,285.1h10M1348,287.1h24M1438,287.1h6M1348,289.1h26M1436,289.1h8M1348,291.1h26M1402,291.1h6M1430,291.1h14M1348,293.1h26M1402,293.1h6M1416,293.1h6M1430,293.1h12M1346,295.1h28M1402,295.1h8M1414,295.1h28M1346,297.1h36M1406,297.1h36M1346,299.1h38M1406,299.1h38M1348,301.1h36M1414,301.1h30M1350,303.1h36M1420,303.1h24M1352,305.1h34M1420,305.1h24M1354,307.1h34M1420,307.1h22M1354,309.1h36M1422,309.1h20M1354,311.1h36M1422,311.1h20" stroke="#e57fc6" stroke-width="2"/>
<rect x="1280" y="88.1" width="223.4" height="223.4" fill="url(#spk)"/>
</g>
<circle cx="1391.7" cy="199.8" r="111.7" fill="none" stroke="#333" stroke-width="1"/>
<g clip-path="url(#cg)">
<circle cx="1689.6" cy="203.8" r="148.2" fill="#ff8c26"/>
<path d="M1777.4,104.6h4M1777.4,106.6h8M1781.4,108.6h2M1775.4,110.6h2M1637.4,112.6h2M1653.4,112.6h2M1705.4,112.6h6M1775.4,112.6h4M1635.4,114.6h6M1643.4,114.6h14M1705.4,114.6h6M1729.4,114.6h2M1775.4,114.6h6M1635.4,116.6h28M1703.4,116.6h18M1727.4,116.6h2M1775.4,116.6h8M1627.4,118.6h36M1693.4,118.6h28M1771.4,118.6h12M1629.4,120.6h34M1691.4,120.6h34M1761.4,120.6h2M1767.4,120.6h16M1631.4,122.6h32M1689.4,122.6h38M1759.4,122.6h22M1631.4,124.6h34M1689.4,124.6h40M1753.4,124.6h28M1627.4,126.6h38M1689.4,126.6h42M1755.4,126.6h26M1795.4,126.6h8M1625.4,128.6h42M1691.4,128.6h42M1757.4,128.6h2M1761.4,128.6h20M1795.4,128.6h2M1801.4,128.6h2M1625.4,130.6h46M1691.4,130.6h42M1755.4,130.6h6M1763.4,130.6h18M1793.4,130.6h4M1801.4,130.6h2M1627.4,132.6h46M1691.4,132.6h40M1753.4,132.6h28M1791.4,132.6h14M1627.4,134.6h52M1691.4,134.6h40M1749.4,134.6h30M1789.4,134.6h2M1795.4,134.6h12M1625.4,136.6h54M1691.4,136.6h42M1745.4,136.6h34M1795.4,136.6h10M1625.4,138.6h54M1691.4,138.6h46M1745.4,138.6h8M1755.4,138.6h24M1797.4,138.6h8M1623.4,140.6h56M1691.4,140.6h48M1745.4,140.6h6M1757.4,140.6h24M1801.4,140.6h2M1623.4,142.6h52M1689.4,142.6h50M1743.4,142.6h38M1623.4,144.6h52M1691.4,144.6h50M1745.4,144.6h36M1623.4,146.6h50M1691.4,146.6h14M1713.4,146.6h30M1745.4,146.6h36M1623.4,148.6h46M1691.4,148.6h16M1713.4,148.6h68M1625.4,150.6h44M1693.4,150.6h14M1715.4,150.6h66M1629.4,152.6h40M1693.4,152.6h12M1717.4,152.6h64M1629.4,154.6h38M1693.4,154.6h12M1719.4,154.6h60M1631.4,156.6h34M1695.4,156.6h8M1711.4,156.6h4M1719.4,156.6h58M1637.4,158.6h38M1697.4,158.6h8M1709.4,158.6h6M1717.4,158.6h60M1639.4,160.6h36M1701.4,160.6h72M1639.4,162.6h34M1701.4,162.6h70M1639.4,164.6h32M1701.4,164.6h70M1641.4,166.6h30M1701.4,166.6h70M1793.4,166.6h6M1641.4,168.6h26M1707.4,168.6h66M1793.4,168.6h10M1643.4,170.6h22M1707.4,170.6h66M1791.4,170.6h14M1643.4,172.6h20M1707.4,172.6h66M1791.4,172.6h14M1809.4,172.6h6M1643.4,174.6h20M1707.4,174.6h64M1789.4,174.6h16M1809.4,174.6h14M1829.4,174.6h2M1647.4,176.6h14M1705.4,176.6h66M1789.4,176.6h38M1649.4,178.6h2M1705.4,178.6h66M1791.4,178.6h22M1815.4,178.6h16M1705.4,180.6h66M1791.4,180.6h40M1701.4,182.6h70M1791.4,182.6h38M1691.4,184.6h6M1699.4,184.6h70M1789.4,184.6h40M1689.4,186.6h14M1709.4,186.6h60M1789.4,186.6h40M1835.4,186.6h4M1689.4,188.6h14M1709.4,188.6h58M1787.4,188.6h44M1835.4,188.6h4M1689.4,190.6h44M1751.4,190.6h16M1785.4,190.6h52M1687.4,192.6h46M1751.4,192.6h16M1783.4,192.6h52M1689.4,194.6h44M1751.4,194.6h14M1783.4,194.6h54M1691.4,196.6h42M1759.4,196.6h2M1783.4,196.6h56M1691.4,198.6h42M1783.4,198.6h30M1817.4,198.6h22M1691.4,200.6h42M1783.4,200.6h28M1817.4,200.6h22M1693.4,202.6h44M1783.4,202.6h12M1797.4,202.6h8M1817.4,202.6h22M1693.4,204.6h44M1785.4,204.6h6M1823.4,204.6h16M1693.4,206.6h6M1703.4,206.6h36M1785.4,206.6h4M1825.4,206.6h2M1831.4,206.6h6M1703.4,208.6h38M1833.4,208.6h4M1703.4,210.6h40M1701.4,212.6h44M1829.4,212.6h2M1701.4,214.6h44M1701.4,216.6h42M1797.4,216.6h2M1701.4,218.6h42M1795.4,218.6h6M1805.4,218.6h2M1699.4,220.6h42M1793.4,220.6h18M1701.4,222.6h42M1793.4,222.6h20M1701.4,224.6h44M1795.4,224.6h20M1699.4,226.6h44M1797.4,226.6h18M1699.4,228.6h42M1767.4,228.6h2M1797.4,228.6h20M1699.4,230.6h42M1765.4,230.6h6M1799.4,230.6h18M1697.4,232.6h44M1761.4,232.6h14M1799.4,232.6h18M1697.4,234.6h44M1761.4,234.6h18M1799.4,234.6h16M1697.4,236.6h42M1761.4,236.6h24M1799.4,236.6h16M1697.4,238.6h36M1761.4,238.6h4M1771.4,238.6h10M1801.4,238.6h14M1697.4,240.6h34M1757.4,240.6h8M1769.4,240.6h4M1805.4,240.6h4M1697.4,242.6h32M1755.4,242.6h18M1703.4,244.6h12M1719.4,244.6h10M1757.4,244.6h14M1707.4,246.6h2M1719.4,246.6h6M1757.4,246.6h14M1757.4,248.6h12M1757.4,250.6h2M1763.4,250.6h6M1757.4,252.6h2M1765.4,252.6h4M1757.4,254.6h4M1767.4,254.6h2M1759.4,256.6h4" stroke="#8c564b" stroke-width="2"/>
<path d="M1701.4,56.6h38M1759.4,56.6h80M1701.4,58.6h38M1759.4,58.6h80M1699.4,60.6h42M1761.4,60.6h78M1697.4,62.6h44M1759.4,62.6h80M1697.4,64.6h44M1759.4,64.6h80M1625.4,66.6h2M1699.4,66.6h42M1759.4,66.6h80M1619.4,68.6h16M1641.4,68.6h2M1675.4,68.6h2M1691.4,68.6h4M1701.4,68.6h36M1759.4,68.6h80M1617.4,70.6h28M1675.4,70.6h22M1701.4,70.6h36M1763.4,70.6h76M1615.4,72.6h30M1675.4,72.6h62M1765.4,72.6h74M1613.4,74.6h32M1673.4,74.6h62M1759.4,74.6h4M1765.4,74.6h74M1613.4,76.6h30M1673.4,76.6h62M1757.4,76.6h82M1615.4,78.6h28M1671.4,78.6h64M1757.4,78.6h82M1615.4,80.6h26M1671.4,80.6h10M1683.4,80.6h56M1757.4,80.6h32M1793.4,80.6h46M1615.4,82.6h28M1669.4,82.6h10M1685.4,82.6h56M1747.4,82.6h40M1795.4,82.6h44M1617.4,84.6h26M1669.4,84.6h10M1687.4,84.6h16M1707.4,84.6h20M1733.4,84.6h8M1747.4,84.6h42M1795.4,84.6h44M1617.4,86.6h28M1669.4,86.6h8M1687.4,86.6h14M1709.4,86.6h18M1735.4,86.6h6M1747.4,86.6h44M1795.4,86.6h44M1617.4,88.6h28M1671.4,88.6h6M1695.4,88.6h4M1705.4,88.6h2M1711.4,88.6h6M1719.4,88.6h6M1735.4,88.6h8M1747.4,88.6h92M1623.4,90.6h20M1693.4,90.6h4M1723.4,90.6h2M1733.4,90.6h12M1747.4,90.6h92M1623.4,92.6h20M1733.4,92.6h106M1625.4,94.6h16M1733.4,94.6h70M1805.4,94.6h34M1627.4,96.6h10M1733.4,96.6h70M1805.4,96.6h34M1627.4,98.6h10M1731.4,98.6h70M1805.4,98.6h34M1625.4,100.6h14M1729.4,100.6h72M1805.4,100.6h34M1627.4,102.6h14M1731.4,102.6h70M1809.4,102.6h30M1627.4,104.6h16M1731.4,104.6h46M1783.4,104.6h18M1811.4,104.6h28M1627.4,106.6h16M1731.4,106.6h44M1793.4,106.6h10M1811.4,106.6h28M1625.4,108.6h18M1729.4,108.6h46M1797.4,108.6h6M1811.4,108.6h28M1625.4,110.6h16M1729.4,110.6h2M1733.4,110.6h42M1797.4,110.6h6M1811.4,110.6h28M1613.4,112.6h2M1623.4,112.6h14M1639.4,112.6h2M1731.4,112.6h44M1811.4,112.6h28M1613.4,114.6h4M1621.4,114.6h14M1641.4,114.6h2M1731.4,114.6h44M1813.4,114.6h10M1827.4,114.6h12M1613.4,116.6h4M1619.4,116.6h16M1731.4,116.6h12M1745.4,116.6h6M1757.4,116.6h18M1827.4,116.6h6M1835.4,116.6h4M1615.4,118.6h12M1729.4,118.6h10M1745.4,118.6h4M1759.4,118.6h12M1829.4,118.6h2M1607.4,120.6h2M1613.4,120.6h16M1729.4,120.6h8M1745.4,120.6h2M1759.4,120.6h2M1763.4,120.6h4M1831.4,120.6h2M1611.4,122.6h20M1729.4,122.6h4M1611.4,124.6h20M1609.4,126.6h18M1561.4,128.6h2M1607.4,128.6h18M1561.4,130.6h6M1607.4,130.6h14M1837.4,130.6h2M1561.4,132.6h8M1571.4,132.6h6M1595.4,132.6h8M1605.4,132.6h16M1557.4,134.6h22M1593.4,134.6h26M1557.4,136.6h24M1589.4,136.6h30M1555.4,138.6h62M1553.4,140.6h62M1551.4,142.6h64M1621.4,142.6h2M1551.4,144.6h64M1617.4,144.6h6M1549.4,146.6h74M1549.4,148.6h74M1551.4,150.6h74M1555.4,152.6h74M1555.4,154.6h10M1569.4,154.6h60M1553.4,156.6h8M1569.4,156.6h50M1625.4,156.6h6M1555.4,158.6h4M1569.4,158.6h50M1625.4,158.6h12M1563.4,160.6h54M1629.4,160.6h10M1553.4,162.6h2M1563.4,162.6h56M1627.4,162.6h12M1553.4,164.6h2M1563.4,164.6h56M1627.4,164.6h12M1825.4,164.6h14M1563.4,166.6h6M1579.4,166.6h42M1627.4,166.6h14M1825.4,166.6h14M1565.4,168.6h4M1579.4,168.6h42M1627.4,168.6h14M1831.4,168.6h2M1837.4,168.6h2M1579.4,170.6h42M1627.4,170.6h16M1583.4,172.6h38M1629.4,172.6h14M1583.4,174.6h38M1629.4,174.6h14M1587.4,176.6h34M1629.4,176.6h18M1587.4,178.6h34M1631.4,178.6h18M1651.4,178.6h12M1587.4,180.6h36M1631.4,180.6h32M1669.4,180.6h2M1593.4,182.6h32M1629.4,182.6h40M1595.4,184.6h30M1627.4,184.6h42M1593.4,186.6h78M1593.4,188.6h56M1655.4,188.6h18M1595.4,190.6h54M1657.4,190.6h14M1597.4,192.6h52M1655.4,192.6h14M1561.4,194.6h2M1597.4,194.6h52M1653.4,194.6h16M1555.4,196.6h12M1597.4,196.6h50M1653.4,196.6h14M1553.4,198.6h16M1597.4,198.6h46M1653.4,198.6h12M1673.4,198.6h2M1547.4,200.6h28M1597.4,200.6h46M1653.4,200.6h26M1551.4,202.6h26M1595.4,202.6h48M1649.4,202.6h30M1687.4,202.6h6M1553.4,204.6h24M1585.4,204.6h4M1593.4,204.6h30M1625.4,204.6h18M1647.4,204.6h46M1553.4,206.6h26M1583.4,206.6h32M1619.4,206.6h24M1647.4,206.6h46M1699.4,206.6h4M1551.4,208.6h62M1625.4,208.6h2M1631.4,208.6h18M1653.4,208.6h50M1541.4,210.6h42M1587.4,210.6h24M1629.4,210.6h74M1541.4,212.6h40M1587.4,212.6h24M1629.4,212.6h72M1541.4,214.6h70M1629.4,214.6h72M1541.4,216.6h68M1631.4,216.6h38M1673.4,216.6h28M1541.4,218.6h68M1613.4,218.6h4M1633.4,218.6h34M1685.4,218.6h16M1541.4,220.6h78M1621.4,220.6h6M1639.4,220.6h24M1669.4,220.6h2M1687.4,220.6h12M1541.4,222.6h76M1619.4,222.6h6M1637.4,222.6h12M1655.4,222.6h2M1687.4,222.6h14M1541.4,224.6h70M1617.4,224.6h6M1635.4,224.6h12M1687.4,224.6h14M1541.4,226.6h30M1587.4,226.6h12M1601.4,226.6h12M1615.4,226.6h10M1635.4,226.6h12M1683.4,226.6h16M1541.4,228.6h28M1589.4,228.6h8M1601.4,228.6h26M1633.4,228.6h10M1681.4,228.6h18M1541.4,230.6h28M1589.4,230.6h6M1601.4,230.6h10M1615.4,230.6h12M1633.4,230.6h12M1679.4,230.6h20M1757.4,230.6h4M1825.4,230.6h2M1541.4,232.6h32M1589.4,232.6h4M1601.4,232.6h10M1619.4,232.6h4M1625.4,232.6h6M1635.4,232.6h12M1677.4,232.6h20M1745.4,232.6h6M1757.4,232.6h4M1823.4,232.6h6M1541.4,234.6h32M1599.4,234.6h12M1619.4,234.6h10M1633.4,234.6h12M1675.4,234.6h22M1741.4,234.6h12M1755.4,234.6h6M1823.4,234.6h10M1837.4,234.6h2M1541.4,236.6h34M1599.4,236.6h12M1619.4,236.6h10M1631.4,236.6h14M1675.4,236.6h22M1739.4,236.6h22M1821.4,236.6h18M1547.4,238.6h28M1599.4,238.6h14M1619.4,238.6h28M1671.4,238.6h26M1733.4,238.6h28M1819.4,238.6h20M1549.4,240.6h26M1599.4,240.6h48M1671.4,240.6h26M1731.4,240.6h26M1815.4,240.6h24M1549.4,242.6h26M1599.4,242.6h46M1673.4,242.6h24M1729.4,242.6h12M1747.4,242.6h8M1815.4,242.6h14M1831.4,242.6h8M1549.4,244.6h4M1565.4,244.6h10M1599.4,244.6h44M1675.4,244.6h28M1715.4,244.6h4M1729.4,244.6h10M1749.4,244.6h8M1815.4,244.6h14M1831.4,244.6h8M1567.4,246.6h6M1601.4,246.6h42M1675.4,246.6h32M1709.4,246.6h10M1725.4,246.6h14M1753.4,246.6h4M1815.4,246.6h24M1569.4,248.6h4M1603.4,248.6h40M1675.4,248.6h62M1817.4,248.6h22M1603.4,250.6h38M1651.4,250.6h4M1677.4,250.6h60M1759.4,250.6h4M1815.4,250.6h24M1605.4,252.6h36M1651.4,252.6h2M1677.4,252.6h56M1759.4,252.6h6M1799.4,252.6h8M1815.4,252.6h24M1605.4,254.6h36M1673.4,254.6h60M1753.4,254.6h4M1761.4,254.6h6M1799.4,254.6h12M1813.4,254.6h18M1607.4,256.6h32M1673.4,256.6h62M1753.4,256.6h6M1763.4,256.6h4M1793.4,256.6h38M1605.4,258.6h34M1673.4,258.6h50M1725.4,258.6h12M1757.4,258.6h10M1791.4,258.6h16M1817.4,258.6h14M1605.4,260.6h36M1667.4,260.6h4M1675.4,260.6h48M1727.4,260.6h10M1759.4,260.6h6M1787.4,260.6h14M1819.4,260.6h12M1609.4,262.6h30M1665.4,262.6h56M1785.4,262.6h16M1821.4,262.6h12M1611.4,264.6h26M1663.4,264.6h58M1783.4,264.6h18M1829.4,264.6h4M1613.4,266.6h24M1661.4,266.6h60M1781.4,266.6h20M1829.4,266.6h2M1613.4,268.6h24M1663.4,268.6h60M1781.4,268.6h18M1613.4,270.6h24M1663.4,270.6h58M1779.4,270.6h20M1613.4,272.6h24M1663.4,272.6h58M1779.4,272.6h16M1613.4,274.6h24M1665.4,274.6h54M1777.4,274.6h10M1591.4,276.6h4M1611.4,276.6h28M1665.4,276.6h50M1777.4,276.6h10M1585.4,278.6h8M1603.4,278.6h2M1611.4,278.6h34M1663.4,278.6h52M1777.4,278.6h8M1575.4,280.6h18M1597.4,280.6h12M1611.4,280.6h34M1661.4,280.6h54M1777.4,280.6h8M1575.4,282.6h72M1663.4,282.6h52M1777.4,282.6h8M1577.4,284.6h52M1641.4,284.6h4M1663.4,284.6h52M1777.4,284.6h8M1577.4,286.6h52M1663.4,286.6h52M1777.4,286.6h8M1577.4,288.6h52M1657.4,288.6h24M1683.4,288.6h32M1783.4,288.6h2M1577.4,290.6h52M1659.4,290.6h22M1685.4,290.6h4M1695.4,290.6h20M1783.4,290.6h2M1543.4,292.6h4M1575.4,292.6h54M1661.4,292.6h22M1697.4,292.6h18M1783.4,292.6h2M1541.4,294.6h8M1553.4,294.6h2M1571.4,294.6h60M1661.4,294.6h22M1701.4,294.6h12M1541.4,296.6h14M1569.4,296.6h62M1663.4,296.6h20M1701.4,296.6h12M1541.4,298.6h22M1569.4,298.6h56M1663.4,298.6h18M1701.4,298.6h8M1541.4,300.6h84M1665.4,300.6h14M1705.4,300.6h2M1541.4,302.6h82M1625.4,302.6h6M1669.4,302.6h6M1541.4,304.6h80M1625.4,304.6h6M1653.4,304.6h2M1541.4,306.6h90M1651.4,306.6h6M1541.4,308.6h90M1651.4,308.6h14M1541.4,310.6h88M1655.4,310.6h12M1541.4,312.6h88M1653.4,312.6h16M1541.4,314.6h30M1579.4,314.6h48M1653.4,314.6h8M1663.4,314.6h14M1541.4,316.6h28M1583.4,316.6h6M1591.4,316.6h34M1653.4,316.6h6M1665.4,316.6h14M1541.4,318.6h6M1551.4,318.6h14M1595.4,318.6h24M1665.4,318.6h14M1545.4,320.6h2M1561.4,320.6h2M1597.4,320.6h22M1663.4,320.6h16M1601.4,322.6h18M1663.4,322.6h18M1611.4,324.6h8M1665.4,324.6h20M1611.4,326.6h4M1667.4,326.6h20M1667.4,328.6h20M1613.4,330.6h2M1665.4,330.6h18M1665.4,332.6h14M1665.4,334.6h14M1667.4,336.6h10M1667.4,338.6h8M1667.4,340.6h6M1669.4,342.6h4" stroke="#37c7d6" stroke-width="2"/>
<path d="M1653.4,102.6h8M1673.4,102.6h2M1689.4,102.6h2M1649.4,104.6h14M1671.4,104.6h8M1683.4,104.6h8M1705.4,104.6h4M1655.4,106.6h8M1671.4,106.6h22M1701.4,106.6h8M1659.4,108.6h4M1665.4,108.6h44M1655.4,110.6h54M1655.4,112.6h8M1665.4,112.6h40M1657.4,114.6h4M1663.4,114.6h42M1663.4,116.6h40M1729.4,116.6h2M1743.4,116.6h2M1751.4,116.6h6M1663.4,118.6h30M1739.4,118.6h6M1749.4,118.6h10M1663.4,120.6h28M1737.4,120.6h8M1747.4,120.6h12M1663.4,122.6h26M1733.4,122.6h26M1665.4,124.6h24M1729.4,124.6h24M1665.4,126.6h24M1731.4,126.6h24M1667.4,128.6h24M1733.4,128.6h24M1759.4,128.6h2M1671.4,130.6h20M1733.4,130.6h22M1761.4,130.6h2M1673.4,132.6h18M1731.4,132.6h22M1679.4,134.6h12M1731.4,134.6h18M1679.4,136.6h12M1733.4,136.6h12M1679.4,138.6h12M1737.4,138.6h8M1753.4,138.6h2M1679.4,140.6h12M1739.4,140.6h6M1751.4,140.6h6M1675.4,142.6h12M1739.4,142.6h4M1675.4,144.6h8M1741.4,144.6h4M1673.4,146.6h8M1705.4,146.6h8M1743.4,146.6h2M1669.4,148.6h10M1707.4,148.6h6M1669.4,150.6h8M1707.4,150.6h8M1669.4,152.6h8M1705.4,152.6h12M1667.4,154.6h8M1705.4,154.6h14M1665.4,156.6h8M1703.4,156.6h8M1715.4,156.6h4M1705.4,158.6h4M1715.4,158.6h2M1773.4,160.6h4M1673.4,162.6h2M1771.4,162.6h8M1671.4,164.6h4M1771.4,164.6h10M1671.4,166.6h2M1771.4,166.6h12M1773.4,168.6h10M1781.4,170.6h2M1771.4,174.6h2" stroke="#aec7e8" stroke-width="2"/>
<path d="M1681.4,80.6h2M1679.4,82.6h6M1665.4,84.6h2M1679.4,84.6h8M1703.4,84.6h4M1727.4,84.6h6M1601.4,86.6h8M1661.4,86.6h8M1677.4,86.6h10M1701.4,86.6h8M1727.4,86.6h8M1599.4,88.6h14M1659.4,88.6h12M1677.4,88.6h18M1699.4,88.6h6M1707.4,88.6h4M1717.4,88.6h2M1725.4,88.6h10M1601.4,90.6h22M1643.4,90.6h4M1655.4,90.6h38M1697.4,90.6h26M1725.4,90.6h8M1601.4,92.6h22M1643.4,92.6h6M1653.4,92.6h80M1601.4,94.6h24M1641.4,94.6h92M1601.4,96.6h26M1637.4,96.6h96M1601.4,98.6h26M1637.4,98.6h94M1603.4,100.6h22M1639.4,100.6h90M1603.4,102.6h24M1641.4,102.6h12M1661.4,102.6h12M1675.4,102.6h14M1691.4,102.6h40M1603.4,104.6h24M1643.4,104.6h6M1663.4,104.6h8M1679.4,104.6h4M1691.4,104.6h14M1709.4,104.6h22M1781.4,104.6h2M1603.4,106.6h24M1643.4,106.6h12M1663.4,106.6h8M1693.4,106.6h8M1709.4,106.6h22M1775.4,106.6h2M1785.4,106.6h8M1603.4,108.6h22M1643.4,108.6h16M1663.4,108.6h2M1709.4,108.6h20M1775.4,108.6h6M1783.4,108.6h14M1605.4,110.6h20M1641.4,110.6h14M1709.4,110.6h20M1731.4,110.6h2M1777.4,110.6h20M1605.4,112.6h8M1615.4,112.6h8M1641.4,112.6h12M1663.4,112.6h2M1711.4,112.6h20M1779.4,112.6h28M1607.4,114.6h6M1617.4,114.6h4M1661.4,114.6h2M1711.4,114.6h18M1781.4,114.6h32M1823.4,114.6h4M1609.4,116.6h4M1617.4,116.6h2M1721.4,116.6h6M1783.4,116.6h44M1833.4,116.6h2M1609.4,118.6h6M1721.4,118.6h8M1783.4,118.6h46M1831.4,118.6h8M1611.4,120.6h2M1725.4,120.6h4M1783.4,120.6h48M1833.4,120.6h6M1727.4,122.6h2M1781.4,122.6h58M1781.4,124.6h58M1781.4,126.6h14M1803.4,126.6h36M1781.4,128.6h14M1797.4,128.6h4M1803.4,128.6h36M1621.4,130.6h4M1781.4,130.6h12M1797.4,130.6h4M1803.4,130.6h34M1621.4,132.6h6M1781.4,132.6h10M1805.4,132.6h34M1619.4,134.6h8M1779.4,134.6h10M1791.4,134.6h4M1807.4,134.6h32M1619.4,136.6h6M1779.4,136.6h16M1805.4,136.6h34M1617.4,138.6h8M1779.4,138.6h18M1805.4,138.6h34M1615.4,140.6h8M1781.4,140.6h20M1803.4,140.6h36M1615.4,142.6h6M1687.4,142.6h2M1781.4,142.6h58M1615.4,144.6h2M1683.4,144.6h8M1781.4,144.6h58M1681.4,146.6h10M1781.4,146.6h58M1679.4,148.6h12M1781.4,148.6h58M1677.4,150.6h16M1781.4,150.6h58M1677.4,152.6h16M1781.4,152.6h58M1675.4,154.6h18M1779.4,154.6h60M1673.4,156.6h22M1777.4,156.6h62M1675.4,158.6h22M1777.4,158.6h62M1675.4,160.6h26M1777.4,160.6h62M1675.4,162.6h26M1779.4,162.6h60M1675.4,164.6h26M1781.4,164.6h44M1673.4,166.6h28M1783.4,166.6h10M1799.4,166.6h26M1667.4,168.6h40M1783.4,168.6h10M1803.4,168.6h28M1833.4,168.6h4M1665.4,170.6h42M1773.4,170.6h8M1783.4,170.6h8M1805.4,170.6h34M1663.4,172.6h44M1773.4,172.6h18M1805.4,172.6h4M1815.4,172.6h24M1663.4,174.6h44M1773.4,174.6h16M1805.4,174.6h4M1823.4,174.6h6M1831.4,174.6h8M1661.4,176.6h44M1771.4,176.6h18M1827.4,176.6h12M1663.4,178.6h42M1771.4,178.6h20M1813.4,178.6h2M1831.4,178.6h8M1663.4,180.6h6M1671.4,180.6h34M1771.4,180.6h20M1831.4,180.6h8M1669.4,182.6h32M1771.4,182.6h20M1829.4,182.6h10M1669.4,184.6h22M1697.4,184.6h2M1769.4,184.6h20M1829.4,184.6h10M1671.4,186.6h18M1703.4,186.6h6M1769.4,186.6h20M1829.4,186.6h6M1649.4,188.6h6M1673.4,188.6h16M1703.4,188.6h6M1767.4,188.6h20M1831.4,188.6h4M1649.4,190.6h8M1671.4,190.6h16M1733.4,190.6h18M1767.4,190.6h18M1837.4,190.6h2M1649.4,192.6h6M1669.4,192.6h14M1733.4,192.6h18M1767.4,192.6h16M1835.4,192.6h4M1649.4,194.6h4M1669.4,194.6h10M1733.4,194.6h18M1765.4,194.6h18M1837.4,194.6h2M1551.4,196.6h4M1647.4,196.6h6M1733.4,196.6h26M1761.4,196.6h22M1541.4,198.6h4M1549.4,198.6h4M1643.4,198.6h10M1733.4,198.6h50M1813.4,198.6h4M1541.4,200.6h6M1643.4,200.6h10M1733.4,200.6h50M1811.4,200.6h6M1541.4,202.6h10M1643.4,202.6h6M1737.4,202.6h46M1795.4,202.6h2M1805.4,202.6h12M1541.4,204.6h12M1643.4,204.6h4M1737.4,204.6h48M1791.4,204.6h32M1541.4,206.6h12M1643.4,206.6h4M1739.4,206.6h46M1789.4,206.6h36M1827.4,206.6h4M1837.4,206.6h2M1541.4,208.6h10M1649.4,208.6h4M1741.4,208.6h92M1837.4,208.6h2M1743.4,210.6h96M1745.4,212.6h84M1831.4,212.6h8M1745.4,214.6h94M1743.4,216.6h54M1799.4,216.6h40M1743.4,218.6h52M1801.4,218.6h4M1807.4,218.6h32M1741.4,220.6h52M1811.4,220.6h28M1743.4,222.6h50M1813.4,222.6h26M1745.4,224.6h50M1815.4,224.6h24M1743.4,226.6h54M1815.4,226.6h24M1741.4,228.6h26M1769.4,228.6h28M1817.4,228.6h22M1741.4,230.6h16M1761.4,230.6h4M1771.4,230.6h28M1817.4,230.6h8M1827.4,230.6h12M1741.4,232.6h4M1751.4,232.6h6M1775.4,232.6h24M1817.4,232.6h6M1829.4,232.6h10M1753.4,234.6h2M1779.4,234.6h20M1815.4,234.6h8M1833.4,234.6h4M1649.4,236.6h4M1657.4,236.6h8M1815.4,236.6h6M1647.4,238.6h24M1815.4,238.6h4M1647.4,240.6h24M1645.4,242.6h28M1643.4,244.6h32M1643.4,246.6h32M1643.4,248.6h32M1641.4,250.6h10M1657.4,250.6h20M1641.4,252.6h4M1647.4,252.6h4M1659.4,252.6h18M1641.4,254.6h4M1659.4,254.6h14M1657.4,256.6h16M1735.4,256.6h2M1655.4,258.6h18M1723.4,258.6h2M1657.4,260.6h4M1663.4,260.6h4M1671.4,260.6h4M1723.4,260.6h4M1657.4,262.6h4M1663.4,262.6h2M1721.4,262.6h18M1721.4,264.6h20M1721.4,266.6h24M1723.4,268.6h40M1721.4,270.6h44M1721.4,272.6h46M1719.4,274.6h50M1715.4,276.6h52M1715.4,278.6h50M1715.4,280.6h50M1715.4,282.6h54M1715.4,284.6h56M1715.4,286.6h56M1715.4,288.6h54M1715.4,290.6h56M1715.4,292.6h50M1767.4,292.6h4M1713.4,294.6h50M1713.4,296.6h50M1713.4,298.6h50M1723.4,300.6h40M1725.4,302.6h38M1725.4,304.6h38M1727.4,306.6h36M1729.4,308.6h34M1731.4,310.6h32M1731.4,312.6h32M1733.4,314.6h30M1735.4,316.6h26M1737.4,318.6h26M1751.4,320.6h4M1761.4,320.6h2M1751.4,322.6h4" stroke="#e57fc6" stroke-width="2"/>
<path d="M1681.4,56.6h20M1681.4,58.6h20M1681.4,60.6h18M1677.4,62.6h20M1677.4,64.6h20M1675.4,66.6h24M1677.4,68.6h14M1695.4,68.6h6M1697.4,70.6h4M1803.4,94.6h2M1803.4,96.6h2M1801.4,98.6h4M1801.4,100.6h4M1801.4,102.6h8M1801.4,104.6h10M1803.4,106.6h8M1803.4,108.6h8M1803.4,110.6h8M1807.4,112.6h4M1541.4,124.6h2M1549.4,124.6h6M1541.4,126.6h18M1541.4,128.6h20M1541.4,130.6h20M1541.4,132.6h20M1541.4,134.6h16M1541.4,136.6h16M1541.4,138.6h14M1541.4,140.6h12M1541.4,142.6h10M1541.4,144.6h10M1541.4,146.6h8M1541.4,148.6h8M1541.4,150.6h10M1541.4,152.6h12M1541.4,154.6h12M1541.4,156.6h12M1541.4,158.6h12M1541.4,160.6h12M1541.4,162.6h12M1543.4,164.6h10M1829.4,242.6h2M1829.4,244.6h2M1831.4,254.6h8M1831.4,256.6h8M1831.4,258.6h8M1831.4,260.6h8M1833.4,262.6h6M1833.4,264.6h6M1831.4,266.6h8M1833.4,268.6h4M1633.4,292.6h2M1631.4,294.6h6M1631.4,296.6h6M1625.4,298.6h16M1625.4,300.6h20M1623.4,302.6h2M1631.4,302.6h14M1621.4,304.6h4M1631.4,304.6h14M1631.4,306.6h14M1631.4,308.6h10M1629.4,310.6h10M1629.4,312.6h10M1627.4,314.6h12M1625.4,316.6h16M1619.4,318.6h20M1619.4,320.6h20M1619.4,322.6h20M1619.4,324.6h20M1617.4,326.6h16M1617.4,328.6h16M1619.4,330.6h14M1621.4,332.6h10M1623.4,334.6h6M1623.4,336.6h6M1623.4,338.6h4" stroke="#a37cc6" stroke-width="2"/>
<rect x="1541.4" y="55.6" width="296.4" height="296.4" fill="url(#spk)"/>
</g>
<circle cx="1689.6" cy="203.8" r="148.2" fill="none" stroke="#333" stroke-width="1"/>
<path d="M801.9,138.2L822.6,166.8" stroke="#000" stroke-width="1.9"/>
<path d="M827.8,174L816.9,168.4L825.9,161.9Z" fill="#000"/>
<path d="M872.4,238.3L852.4,209.2" stroke="#000" stroke-width="1.9"/>
<path d="M847.3,201.9L858.1,207.7L848.9,214Z" fill="#000"/>
<path d="M919,119.3L939.8,148.6" stroke="#000" stroke-width="1.9"/>
<path d="M944.9,155.9L934.1,150.2L943.1,143.8Z" fill="#000"/>
<path d="M1024.2,268.8L1003.3,238.6" stroke="#000" stroke-width="1.9"/>
<path d="M998.2,231.3L1009,237.1L999.8,243.4Z" fill="#000"/>
<path d="M1083.7,95.3L1104.6,124.3" stroke="#000" stroke-width="1.9"/>
<path d="M1109.8,131.5L1098.9,125.9L1107.9,119.4Z" fill="#000"/>
<path d="M1224.5,301.2L1203.5,271.6" stroke="#000" stroke-width="1.9"/>
<path d="M1198.3,264.3L1209.1,270L1200.1,276.4Z" fill="#000"/>
<path d="M1301.5,71.1L1322.1,100.2" stroke="#000" stroke-width="1.9"/>
<path d="M1327.2,107.5L1316.4,101.8L1325.4,95.4Z" fill="#000"/>
<path d="M1485.3,326L1464.7,296.6" stroke="#000" stroke-width="1.9"/>
<path d="M1459.6,289.3L1470.4,295L1461.3,301.4Z" fill="#000"/>
<path d="M1578.2,44.7L1599.5,73.8" stroke="#000" stroke-width="1.9"/>
<path d="M1604.7,81L1593.8,75.5L1602.8,68.9Z" fill="#000"/>
<path d="M1807.4,357.7L1786.2,328.2" stroke="#000" stroke-width="1.9"/>
<path d="M1781,321L1791.9,326.6L1782.9,333.1Z" fill="#000"/>
<text x="807.4" y="274.2" font-size="19.6" font-weight="bold" font-style="italic" textLength="137.7" lengthAdjust="spacingAndGlyphs" stroke="#000" stroke-width="0.45">diameter = 100</text>
<text x="821.3" y="296.2" font-size="19.6" font-weight="bold" font-style="italic" textLength="110" lengthAdjust="spacingAndGlyphs" stroke="#000" stroke-width="0.45">time = 4000</text>
<text x="970.6" y="297.6" font-size="19.6" font-weight="bold" font-style="italic" textLength="138.2" lengthAdjust="spacingAndGlyphs" stroke="#000" stroke-width="0.45">diameter = 300</text>
<text x="984.7" y="319.8" font-size="19.6" font-weight="bold" font-style="italic" textLength="110" lengthAdjust="spacingAndGlyphs" stroke="#000" stroke-width="0.45">time = 4000</text>
<text x="1165.3" y="332.3" font-size="19.6" font-weight="bold" font-style="italic" textLength="138.4" lengthAdjust="spacingAndGlyphs" stroke="#000" stroke-width="0.45">diameter = 500</text>
<text x="1179.5" y="354.1" font-size="19.6" font-weight="bold" font-style="italic" textLength="110.1" lengthAdjust="spacingAndGlyphs" stroke="#000" stroke-width="0.45">time = 4000</text>
<text x="1422" y="357.8" font-size="19.6" font-weight="bold" font-style="italic" textLength="137.9" lengthAdjust="spacingAndGlyphs" stroke="#000" stroke-width="0.45">diameter = 700</text>
<text x="1436.2" y="380.2" font-size="19.6" font-weight="bold" font-style="italic" textLength="109.7" lengthAdjust="spacingAndGlyphs" stroke="#000" stroke-width="0.45">time = 4000</text>
<text x="1677" y="382.6" font-size="19.6" font-weight="bold" font-style="italic" textLength="183.8" lengthAdjust="spacingAndGlyphs" stroke="#000" stroke-width="0.45">diameter = 900 cells</text>
<text x="1713.9" y="405.1" font-size="19.6" font-weight="bold" font-style="italic" textLength="110" lengthAdjust="spacingAndGlyphs" stroke="#000" stroke-width="0.45">time = 4000</text>
<rect x="1883.2" y="59.9" width="81" height="49.4" fill="#1f77b4"/>
<text x="1903.1" y="90.2" font-size="17" font-weight="bold" stroke="#000" stroke-width="0.4" textLength="41.2" lengthAdjust="spacingAndGlyphs">k<tspan font-size="12" dy="3.5">d</tspan><tspan dy="-3.5"> = 1</tspan></text>
<rect x="1883.8" y="114" width="81.4" height="49" fill="#d62728"/>
<text x="1903.9" y="144.1" font-size="17" font-weight="bold" stroke="#000" stroke-width="0.4" textLength="41.2" lengthAdjust="spacingAndGlyphs">k<tspan font-size="12" dy="3.5">d</tspan><tspan dy="-3.5"> = 2</tspan></text>
<rect x="1883.8" y="168" width="81.4" height="49" fill="#2ca02c"/>
<text x="1903.9" y="198.1" font-size="17" font-weight="bold" stroke="#000" stroke-width="0.4" textLength="41.2" lengthAdjust="spacingAndGlyphs">k<tspan font-size="12" dy="3.5">d</tspan><tspan dy="-3.5"> = 3</tspan></text>
<rect x="1883.8" y="222" width="81.4" height="49" fill="#bcbd22"/>
<text x="1903.9" y="252.1" font-size="17" font-weight="bold" stroke="#000" stroke-width="0.4" textLength="41.2" lengthAdjust="spacingAndGlyphs">k<tspan font-size="12" dy="3.5">d</tspan><tspan dy="-3.5"> = 4</tspan></text>
<rect x="1883.8" y="276" width="81.4" height="49" fill="#9467bd"/>
<text x="1903.9" y="306.1" font-size="17" font-weight="bold" stroke="#000" stroke-width="0.4" textLength="41.2" lengthAdjust="spacingAndGlyphs">k<tspan font-size="12" dy="3.5">d</tspan><tspan dy="-3.5"> = 5</tspan></text>
<rect x="1884.3" y="330" width="81.1" height="49.3" fill="#ff7f0e"/>
<text x="1904.2" y="360.2" font-size="17" font-weight="bold" stroke="#000" stroke-width="0.4" textLength="41.2" lengthAdjust="spacingAndGlyphs">k<tspan font-size="12" dy="3.5">d</tspan><tspan dy="-3.5"> = 6</tspan></text>
<rect x="1884.3" y="384.2" width="81.1" height="49.1" fill="#17becf"/>
<text x="1904.2" y="414.4" font-size="17" font-weight="bold" stroke="#000" stroke-width="0.4" textLength="41.2" lengthAdjust="spacingAndGlyphs">k<tspan font-size="12" dy="3.5">d</tspan><tspan dy="-3.5"> = 7</tspan></text>
<rect x="1884.3" y="438" width="81.1" height="49.2" fill="#e377c2"/>
<text x="1904.2" y="468.2" font-size="17" font-weight="bold" stroke="#000" stroke-width="0.4" textLength="41.2" lengthAdjust="spacingAndGlyphs">k<tspan font-size="12" dy="3.5">d</tspan><tspan dy="-3.5"> = 8</tspan></text>
<rect x="1883.4" y="494.7" width="81.1" height="49.1" fill="#8c564b"/>
<text x="1903.4" y="524.9" font-size="17" font-weight="bold" stroke="#000" stroke-width="0.4" textLength="41.2" lengthAdjust="spacingAndGlyphs">k<tspan font-size="12" dy="3.5">d</tspan><tspan dy="-3.5"> = 9</tspan></text>
<rect x="1882.8" y="551.3" width="80.8" height="48.8" fill="#aec7e8"/>
<text x="1897.2" y="581.3" font-size="17" font-weight="bold" stroke="#000" stroke-width="0.4" textLength="52" lengthAdjust="spacingAndGlyphs">k<tspan font-size="12" dy="3.5">d</tspan><tspan dy="-3.5"> = 10</tspan></text>
<text x="1957.7" y="16.3" font-size="17.8" font-weight="bold" text-anchor="end" textLength="100.3" lengthAdjust="spacingAndGlyphs" stroke="#000" stroke-width="0.5">Colored by</text>
<text x="1957.7" y="38.2" font-size="17.8" font-weight="bold" text-anchor="end" textLength="116.4" lengthAdjust="spacingAndGlyphs" stroke="#000" stroke-width="0.5">driver clones</text>
<path d="M865.2,465.4L896.1,450.1V460.3H1770.7V450.1L1800.6,465.4L1770.7,480.6V470.5H896.1V480.6Z" fill="#000"/>
<path d="M836.2,992.6L866.5,977.4V987.1H1925.6V977.4L1955.5,992.6L1925.6,1007.9V998.1H866.5V1007.9Z" fill="#000"/>
<text x="906.3" y="448.7" font-size="19.6" font-weight="bold" font-style="italic" textLength="159.7" lengthAdjust="spacingAndGlyphs" stroke="#000" stroke-width="0.45">small domain size</text>
<text x="1759.5" y="452.5" font-size="19.6" font-weight="bold" font-style="italic" text-anchor="end" textLength="157.9" lengthAdjust="spacingAndGlyphs" stroke="#000" stroke-width="0.45">large domain size</text>
<text x="906.8" y="496.3" font-size="19.4" font-style="italic" textLength="268.2" lengthAdjust="spacingAndGlyphs">more homogeneous population</text>
<text x="906.8" y="518.7" font-size="19.4" font-style="italic" textLength="195.5" lengthAdjust="spacingAndGlyphs">due to clonal sweeping</text>
<text x="1759.5" y="500.2" font-size="19.4" font-style="italic" text-anchor="end" textLength="273.8" lengthAdjust="spacingAndGlyphs">more heterogeneous population</text>
<text x="1759.5" y="522.5" font-size="19.4" font-style="italic" text-anchor="end" textLength="235.5" lengthAdjust="spacingAndGlyphs">due to large population size</text>
<text x="877.4" y="976.2" font-size="19.6" font-weight="bold" font-style="italic" textLength="168.5" lengthAdjust="spacingAndGlyphs" stroke="#000" stroke-width="0.45">less, larger regions</text>
<text x="1909.6" y="976.3" font-size="19.6" font-weight="bold" font-style="italic" text-anchor="end" textLength="193.4" lengthAdjust="spacingAndGlyphs" stroke="#000" stroke-width="0.45">more, smaller regions</text>
<text x="877.4" y="1031.8" font-size="19.4" font-style="italic" textLength="273.5" lengthAdjust="spacingAndGlyphs">more homogeneous population:</text>
<text x="877.4" y="1054.1" font-size="19.4" font-style="italic" textLength="236" lengthAdjust="spacingAndGlyphs">uninhibited clonal sweeping</text>
<text x="1909.6" y="1032.2" font-size="19.4" font-style="italic" text-anchor="end" textLength="279.6" lengthAdjust="spacingAndGlyphs">more heterogeneous population:</text>
<text x="1909.6" y="1054" font-size="19.4" font-style="italic" text-anchor="end" textLength="294.4" lengthAdjust="spacingAndGlyphs">boundaries inhibit clonal sweeping</text>
<g clip-path="url(#sj)">
<rect x="831.6" y="719.7" width="158.3" height="158.3" fill="#ff8c26"/>
<path d="M882.6,720.5h16.5M902.1,720.5h4.5M876.6,722h30M875.1,723.5h31.5M875.1,725h33M879.6,726.5h31.5M879.6,728h36M879.6,729.5h1.5M882.6,729.5h34.5M857.1,731h1.5M881.1,731h36M855.6,732.5h3M881.1,732.5h36M918.6,732.5h4.5M929.1,732.5h4.5M942.6,732.5h4.5M854.1,734h4.5M881.1,734h36M918.6,734h4.5M927.6,734h25.5M854.1,735.5h6M882.6,735.5h33M920.1,735.5h1.5M926.1,735.5h27M852.6,737h7.5M881.1,737h31.5M924.6,737h28.5M956.1,737h1.5M834.6,738.5h1.5M852.6,738.5h7.5M879.6,738.5h33M917.1,738.5h3M923.1,738.5h36M851.1,740h9M878.1,740h36M917.1,740h3M921.6,740h39M837.6,741.5h1.5M849.6,741.5h10.5M876.6,741.5h84M831.6,743h1.5M843.6,743h3M848.1,743h12M876.6,743h85.5M831.6,744.5h3M842.1,744.5h19.5M876.6,744.5h85.5M831.6,746h3M839.1,746h24M875.1,746h88.5M831.6,747.5h1.5M837.6,747.5h25.5M875.1,747.5h90M831.6,749h3M836.1,749h28.5M873.6,749h85.5M960.6,749h7.5M831.6,750.5h33M872.1,750.5h87M960.6,750.5h10.5M831.6,752h33M872.1,752h105M831.6,753.5h34.5M867.6,753.5h109.5M831.6,755h147M831.6,756.5h148.5M831.6,758h148.5M831.6,759.5h148.5M831.6,761h153M831.6,762.5h154.5M831.6,764h156M831.6,765.5h159M831.6,767h159M831.6,768.5h82.5M921.6,768.5h69M831.6,770h79.5M921.6,770h69M831.6,771.5h72M906.6,771.5h3M923.1,771.5h67.5M831.6,773h69M923.1,773h67.5M831.6,774.5h67.5M923.1,774.5h67.5M831.6,776h66M923.1,776h67.5M831.6,777.5h64.5M924.6,777.5h66M831.6,779h64.5M924.6,779h66M831.6,780.5h58.5M924.6,780.5h7.5M935.1,780.5h55.5M831.6,782h57M935.1,782h55.5M831.6,783.5h55.5M935.1,783.5h55.5M831.6,785h55.5M933.6,785h57M831.6,786.5h48M882.6,786.5h3M933.6,786.5h57M831.6,788h46.5M935.1,788h55.5M831.6,789.5h46.5M936.6,789.5h54M831.6,791h19.5M854.1,791h25.5M941.1,791h49.5M831.6,792.5h19.5M854.1,792.5h24M941.1,792.5h49.5M831.6,794h21M854.1,794h19.5M875.1,794h1.5M939.6,794h51M831.6,795.5h21M861.6,795.5h3M939.6,795.5h43.5M986.1,795.5h3M831.6,797h12M846.6,797h4.5M941.1,797h31.5M975.6,797h6M831.6,798.5h10.5M941.1,798.5h31.5M977.1,798.5h4.5M831.6,800h10.5M939.6,800h31.5M831.6,801.5h12M938.1,801.5h30M831.6,803h12M938.1,803h10.5M953.1,803h13.5M831.6,804.5h10.5M938.1,804.5h10.5M954.6,804.5h12M831.6,806h9M938.1,806h10.5M956.1,806h9M831.6,807.5h9M935.1,807.5h13.5M957.6,807.5h6M831.6,809h9M933.6,809h16.5M831.6,810.5h10.5M933.6,810.5h16.5M831.6,812h10.5M935.1,812h16.5M831.6,813.5h12M938.1,813.5h4.5M944.1,813.5h9M831.6,815h12M945.6,815h7.5M831.6,816.5h13.5M948.6,816.5h3M831.6,818h21M831.6,819.5h24M831.6,821h28.5M831.6,822.5h30M831.6,824h30M831.6,825.5h30M831.6,827h30M831.6,828.5h30M831.6,830h30M831.6,831.5h30M831.6,833h28.5M831.6,834.5h28.5M831.6,836h30M831.6,837.5h31.5M867.6,837.5h1.5M831.6,839h31.5M864.6,839h4.5M831.6,840.5h39M831.6,842h40.5M831.6,843.5h40.5M831.6,845h39M831.6,846.5h39M831.6,848h39M831.6,849.5h39M831.6,851h39M831.6,852.5h39M831.6,854h37.5M831.6,855.5h37.5M831.6,857h36M831.6,858.5h37.5M870.6,858.5h6M831.6,860h45M831.6,861.5h48M831.6,863h49.5M974.1,863h1.5M980.1,863h6M987.6,863h3M831.6,864.5h49.5M980.1,864.5h10.5M831.6,866h49.5M980.1,866h10.5M831.6,867.5h51M981.6,867.5h9M831.6,869h51M981.6,869h9M831.6,870.5h54M983.1,870.5h7.5M831.6,872h52.5M984.6,872h6M831.6,873.5h54M984.6,873.5h6M831.6,875h49.5M884.1,875h3M984.6,875h6M831.6,876.5h51M885.6,876.5h1.5M983.1,876.5h7.5M831.6,878h51M981.6,878h9" stroke="#a37cc6" stroke-width="1.6"/>
<path d="M831.6,720.5h30M899.1,720.5h3M906.6,720.5h84M831.6,722h30M906.6,722h84M831.6,723.5h30M906.6,723.5h84M831.6,725h30M908.1,725h82.5M831.6,726.5h30M911.1,726.5h79.5M831.6,728h30M915.6,728h75M831.6,729.5h28.5M917.1,729.5h73.5M831.6,731h25.5M917.1,731h73.5M831.6,732.5h24M917.1,732.5h1.5M923.1,732.5h6M933.6,732.5h9M947.1,732.5h43.5M831.6,734h22.5M923.1,734h4.5M953.1,734h37.5M831.6,735.5h22.5M953.1,735.5h37.5M831.6,737h21M953.1,737h3M957.6,737h33M831.6,738.5h3M836.1,738.5h16.5M959.1,738.5h31.5M831.6,740h19.5M960.6,740h30M831.6,741.5h6M839.1,741.5h10.5M960.6,741.5h30M833.1,743h10.5M846.6,743h1.5M962.1,743h28.5M834.6,744.5h7.5M962.1,744.5h28.5M834.6,746h4.5M963.6,746h27M833.1,747.5h4.5M965.1,747.5h25.5M834.6,749h1.5M959.1,749h1.5M968.1,749h22.5M959.1,750.5h1.5M971.1,750.5h19.5M977.1,752h13.5M977.1,753.5h13.5M978.6,755h12M980.1,756.5h10.5M980.1,758h10.5M980.1,759.5h10.5M984.6,761h6M986.1,762.5h4.5M987.6,764h3" stroke="#c3c438" stroke-width="1.6"/>
<rect x="831.6" y="719.7" width="158.3" height="158.3" fill="url(#spk)"/>
</g>
<rect x="831.6" y="719.7" width="158.3" height="158.3" fill="none" stroke="#555" stroke-width="1"/>
<rect x="831.6" y="719.7" width="38" height="12" fill="#fff"/>
<text x="831.9" y="730.9" font-family="'Liberation Mono', monospace" font-weight="bold" font-size="15.5" textLength="37.5" lengthAdjust="spacingAndGlyphs">2000</text>
<g clip-path="url(#sk)">
<rect x="1083" y="719.7" width="158.3" height="158.3" fill="#c3c438"/>
<path d="M1195.5,834.5h1.5M1194,836h3M1173,837.5h9M1171.5,839h9M1171.5,840.5h10.5M1189.5,840.5h3M1198.5,840.5h1.5M1170,842h15M1186.5,842h12M1171.5,843.5h27M1171.5,845h7.5M1180.5,845h19.5M1173,846.5h4.5M1180.5,846.5h19.5M1174.5,848h3M1180.5,848h19.5M1180.5,849.5h19.5M1180.5,851h19.5M1179,852.5h21M1177.5,854h21M1177.5,855.5h21M1179,857h19.5M1177.5,858.5h18M1177.5,860h18M1176,861.5h19.5M1174.5,863h22.5M1176,864.5h22.5M1180.5,866h19.5M1180.5,867.5h3M1185,867.5h15M1180.5,869h3M1185,869h13.5M1185,870.5h13.5M1188,872h10.5M1189.5,873.5h9M1191,875h7.5M1192.5,876.5h4.5M1194,878h1.5" stroke="#37c7d6" stroke-width="1.6"/>
<path d="M1162.5,851h1.5M1162.5,852.5h6M1162.5,854h6M1162.5,855.5h9M1174.5,855.5h3M1162.5,857h16.5M1162.5,858.5h15M1162.5,860h15M1162.5,861.5h13.5M1162.5,863h12M1162.5,864.5h13.5M1162.5,866h18M1162.5,867.5h18M1183.5,867.5h1.5M1200,867.5h3M1162.5,869h18M1183.5,869h1.5M1198.5,869h6M1162.5,870.5h22.5M1198.5,870.5h7.5M1162.5,872h25.5M1198.5,872h7.5M1162.5,873.5h27M1198.5,873.5h7.5M1162.5,875h28.5M1198.5,875h9M1162.5,876.5h30M1197,876.5h10.5M1162.5,878h31.5M1195.5,878h12" stroke="#ff8c26" stroke-width="1.6"/>
<path d="M1083,720.5h54M1083,722h54M1083,723.5h55.5M1083,725h55.5M1083,726.5h55.5M1083,728h54M1083,729.5h54M1083,731h54M1147.5,731h3M1083,732.5h54M1147.5,732.5h3M1083,734h60M1147.5,734h1.5M1083,735.5h63M1147.5,735.5h1.5M1083,737h67.5M1083,738.5h67.5M1083,740h67.5M1083,741.5h67.5M1083,743h67.5M1083,744.5h67.5M1083,746h69M1083,747.5h70.5M1083,749h70.5M1083,750.5h70.5M1083,752h72M1083,753.5h72M1083,755h73.5M1083,756.5h75M1083,758h75M1083,759.5h75M1083,761h75M1083,762.5h75M1083,764h75M1083,765.5h75M1083,767h75M1083,768.5h75M1083,770h75M1083,771.5h58.5M1144.5,771.5h7.5M1153.5,771.5h3M1083,773h54M1159.5,773h3M1083,774.5h51M1158,774.5h4.5M1083,776h51M1083,777.5h52.5M1086,779h49.5M1090.5,780.5h45M1092,782h43.5M1093.5,783.5h42M1093.5,785h43.5M1093.5,786.5h43.5M1092,788h46.5M1090.5,789.5h48M1087.5,791h52.5M1087.5,792.5h54M1089,794h54M1090.5,795.5h52.5M1090.5,797h52.5M1089,798.5h54M1210.5,803h1.5M1174.5,806h3M1204.5,806h4.5M1174.5,807.5h3M1203,807.5h6M1195.5,809h4.5M1182,810.5h7.5M1195.5,810.5h7.5M1179,812h1.5M1182,812h22.5M1179,813.5h25.5M1177.5,815h27M1176,816.5h28.5M1209,816.5h3M1176,818h28.5M1206,818h4.5M1212,818h3M1176,819.5h39M1219.5,819.5h3M1174.5,821h39M1216.5,821h6M1174.5,822.5h49.5M1168.5,824h57M1083,825.5h3M1089,825.5h3M1168.5,825.5h61.5M1083,827h7.5M1168.5,827h63M1240.5,827h1.5M1083,828.5h7.5M1168.5,828.5h64.5M1239,828.5h3M1083,830h7.5M1168.5,830h73.5M1083,831.5h7.5M1168.5,831.5h73.5M1083,833h10.5M1162.5,833h1.5M1165.5,833h76.5M1083,834.5h10.5M1162.5,834.5h33M1197,834.5h45M1083,836h10.5M1162.5,836h31.5M1197,836h45M1083,837.5h10.5M1162.5,837.5h10.5M1182,837.5h60M1083,839h10.5M1114.5,839h1.5M1162.5,839h9M1180.5,839h61.5M1083,840.5h12M1162.5,840.5h9M1182,840.5h7.5M1192.5,840.5h6M1200,840.5h42M1083,842h12M1116,842h1.5M1122,842h1.5M1162.5,842h7.5M1185,842h1.5M1198.5,842h43.5M1083,843.5h10.5M1114.5,843.5h10.5M1162.5,843.5h9M1198.5,843.5h43.5M1083,845h10.5M1095,845h3M1113,845h13.5M1162.5,845h9M1179,845h1.5M1200,845h42M1083,846.5h13.5M1113,846.5h13.5M1162.5,846.5h10.5M1177.5,846.5h3M1200,846.5h42M1083,848h4.5M1090.5,848h4.5M1113,848h1.5M1117.5,848h9M1162.5,848h12M1177.5,848h3M1200,848h42M1083,849.5h1.5M1090.5,849.5h4.5M1111.5,849.5h3M1119,849.5h7.5M1162.5,849.5h18M1200,849.5h42M1092,851h1.5M1110,851h4.5M1119,851h7.5M1164,851h16.5M1200,851h42M1110,852.5h6M1120.5,852.5h7.5M1168.5,852.5h10.5M1200,852.5h42M1113,854h4.5M1125,854h3M1168.5,854h9M1198.5,854h43.5M1125,855.5h3M1171.5,855.5h3M1198.5,855.5h43.5M1123.5,857h3M1198.5,857h43.5M1195.5,858.5h46.5M1195.5,860h46.5M1195.5,861.5h46.5M1197,863h45M1198.5,864.5h43.5M1200,866h42M1203,867.5h39M1204.5,869h37.5M1206,870.5h36M1206,872h36M1206,873.5h36M1207.5,875h34.5M1207.5,876.5h34.5M1207.5,878h34.5" stroke="#a37cc6" stroke-width="1.6"/>
<rect x="1083" y="719.7" width="158.3" height="158.3" fill="url(#spk)"/>
</g>
<path d="M1162.2,719.7v158.3M1083,798.9h158.3" stroke="#000" stroke-width="1.2"/>
<rect x="1083" y="719.7" width="158.3" height="158.3" fill="none" stroke="#555" stroke-width="1"/>
<rect x="1083" y="719.7" width="38" height="12" fill="#fff"/>
<text x="1083.3" y="730.9" font-family="'Liberation Mono', monospace" font-weight="bold" font-size="15.5" textLength="37.5" lengthAdjust="spacingAndGlyphs">2000</text>
<g clip-path="url(#sl)">
<rect x="1262" y="719.7" width="158.3" height="158.3" fill="#c3c438"/>
<path d="M1367,747.5h1.5M1367,749h4.5M1373,749h12M1367,750.5h19.5M1367,752h18M1367,753.5h15M1367,755h15M1367,756.5h15M1367,758h16.5M1367,759.5h21M1367,761h21M1367,762.5h21M1367,764h24M1394,764h3M1367,765.5h30M1367,767h28.5M1367,768.5h28.5M1367,770h28.5M1367,771.5h25.5M1262,773h16.5M1314.5,773h13.5M1355,773h24M1394,773h27M1262,774.5h16.5M1314.5,774.5h10.5M1355,774.5h19.5M1394,774.5h27M1262,776h16.5M1314.5,776h4.5M1353.5,776h22.5M1397,776h24M1262,777.5h16.5M1314.5,777.5h3M1352,777.5h25.5M1397,777.5h24M1262,779h16.5M1344.5,779h3M1350.5,779h27M1386.5,779h1.5M1397,779h24M1262,780.5h15M1344.5,780.5h33M1380.5,780.5h10.5M1398.5,780.5h22.5M1262,782h13.5M1341.5,782h36M1380.5,782h10.5M1392.5,782h1.5M1398.5,782h22.5M1262,783.5h13.5M1341.5,783.5h43.5M1386.5,783.5h7.5M1398.5,783.5h22.5M1262,785h10.5M1341.5,785h43.5M1386.5,785h7.5M1398.5,785h22.5M1262,786.5h10.5M1341.5,786.5h43.5M1398.5,786.5h22.5M1262,788h10.5M1341.5,788h48M1397,788h24M1262,789.5h10.5M1338.5,789.5h51M1395.5,789.5h25.5M1262,791h10.5M1338.5,791h82.5M1262,792.5h10.5M1338.5,792.5h82.5M1262,794h10.5M1338.5,794h48M1388,794h33M1262,795.5h10.5M1338.5,795.5h82.5M1262,797h12M1338.5,797h82.5M1262,798.5h10.5M1338.5,798.5h82.5M1262,800h9M1340,800h81M1262,801.5h9M1341.5,801.5h19.5M1362.5,801.5h58.5M1262,803h6M1344.5,803h9M1356.5,803h64.5M1262,804.5h6M1344.5,804.5h9M1356.5,804.5h9M1367,804.5h54M1262,806h6M1337,806h1.5M1344.5,806h7.5M1356.5,806h3M1362.5,806h1.5M1367,806h54M1262,807.5h6M1343,807.5h12M1356.5,807.5h1.5M1367,807.5h48M1262,809h7.5M1350.5,809h6M1359.5,809h1.5M1365.5,809h48M1262,810.5h7.5M1350.5,810.5h6M1358,810.5h3M1365.5,810.5h45M1262,812h7.5M1350.5,812h7.5M1365.5,812h45M1262,813.5h7.5M1353.5,813.5h3M1367,813.5h42M1262,815h9M1335.5,815h1.5M1364,815h45M1262,816.5h10.5M1364,816.5h46.5M1262,818h10.5M1367,818h43.5M1262,819.5h10.5M1367,819.5h43.5M1262,821h10.5M1367,821h45M1262,822.5h10.5M1367,822.5h31.5M1400,822.5h12M1262,824h10.5M1367,824h37.5M1407.5,824h3M1367,825.5h54M1367,827h54M1367,828.5h54M1367,830h54M1367,831.5h54M1367,833h54M1367,834.5h54M1367,836h54M1367,837.5h54M1367,839h54M1367,840.5h54M1367,842h54M1367,843.5h54M1367,845h54M1367,846.5h54M1367,848h54M1367,849.5h54M1367,851h54M1367,852.5h54M1367,854h54M1367,855.5h54M1367,857h54M1367,858.5h54M1367,860h54M1367,861.5h54M1367,863h54M1367,864.5h54M1367,866h54M1367,867.5h54M1367,869h54M1367,870.5h54M1367,872h54M1367,873.5h54M1367,875h54M1367,876.5h54M1367,878h54" stroke="#43aa43" stroke-width="1.6"/>
<path d="M1314.5,825.5h52.5M1314.5,827h52.5M1314.5,828.5h52.5M1314.5,830h52.5M1314.5,831.5h52.5M1314.5,833h52.5M1314.5,834.5h52.5M1314.5,836h52.5M1314.5,837.5h52.5M1314.5,839h52.5M1314.5,840.5h52.5M1314.5,842h52.5M1314.5,843.5h52.5M1314.5,845h52.5M1314.5,846.5h52.5M1314.5,848h52.5M1314.5,849.5h52.5M1314.5,851h52.5M1314.5,852.5h52.5M1314.5,854h52.5M1314.5,855.5h52.5M1314.5,857h52.5M1314.5,858.5h52.5M1314.5,860h52.5M1314.5,861.5h52.5M1314.5,863h52.5M1314.5,864.5h52.5M1314.5,866h52.5M1314.5,867.5h52.5M1314.5,869h52.5M1314.5,870.5h52.5M1314.5,872h52.5M1314.5,873.5h52.5M1314.5,875h52.5M1314.5,876.5h52.5M1314.5,878h52.5" stroke="#438dc0" stroke-width="1.6"/>
<path d="M1379,773h15M1374.5,774.5h19.5M1376,776h21M1377.5,777.5h19.5M1377.5,779h9M1388,779h9M1377.5,780.5h3M1391,780.5h7.5M1377.5,782h3M1391,782h1.5M1394,782h4.5M1385,783.5h1.5M1394,783.5h4.5M1385,785h1.5M1394,785h4.5M1385,786.5h13.5M1389.5,788h7.5M1389.5,789.5h6M1386.5,794h1.5M1415,807.5h6M1413.5,809h7.5M1410.5,810.5h10.5M1410.5,812h10.5M1409,813.5h12M1409,815h12M1410.5,816.5h10.5M1410.5,818h10.5M1410.5,819.5h10.5M1412,821h9M1398.5,822.5h1.5M1412,822.5h9M1404.5,824h3M1410.5,824h10.5" stroke="#db3f40" stroke-width="1.6"/>
<path d="M1314.5,720.5h52.5M1400,720.5h21M1314.5,722h52.5M1400,722h21M1314.5,723.5h52.5M1400,723.5h21M1314.5,725h52.5M1403,725h4.5M1409,725h12M1314.5,726.5h52.5M1412,726.5h9M1314.5,728h52.5M1412,728h9M1314.5,729.5h52.5M1412,729.5h9M1314.5,731h52.5M1409,731h12M1314.5,732.5h52.5M1409,732.5h6M1418,732.5h3M1314.5,734h52.5M1409,734h7.5M1418,734h3M1314.5,735.5h52.5M1409,735.5h12M1314.5,737h52.5M1410.5,737h7.5M1419.5,737h1.5M1314.5,738.5h52.5M1410.5,738.5h3M1314.5,740h52.5M1409,740h6M1419.5,740h1.5M1314.5,741.5h52.5M1406,741.5h9M1418,741.5h3M1314.5,743h52.5M1406,743h15M1314.5,744.5h52.5M1406,744.5h15M1314.5,746h52.5M1406,746h15M1314.5,747.5h52.5M1407.5,747.5h13.5M1314.5,749h52.5M1404.5,749h16.5M1314.5,750.5h52.5M1404.5,750.5h16.5M1314.5,752h52.5M1404.5,752h16.5M1314.5,753.5h52.5M1404.5,753.5h16.5M1314.5,755h52.5M1404.5,755h4.5M1410.5,755h4.5M1418,755h3M1314.5,756.5h52.5M1404.5,756.5h3M1419.5,756.5h1.5M1314.5,758h52.5M1314.5,759.5h52.5M1314.5,761h52.5M1314.5,762.5h52.5M1314.5,764h52.5M1314.5,765.5h52.5M1314.5,767h52.5M1314.5,768.5h52.5M1314.5,770h52.5M1314.5,771.5h52.5M1313,780.5h1.5M1311.5,782h3M1311.5,783.5h3M1302.5,785h4.5M1308.5,785h6M1302.5,786.5h12M1304,788h10.5M1302.5,789.5h12M1302.5,791h12M1302.5,792.5h12M1302.5,794h12M1298,795.5h16.5M1293.5,797h21M1289,798.5h25.5M1287.5,800h27M1284.5,801.5h30M1283,803h31.5M1283,804.5h31.5M1280,806h34.5M1280,807.5h34.5M1281.5,809h33M1281.5,810.5h33M1281.5,812h33M1283,813.5h31.5M1286,815h28.5M1287.5,816.5h27M1287.5,818h27M1286,819.5h28.5M1286,821h28.5M1286,822.5h28.5M1280,824h1.5M1286,824h28.5M1262,825.5h52.5M1262,827h52.5M1262,828.5h52.5M1262,830h52.5M1262,831.5h52.5M1262,833h52.5M1262,834.5h52.5M1262,836h52.5M1262,837.5h52.5M1262,839h52.5M1262,840.5h52.5M1262,842h52.5M1262,843.5h52.5M1262,845h52.5M1262,846.5h52.5M1262,848h52.5M1262,849.5h52.5M1262,851h52.5M1262,852.5h52.5M1262,854h52.5M1262,855.5h52.5M1262,857h52.5M1262,858.5h52.5M1262,860h52.5M1262,861.5h40.5M1305.5,861.5h9M1262,863h52.5M1262,864.5h37.5M1302.5,864.5h12M1262,866h31.5M1298,866h1.5M1304,866h10.5M1262,867.5h31.5M1304,867.5h7.5M1262,869h33M1262,870.5h30M1262,872h30M1262,873.5h28.5M1262,875h27M1262,876.5h25.5M1262,878h25.5" stroke="#a37cc6" stroke-width="1.6"/>
<rect x="1262" y="719.7" width="158.3" height="158.3" fill="url(#spk)"/>
</g>
<path d="M1314.8,719.7v158.3M1262,772.5h158.3M1367.5,719.7v158.3M1262,825.2h158.3" stroke="#000" stroke-width="1.2"/>
<rect x="1262" y="719.7" width="158.3" height="158.3" fill="none" stroke="#555" stroke-width="1"/>
<rect x="1262" y="719.7" width="38" height="12" fill="#fff"/>
<text x="1262.3" y="730.9" font-family="'Liberation Mono', monospace" font-weight="bold" font-size="15.5" textLength="37.5" lengthAdjust="spacingAndGlyphs">2000</text>
<g clip-path="url(#sm)">
<rect x="1453.3" y="719.7" width="158.3" height="158.3" fill="#db3f40"/>
<path d="M1492.3,759.5h40.5M1492.3,761h40.5M1492.3,762.5h40.5M1492.3,764h40.5M1492.3,765.5h40.5M1492.3,767h40.5M1492.3,768.5h40.5M1492.3,770h40.5M1492.3,771.5h40.5M1492.3,773h40.5M1492.3,774.5h40.5M1492.3,776h40.5M1492.3,777.5h40.5M1492.3,779h40.5M1492.3,780.5h40.5M1492.3,782h40.5M1492.3,783.5h40.5M1492.3,785h40.5M1492.3,786.5h40.5M1492.3,788h40.5M1583.8,788h1.5M1492.3,789.5h40.5M1492.3,791h40.5M1492.3,792.5h40.5M1592.8,792.5h3M1492.3,794h40.5M1580.8,794h1.5M1586.8,794h10.5M1492.3,795.5h40.5M1586.8,795.5h10.5M1492.3,797h40.5M1588.3,797h9M1492.3,798.5h40.5M1588.3,798.5h4.5M1594.3,798.5h1.5M1462.3,800h1.5M1466.8,800h15M1571.8,800h40.5M1466.8,801.5h13.5M1571.8,801.5h40.5M1463.8,803h15M1571.8,803h40.5M1460.8,804.5h16.5M1571.8,804.5h40.5M1462.3,806h13.5M1571.8,806h40.5M1462.3,807.5h12M1571.8,807.5h40.5M1462.3,809h13.5M1571.8,809h40.5M1462.3,810.5h12M1571.8,810.5h40.5M1462.3,812h12M1571.8,812h40.5M1462.3,813.5h12M1571.8,813.5h40.5M1460.8,815h10.5M1472.8,815h3M1571.8,815h40.5M1460.8,816.5h10.5M1472.8,816.5h4.5M1571.8,816.5h40.5M1462.3,818h13.5M1571.8,818h40.5M1462.3,819.5h12M1571.8,819.5h40.5M1463.8,821h9M1571.8,821h40.5M1463.8,822.5h7.5M1571.8,822.5h40.5M1463.8,824h4.5M1571.8,824h40.5M1463.8,825.5h4.5M1571.8,825.5h40.5M1571.8,827h40.5M1571.8,828.5h40.5M1571.8,830h40.5M1571.8,831.5h40.5M1571.8,833h40.5M1571.8,834.5h40.5M1571.8,836h40.5M1571.8,837.5h40.5" stroke="#43aa43" stroke-width="1.6"/>
<path d="M1453.3,720.5h39M1556.8,720.5h4.5M1453.3,722h39M1556.8,722h3M1453.3,723.5h39M1556.8,723.5h3M1453.3,725h39M1544.8,725h3M1555.3,725h3M1453.3,726.5h39M1546.3,726.5h1.5M1553.8,726.5h4.5M1453.3,728h39M1546.3,728h10.5M1453.3,729.5h39M1546.3,729.5h9M1453.3,731h39M1546.3,731h7.5M1453.3,732.5h39M1544.8,732.5h4.5M1453.3,734h39M1453.3,735.5h39M1453.3,737h39M1453.3,738.5h39M1453.3,740h39M1453.3,741.5h39M1453.3,743h39M1453.3,744.5h39M1453.3,746h39M1501.3,746h3M1453.3,747.5h39M1499.8,747.5h6M1510.3,747.5h7.5M1453.3,749h39M1495.3,749h22.5M1453.3,750.5h39M1495.3,750.5h21M1453.3,752h39M1495.3,752h22.5M1453.3,753.5h39M1495.3,753.5h24M1453.3,755h39M1495.3,755h22.5M1453.3,756.5h39M1495.3,756.5h22.5M1453.3,758h66M1492.3,855.5h1.5M1525.3,855.5h1.5M1492.3,857h1.5M1504.3,857h3M1513.3,857h1.5M1523.8,857h4.5M1493.8,858.5h1.5M1504.3,858.5h3M1513.3,858.5h16.5M1505.8,860h1.5M1513.3,860h16.5M1513.3,861.5h18M1492.3,863h1.5M1508.8,863h3M1516.3,863h15M1508.8,864.5h16.5M1526.8,864.5h3M1492.3,866h4.5M1499.8,866h4.5M1507.3,866h15M1526.8,866h3M1492.3,867.5h4.5M1499.8,867.5h4.5M1505.8,867.5h13.5M1523.8,867.5h4.5M1492.3,869h4.5M1499.8,869h4.5M1505.8,869h13.5M1523.8,869h3M1492.3,870.5h27M1492.3,872h27M1492.3,873.5h24M1492.3,875h24M1520.8,875h1.5M1492.3,876.5h24M1519.3,876.5h4.5M1492.3,878h30" stroke="#438dc0" stroke-width="1.6"/>
<path d="M1571.8,720.5h40.5M1571.8,722h40.5M1571.8,723.5h40.5M1571.8,725h40.5M1571.8,726.5h40.5M1571.8,728h40.5M1571.8,729.5h40.5M1571.8,731h40.5M1571.8,732.5h40.5M1571.8,734h40.5M1571.8,735.5h40.5M1571.8,737h40.5M1571.8,738.5h40.5M1571.8,740h40.5M1571.8,741.5h40.5M1571.8,743h40.5M1571.8,744.5h40.5M1571.8,746h40.5M1571.8,747.5h40.5M1571.8,749h40.5M1571.8,750.5h40.5M1571.8,752h40.5M1571.8,753.5h40.5M1571.8,755h40.5M1571.8,756.5h40.5M1571.8,758h40.5M1492.3,800h40.5M1492.3,801.5h40.5M1492.3,803h40.5M1492.3,804.5h40.5M1492.3,806h40.5M1492.3,807.5h40.5M1492.3,809h40.5M1492.3,810.5h40.5M1492.3,812h40.5M1492.3,813.5h40.5M1492.3,815h40.5M1492.3,816.5h40.5M1492.3,818h40.5M1492.3,819.5h40.5M1492.3,821h40.5M1492.3,822.5h40.5M1492.3,824h40.5M1492.3,825.5h40.5M1492.3,827h40.5M1492.3,828.5h40.5M1492.3,830h40.5M1492.3,831.5h40.5M1492.3,833h40.5M1492.3,834.5h40.5M1492.3,836h40.5M1492.3,837.5h40.5" stroke="#a37cc6" stroke-width="1.6"/>
<path d="M1453.3,759.5h39M1453.3,761h39M1453.3,762.5h39M1453.3,764h39M1453.3,765.5h39M1453.3,767h39M1453.3,768.5h39M1453.3,770h39M1453.3,771.5h39M1453.3,773h39M1453.3,774.5h39M1453.3,776h39M1453.3,777.5h39M1453.3,779h39M1453.3,780.5h39M1453.3,782h39M1453.3,783.5h39M1453.3,785h39M1453.3,786.5h39M1453.3,788h39M1453.3,789.5h39M1453.3,791h39M1453.3,792.5h39M1453.3,794h39M1453.3,795.5h39M1453.3,797h39M1453.3,798.5h39M1532.8,800h39M1532.8,801.5h39M1532.8,803h39M1532.8,804.5h39M1532.8,806h39M1532.8,807.5h39M1532.8,809h39M1532.8,810.5h39M1532.8,812h39M1532.8,813.5h39M1532.8,815h39M1532.8,816.5h39M1532.8,818h39M1532.8,819.5h39M1532.8,821h39M1532.8,822.5h39M1532.8,824h39M1532.8,825.5h39M1532.8,827h39M1532.8,828.5h39M1532.8,830h39M1532.8,831.5h39M1532.8,833h39M1532.8,834.5h39M1532.8,836h39M1532.8,837.5h39M1571.8,839h40.5M1571.8,840.5h40.5M1571.8,842h40.5M1571.8,843.5h40.5M1571.8,845h40.5M1571.8,846.5h40.5M1571.8,848h40.5M1571.8,849.5h40.5M1571.8,851h40.5M1571.8,852.5h40.5M1571.8,854h40.5M1571.8,855.5h40.5M1571.8,857h40.5M1571.8,858.5h40.5M1571.8,860h40.5M1571.8,861.5h40.5M1571.8,863h40.5M1571.8,864.5h40.5M1571.8,866h40.5M1571.8,867.5h40.5M1571.8,869h40.5M1571.8,870.5h40.5M1571.8,872h40.5M1571.8,873.5h40.5M1571.8,875h40.5M1571.8,876.5h40.5M1571.8,878h40.5" stroke="#c3c438" stroke-width="1.6"/>
<rect x="1453.3" y="719.7" width="158.3" height="158.3" fill="url(#spk)"/>
</g>
<path d="M1492.9,719.7v158.3M1453.3,759.3h158.3M1532.5,719.7v158.3M1453.3,798.9h158.3M1572,719.7v158.3M1453.3,838.4h158.3" stroke="#000" stroke-width="1.2"/>
<rect x="1453.3" y="719.7" width="158.3" height="158.3" fill="none" stroke="#555" stroke-width="1"/>
<rect x="1453.3" y="719.7" width="38" height="12" fill="#fff"/>
<text x="1453.6" y="730.9" font-family="'Liberation Mono', monospace" font-weight="bold" font-size="15.5" textLength="37.5" lengthAdjust="spacingAndGlyphs">2000</text>
<g clip-path="url(#sn)">
<rect x="1636.8" y="719.7" width="158.3" height="158.3" fill="#db3f40"/>
<path d="M1648.8,720.5h19.5M1648.8,722h19.5M1650.3,723.5h18M1656.3,725h12M1647.3,726.5h1.5M1657.8,726.5h10.5M1644.3,728h6M1656.3,728h12M1642.8,729.5h7.5M1654.8,729.5h13.5M1645.8,731h1.5M1651.8,731h16.5M1693.8,731h1.5M1651.8,732.5h16.5M1690.8,732.5h9M1651.8,734h16.5M1690.8,734h9M1650.3,735.5h18M1692.3,735.5h7.5M1648.8,737h19.5M1692.3,737h7.5M1636.8,738.5h1.5M1648.8,738.5h19.5M1692.3,738.5h7.5M1636.8,740h3M1647.3,740h21M1693.8,740h6M1636.8,741.5h6M1647.3,741.5h21M1636.8,743h31.5M1636.8,744.5h31.5M1636.8,746h31.5M1636.8,747.5h31.5M1636.8,749h31.5M1636.8,750.5h31.5M1762.8,752h33M1762.8,753.5h33M1762.8,755h33M1762.8,756.5h33M1762.8,758h33M1762.8,759.5h33M1762.8,761h33M1762.8,762.5h33M1762.8,764h33M1762.8,765.5h33M1762.8,767h33M1762.8,768.5h33M1762.8,770h33M1762.8,771.5h33M1762.8,773h33M1762.8,774.5h33M1762.8,776h33M1762.8,777.5h33M1762.8,779h33M1762.8,780.5h33M1762.8,782h33M1636.8,783.5h31.5M1762.8,783.5h33M1636.8,785h31.5M1762.8,785h33M1636.8,786.5h31.5M1762.8,786.5h33M1636.8,788h31.5M1762.8,788h33M1636.8,789.5h31.5M1762.8,789.5h33M1636.8,791h31.5M1762.8,791h33M1636.8,792.5h31.5M1762.8,792.5h33M1636.8,794h31.5M1762.8,794h33M1636.8,795.5h31.5M1762.8,795.5h33M1636.8,797h31.5M1762.8,797h33M1636.8,798.5h31.5M1762.8,798.5h33M1636.8,800h31.5M1762.8,800h33M1636.8,801.5h31.5M1762.8,801.5h33M1636.8,803h31.5M1762.8,803h33M1636.8,804.5h31.5M1762.8,804.5h33M1636.8,806h31.5M1762.8,806h33M1636.8,807.5h31.5M1762.8,807.5h33M1636.8,809h31.5M1762.8,809h33M1636.8,810.5h31.5M1762.8,810.5h33M1636.8,812h31.5M1762.8,812h33M1636.8,813.5h31.5M1762.8,813.5h33M1668.3,846.5h31.5M1762.8,846.5h33M1668.3,848h31.5M1762.8,848h33M1668.3,849.5h31.5M1762.8,849.5h33M1668.3,851h31.5M1762.8,851h33M1668.3,852.5h31.5M1762.8,852.5h33M1668.3,854h31.5M1762.8,854h33M1668.3,855.5h31.5M1762.8,855.5h33M1668.3,857h31.5M1762.8,857h33M1668.3,858.5h31.5M1762.8,858.5h33M1668.3,860h31.5M1762.8,860h33M1668.3,861.5h31.5M1762.8,861.5h33M1668.3,863h31.5M1762.8,863h33M1668.3,864.5h31.5M1762.8,864.5h33M1668.3,866h31.5M1762.8,866h33M1668.3,867.5h31.5M1762.8,867.5h33M1668.3,869h31.5M1762.8,869h33M1668.3,870.5h31.5M1762.8,870.5h33M1668.3,872h31.5M1762.8,872h33M1668.3,873.5h31.5M1762.8,873.5h33M1668.3,875h31.5M1762.8,875h33M1668.3,876.5h31.5M1762.8,876.5h33M1668.3,878h31.5M1762.8,878h33" stroke="#43aa43" stroke-width="1.6"/>
<path d="M1668.3,783.5h31.5M1668.3,785h31.5M1668.3,786.5h31.5M1668.3,788h31.5M1668.3,789.5h31.5M1668.3,791h31.5M1668.3,792.5h31.5M1668.3,794h31.5M1668.3,795.5h31.5M1668.3,797h31.5M1668.3,798.5h31.5M1668.3,800h31.5M1668.3,801.5h31.5M1668.3,803h31.5M1668.3,804.5h31.5M1668.3,806h31.5M1668.3,807.5h31.5M1668.3,809h31.5M1668.3,810.5h31.5M1668.3,812h31.5M1668.3,813.5h31.5M1699.8,815h63M1699.8,816.5h63M1699.8,818h63M1699.8,819.5h63M1699.8,821h63M1699.8,822.5h63M1699.8,824h63M1699.8,825.5h63M1699.8,827h63M1699.8,828.5h63M1699.8,830h63M1699.8,831.5h63M1699.8,833h63M1699.8,834.5h63M1699.8,836h63M1699.8,837.5h63M1699.8,839h63M1699.8,840.5h63M1699.8,842h63M1699.8,843.5h63M1699.8,845h63M1636.8,846.5h31.5M1699.8,846.5h63M1636.8,848h31.5M1699.8,848h63M1636.8,849.5h31.5M1699.8,849.5h63M1636.8,851h31.5M1699.8,851h63M1636.8,852.5h31.5M1699.8,852.5h63M1636.8,854h31.5M1699.8,854h63M1636.8,855.5h31.5M1699.8,855.5h63M1636.8,857h31.5M1699.8,857h63M1636.8,858.5h31.5M1699.8,858.5h63M1636.8,860h31.5M1699.8,860h63M1636.8,861.5h31.5M1699.8,861.5h63M1636.8,863h31.5M1699.8,863h63M1636.8,864.5h31.5M1699.8,864.5h63M1636.8,866h31.5M1699.8,866h63M1636.8,867.5h31.5M1699.8,867.5h63M1636.8,869h31.5M1699.8,869h63M1636.8,870.5h31.5M1699.8,870.5h63M1636.8,872h31.5M1699.8,872h63M1636.8,873.5h31.5M1699.8,873.5h63M1636.8,875h31.5M1699.8,875h63M1636.8,876.5h31.5M1699.8,876.5h63M1636.8,878h31.5M1699.8,878h63" stroke="#438dc0" stroke-width="1.6"/>
<path d="M1699.8,720.5h31.5M1699.8,722h31.5M1699.8,723.5h31.5M1699.8,725h31.5M1699.8,726.5h9M1711.8,726.5h19.5M1699.8,728h3M1704.3,728h4.5M1713.3,728h18M1699.8,729.5h1.5M1707.3,729.5h3M1714.8,729.5h16.5M1714.8,731h16.5M1714.8,732.5h16.5M1714.8,734h16.5M1714.8,735.5h16.5M1711.8,737h19.5M1710.3,738.5h4.5M1716.3,738.5h15M1710.3,740h21M1710.3,741.5h21M1711.8,743h19.5M1710.3,744.5h21M1710.3,746h21M1710.3,747.5h21M1710.3,749h21M1710.3,750.5h21" stroke="#ff8c26" stroke-width="1.6"/>
<path d="M1708.8,726.5h3M1702.8,728h1.5M1708.8,728h4.5M1701.3,729.5h6M1710.3,729.5h4.5M1699.8,731h15M1699.8,732.5h15M1699.8,734h15M1699.8,735.5h15M1699.8,737h12M1699.8,738.5h10.5M1714.8,738.5h1.5M1699.8,740h10.5M1699.8,741.5h10.5M1699.8,743h12M1699.8,744.5h10.5M1699.8,746h10.5M1699.8,747.5h10.5M1699.8,749h10.5M1699.8,750.5h10.5M1699.8,771.5h1.5M1699.8,773h1.5M1704.3,773h1.5M1699.8,774.5h7.5M1699.8,776h7.5M1699.8,777.5h6M1699.8,779h7.5M1699.8,780.5h7.5M1699.8,782h9M1731.3,783.5h31.5M1731.3,785h31.5M1731.3,786.5h31.5M1731.3,788h31.5M1731.3,789.5h31.5M1731.3,791h31.5M1731.3,792.5h31.5M1731.3,794h31.5M1731.3,795.5h31.5M1731.3,797h31.5M1731.3,798.5h31.5M1731.3,800h31.5M1731.3,801.5h31.5M1731.3,803h31.5M1731.3,804.5h31.5M1731.3,806h31.5M1731.3,807.5h31.5M1731.3,809h31.5M1731.3,810.5h31.5M1731.3,812h31.5M1731.3,813.5h31.5M1680.3,815h12M1680.3,816.5h7.5M1689.3,816.5h3M1680.3,818h9M1678.8,819.5h10.5M1678.8,821h10.5M1668.3,822.5h1.5M1681.8,822.5h7.5M1668.3,824h1.5M1671.3,824h6M1681.8,824h7.5M1695.3,824h1.5M1668.3,825.5h10.5M1680.3,825.5h12M1693.8,825.5h6M1668.3,827h25.5M1696.8,827h3M1668.3,828.5h31.5M1668.3,830h31.5M1668.3,831.5h31.5M1668.3,833h4.5M1677.3,833h22.5M1668.3,834.5h1.5M1677.3,834.5h22.5M1678.8,836h21M1678.8,837.5h21M1675.8,839h24M1677.3,840.5h22.5M1677.3,842h22.5M1675.8,843.5h24M1674.3,845h25.5" stroke="#a37cc6" stroke-width="1.6"/>
<path d="M1636.8,720.5h12M1636.8,722h12M1636.8,723.5h13.5M1636.8,725h19.5M1636.8,726.5h10.5M1648.8,726.5h9M1636.8,728h7.5M1650.3,728h6M1636.8,729.5h6M1650.3,729.5h4.5M1636.8,731h9M1647.3,731h4.5M1636.8,732.5h15M1636.8,734h15M1636.8,735.5h13.5M1636.8,737h12M1638.3,738.5h10.5M1639.8,740h7.5M1642.8,741.5h4.5M1636.8,752h31.5M1699.8,752h63M1636.8,753.5h31.5M1699.8,753.5h63M1636.8,755h31.5M1699.8,755h63M1636.8,756.5h31.5M1699.8,756.5h63M1636.8,758h31.5M1699.8,758h63M1636.8,759.5h31.5M1699.8,759.5h63M1636.8,761h31.5M1699.8,761h63M1636.8,762.5h31.5M1699.8,762.5h63M1636.8,764h31.5M1699.8,764h63M1636.8,765.5h31.5M1699.8,765.5h63M1636.8,767h31.5M1699.8,767h63M1636.8,768.5h31.5M1699.8,768.5h63M1636.8,770h31.5M1699.8,770h63M1636.8,771.5h31.5M1701.3,771.5h61.5M1636.8,773h31.5M1701.3,773h3M1705.8,773h57M1636.8,774.5h31.5M1707.3,774.5h55.5M1636.8,776h31.5M1707.3,776h55.5M1636.8,777.5h31.5M1705.8,777.5h57M1636.8,779h31.5M1707.3,779h55.5M1636.8,780.5h31.5M1707.3,780.5h55.5M1636.8,782h31.5M1708.8,782h54M1668.3,815h12M1692.3,815h7.5M1668.3,816.5h12M1687.8,816.5h1.5M1692.3,816.5h7.5M1668.3,818h12M1689.3,818h10.5M1668.3,819.5h10.5M1689.3,819.5h10.5M1668.3,821h10.5M1689.3,821h10.5M1669.8,822.5h12M1689.3,822.5h10.5M1669.8,824h1.5M1677.3,824h4.5M1689.3,824h6M1696.8,824h3M1678.8,825.5h1.5M1692.3,825.5h1.5M1693.8,827h3M1672.8,833h4.5M1669.8,834.5h7.5M1668.3,836h10.5M1668.3,837.5h10.5M1668.3,839h7.5M1668.3,840.5h9M1668.3,842h9M1668.3,843.5h7.5M1668.3,845h6" stroke="#c3c438" stroke-width="1.6"/>
<rect x="1636.8" y="719.7" width="158.3" height="158.3" fill="url(#spk)"/>
</g>
<path d="M1668.5,719.7v158.3M1636.8,751.4h158.3M1700.1,719.7v158.3M1636.8,783h158.3M1731.8,719.7v158.3M1636.8,814.7h158.3M1763.4,719.7v158.3M1636.8,846.3h158.3" stroke="#000" stroke-width="1.2"/>
<rect x="1636.8" y="719.7" width="158.3" height="158.3" fill="none" stroke="#555" stroke-width="1"/>
<rect x="1636.8" y="719.7" width="38" height="12" fill="#fff"/>
<text x="1637.1" y="730.9" font-family="'Liberation Mono', monospace" font-weight="bold" font-size="15.5" textLength="37.5" lengthAdjust="spacingAndGlyphs">2000</text>
<g clip-path="url(#so)">
<rect x="1814.1" y="719.7" width="158.3" height="158.3" fill="#db3f40"/>
<path d="M1866.6,720.5h16.5M1893.6,720.5h4.5M1866.6,722h16.5M1893.6,722h6M1866.6,723.5h10.5M1893.6,723.5h6M1866.6,725h10.5M1893.6,725h7.5M1866.6,726.5h10.5M1893.6,726.5h9M1866.6,728h10.5M1893.6,728h12M1866.6,729.5h10.5M1893.6,729.5h12M1866.6,731h12M1893.6,731h12M1866.6,732.5h12M1893.6,732.5h13.5M1866.6,734h10.5M1893.6,734h15M1866.6,735.5h9M1893.6,735.5h16.5M1866.6,737h7.5M1893.6,737h16.5M1866.6,738.5h7.5M1893.6,738.5h15M1866.6,740h9M1893.6,740h15M1866.6,741.5h15M1893.6,741.5h15M1866.6,743h16.5M1893.6,743h16.5M1866.6,744.5h18M1893.6,744.5h15M1866.6,746h18M1893.6,746h15M1866.6,747.5h27M1901.1,747.5h18M1866.6,749h27M1901.1,749h18M1866.6,750.5h27M1902.6,750.5h16.5M1866.6,752h27M1902.6,752h16.5M1863.6,753.5h30M1902.6,753.5h16.5M1862.1,755h31.5M1905.6,755h13.5M1859.1,756.5h34.5M1910.1,756.5h9M1860.6,758h33M1910.1,758h9M1860.6,759.5h33M1910.1,759.5h9M1860.6,761h33M1911.6,761h7.5M1857.6,762.5h36M1905.6,762.5h1.5M1911.6,762.5h7.5M1857.6,764h36M1904.1,764h1.5M1908.6,764h10.5M1857.6,765.5h36M1902.6,765.5h16.5M1848.6,767h45M1904.1,767h15M1848.6,768.5h45M1904.1,768.5h15M1850.1,770h43.5M1904.1,770h15M1853.1,771.5h40.5M1902.6,771.5h16.5M1841.1,773h4.5M1847.1,773h6M1893.6,773h9M1841.1,774.5h4.5M1848.6,774.5h4.5M1893.6,774.5h9M1841.1,776h4.5M1850.1,776h3M1893.6,776h10.5M1841.1,777.5h4.5M1893.6,777.5h9M1841.1,779h4.5M1893.6,779h7.5M1841.1,780.5h6M1893.6,780.5h6M1841.1,782h7.5M1893.6,782h4.5M1841.1,783.5h7.5M1893.6,783.5h1.5M1841.1,785h9M1917.6,785h1.5M1841.1,786.5h9M1914.6,786.5h4.5M1841.1,788h7.5M1913.1,788h6M1841.1,789.5h6M1913.1,789.5h6M1841.1,791h6M1913.1,791h6M1841.1,792.5h4.5M1913.1,792.5h6M1905.6,794h13.5M1905.6,795.5h13.5M1908.6,797h10.5M1908.6,798.5h10.5M1893.6,800h52.5M1893.6,801.5h52.5M1893.6,803h52.5M1893.6,804.5h52.5M1893.6,806h52.5M1893.6,807.5h52.5M1893.6,809h52.5M1893.6,810.5h52.5M1893.6,812h52.5M1893.6,813.5h52.5M1893.6,815h52.5M1893.6,816.5h52.5M1893.6,818h52.5M1893.6,819.5h52.5M1893.6,821h52.5M1893.6,822.5h52.5M1893.6,824h52.5M1841.1,825.5h25.5M1893.6,825.5h33M1937.1,825.5h9M1841.1,827h25.5M1893.6,827h33M1937.1,827h9M1841.1,828.5h25.5M1893.6,828.5h33M1937.1,828.5h9M1841.1,830h25.5M1893.6,830h33M1937.1,830h9M1841.1,831.5h25.5M1893.6,831.5h33M1937.1,831.5h9M1841.1,833h25.5M1893.6,833h33M1938.6,833h7.5M1841.1,834.5h25.5M1893.6,834.5h34.5M1938.6,834.5h7.5M1841.1,836h25.5M1893.6,836h36M1937.1,836h9M1841.1,837.5h25.5M1893.6,837.5h36M1937.1,837.5h9M1841.1,839h25.5M1893.6,839h36M1935.6,839h10.5M1841.1,840.5h25.5M1893.6,840.5h36M1935.6,840.5h10.5M1841.1,842h25.5M1893.6,842h37.5M1934.1,842h12M1841.1,843.5h25.5M1893.6,843.5h31.5M1926.6,843.5h19.5M1841.1,845h25.5M1893.6,845h30M1932.6,845h13.5M1841.1,846.5h25.5M1893.6,846.5h27M1932.6,846.5h13.5M1841.1,848h25.5M1893.6,848h25.5M1931.1,848h15M1841.1,849.5h25.5M1893.6,849.5h25.5M1932.6,849.5h13.5M1841.1,851h25.5M1893.6,851h25.5M1932.6,851h13.5M1913.1,852.5h6M1946.1,852.5h27M1913.1,854h6M1946.1,854h27M1902.6,855.5h3M1911.6,855.5h7.5M1946.1,855.5h27M1896.6,857h1.5M1904.1,857h15M1946.1,857h27M1893.6,858.5h3M1899.6,858.5h19.5M1946.1,858.5h27M1893.6,860h3M1899.6,860h19.5M1946.1,860h27M1901.1,861.5h18M1946.1,861.5h27M1902.6,863h16.5M1946.1,863h27M1901.1,864.5h18M1946.1,864.5h27M1893.6,866h3M1899.6,866h19.5M1946.1,866h27M1893.6,867.5h25.5M1946.1,867.5h27M1893.6,869h25.5M1946.1,869h27M1893.6,870.5h25.5M1946.1,870.5h27M1893.6,872h25.5M1946.1,872h27M1893.6,873.5h25.5M1946.1,873.5h27M1893.6,875h25.5M1946.1,875h27M1893.6,876.5h25.5M1946.1,876.5h27M1893.6,878h25.5M1946.1,878h27" stroke="#43aa43" stroke-width="1.6"/>
<path d="M1814.1,720.5h27M1919.1,720.5h27M1814.1,722h27M1919.1,722h27M1814.1,723.5h27M1919.1,723.5h27M1814.1,725h27M1919.1,725h27M1814.1,726.5h27M1919.1,726.5h27M1814.1,728h27M1919.1,728h27M1814.1,729.5h27M1919.1,729.5h27M1814.1,731h27M1919.1,731h27M1814.1,732.5h27M1919.1,732.5h27M1814.1,734h27M1919.1,734h27M1814.1,735.5h27M1919.1,735.5h27M1814.1,737h27M1919.1,737h27M1814.1,738.5h27M1919.1,738.5h27M1814.1,740h27M1919.1,740h27M1814.1,741.5h27M1919.1,741.5h27M1814.1,743h27M1919.1,743h27M1814.1,744.5h27M1919.1,744.5h27M1814.1,746h27M1919.1,746h27M1814.1,747.5h27M1919.1,747.5h27M1814.1,749h27M1919.1,749h27M1814.1,750.5h27M1919.1,750.5h27M1814.1,752h27M1919.1,752h27M1814.1,753.5h27M1919.1,753.5h27M1814.1,755h27M1919.1,755h27M1814.1,756.5h27M1919.1,756.5h27M1814.1,758h27M1919.1,758h27M1814.1,759.5h27M1919.1,759.5h27M1814.1,761h27M1919.1,761h27M1814.1,762.5h27M1919.1,762.5h27M1814.1,764h27M1919.1,764h27M1814.1,765.5h27M1919.1,765.5h27M1814.1,767h27M1919.1,767h27M1814.1,768.5h27M1919.1,768.5h27M1814.1,770h27M1919.1,770h27M1814.1,771.5h27M1919.1,771.5h27M1814.1,773h27M1866.6,773h27M1814.1,774.5h27M1866.6,774.5h27M1814.1,776h27M1866.6,776h27M1814.1,777.5h27M1866.6,777.5h9M1877.1,777.5h16.5M1814.1,779h27M1866.6,779h9M1880.1,779h13.5M1814.1,780.5h27M1866.6,780.5h9M1881.6,780.5h12M1814.1,782h27M1866.6,782h6M1883.1,782h1.5M1887.6,782h6M1814.1,783.5h27M1866.6,783.5h6M1881.6,783.5h3M1886.1,783.5h7.5M1814.1,785h27M1866.6,785h6M1877.1,785h6M1884.6,785h9M1814.1,786.5h27M1866.6,786.5h16.5M1887.6,786.5h6M1814.1,788h27M1866.6,788h18M1887.6,788h6M1814.1,789.5h27M1866.6,789.5h19.5M1887.6,789.5h6M1814.1,791h27M1866.6,791h27M1814.1,792.5h27M1866.6,792.5h27M1814.1,794h27M1866.6,794h27M1814.1,795.5h27M1866.6,795.5h27M1814.1,797h27M1866.6,797h27M1814.1,798.5h27M1866.6,798.5h27M1814.1,800h27M1866.6,800h27M1814.1,801.5h27M1866.6,801.5h27M1814.1,803h27M1866.6,803h27M1814.1,804.5h27M1866.6,804.5h27M1814.1,806h27M1866.6,806h27M1814.1,807.5h27M1866.6,807.5h27M1814.1,809h27M1866.6,809h27M1814.1,810.5h27M1866.6,810.5h27M1814.1,812h27M1866.6,812h27M1814.1,813.5h27M1866.6,813.5h27M1814.1,815h27M1866.6,815h27M1814.1,816.5h27M1866.6,816.5h27M1814.1,818h27M1866.6,818h27M1814.1,819.5h27M1866.6,819.5h27M1814.1,821h27M1866.6,821h27M1814.1,822.5h27M1866.6,822.5h27M1814.1,824h27M1866.6,824h27M1866.6,825.5h27M1866.6,827h21M1890.6,827h3M1866.6,828.5h19.5M1890.6,828.5h3M1866.6,830h18M1889.1,830h4.5M1866.6,831.5h18M1889.1,831.5h4.5M1866.6,833h18M1890.6,833h3M1866.6,834.5h9M1877.1,834.5h3M1866.6,836h7.5M1866.6,837.5h7.5M1866.6,839h6M1866.6,840.5h7.5M1884.6,840.5h3M1866.6,842h7.5M1884.6,842h3M1892.1,842h1.5M1866.6,843.5h9M1887.6,843.5h6M1866.6,845h12M1887.6,845h6M1866.6,846.5h12M1887.6,846.5h6M1866.6,848h12M1887.6,848h6M1866.6,849.5h12M1886.1,849.5h7.5M1866.6,851h12M1886.1,851h7.5M1866.6,852.5h27M1919.1,852.5h27M1866.6,854h27M1919.1,854h27M1866.6,855.5h27M1919.1,855.5h27M1866.6,857h27M1919.1,857h27M1866.6,858.5h27M1919.1,858.5h27M1866.6,860h27M1919.1,860h27M1866.6,861.5h27M1919.1,861.5h27M1866.6,863h27M1919.1,863h27M1866.6,864.5h27M1919.1,864.5h27M1866.6,866h27M1919.1,866h27M1866.6,867.5h27M1919.1,867.5h27M1866.6,869h27M1919.1,869h27M1866.6,870.5h27M1919.1,870.5h27M1866.6,872h27M1919.1,872h27M1866.6,873.5h27M1919.1,873.5h27M1866.6,875h27M1919.1,875h27M1866.6,876.5h27M1919.1,876.5h27M1866.6,878h27M1919.1,878h27" stroke="#438dc0" stroke-width="1.6"/>
<path d="M1883.1,720.5h10.5M1883.1,722h10.5M1877.1,723.5h16.5M1877.1,725h16.5M1877.1,726.5h16.5M1877.1,728h16.5M1877.1,729.5h16.5M1878.6,731h15M1878.6,732.5h15M1877.1,734h16.5M1875.6,735.5h18M1874.1,737h19.5M1874.1,738.5h19.5M1875.6,740h18M1881.6,741.5h12M1883.1,743h10.5M1884.6,744.5h9M1884.6,746h9M1902.6,773h16.5M1902.6,774.5h16.5M1904.1,776h15M1902.6,777.5h16.5M1901.1,779h18M1899.6,780.5h19.5M1898.1,782h21M1895.1,783.5h24M1893.6,785h24M1893.6,786.5h21M1893.6,788h19.5M1893.6,789.5h19.5M1893.6,791h19.5M1893.6,792.5h19.5M1893.6,794h12M1893.6,795.5h12M1893.6,797h15M1893.6,798.5h15M1926.6,825.5h10.5M1926.6,827h10.5M1926.6,828.5h10.5M1926.6,830h10.5M1926.6,831.5h10.5M1926.6,833h12M1928.1,834.5h10.5M1929.6,836h7.5M1929.6,837.5h7.5M1929.6,839h6M1929.6,840.5h6M1931.1,842h3M1893.6,852.5h19.5M1893.6,854h19.5M1893.6,855.5h9M1905.6,855.5h6M1893.6,857h3M1898.1,857h6M1896.6,858.5h3M1896.6,860h3M1893.6,861.5h7.5M1893.6,863h9M1893.6,864.5h7.5M1896.6,866h3" stroke="#c3c438" stroke-width="1.6"/>
<rect x="1814.1" y="719.7" width="158.3" height="158.3" fill="url(#spk)"/>
</g>
<path d="M1840.5,719.7v158.3M1814.1,746.1h158.3M1866.9,719.7v158.3M1814.1,772.5h158.3M1893.2,719.7v158.3M1814.1,798.9h158.3M1919.6,719.7v158.3M1814.1,825.2h158.3M1946,719.7v158.3M1814.1,851.6h158.3" stroke="#000" stroke-width="1.2"/>
<rect x="1814.1" y="719.7" width="158.3" height="158.3" fill="none" stroke="#555" stroke-width="1"/>
<rect x="1814.1" y="719.7" width="38" height="12" fill="#fff"/>
<text x="1814.4" y="730.9" font-family="'Liberation Mono', monospace" font-weight="bold" font-size="15.5" textLength="37.5" lengthAdjust="spacingAndGlyphs">2000</text>
<text x="868.6" y="908.6" font-size="19.6" font-weight="bold" font-style="italic" textLength="73.5" lengthAdjust="spacingAndGlyphs" stroke="#000" stroke-width="0.45">1 region</text>
<text x="850.4" y="931" font-size="19.6" font-weight="bold" font-style="italic" textLength="110" lengthAdjust="spacingAndGlyphs" stroke="#000" stroke-width="0.45">time = 2000</text>
<text x="1102" y="908.8" font-size="19.6" font-weight="bold" font-style="italic" textLength="105" lengthAdjust="spacingAndGlyphs" stroke="#000" stroke-width="0.45">2x2 regions</text>
<text x="1099.5" y="931" font-size="19.6" font-weight="bold" font-style="italic" textLength="110" lengthAdjust="spacingAndGlyphs" stroke="#000" stroke-width="0.45">time = 2000</text>
<text x="1285.2" y="908.8" font-size="19.6" font-weight="bold" font-style="italic" textLength="105" lengthAdjust="spacingAndGlyphs" stroke="#000" stroke-width="0.45">3x3 regions</text>
<text x="1282.7" y="930.5" font-size="19.6" font-weight="bold" font-style="italic" textLength="110" lengthAdjust="spacingAndGlyphs" stroke="#000" stroke-width="0.45">time = 2000</text>
<text x="1478" y="908.8" font-size="19.6" font-weight="bold" font-style="italic" textLength="105" lengthAdjust="spacingAndGlyphs" stroke="#000" stroke-width="0.45">4x4 regions</text>
<text x="1475.5" y="930.5" font-size="19.6" font-weight="bold" font-style="italic" textLength="110" lengthAdjust="spacingAndGlyphs" stroke="#000" stroke-width="0.45">time = 2000</text>
<text x="1658.8" y="908.8" font-size="19.6" font-weight="bold" font-style="italic" textLength="105" lengthAdjust="spacingAndGlyphs" stroke="#000" stroke-width="0.45">5x5 regions</text>
<text x="1656.3" y="930.5" font-size="19.6" font-weight="bold" font-style="italic" textLength="110" lengthAdjust="spacingAndGlyphs" stroke="#000" stroke-width="0.45">time = 2000</text>
<text x="1836" y="908.8" font-size="19.6" font-weight="bold" font-style="italic" textLength="105" lengthAdjust="spacingAndGlyphs" stroke="#000" stroke-width="0.45">6x6 regions</text>
<text x="1833.5" y="930.5" font-size="19.6" font-weight="bold" font-style="italic" textLength="110" lengthAdjust="spacingAndGlyphs" stroke="#000" stroke-width="0.45">time = 2000</text>
<path d="M831,701.4l12,-6.5v4.65H977.7v-4.65L989.7,701.4l-12,6.5v-4.65H843v4.65Z" fill="#000"/>
<path d="M1007.2,719.7l6.5,12h-4.65V866.4h4.65L1007.2,878.4l-6.5,-12h4.65V731.7h-4.65Z" fill="#000"/>
<text x="870.8" y="691.7" font-size="19.6" font-weight="bold" font-style="italic" textLength="79.8" lengthAdjust="spacingAndGlyphs" stroke="#000" stroke-width="0.45">500 cells</text>
<text transform="translate(1017.5,758) rotate(90)" font-size="19.6" font-weight="bold" font-style="italic" stroke="#000" stroke-width="0.45" textLength="79.7" lengthAdjust="spacingAndGlyphs">500 cells</text>
</svg>
</body></html>
